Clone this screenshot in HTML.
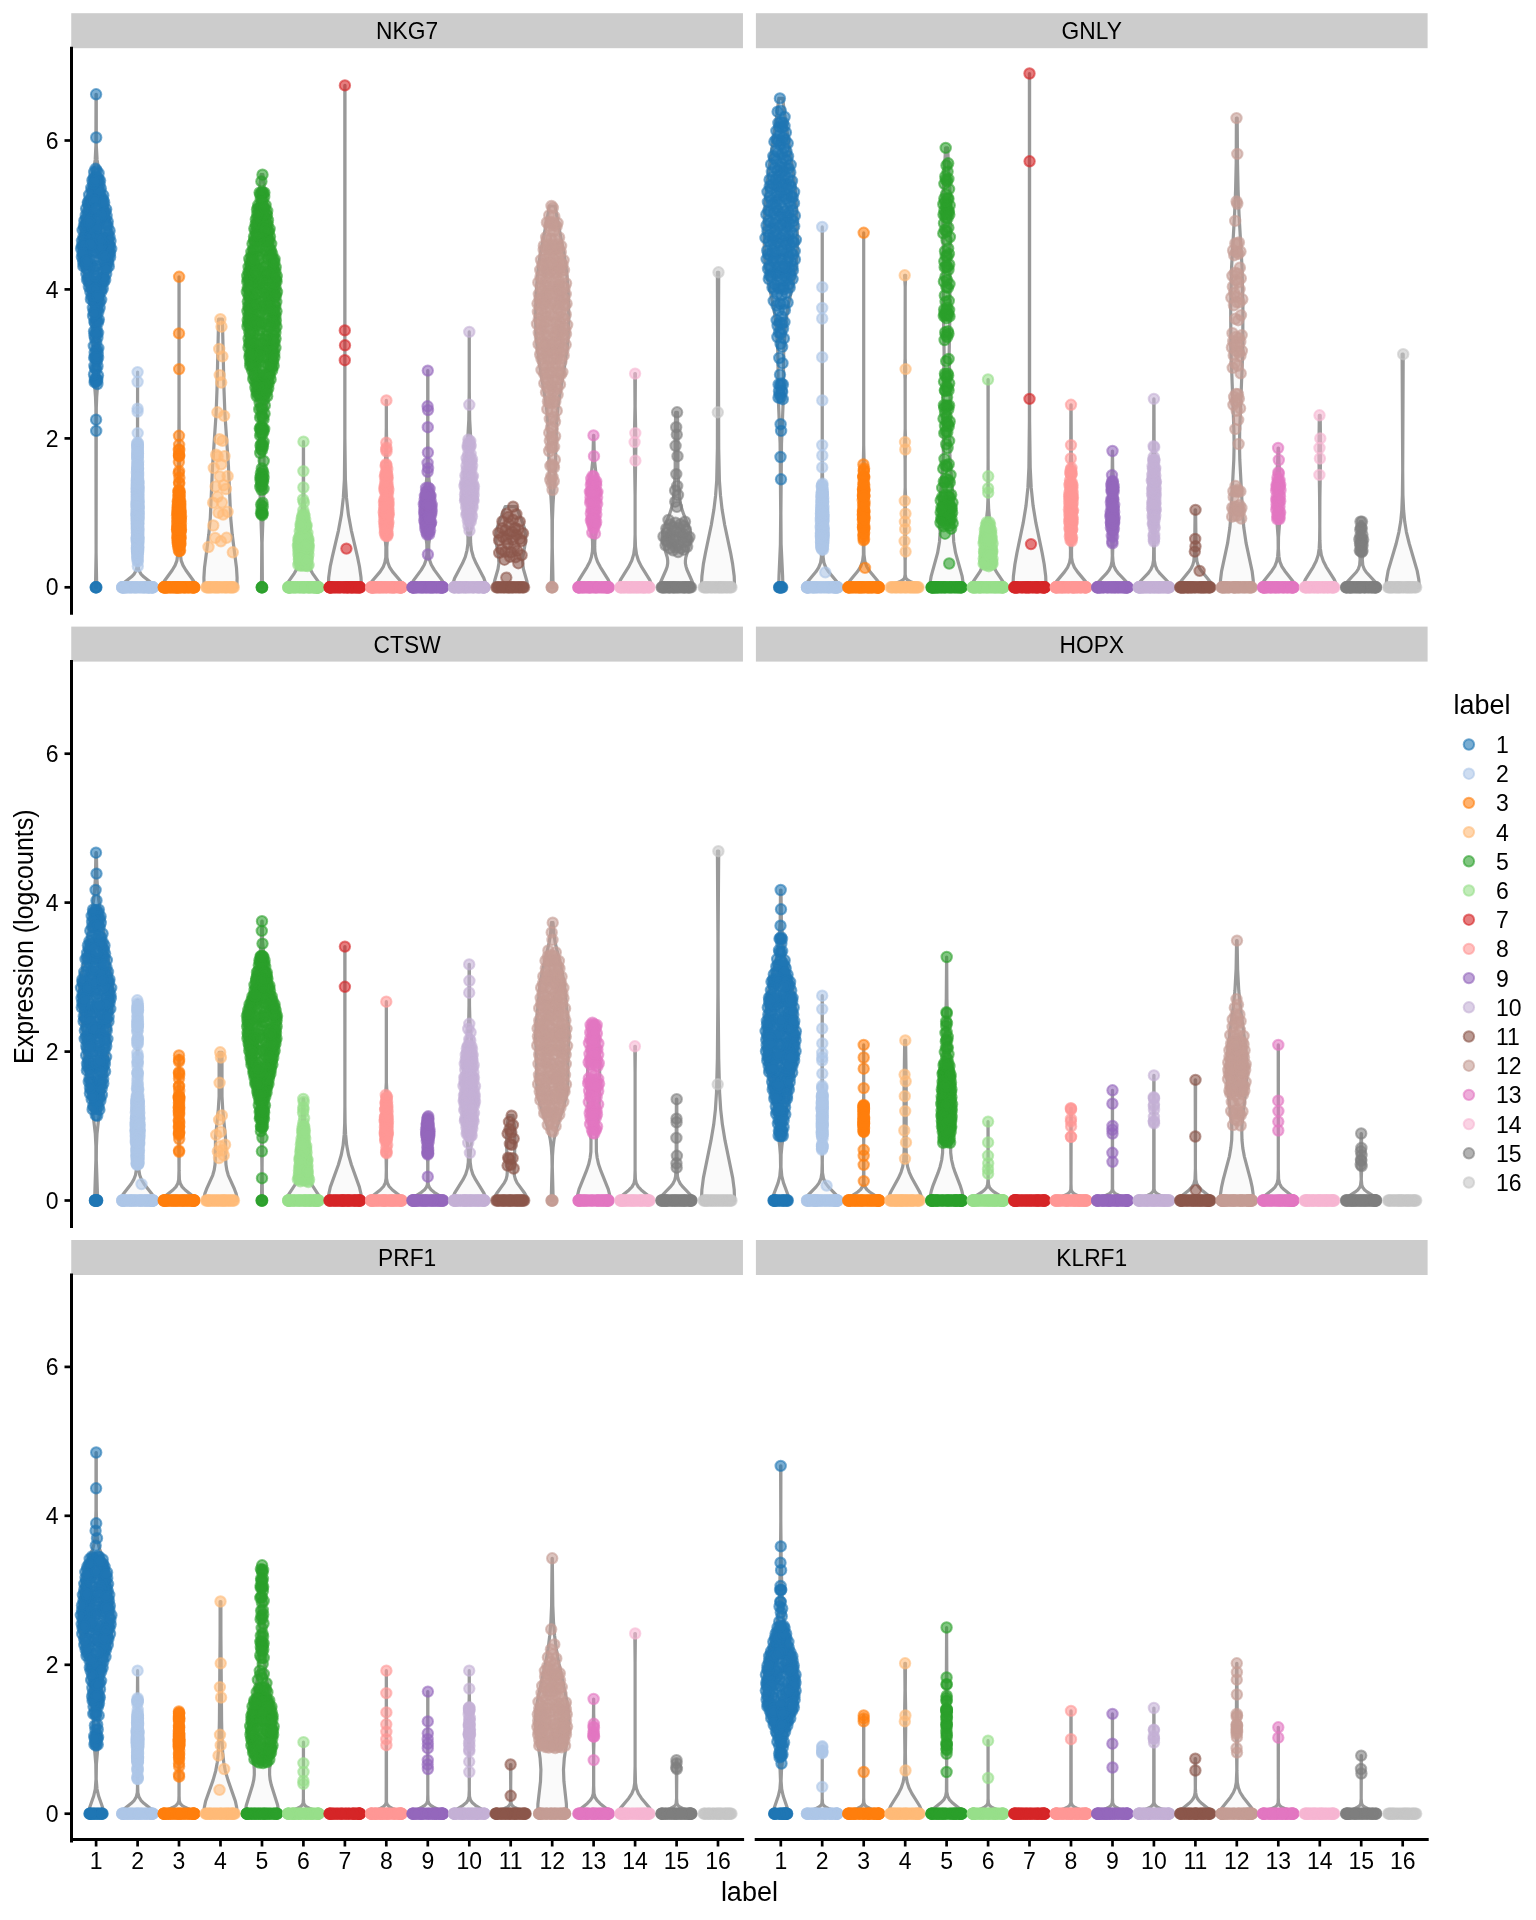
<!DOCTYPE html>
<html><head><meta charset="utf-8"><style>
html,body{margin:0;padding:0;background:#fff;}
svg{display:block;will-change:transform;}
text{font-family:"Liberation Sans",sans-serif;fill:#000;}
.st{font-size:24px;text-anchor:middle;}
.yt{font-size:23px;text-anchor:end;}
.xt{font-size:23px;text-anchor:middle;}
.at{font-size:27px;text-anchor:middle;}
.lt{font-size:27px;}
.ll{font-size:23px;}
.pt circle{r:5.2px;fill-opacity:0.6;stroke-opacity:0.6;stroke-width:2.0px;}
</style></head><body>
<svg width="1536" height="1920" viewBox="0 0 1536 1920">
<rect x="0" y="0" width="1536" height="1920" fill="#fff"/><rect x="71.25" y="13.20" width="671.70" height="35.0" fill="#cccccc"/><text transform="translate(407.10,39.10) scale(0.95,1)" class="st">NKG7</text><rect x="755.90" y="13.20" width="671.70" height="35.0" fill="#cccccc"/><text transform="translate(1091.75,39.10) scale(0.95,1)" class="st">GNLY</text><rect x="71.25" y="626.60" width="671.70" height="35.0" fill="#cccccc"/><text transform="translate(407.10,652.50) scale(0.95,1)" class="st">CTSW</text><rect x="755.90" y="626.60" width="671.70" height="35.0" fill="#cccccc"/><text transform="translate(1091.75,652.50) scale(0.95,1)" class="st">HOPX</text><rect x="71.25" y="1240.00" width="671.70" height="35.0" fill="#cccccc"/><text transform="translate(407.10,1265.90) scale(0.95,1)" class="st">PRF1</text><rect x="755.90" y="1240.00" width="671.70" height="35.0" fill="#cccccc"/><text transform="translate(1091.75,1265.90) scale(0.95,1)" class="st">KLRF1</text><g fill="#fafafa" stroke="#999999" stroke-width="3.2" stroke-linejoin="round"><polygon points="95.5,587.3 96.1,552.6 95.9,407.9 95.5,397.2 93.6,372.2 93.5,338.4 93.2,326.8 92.2,312.3 90.7,300.8 88.2,289.2 81.0,261.2 79.8,254.5 79.5,248.7 80.3,239.0 83.9,214.9 86.0,204.3 92.8,174.4 95.2,159.9 95.9,145.4 96.0,94.3 96.3,94.3 96.3,145.4 97.1,159.9 99.5,174.4 106.3,204.3 108.4,214.9 112.0,239.0 112.7,248.7 112.4,254.5 111.3,261.2 104.0,289.2 101.6,300.8 100.0,312.3 99.0,326.8 98.7,338.4 98.6,372.2 96.7,397.2 96.3,407.9 96.1,552.6 96.7,587.3"/><polygon points="121.0,587.3 121.4,585.6 123.0,583.5 131.5,576.8 134.3,573.8 136.4,570.0 137.2,565.8 136.5,542.7 136.3,510.6 137.5,430.2 137.6,372.1 137.6,372.1 137.6,430.2 138.9,510.6 138.6,542.7 138.0,565.8 138.8,570.0 140.8,573.8 143.7,576.8 152.2,583.5 153.8,585.6 154.2,587.3"/><polygon points="162.4,587.3 162.9,584.3 164.2,581.2 172.2,570.3 175.1,565.4 176.9,560.6 177.7,554.5 176.7,522.9 177.0,510.1 178.4,484.6 178.7,471.2 179.0,412.9 179.0,276.8 179.1,276.8 179.1,412.9 179.4,471.2 179.7,484.6 181.1,510.1 181.4,522.9 180.4,554.5 181.2,560.6 183.0,565.4 185.9,570.3 193.8,581.2 195.2,584.3 195.6,587.3"/><polygon points="204.1,587.3 203.9,577.9 204.5,567.9 208.8,534.3 210.3,518.0 212.5,467.2 216.1,413.6 217.0,389.5 218.6,319.2 222.4,319.2 224.0,389.5 224.9,413.6 228.5,467.2 230.7,518.0 232.2,534.3 236.5,567.9 237.1,577.9 236.9,587.3"/><polygon points="261.5,587.3 261.8,542.9 259.9,488.8 260.0,453.3 259.0,418.6 258.2,408.9 256.9,400.0 255.0,391.1 249.8,369.3 247.7,356.4 246.1,324.9 245.4,283.7 245.6,276.5 246.4,269.2 251.9,240.1 255.0,217.5 259.4,190.9 261.0,174.7 262.9,174.7 264.6,190.9 268.9,217.5 272.0,240.1 277.6,269.2 278.3,276.5 278.6,283.7 277.8,324.9 276.2,356.4 274.1,369.3 268.9,391.1 267.1,400.0 265.8,408.9 265.0,418.6 264.0,453.3 264.0,488.8 262.1,542.9 262.4,587.3"/><polygon points="286.8,587.3 287.1,584.7 288.3,581.9 294.3,573.3 296.3,569.9 297.4,567.1 298.0,563.9 298.1,559.7 297.4,548.3 297.5,542.3 301.7,514.1 303.0,499.5 303.3,483.9 303.4,441.7 303.5,441.7 303.6,483.9 303.9,499.5 305.1,514.1 309.3,542.3 309.5,548.3 308.7,559.7 308.9,563.9 309.5,567.1 310.6,569.9 312.5,573.3 318.5,581.9 319.7,584.7 320.0,587.3"/><polygon points="328.3,587.3 328.7,577.5 330.2,566.7 332.3,556.9 338.5,530.3 341.4,514.6 343.3,497.9 344.4,479.3 344.8,439.0 344.8,85.4 345.0,85.4 344.9,439.0 345.4,479.3 346.5,497.9 348.4,514.6 351.3,530.3 357.5,556.9 359.5,566.7 361.0,577.5 361.5,587.3"/><polygon points="369.7,587.3 370.2,584.7 371.6,581.8 380.2,571.6 383.1,567.2 384.9,562.4 385.8,557.3 385.9,547.1 383.8,523.3 383.4,510.8 384.2,485.2 385.8,454.2 386.3,427.8 386.3,400.4 386.4,400.4 386.4,427.8 386.8,454.2 388.4,485.2 389.3,510.8 388.9,523.3 386.8,547.1 386.9,557.3 387.8,562.4 389.6,567.2 392.5,571.6 401.1,581.8 402.5,584.7 402.9,587.3"/><polygon points="411.2,587.3 411.7,584.3 413.2,580.9 421.3,569.9 424.3,564.8 426.1,559.7 427.0,554.2 426.8,544.0 423.8,521.1 423.3,510.5 423.9,500.4 426.6,479.6 427.3,468.1 427.7,441.8 427.7,370.6 427.9,370.6 427.9,441.8 428.3,468.1 429.0,479.6 431.7,500.4 432.3,510.5 431.8,521.1 428.8,544.0 428.7,554.2 429.5,559.7 431.3,564.8 434.3,569.9 442.4,580.9 444.0,584.3 444.4,587.3"/><polygon points="452.7,587.3 453.2,582.8 454.6,578.3 462.5,563.3 465.3,556.8 467.0,550.3 467.9,543.8 468.0,538.3 467.7,531.8 464.6,503.8 464.0,490.3 464.5,478.8 467.7,439.8 468.8,419.8 469.2,390.9 469.2,331.9 469.3,331.9 469.3,390.9 469.7,419.8 470.8,439.8 474.0,478.8 474.5,490.3 473.9,503.8 470.8,531.8 470.5,538.3 470.7,543.8 471.5,550.3 473.3,556.8 476.1,563.3 483.9,578.3 485.4,582.8 485.9,587.3"/><polygon points="494.3,587.3 494.1,584.5 494.5,581.3 498.0,569.0 498.9,562.9 498.5,556.9 496.0,541.7 495.8,537.3 496.1,532.9 497.0,528.5 498.5,523.6 505.2,506.7 516.2,506.7 523.0,523.6 524.5,528.5 525.3,532.9 525.6,537.3 525.5,541.7 522.9,556.9 522.6,562.9 523.4,569.0 526.9,581.3 527.3,584.5 527.2,587.3"/><polygon points="551.3,587.3 552.1,547.0 552.0,520.1 551.4,504.5 549.2,469.4 547.8,422.4 547.0,411.9 545.7,401.5 539.5,364.2 537.3,348.5 536.0,333.6 535.6,317.2 536.2,292.5 537.2,279.1 538.4,267.2 540.7,252.2 546.8,220.9 549.4,206.0 555.0,206.0 557.6,220.9 563.7,252.2 566.0,267.2 567.2,279.1 568.2,292.5 568.8,317.2 568.3,333.6 567.1,348.5 564.9,364.2 558.6,401.5 557.4,411.9 556.6,422.4 555.2,469.4 553.0,504.5 552.4,520.1 552.3,547.0 553.1,587.3"/><polygon points="577.0,587.3 577.5,583.7 579.0,579.9 587.0,567.1 589.8,561.7 591.4,557.0 592.4,551.6 592.6,546.9 592.5,541.2 589.9,513.3 589.3,497.5 589.9,486.5 592.9,459.8 593.5,435.4 593.8,435.4 594.4,459.8 597.4,486.5 598.0,497.5 597.4,513.3 594.8,541.2 594.7,546.9 594.9,551.6 595.9,557.0 597.5,561.7 600.3,567.1 608.3,579.9 609.8,583.7 610.2,587.3"/><polygon points="618.5,587.3 619.0,583.5 620.5,579.8 628.9,566.4 631.8,560.5 633.7,554.3 634.7,546.7 635.1,534.6 635.1,495.7 634.3,442.6 635.0,406.2 634.8,373.6 635.4,373.6 635.2,406.2 635.9,442.6 635.1,495.7 635.1,534.6 635.5,546.7 636.5,554.3 638.4,560.5 641.3,566.4 649.7,579.8 651.2,583.5 651.7,587.3"/><polygon points="660.0,587.3 660.1,584.6 660.9,581.5 666.2,569.5 667.2,566.4 667.7,563.3 667.7,560.6 667.3,557.5 663.0,543.1 662.4,539.4 662.3,535.9 662.8,532.2 663.9,528.1 669.5,514.4 671.4,508.5 672.7,503.1 673.7,496.5 674.6,484.9 675.2,469.1 675.2,433.2 675.7,412.3 677.4,412.3 677.9,433.2 677.9,469.1 678.6,484.9 679.5,496.5 680.4,503.1 681.7,508.5 683.7,514.4 689.3,528.1 690.4,532.2 690.9,535.9 690.8,539.4 690.1,543.1 685.8,557.5 685.4,560.6 685.4,563.3 686.0,566.4 686.9,569.5 692.2,581.5 693.0,584.6 693.2,587.3"/><polygon points="701.4,587.3 701.9,576.2 703.4,563.9 705.5,552.8 711.3,525.0 713.9,509.6 715.6,495.4 716.7,480.7 717.4,448.6 717.6,342.6 717.4,272.3 718.7,272.3 718.4,342.6 718.7,448.6 719.4,480.7 720.5,495.4 722.1,509.6 724.7,525.0 730.6,552.8 732.6,563.9 734.2,576.2 734.6,587.3"/><polygon points="778.7,587.3 779.0,575.8 780.4,544.2 780.7,513.6 780.1,443.8 778.1,393.1 778.0,361.5 777.7,349.1 776.5,329.9 774.5,312.7 772.2,300.3 767.3,277.3 765.4,265.8 764.5,254.4 764.2,241.0 764.8,211.3 766.3,190.3 768.2,175.0 776.8,115.6 778.8,98.4 782.7,98.4 784.8,115.6 793.4,175.0 795.3,190.3 796.7,211.3 797.4,241.0 797.1,254.4 796.1,265.8 794.3,277.3 789.3,300.3 787.1,312.7 785.1,329.9 783.8,349.1 783.5,361.5 783.5,393.1 781.5,443.8 780.9,513.6 781.1,544.2 782.6,575.8 782.9,587.3"/><polygon points="805.6,587.3 806.2,584.5 807.6,581.7 815.9,571.8 818.6,567.6 820.6,562.6 821.4,557.0 820.5,528.8 820.8,508.3 821.9,479.4 822.2,465.3 822.2,226.9 822.3,226.9 822.3,465.3 822.6,479.4 823.7,508.3 824.0,528.8 823.1,557.0 823.9,562.6 825.8,567.6 828.6,571.8 836.9,581.7 838.3,584.5 838.8,587.3"/><polygon points="847.1,587.3 847.6,584.5 849.0,581.8 857.7,571.3 860.7,566.5 862.6,560.9 863.4,554.7 863.4,546.4 862.6,511.0 862.7,490.2 863.7,445.1 863.7,232.8 863.7,232.8 863.7,445.1 864.7,490.2 864.8,511.0 863.9,546.4 864.0,554.7 864.8,560.9 866.7,566.5 869.7,571.3 878.4,581.8 879.8,584.5 880.3,587.3"/><polygon points="888.6,587.3 888.8,586.7 890.4,585.5 899.6,581.8 902.8,580.0 904.0,578.8 904.6,577.5 905.1,574.5 905.1,560.4 904.6,551.9 904.8,534.8 904.5,523.2 904.9,507.3 904.6,500.6 905.2,487.2 905.1,459.1 904.5,446.9 905.2,428.5 905.1,379.1 904.6,369.3 905.1,358.3 905.2,286.9 904.6,275.3 905.7,275.3 905.2,286.9 905.2,358.3 905.7,369.3 905.2,379.1 905.2,428.5 905.8,446.9 905.2,459.1 905.2,487.2 905.7,500.6 905.4,507.3 905.8,523.2 905.5,534.8 905.7,551.9 905.2,560.4 905.2,574.5 905.7,577.5 906.3,578.8 907.6,580.0 910.7,581.8 919.9,585.5 921.5,586.7 921.8,587.3"/><polygon points="930.0,587.3 930.2,582.1 931.2,576.1 937.6,552.9 939.5,541.7 940.1,532.3 939.8,511.6 939.9,501.3 942.6,468.6 943.3,455.7 943.5,441.1 943.2,401.6 944.1,352.6 943.3,309.6 943.4,259.7 942.8,209.8 943.3,190.1 945.6,147.9 947.6,147.9 949.9,190.1 950.5,209.8 949.9,259.7 950.0,309.6 949.2,352.6 950.1,401.6 949.7,441.1 949.9,455.7 950.7,468.6 953.3,501.3 953.5,511.6 953.2,532.3 953.7,541.7 955.6,552.9 962.1,576.1 963.0,582.1 963.2,587.3"/><polygon points="971.5,587.3 971.7,584.9 972.7,582.4 980.1,571.4 981.6,568.2 982.6,564.9 983.1,560.1 983.1,546.6 983.5,538.1 984.4,531.2 986.7,517.0 987.5,510.0 987.9,500.3 988.1,458.4 988.0,379.5 988.2,379.5 988.1,458.4 988.3,500.3 988.7,510.0 989.4,517.0 991.8,531.2 992.6,538.1 993.1,546.6 993.0,560.1 993.6,564.9 994.5,568.2 996.1,571.4 1003.5,582.4 1004.4,584.9 1004.7,587.3"/><polygon points="1012.9,587.3 1013.4,576.2 1014.9,564.2 1016.9,553.1 1023.2,522.9 1026.0,505.8 1027.9,487.7 1028.9,467.6 1029.4,421.4 1029.4,73.5 1029.6,73.5 1029.6,421.4 1030.2,467.6 1031.2,487.7 1033.1,505.8 1035.9,522.9 1042.2,553.1 1044.2,564.2 1045.7,576.2 1046.1,587.3"/><polygon points="1054.4,587.3 1054.9,584.4 1056.4,581.6 1064.5,571.9 1067.6,567.3 1069.5,562.7 1070.4,557.7 1070.5,549.8 1068.9,523.7 1068.6,502.7 1068.8,491.6 1070.7,455.2 1070.9,404.8 1071.1,404.8 1071.3,455.2 1073.1,491.6 1073.4,502.7 1073.1,523.7 1071.5,549.8 1071.6,557.7 1072.5,562.7 1074.4,567.3 1077.5,571.9 1085.6,581.6 1087.1,584.4 1087.6,587.3"/><polygon points="1095.9,587.3 1096.4,584.9 1097.8,582.5 1106.3,573.7 1109.1,570.0 1111.0,566.0 1112.0,561.4 1112.3,555.6 1112.1,546.8 1110.3,523.8 1110.0,516.6 1111.0,487.0 1112.2,467.8 1112.4,451.0 1112.5,451.0 1112.7,467.8 1113.9,487.0 1114.9,516.6 1114.7,523.8 1112.8,546.8 1112.6,555.6 1113.0,561.4 1113.9,566.0 1115.8,570.0 1118.6,573.7 1127.1,582.5 1128.6,584.9 1129.1,587.3"/><polygon points="1137.3,587.3 1137.7,585.1 1139.2,582.5 1147.8,573.7 1150.8,569.6 1152.6,565.5 1153.5,560.4 1153.7,549.3 1151.8,508.8 1151.5,487.4 1151.8,476.0 1153.7,440.9 1153.8,398.9 1154.0,398.9 1154.1,440.9 1156.0,476.0 1156.3,487.4 1156.1,508.8 1154.2,549.3 1154.3,560.4 1155.3,565.5 1157.0,569.6 1160.1,573.7 1168.6,582.5 1170.1,585.1 1170.5,587.3"/><polygon points="1178.8,587.3 1179.2,584.6 1180.8,581.5 1188.5,572.1 1191.1,568.4 1192.8,564.9 1193.8,561.2 1194.6,553.0 1195.1,509.9 1195.6,509.9 1196.1,553.0 1196.9,561.2 1198.0,564.9 1199.6,568.4 1202.3,572.1 1210.0,581.5 1211.5,584.6 1212.0,587.3"/><polygon points="1220.2,587.3 1220.5,580.0 1221.5,571.7 1227.6,543.2 1229.9,527.6 1231.1,512.9 1233.8,459.7 1234.1,445.0 1233.9,430.3 1230.9,349.5 1230.7,306.4 1231.6,266.9 1234.6,213.6 1235.6,189.8 1236.2,163.1 1236.4,118.1 1237.2,118.1 1237.5,163.1 1238.1,189.8 1239.0,213.6 1242.0,266.9 1242.9,306.4 1242.8,349.5 1239.7,430.3 1239.5,445.0 1239.8,459.7 1242.6,512.9 1243.8,527.6 1246.1,543.2 1252.2,571.7 1253.2,580.0 1253.4,587.3"/><polygon points="1261.7,587.3 1262.2,584.3 1263.7,581.3 1271.8,570.9 1274.8,566.3 1276.6,561.7 1277.7,556.2 1278.2,548.6 1278.1,537.2 1276.0,509.4 1275.6,495.7 1275.9,485.1 1277.6,463.3 1278.1,448.0 1278.5,448.0 1279.0,463.3 1280.7,485.1 1281.0,495.7 1280.6,509.4 1278.5,537.2 1278.4,548.6 1278.9,556.2 1279.9,561.7 1281.8,566.3 1284.8,570.9 1292.9,581.3 1294.4,584.3 1294.9,587.3"/><polygon points="1303.2,587.3 1303.7,583.6 1305.3,579.6 1313.3,566.8 1316.2,561.0 1318.2,555.0 1319.2,548.2 1319.6,540.2 1319.8,526.0 1319.6,497.4 1318.9,453.0 1319.3,415.3 1320.2,415.3 1320.6,453.0 1319.9,497.4 1319.8,526.0 1319.9,540.2 1320.3,548.2 1321.3,555.0 1323.3,561.0 1326.2,566.8 1334.3,579.6 1335.9,583.6 1336.4,587.3"/><polygon points="1344.6,587.3 1345.0,585.2 1346.1,583.1 1356.4,572.0 1358.4,568.8 1359.6,565.3 1360.1,559.3 1359.1,546.7 1358.9,540.2 1360.2,521.6 1362.2,521.6 1363.5,540.2 1363.4,546.7 1362.3,559.3 1362.8,565.3 1364.1,568.8 1366.1,572.0 1376.3,583.1 1377.4,585.2 1377.8,587.3"/><polygon points="1386.1,587.3 1386.6,579.5 1388.1,570.9 1396.2,543.5 1398.9,532.1 1400.7,521.6 1401.8,510.2 1402.4,494.7 1402.7,470.5 1402.1,354.2 1403.2,354.2 1402.7,470.5 1402.9,494.7 1403.6,510.2 1404.7,521.6 1406.4,532.1 1409.2,543.5 1417.2,570.9 1418.8,579.5 1419.3,587.3"/><polygon points="94.6,1200.5 95.9,1159.7 95.9,1146.1 95.3,1133.8 93.5,1118.2 88.6,1089.6 86.4,1073.9 85.2,1061.0 83.1,1031.0 79.9,1003.8 79.5,994.3 79.8,987.5 80.7,980.0 87.9,938.5 94.0,897.0 95.4,878.6 95.9,852.7 96.4,852.7 96.9,878.6 98.3,897.0 104.4,938.5 111.6,980.0 112.4,987.5 112.7,994.3 112.3,1003.8 109.2,1031.0 107.1,1061.0 105.8,1073.9 103.7,1089.6 98.7,1118.2 97.0,1133.8 96.4,1146.1 96.3,1159.7 97.7,1200.5"/><polygon points="121.0,1200.5 121.4,1197.8 122.9,1194.6 131.1,1184.0 133.7,1179.7 135.5,1175.0 136.3,1169.9 136.4,1162.9 135.4,1138.6 135.2,1127.2 137.2,1075.5 137.1,1019.1 137.3,1000.3 137.9,1000.3 138.1,1019.1 138.0,1075.5 140.0,1127.2 139.8,1138.6 138.8,1162.9 138.9,1169.9 139.7,1175.0 141.5,1179.7 144.1,1184.0 152.3,1194.6 153.8,1197.8 154.2,1200.5"/><polygon points="162.4,1200.5 162.9,1198.8 164.4,1196.8 172.9,1190.0 175.9,1186.9 177.8,1183.5 178.7,1179.5 179.0,1170.4 178.6,1102.0 179.0,1055.4 179.1,1055.4 179.5,1102.0 179.1,1170.4 179.4,1179.5 180.3,1183.5 182.2,1186.9 185.2,1190.0 193.7,1196.8 195.2,1198.8 195.6,1200.5"/><polygon points="203.9,1200.5 204.2,1197.0 205.0,1193.2 206.5,1189.2 212.7,1175.3 214.2,1170.0 215.0,1164.8 215.3,1159.3 215.5,1137.9 218.3,1109.1 219.1,1096.4 219.1,1052.3 222.0,1052.3 222.0,1096.4 222.7,1109.1 225.5,1137.9 225.7,1159.3 226.0,1164.8 226.8,1170.0 228.3,1175.3 234.5,1189.2 236.0,1193.2 236.9,1197.0 237.1,1200.5"/><polygon points="261.5,1200.5 261.9,1167.7 261.6,1145.3 261.1,1135.5 258.5,1105.4 257.0,1095.0 250.9,1066.6 247.1,1045.8 246.1,1036.5 245.4,1019.6 245.6,1014.7 246.4,1010.3 253.0,989.6 259.9,954.6 261.4,941.5 261.8,921.2 262.2,921.2 262.5,941.5 264.0,954.6 271.0,989.6 277.6,1010.3 278.3,1014.7 278.6,1019.6 277.9,1036.5 276.8,1045.8 273.0,1066.6 266.9,1095.0 265.4,1105.4 262.8,1135.5 262.3,1145.3 262.1,1167.7 262.4,1200.5"/><polygon points="286.8,1200.5 287.1,1198.1 287.9,1195.7 295.5,1184.0 297.0,1180.4 297.9,1176.7 299.0,1158.4 302.2,1124.5 303.1,1099.0 303.7,1099.0 304.6,1124.5 307.8,1158.4 308.9,1176.7 309.8,1180.4 311.4,1184.0 318.9,1195.7 319.8,1198.1 320.0,1200.5"/><polygon points="328.3,1200.5 328.8,1194.0 330.3,1187.1 338.4,1164.7 341.3,1154.8 343.1,1145.3 344.2,1134.4 344.7,1123.0 344.9,1105.6 344.8,946.6 345.0,946.6 344.9,1105.6 345.1,1123.0 345.6,1134.4 346.7,1145.3 348.5,1154.8 351.4,1164.7 359.4,1187.1 361.0,1194.0 361.5,1200.5"/><polygon points="369.7,1200.5 370.3,1198.6 371.9,1196.6 380.2,1190.0 383.5,1186.5 385.3,1183.0 386.1,1178.3 386.3,1169.8 386.1,1156.5 384.5,1134.4 384.4,1127.3 384.7,1111.8 386.3,1082.6 386.3,1001.7 386.4,1001.7 386.4,1082.6 388.0,1111.8 388.3,1127.3 388.1,1134.4 386.6,1156.5 386.4,1169.8 386.5,1178.3 387.4,1183.0 389.2,1186.5 392.5,1190.0 400.8,1196.6 402.4,1198.6 402.9,1200.5"/><polygon points="411.2,1200.5 411.7,1199.0 413.1,1197.5 421.4,1192.3 424.5,1189.8 426.4,1187.3 427.4,1184.4 427.7,1179.6 427.7,1162.9 426.9,1145.5 425.8,1132.3 427.2,1116.3 428.5,1116.3 429.8,1132.3 428.7,1145.5 427.9,1162.9 427.9,1179.6 428.3,1184.4 429.3,1187.3 431.1,1189.8 434.2,1192.3 442.5,1197.5 443.9,1199.0 444.4,1200.5"/><polygon points="452.7,1200.5 453.2,1196.8 454.6,1193.1 463.0,1179.7 465.7,1174.2 467.4,1168.6 468.3,1162.2 468.4,1156.6 468.1,1149.7 463.8,1115.0 463.0,1105.3 462.8,1096.1 463.2,1084.1 464.4,1063.3 467.7,1033.7 468.7,1020.8 469.0,1005.5 469.1,964.4 469.4,964.4 469.5,1005.5 469.9,1020.8 470.8,1033.7 474.1,1063.3 475.4,1084.1 475.7,1096.1 475.5,1105.3 474.8,1115.0 470.5,1149.7 470.1,1156.6 470.2,1162.2 471.1,1168.6 472.8,1174.2 475.6,1179.7 483.9,1193.1 485.4,1196.8 485.9,1200.5"/><polygon points="494.1,1200.5 494.5,1198.0 495.4,1195.5 497.2,1192.7 504.3,1182.9 506.1,1179.3 507.0,1175.6 507.4,1170.5 506.8,1157.4 506.7,1133.1 507.2,1125.4 508.5,1115.7 513.0,1115.7 514.3,1125.4 514.8,1133.1 514.6,1157.4 514.1,1170.5 514.4,1175.6 515.4,1179.3 517.1,1182.9 524.3,1192.7 526.0,1195.5 527.0,1198.0 527.3,1200.5"/><polygon points="551.2,1200.5 552.1,1166.8 551.9,1155.9 551.3,1147.2 550.2,1139.1 548.5,1130.9 546.2,1122.8 540.0,1103.7 538.5,1097.8 537.5,1092.3 536.8,1083.6 536.7,1062.4 535.6,1036.3 536.1,1026.0 540.0,984.7 542.4,971.1 549.2,942.3 550.6,933.1 551.4,922.7 553.0,922.7 553.8,933.1 555.1,942.3 561.9,971.1 564.4,984.7 568.3,1026.0 568.8,1036.3 567.7,1062.4 567.6,1083.6 566.9,1092.3 565.9,1097.8 564.4,1103.7 558.2,1122.8 555.9,1130.9 554.1,1139.1 553.1,1147.2 552.5,1155.9 552.3,1166.8 553.2,1200.5"/><polygon points="577.0,1200.5 577.5,1195.3 579.0,1189.4 586.3,1171.2 588.7,1164.3 590.1,1158.0 590.9,1151.7 591.0,1140.3 588.2,1105.4 587.5,1080.4 588.1,1049.0 588.9,1036.5 590.3,1022.6 597.0,1022.6 598.4,1036.5 599.2,1049.0 599.8,1080.4 599.1,1105.4 596.3,1140.3 596.4,1151.7 597.2,1158.0 598.6,1164.3 601.0,1171.2 608.3,1189.4 609.8,1195.3 610.2,1200.5"/><polygon points="618.5,1200.5 619.0,1198.7 620.4,1196.9 629.0,1189.9 632.0,1186.9 634.0,1183.3 634.8,1179.1 635.1,1170.3 635.1,1072.6 634.8,1046.3 635.4,1046.3 635.1,1072.6 635.1,1170.3 635.4,1179.1 636.3,1183.3 638.3,1186.9 641.2,1189.9 649.9,1196.9 651.2,1198.7 651.7,1200.5"/><polygon points="660.0,1200.5 660.5,1198.1 662.0,1195.5 670.1,1187.2 672.9,1183.7 674.7,1180.1 675.6,1176.3 676.1,1169.2 676.4,1099.2 676.8,1099.2 677.0,1169.2 677.5,1176.3 678.5,1180.1 680.3,1183.7 683.1,1187.2 691.1,1195.5 692.7,1198.1 693.2,1200.5"/><polygon points="701.4,1200.5 701.9,1189.6 703.4,1177.9 711.0,1140.4 713.7,1124.6 715.4,1109.6 716.5,1092.5 717.4,1058.3 717.9,994.1 717.9,938.7 717.4,851.2 718.7,851.2 718.1,938.7 718.1,994.1 718.7,1058.3 719.6,1092.5 720.7,1109.6 722.4,1124.6 725.0,1140.4 732.7,1177.9 734.2,1189.6 734.6,1200.5"/><polygon points="772.7,1200.5 773.5,1195.0 778.1,1182.9 779.8,1176.2 780.6,1167.1 780.4,1154.9 779.6,1145.2 774.8,1108.1 770.2,1081.4 766.3,1064.4 765.1,1057.7 764.3,1048.6 764.2,1035.2 764.8,1026.1 767.0,1001.8 767.8,995.1 770.5,982.3 776.3,960.5 778.2,948.9 780.2,921.6 780.5,890.0 781.0,890.0 781.4,921.6 783.3,948.9 785.2,960.5 791.1,982.3 793.7,995.1 794.6,1001.8 796.8,1026.1 797.3,1035.2 797.2,1048.6 796.5,1057.7 795.3,1064.4 791.3,1081.4 786.7,1108.1 782.0,1145.2 781.1,1154.9 781.0,1167.1 781.8,1176.2 783.5,1182.9 788.0,1195.0 788.8,1200.5"/><polygon points="805.6,1200.5 806.1,1198.1 807.6,1195.7 816.1,1186.9 819.1,1182.9 821.0,1178.5 821.9,1172.8 822.2,1162.8 821.5,1111.1 822.1,1075.1 822.2,995.7 822.3,995.7 822.3,1075.1 823.0,1111.1 822.3,1162.8 822.5,1172.8 823.5,1178.5 825.4,1182.9 828.4,1186.9 836.9,1195.7 838.3,1198.1 838.8,1200.5"/><polygon points="847.1,1200.5 847.6,1199.0 849.1,1197.5 857.7,1192.0 860.6,1189.5 862.6,1186.5 863.5,1182.8 863.7,1142.3 863.1,1120.7 863.7,1094.2 863.7,1044.9 863.7,1044.9 863.7,1094.2 864.3,1120.7 863.7,1142.3 863.9,1182.8 864.8,1186.5 866.8,1189.5 869.7,1192.0 878.3,1197.5 879.8,1199.0 880.3,1200.5"/><polygon points="888.6,1200.5 889.0,1196.4 890.5,1192.4 898.3,1178.3 901.0,1172.3 902.7,1166.7 903.7,1160.4 904.2,1149.1 904.1,1085.5 904.7,1040.4 905.6,1040.4 906.2,1085.5 906.1,1149.1 906.6,1160.4 907.6,1166.7 909.3,1172.3 912.0,1178.3 919.9,1192.4 921.3,1196.4 921.8,1200.5"/><polygon points="930.0,1200.5 930.3,1195.7 931.3,1191.0 933.1,1185.3 938.0,1172.9 940.1,1166.7 941.7,1160.0 942.6,1152.8 942.7,1143.3 940.9,1117.6 940.6,1101.4 941.3,1086.1 944.4,1049.9 945.5,1029.9 946.3,998.4 946.6,957.0 946.7,957.0 946.9,998.4 947.7,1029.9 948.8,1049.9 951.9,1086.1 952.6,1101.4 952.4,1117.6 950.6,1143.3 950.7,1152.8 951.6,1160.0 953.2,1166.7 955.3,1172.9 960.1,1185.3 961.9,1191.0 962.9,1195.7 963.2,1200.5"/><polygon points="971.5,1200.5 972.0,1199.0 973.6,1197.4 981.8,1192.2 984.7,1189.8 986.6,1187.4 987.6,1184.6 988.0,1179.3 988.0,1121.6 988.1,1121.6 988.2,1179.3 988.6,1184.6 989.5,1187.4 991.4,1189.8 994.3,1192.2 1002.6,1197.4 1004.1,1199.0 1004.7,1200.5"/><polygon points="1054.4,1200.5 1054.9,1199.6 1056.2,1198.7 1064.8,1195.3 1068.0,1193.6 1069.9,1191.8 1070.8,1189.7 1071.0,1183.7 1070.8,1108.2 1071.2,1108.2 1071.0,1183.7 1071.2,1189.7 1072.1,1191.8 1074.0,1193.6 1077.2,1195.3 1085.8,1198.7 1087.1,1199.6 1087.6,1200.5"/><polygon points="1095.9,1200.5 1096.3,1199.6 1098.0,1198.6 1106.1,1195.3 1109.5,1193.6 1111.5,1191.7 1112.3,1189.3 1112.4,1090.3 1112.5,1090.3 1112.6,1189.3 1113.4,1191.7 1115.4,1193.6 1118.8,1195.3 1126.9,1198.6 1128.6,1199.6 1129.1,1200.5"/><polygon points="1137.3,1200.5 1137.9,1199.5 1139.5,1198.5 1147.5,1195.4 1150.9,1193.6 1152.9,1191.7 1153.7,1189.2 1153.8,1075.4 1154.0,1075.4 1154.1,1189.2 1154.9,1191.7 1157.0,1193.6 1160.3,1195.4 1168.4,1198.5 1170.0,1199.5 1170.5,1200.5"/><polygon points="1178.8,1200.5 1179.3,1198.6 1180.7,1196.7 1189.2,1189.9 1192.1,1186.8 1194.0,1183.5 1195.0,1179.5 1195.4,1168.2 1195.2,1079.9 1195.6,1079.9 1195.4,1168.2 1195.8,1179.5 1196.7,1183.5 1198.6,1186.8 1201.6,1189.9 1210.0,1196.7 1211.5,1198.6 1212.0,1200.5"/><polygon points="1220.2,1200.5 1220.5,1193.9 1221.6,1186.8 1223.2,1179.6 1229.4,1156.3 1230.8,1148.1 1231.7,1140.0 1231.9,1132.3 1231.6,1123.7 1227.4,1085.0 1226.9,1074.9 1226.9,1065.2 1228.1,1046.9 1233.0,1009.8 1234.9,991.0 1236.1,969.1 1236.6,940.6 1237.1,940.6 1237.6,969.1 1238.8,991.0 1240.7,1009.8 1245.5,1046.9 1246.8,1065.2 1246.8,1074.9 1246.2,1085.0 1242.1,1123.7 1241.8,1132.3 1242.0,1140.0 1242.8,1148.1 1244.3,1156.3 1250.5,1179.6 1252.1,1186.8 1253.1,1193.9 1253.4,1200.5"/><polygon points="1261.7,1200.5 1262.2,1198.7 1263.6,1196.8 1272.3,1189.8 1275.2,1186.8 1277.1,1183.4 1278.0,1179.2 1278.3,1169.1 1278.2,1044.9 1278.4,1044.9 1278.3,1169.1 1278.6,1179.2 1279.5,1183.4 1281.3,1186.8 1284.3,1189.8 1293.0,1196.8 1294.4,1198.7 1294.9,1200.5"/><polygon points="1344.6,1200.5 1345.1,1199.1 1346.6,1197.5 1354.9,1192.2 1357.7,1190.0 1359.6,1187.6 1360.6,1185.0 1361.2,1179.3 1360.5,1160.2 1361.1,1133.5 1361.4,1133.5 1361.9,1160.2 1361.3,1179.3 1361.8,1185.0 1362.8,1187.6 1364.7,1190.0 1367.6,1192.2 1375.8,1197.5 1377.3,1199.1 1377.8,1200.5"/><polygon points="88.7,1813.7 89.5,1808.0 93.7,1796.0 95.3,1789.0 96.0,1779.1 95.8,1764.2 93.8,1740.2 93.4,1717.6 91.8,1700.6 90.3,1679.4 88.3,1666.7 83.3,1646.9 81.4,1637.7 79.9,1626.4 79.5,1616.5 80.1,1607.3 83.1,1579.0 84.0,1573.4 86.2,1565.6 92.9,1548.6 94.2,1543.0 95.0,1537.3 95.5,1528.1 96.0,1509.8 96.0,1452.5 96.3,1452.5 96.3,1509.8 96.7,1528.1 97.2,1537.3 98.0,1543.0 99.4,1548.6 106.0,1565.6 108.2,1573.4 109.1,1579.0 112.1,1607.3 112.7,1616.5 112.3,1626.4 110.8,1637.7 109.0,1646.9 104.0,1666.7 101.9,1679.4 100.5,1700.6 98.9,1717.6 98.5,1740.2 96.4,1764.2 96.2,1779.1 97.0,1789.0 98.6,1796.0 102.8,1808.0 103.6,1813.7"/><polygon points="121.0,1813.7 121.4,1812.0 122.9,1810.1 131.3,1803.3 134.3,1800.3 136.3,1796.9 137.3,1792.7 137.5,1787.1 137.4,1773.1 136.4,1738.2 137.3,1709.3 137.6,1670.7 137.6,1670.7 137.9,1709.3 138.7,1738.2 137.8,1773.1 137.7,1787.1 137.9,1792.7 138.9,1796.9 140.9,1800.3 143.9,1803.3 152.3,1810.1 153.8,1812.0 154.2,1813.7"/><polygon points="162.4,1813.7 162.9,1812.7 164.3,1811.5 173.1,1807.3 176.0,1805.5 177.9,1803.3 178.8,1800.7 179.0,1795.9 179.0,1768.1 178.5,1741.2 178.9,1711.4 179.2,1711.4 179.5,1741.2 179.1,1768.1 179.1,1795.9 179.3,1800.7 180.1,1803.3 182.1,1805.5 185.0,1807.3 193.7,1811.5 195.2,1812.7 195.6,1813.7"/><polygon points="203.9,1813.7 204.3,1807.5 205.6,1801.2 213.1,1780.1 215.7,1770.9 217.3,1762.2 218.3,1752.6 219.0,1739.8 219.4,1721.1 220.1,1635.9 220.1,1601.5 220.9,1601.5 220.9,1635.9 221.6,1721.1 222.0,1739.8 222.7,1752.6 223.7,1762.2 225.3,1770.9 228.0,1780.1 235.4,1801.2 236.7,1807.5 237.1,1813.7"/><polygon points="245.4,1813.7 245.6,1809.3 246.4,1804.9 252.6,1785.0 253.8,1779.7 254.3,1774.8 254.3,1769.5 253.8,1763.6 249.4,1738.8 249.0,1732.5 248.9,1726.7 249.4,1720.4 250.2,1714.0 256.9,1682.4 258.3,1673.7 259.1,1664.9 259.8,1647.0 260.1,1589.6 260.8,1565.3 263.1,1565.3 263.8,1589.6 264.1,1647.0 264.8,1664.9 265.7,1673.7 267.0,1682.4 273.7,1714.0 274.6,1720.4 275.0,1726.7 275.0,1732.5 274.5,1738.8 270.2,1763.6 269.6,1769.5 269.6,1774.8 270.1,1779.7 271.3,1785.0 277.6,1804.9 278.3,1809.3 278.6,1813.7"/><polygon points="286.8,1813.7 287.2,1812.9 288.7,1811.9 297.1,1808.5 300.2,1807.0 302.1,1805.3 303.1,1803.2 303.4,1798.5 303.4,1742.2 303.5,1742.2 303.4,1798.5 303.7,1803.2 304.7,1805.3 306.7,1807.0 309.7,1808.5 318.2,1811.9 319.6,1812.9 320.0,1813.7"/><polygon points="369.7,1813.7 370.2,1812.9 371.9,1811.7 380.4,1808.4 383.5,1806.7 385.4,1804.7 386.2,1802.2 386.3,1670.7 386.4,1670.7 386.5,1802.2 387.3,1804.7 389.2,1806.7 392.3,1808.4 400.8,1811.7 402.5,1812.9 402.9,1813.7"/><polygon points="411.2,1813.7 411.6,1812.7 413.0,1811.5 422.0,1807.2 424.9,1805.3 426.8,1803.2 427.6,1800.6 427.8,1794.3 427.7,1691.6 427.9,1691.6 427.8,1794.3 428.0,1800.6 428.8,1803.2 430.7,1805.3 433.7,1807.2 442.6,1811.5 444.0,1812.7 444.4,1813.7"/><polygon points="452.7,1813.7 453.1,1812.3 454.7,1810.6 463.1,1805.3 466.2,1802.8 468.1,1800.0 469.0,1796.4 469.3,1789.6 469.1,1758.3 468.3,1730.3 469.2,1697.0 469.2,1670.7 469.3,1670.7 469.4,1697.0 470.2,1730.3 469.4,1758.3 469.3,1789.6 469.5,1796.4 470.4,1800.0 472.4,1802.8 475.4,1805.3 483.8,1810.6 485.4,1812.3 485.9,1813.7"/><polygon points="494.1,1813.7 494.7,1812.7 496.2,1811.8 504.5,1808.5 507.3,1807.1 509.2,1805.5 510.2,1803.8 510.6,1801.3 510.7,1786.9 510.5,1764.5 510.9,1764.5 510.7,1786.9 510.9,1801.3 511.2,1803.8 512.2,1805.5 514.1,1807.1 517.0,1808.5 525.3,1811.8 526.8,1812.7 527.3,1813.7"/><polygon points="537.8,1813.7 537.9,1804.2 540.5,1781.2 540.9,1769.7 540.1,1758.2 536.1,1731.2 535.6,1723.2 535.7,1715.7 536.4,1708.7 537.5,1701.2 546.1,1660.7 548.2,1648.2 549.7,1635.7 550.9,1621.8 551.6,1605.8 552.1,1558.3 552.3,1558.3 552.8,1605.8 553.5,1621.8 554.6,1635.7 556.2,1648.2 558.3,1660.7 566.9,1701.2 568.0,1708.7 568.6,1715.7 568.8,1723.2 568.3,1731.2 564.3,1758.2 563.5,1769.7 563.9,1781.2 566.4,1804.2 566.6,1813.7"/><polygon points="577.0,1813.7 577.5,1811.9 579.1,1809.9 587.3,1803.4 590.4,1800.2 592.3,1797.1 593.3,1793.3 593.6,1785.6 593.6,1752.0 593.0,1731.6 593.5,1713.8 593.6,1699.0 593.7,1699.0 593.7,1713.8 594.3,1731.6 593.7,1752.0 593.7,1785.6 594.0,1793.3 595.0,1797.1 596.9,1800.2 600.0,1803.4 608.2,1809.9 609.8,1811.9 610.2,1813.7"/><polygon points="618.5,1813.7 619.0,1810.9 620.5,1808.1 628.8,1798.2 631.8,1793.6 633.8,1788.7 634.7,1783.0 635.1,1766.1 635.1,1662.8 634.8,1633.5 635.4,1633.5 635.1,1662.8 635.1,1766.1 635.5,1783.0 636.5,1788.7 638.4,1793.6 641.4,1798.2 649.7,1808.1 651.2,1810.9 651.7,1813.7"/><polygon points="660.0,1813.7 660.5,1812.8 662.0,1811.8 670.4,1808.5 673.3,1807.0 675.2,1805.4 676.1,1803.6 676.6,1798.2 676.3,1760.1 676.9,1760.1 676.6,1798.2 677.0,1803.6 678.0,1805.4 679.8,1807.0 682.7,1808.5 691.2,1811.8 692.6,1812.8 693.2,1813.7"/><polygon points="773.4,1813.7 774.1,1808.3 778.3,1796.0 779.9,1789.2 780.5,1781.0 780.1,1770.1 777.9,1748.4 776.0,1736.8 773.5,1727.9 767.4,1710.9 765.5,1703.4 764.5,1694.6 764.2,1683.7 764.9,1672.8 766.4,1662.6 768.0,1655.8 773.1,1638.8 776.5,1625.9 778.2,1617.7 779.1,1609.5 780.4,1563.2 780.8,1520.4 780.6,1465.9 780.9,1465.9 780.8,1520.4 781.2,1563.2 782.4,1609.5 783.3,1617.7 785.0,1625.9 788.5,1638.8 793.5,1655.8 795.2,1662.6 796.7,1672.8 797.4,1683.7 797.1,1694.6 796.0,1703.4 794.1,1710.9 788.0,1727.9 785.5,1736.8 783.7,1748.4 781.5,1770.1 781.1,1781.0 781.7,1789.2 783.2,1796.0 787.4,1808.3 788.1,1813.7"/><polygon points="805.6,1813.7 806.1,1812.8 807.6,1811.9 816.2,1808.4 819.0,1807.0 821.0,1805.3 821.9,1803.3 822.2,1798.5 822.2,1746.3 822.3,1746.3 822.2,1798.5 822.6,1803.3 823.5,1805.3 825.5,1807.0 828.3,1808.4 836.9,1811.9 838.3,1812.8 838.8,1813.7"/><polygon points="847.1,1813.7 847.6,1812.7 849.2,1811.8 857.4,1808.5 860.8,1806.8 862.6,1805.0 863.5,1802.7 863.7,1797.7 863.6,1715.4 863.8,1715.4 863.7,1797.7 863.9,1802.7 864.8,1805.0 866.6,1806.8 870.0,1808.5 878.2,1811.8 879.8,1812.7 880.3,1813.7"/><polygon points="888.6,1813.7 889.1,1809.9 890.6,1806.0 898.5,1793.4 901.3,1787.8 903.1,1782.2 904.2,1776.0 904.7,1767.8 904.9,1752.2 904.5,1718.9 905.0,1689.8 904.8,1663.3 905.5,1663.3 905.3,1689.8 905.8,1718.9 905.4,1752.2 905.6,1767.8 906.1,1776.0 907.2,1782.2 909.0,1787.8 911.8,1793.4 919.7,1806.0 921.2,1809.9 921.8,1813.7"/><polygon points="930.0,1813.7 930.5,1811.9 931.9,1810.1 940.5,1803.1 943.7,1799.9 945.6,1796.2 946.4,1791.8 946.6,1765.2 946.2,1713.5 946.6,1627.5 946.6,1627.5 947.0,1713.5 946.7,1765.2 946.8,1791.8 947.7,1796.2 949.6,1799.9 952.7,1803.1 961.3,1810.1 962.7,1811.9 963.2,1813.7"/><polygon points="971.5,1813.7 971.9,1812.8 973.4,1811.8 982.0,1808.4 985.0,1806.8 986.9,1805.1 987.8,1803.1 988.1,1798.4 988.0,1740.7 988.1,1740.7 988.1,1798.4 988.4,1803.1 989.3,1805.1 991.1,1806.8 994.1,1808.4 1002.7,1811.8 1004.2,1812.8 1004.7,1813.7"/><polygon points="1054.4,1813.7 1054.8,1812.9 1056.2,1811.9 1064.8,1808.5 1067.9,1806.9 1069.9,1805.1 1070.8,1802.6 1070.9,1710.9 1071.1,1710.9 1071.2,1802.6 1072.1,1805.1 1074.1,1806.9 1077.2,1808.5 1085.7,1811.9 1087.2,1812.9 1087.6,1813.7"/><polygon points="1095.9,1813.7 1096.4,1812.7 1098.0,1811.7 1106.4,1808.4 1109.4,1806.9 1111.3,1805.1 1112.2,1802.8 1112.5,1797.7 1112.4,1713.9 1112.5,1713.9 1112.5,1797.7 1112.7,1802.8 1113.6,1805.1 1115.5,1806.9 1118.5,1808.4 1126.9,1811.7 1128.5,1812.7 1129.1,1813.7"/><polygon points="1137.3,1813.7 1137.7,1812.9 1139.3,1811.8 1147.6,1808.5 1150.8,1806.9 1152.8,1805.0 1153.7,1802.5 1153.8,1708.0 1154.0,1708.0 1154.1,1802.5 1155.0,1805.0 1157.0,1806.9 1160.2,1808.5 1168.6,1811.8 1170.1,1812.9 1170.5,1813.7"/><polygon points="1178.8,1813.7 1179.3,1811.9 1180.8,1809.9 1188.8,1803.6 1191.6,1800.9 1193.3,1798.5 1194.5,1795.8 1195.1,1792.7 1195.3,1788.2 1195.1,1758.6 1195.6,1758.6 1195.4,1788.2 1195.7,1792.7 1196.3,1795.8 1197.4,1798.5 1199.1,1800.9 1201.9,1803.6 1210.0,1809.9 1211.5,1811.9 1212.0,1813.7"/><polygon points="1220.2,1813.7 1220.7,1810.8 1222.3,1807.5 1230.5,1797.2 1233.4,1792.5 1235.3,1787.8 1236.3,1782.2 1236.8,1770.4 1236.3,1727.7 1236.7,1663.3 1236.9,1663.3 1237.3,1727.7 1236.9,1770.4 1237.3,1782.2 1238.4,1787.8 1240.2,1792.5 1243.2,1797.2 1251.3,1807.5 1252.9,1810.8 1253.4,1813.7"/><polygon points="1261.7,1813.7 1262.1,1812.9 1263.6,1811.8 1272.1,1808.5 1275.4,1806.8 1277.2,1805.1 1278.1,1802.9 1278.3,1797.8 1278.2,1727.3 1278.4,1727.3 1278.3,1797.8 1278.5,1802.9 1279.4,1805.1 1281.2,1806.8 1284.5,1808.5 1292.9,1811.8 1294.5,1812.9 1294.9,1813.7"/><polygon points="1344.6,1813.7 1345.1,1812.8 1346.7,1811.8 1355.0,1808.5 1357.9,1807.0 1359.8,1805.4 1360.8,1803.5 1361.2,1798.6 1361.1,1755.6 1361.4,1755.6 1361.2,1798.6 1361.6,1803.5 1362.6,1805.4 1364.5,1807.0 1367.4,1808.5 1375.7,1811.8 1377.3,1812.8 1377.8,1813.7"/></g><g class="pt"><g fill="#1F77B4" stroke="#1F77B4"><circle cx="97.3" cy="320.9" r="5.2"/><circle cx="91.3" cy="187.9" r="5.2"/><circle cx="108.3" cy="262.6" r="5.2"/><circle cx="109.6" cy="237.1" r="5.2"/><circle cx="99.6" cy="184.7" r="5.2"/><circle cx="87.7" cy="211.7" r="5.2"/><circle cx="91.9" cy="196.9" r="5.2"/><circle cx="93.7" cy="311.8" r="5.2"/><circle cx="97.5" cy="309.5" r="5.2"/><circle cx="102.7" cy="280.8" r="5.2"/><circle cx="95.7" cy="359.1" r="5.2"/><circle cx="95.6" cy="168.8" r="5.2"/><circle cx="91.6" cy="289.1" r="5.2"/><circle cx="95.8" cy="320.3" r="5.2"/><circle cx="87.0" cy="279.8" r="5.2"/><circle cx="98.9" cy="319.6" r="5.2"/><circle cx="106.2" cy="209.3" r="5.2"/><circle cx="93.7" cy="177.7" r="5.2"/><circle cx="106.2" cy="274.1" r="5.2"/><circle cx="95.4" cy="381.2" r="5.2"/><circle cx="96.2" cy="137.5" r="5.2"/><circle cx="83.0" cy="246.8" r="5.2"/><circle cx="105.3" cy="211.8" r="5.2"/><circle cx="106.3" cy="257.9" r="5.2"/><circle cx="82.1" cy="245.9" r="5.2"/><circle cx="84.0" cy="226.0" r="5.2"/><circle cx="81.9" cy="257.1" r="5.2"/><circle cx="99.1" cy="296.3" r="5.2"/><circle cx="96.1" cy="419.7" r="5.2"/><circle cx="86.1" cy="208.6" r="5.2"/><circle cx="106.6" cy="215.9" r="5.2"/><circle cx="108.0" cy="239.3" r="5.2"/><circle cx="101.8" cy="197.6" r="5.2"/><circle cx="83.3" cy="266.2" r="5.2"/><circle cx="88.6" cy="270.9" r="5.2"/><circle cx="87.8" cy="202.3" r="5.2"/><circle cx="81.1" cy="248.5" r="5.2"/><circle cx="85.6" cy="256.5" r="5.2"/><circle cx="96.4" cy="315.2" r="5.2"/><circle cx="97.2" cy="350.2" r="5.2"/><circle cx="86.0" cy="245.1" r="5.2"/><circle cx="84.6" cy="259.9" r="5.2"/><circle cx="96.2" cy="430.9" r="5.2"/><circle cx="107.8" cy="221.6" r="5.2"/><circle cx="95.3" cy="357.0" r="5.2"/><circle cx="88.9" cy="282.0" r="5.2"/><circle cx="98.0" cy="375.4" r="5.2"/><circle cx="83.4" cy="237.1" r="5.2"/><circle cx="96.4" cy="587.3" r="5.2"/><circle cx="90.2" cy="201.4" r="5.2"/><circle cx="95.7" cy="587.3" r="5.2"/><circle cx="85.5" cy="233.3" r="5.2"/><circle cx="103.3" cy="204.0" r="5.2"/><circle cx="87.8" cy="277.6" r="5.2"/><circle cx="92.7" cy="286.1" r="5.2"/><circle cx="103.6" cy="282.2" r="5.2"/><circle cx="92.8" cy="268.1" r="5.2"/><circle cx="109.2" cy="251.1" r="5.2"/><circle cx="95.6" cy="332.9" r="5.2"/><circle cx="96.2" cy="342.4" r="5.2"/><circle cx="93.6" cy="291.1" r="5.2"/><circle cx="83.1" cy="261.4" r="5.2"/><circle cx="92.4" cy="180.3" r="5.2"/><circle cx="97.0" cy="307.1" r="5.2"/><circle cx="84.5" cy="228.2" r="5.2"/><circle cx="96.7" cy="170.7" r="5.2"/><circle cx="94.5" cy="180.2" r="5.2"/><circle cx="97.3" cy="380.1" r="5.2"/><circle cx="88.1" cy="204.0" r="5.2"/><circle cx="85.8" cy="239.8" r="5.2"/><circle cx="94.3" cy="186.9" r="5.2"/><circle cx="99.7" cy="196.5" r="5.2"/><circle cx="94.9" cy="189.7" r="5.2"/><circle cx="103.1" cy="276.7" r="5.2"/><circle cx="89.5" cy="228.8" r="5.2"/><circle cx="98.1" cy="357.8" r="5.2"/><circle cx="104.8" cy="222.9" r="5.2"/><circle cx="101.5" cy="278.6" r="5.2"/><circle cx="96.9" cy="379.1" r="5.2"/><circle cx="96.1" cy="94.3" r="5.2"/><circle cx="100.8" cy="289.7" r="5.2"/><circle cx="93.5" cy="301.5" r="5.2"/><circle cx="98.6" cy="179.4" r="5.2"/><circle cx="84.3" cy="220.7" r="5.2"/><circle cx="86.7" cy="268.5" r="5.2"/><circle cx="96.2" cy="229.1" r="5.2"/><circle cx="90.5" cy="284.4" r="5.2"/><circle cx="96.5" cy="329.0" r="5.2"/><circle cx="99.6" cy="302.3" r="5.2"/><circle cx="87.8" cy="238.1" r="5.2"/><circle cx="89.2" cy="231.3" r="5.2"/><circle cx="93.4" cy="297.8" r="5.2"/><circle cx="88.8" cy="214.0" r="5.2"/><circle cx="82.6" cy="230.1" r="5.2"/><circle cx="98.1" cy="332.8" r="5.2"/><circle cx="94.1" cy="172.1" r="5.2"/><circle cx="93.1" cy="191.7" r="5.2"/><circle cx="84.2" cy="250.8" r="5.2"/><circle cx="94.9" cy="379.1" r="5.2"/><circle cx="96.0" cy="349.6" r="5.2"/><circle cx="109.6" cy="230.7" r="5.2"/><circle cx="94.4" cy="322.0" r="5.2"/><circle cx="100.9" cy="188.7" r="5.2"/><circle cx="94.6" cy="382.2" r="5.2"/><circle cx="86.1" cy="218.8" r="5.2"/><circle cx="98.0" cy="181.5" r="5.2"/><circle cx="101.3" cy="291.5" r="5.2"/><circle cx="82.0" cy="240.8" r="5.2"/><circle cx="95.1" cy="323.0" r="5.2"/><circle cx="98.5" cy="300.4" r="5.2"/><circle cx="108.8" cy="266.4" r="5.2"/><circle cx="94.6" cy="282.4" r="5.2"/><circle cx="100.9" cy="285.5" r="5.2"/><circle cx="96.6" cy="278.7" r="5.2"/><circle cx="97.8" cy="354.0" r="5.2"/><circle cx="101.4" cy="236.1" r="5.2"/><circle cx="94.8" cy="303.0" r="5.2"/><circle cx="95.0" cy="338.4" r="5.2"/><circle cx="86.3" cy="273.7" r="5.2"/><circle cx="108.3" cy="233.7" r="5.2"/><circle cx="97.5" cy="177.7" r="5.2"/><circle cx="94.4" cy="335.5" r="5.2"/><circle cx="106.3" cy="231.4" r="5.2"/><circle cx="102.8" cy="288.5" r="5.2"/><circle cx="98.0" cy="281.2" r="5.2"/><circle cx="85.8" cy="224.5" r="5.2"/><circle cx="89.4" cy="200.1" r="5.2"/><circle cx="90.5" cy="225.6" r="5.2"/><circle cx="97.4" cy="272.7" r="5.2"/><circle cx="89.0" cy="206.1" r="5.2"/><circle cx="95.9" cy="378.8" r="5.2"/><circle cx="95.8" cy="196.5" r="5.2"/><circle cx="87.8" cy="263.9" r="5.2"/><circle cx="98.0" cy="322.6" r="5.2"/><circle cx="88.0" cy="243.0" r="5.2"/><circle cx="94.4" cy="366.0" r="5.2"/><circle cx="98.9" cy="259.7" r="5.2"/><circle cx="107.9" cy="255.7" r="5.2"/><circle cx="105.6" cy="219.1" r="5.2"/><circle cx="91.7" cy="190.5" r="5.2"/><circle cx="106.6" cy="224.6" r="5.2"/><circle cx="89.3" cy="216.5" r="5.2"/><circle cx="98.0" cy="189.9" r="5.2"/><circle cx="93.6" cy="260.0" r="5.2"/><circle cx="97.1" cy="291.5" r="5.2"/><circle cx="96.6" cy="180.3" r="5.2"/><circle cx="100.1" cy="180.6" r="5.2"/><circle cx="92.6" cy="232.3" r="5.2"/><circle cx="93.1" cy="316.0" r="5.2"/><circle cx="91.9" cy="250.1" r="5.2"/><circle cx="99.6" cy="250.5" r="5.2"/><circle cx="88.9" cy="286.9" r="5.2"/><circle cx="91.2" cy="264.2" r="5.2"/><circle cx="98.8" cy="238.8" r="5.2"/><circle cx="87.4" cy="220.3" r="5.2"/><circle cx="107.9" cy="259.9" r="5.2"/><circle cx="97.0" cy="225.8" r="5.2"/><circle cx="96.4" cy="381.7" r="5.2"/><circle cx="84.1" cy="238.8" r="5.2"/><circle cx="98.3" cy="312.1" r="5.2"/><circle cx="108.9" cy="245.0" r="5.2"/><circle cx="103.8" cy="216.9" r="5.2"/><circle cx="111.2" cy="249.0" r="5.2"/><circle cx="87.3" cy="254.6" r="5.2"/><circle cx="106.1" cy="238.3" r="5.2"/><circle cx="110.1" cy="257.2" r="5.2"/><circle cx="96.5" cy="248.2" r="5.2"/><circle cx="99.0" cy="282.8" r="5.2"/><circle cx="90.3" cy="291.5" r="5.2"/><circle cx="90.6" cy="236.7" r="5.2"/><circle cx="89.7" cy="265.4" r="5.2"/><circle cx="106.1" cy="255.0" r="5.2"/><circle cx="94.2" cy="235.8" r="5.2"/><circle cx="89.1" cy="195.0" r="5.2"/><circle cx="92.8" cy="203.5" r="5.2"/><circle cx="87.3" cy="225.1" r="5.2"/><circle cx="85.8" cy="215.2" r="5.2"/><circle cx="102.4" cy="238.1" r="5.2"/><circle cx="100.4" cy="280.4" r="5.2"/><circle cx="86.2" cy="252.1" r="5.2"/><circle cx="91.6" cy="214.5" r="5.2"/><circle cx="84.6" cy="264.6" r="5.2"/><circle cx="101.2" cy="299.8" r="5.2"/><circle cx="103.8" cy="210.8" r="5.2"/><circle cx="94.0" cy="331.3" r="5.2"/><circle cx="86.9" cy="246.4" r="5.2"/><circle cx="96.3" cy="369.4" r="5.2"/><circle cx="91.8" cy="296.2" r="5.2"/><circle cx="103.2" cy="200.1" r="5.2"/><circle cx="101.4" cy="207.6" r="5.2"/><circle cx="95.6" cy="177.3" r="5.2"/><circle cx="103.3" cy="195.3" r="5.2"/><circle cx="95.5" cy="308.9" r="5.2"/><circle cx="91.4" cy="238.4" r="5.2"/><circle cx="105.2" cy="280.1" r="5.2"/><circle cx="88.8" cy="248.1" r="5.2"/><circle cx="97.4" cy="337.8" r="5.2"/><circle cx="95.1" cy="368.2" r="5.2"/><circle cx="94.5" cy="226.2" r="5.2"/><circle cx="97.5" cy="366.2" r="5.2"/><circle cx="106.1" cy="265.0" r="5.2"/><circle cx="96.8" cy="333.2" r="5.2"/><circle cx="90.6" cy="210.2" r="5.2"/><circle cx="83.6" cy="255.4" r="5.2"/><circle cx="96.2" cy="265.9" r="5.2"/><circle cx="107.6" cy="226.1" r="5.2"/><circle cx="90.9" cy="299.2" r="5.2"/><circle cx="94.5" cy="212.5" r="5.2"/><circle cx="97.2" cy="215.0" r="5.2"/><circle cx="98.6" cy="173.2" r="5.2"/><circle cx="92.6" cy="247.1" r="5.2"/><circle cx="95.8" cy="587.3" r="5.2"/><circle cx="99.6" cy="308.0" r="5.2"/><circle cx="94.1" cy="357.7" r="5.2"/><circle cx="97.8" cy="198.5" r="5.2"/><circle cx="96.0" cy="299.8" r="5.2"/><circle cx="97.4" cy="384.0" r="5.2"/><circle cx="92.9" cy="307.9" r="5.2"/><circle cx="102.4" cy="254.2" r="5.2"/><circle cx="94.4" cy="269.1" r="5.2"/><circle cx="93.8" cy="346.0" r="5.2"/><circle cx="99.8" cy="191.4" r="5.2"/><circle cx="101.3" cy="201.7" r="5.2"/><circle cx="110.5" cy="241.1" r="5.2"/><circle cx="89.1" cy="278.3" r="5.2"/><circle cx="92.4" cy="202.1" r="5.2"/><circle cx="94.7" cy="200.5" r="5.2"/><circle cx="95.3" cy="288.8" r="5.2"/><circle cx="103.2" cy="271.3" r="5.2"/><circle cx="104.6" cy="264.1" r="5.2"/><circle cx="98.4" cy="348.1" r="5.2"/><circle cx="92.1" cy="218.0" r="5.2"/><circle cx="96.0" cy="230.7" r="5.2"/><circle cx="110.0" cy="253.4" r="5.2"/><circle cx="96.9" cy="361.0" r="5.2"/><circle cx="105.3" cy="267.7" r="5.2"/><circle cx="97.7" cy="296.1" r="5.2"/><circle cx="108.0" cy="247.0" r="5.2"/><circle cx="98.6" cy="224.2" r="5.2"/><circle cx="86.4" cy="265.3" r="5.2"/><circle cx="89.8" cy="245.6" r="5.2"/><circle cx="104.1" cy="277.9" r="5.2"/><circle cx="104.1" cy="261.2" r="5.2"/><circle cx="103.5" cy="249.1" r="5.2"/><circle cx="88.0" cy="257.8" r="5.2"/><circle cx="84.1" cy="244.4" r="5.2"/><circle cx="109.9" cy="246.0" r="5.2"/><circle cx="103.1" cy="243.0" r="5.2"/><circle cx="100.9" cy="216.5" r="5.2"/><circle cx="96.1" cy="587.3" r="5.2"/><circle cx="93.3" cy="183.5" r="5.2"/><circle cx="92.9" cy="228.3" r="5.2"/><circle cx="94.0" cy="374.4" r="5.2"/><circle cx="97.8" cy="237.0" r="5.2"/><circle cx="94.7" cy="313.3" r="5.2"/><circle cx="95.8" cy="180.9" r="5.2"/><circle cx="97.7" cy="253.1" r="5.2"/><circle cx="93.6" cy="245.0" r="5.2"/><circle cx="95.3" cy="275.9" r="5.2"/><circle cx="93.9" cy="251.8" r="5.2"/><circle cx="82.5" cy="253.3" r="5.2"/><circle cx="101.3" cy="245.0" r="5.2"/><circle cx="86.5" cy="260.8" r="5.2"/><circle cx="96.3" cy="208.3" r="5.2"/><circle cx="104.2" cy="202.4" r="5.2"/><circle cx="91.7" cy="244.0" r="5.2"/><circle cx="100.3" cy="247.1" r="5.2"/><circle cx="94.7" cy="352.8" r="5.2"/><circle cx="106.7" cy="268.7" r="5.2"/><circle cx="95.8" cy="209.8" r="5.2"/><circle cx="102.8" cy="214.0" r="5.2"/><circle cx="90.4" cy="220.4" r="5.2"/><circle cx="96.6" cy="220.5" r="5.2"/><circle cx="97.8" cy="227.9" r="5.2"/><circle cx="104.1" cy="256.7" r="5.2"/><circle cx="100.6" cy="239.7" r="5.2"/><circle cx="96.6" cy="357.5" r="5.2"/><circle cx="89.2" cy="222.1" r="5.2"/></g><g fill="#AEC7E8" stroke="#AEC7E8"><circle cx="138.5" cy="521.6" r="5.2"/><circle cx="137.6" cy="408.6" r="5.2"/><circle cx="138.1" cy="461.9" r="5.2"/><circle cx="138.0" cy="453.7" r="5.2"/><circle cx="138.1" cy="468.4" r="5.2"/><circle cx="136.6" cy="528.6" r="5.2"/><circle cx="138.1" cy="495.1" r="5.2"/><circle cx="138.3" cy="548.8" r="5.2"/><circle cx="137.9" cy="549.7" r="5.2"/><circle cx="136.8" cy="538.9" r="5.2"/><circle cx="138.4" cy="538.9" r="5.2"/><circle cx="138.4" cy="512.8" r="5.2"/><circle cx="136.9" cy="517.9" r="5.2"/><circle cx="136.8" cy="484.8" r="5.2"/><circle cx="136.6" cy="503.0" r="5.2"/><circle cx="136.8" cy="491.5" r="5.2"/><circle cx="138.2" cy="473.1" r="5.2"/><circle cx="138.4" cy="518.1" r="5.2"/><circle cx="136.5" cy="515.9" r="5.2"/><circle cx="137.4" cy="445.3" r="5.2"/><circle cx="138.7" cy="506.4" r="5.2"/><circle cx="138.5" cy="481.8" r="5.2"/><circle cx="137.6" cy="411.6" r="5.2"/><circle cx="137.8" cy="566.3" r="5.2"/><circle cx="138.5" cy="503.0" r="5.2"/><circle cx="138.2" cy="491.9" r="5.2"/><circle cx="136.9" cy="540.0" r="5.2"/><circle cx="137.2" cy="453.4" r="5.2"/><circle cx="137.8" cy="463.5" r="5.2"/><circle cx="138.2" cy="498.4" r="5.2"/><circle cx="136.7" cy="524.4" r="5.2"/><circle cx="137.0" cy="551.8" r="5.2"/><circle cx="137.2" cy="486.7" r="5.2"/><circle cx="137.9" cy="451.4" r="5.2"/><circle cx="136.4" cy="505.7" r="5.2"/><circle cx="138.3" cy="510.3" r="5.2"/><circle cx="136.9" cy="478.3" r="5.2"/><circle cx="136.9" cy="545.6" r="5.2"/><circle cx="137.4" cy="552.2" r="5.2"/><circle cx="137.1" cy="475.3" r="5.2"/><circle cx="137.6" cy="448.9" r="5.2"/><circle cx="137.6" cy="372.1" r="5.2"/><circle cx="137.9" cy="519.3" r="5.2"/><circle cx="137.5" cy="474.2" r="5.2"/><circle cx="138.4" cy="506.9" r="5.2"/><circle cx="137.8" cy="469.1" r="5.2"/><circle cx="136.7" cy="537.2" r="5.2"/><circle cx="137.2" cy="446.9" r="5.2"/><circle cx="137.2" cy="456.2" r="5.2"/><circle cx="138.2" cy="504.3" r="5.2"/><circle cx="138.5" cy="537.2" r="5.2"/><circle cx="137.6" cy="471.3" r="5.2"/><circle cx="137.3" cy="551.7" r="5.2"/><circle cx="137.9" cy="503.6" r="5.2"/><circle cx="137.9" cy="469.4" r="5.2"/><circle cx="136.7" cy="489.5" r="5.2"/><circle cx="137.8" cy="479.6" r="5.2"/><circle cx="137.6" cy="561.3" r="5.2"/><circle cx="136.7" cy="514.3" r="5.2"/><circle cx="137.8" cy="544.8" r="5.2"/><circle cx="136.8" cy="526.3" r="5.2"/><circle cx="137.6" cy="446.3" r="5.2"/><circle cx="138.5" cy="518.6" r="5.2"/><circle cx="137.2" cy="553.9" r="5.2"/><circle cx="138.6" cy="492.6" r="5.2"/><circle cx="138.6" cy="500.9" r="5.2"/><circle cx="137.9" cy="533.8" r="5.2"/><circle cx="138.0" cy="541.7" r="5.2"/><circle cx="137.1" cy="527.3" r="5.2"/><circle cx="138.5" cy="541.4" r="5.2"/><circle cx="136.9" cy="479.6" r="5.2"/><circle cx="137.6" cy="529.0" r="5.2"/><circle cx="136.9" cy="532.8" r="5.2"/><circle cx="136.9" cy="523.4" r="5.2"/><circle cx="137.5" cy="501.3" r="5.2"/><circle cx="137.8" cy="449.6" r="5.2"/><circle cx="137.3" cy="463.9" r="5.2"/><circle cx="138.1" cy="547.8" r="5.2"/><circle cx="137.9" cy="560.6" r="5.2"/><circle cx="136.7" cy="496.2" r="5.2"/><circle cx="137.1" cy="549.8" r="5.2"/><circle cx="138.1" cy="552.1" r="5.2"/><circle cx="138.0" cy="465.1" r="5.2"/><circle cx="137.6" cy="458.0" r="5.2"/><circle cx="137.4" cy="457.5" r="5.2"/><circle cx="138.6" cy="528.7" r="5.2"/><circle cx="136.6" cy="513.8" r="5.2"/><circle cx="136.9" cy="502.1" r="5.2"/><circle cx="137.0" cy="488.9" r="5.2"/><circle cx="137.7" cy="453.4" r="5.2"/><circle cx="137.5" cy="541.4" r="5.2"/><circle cx="137.9" cy="497.5" r="5.2"/><circle cx="137.2" cy="557.9" r="5.2"/><circle cx="137.1" cy="492.1" r="5.2"/><circle cx="136.7" cy="481.8" r="5.2"/><circle cx="136.6" cy="521.5" r="5.2"/><circle cx="138.0" cy="509.1" r="5.2"/><circle cx="138.0" cy="523.4" r="5.2"/><circle cx="138.5" cy="485.2" r="5.2"/><circle cx="152.8" cy="587.3" r="5.2"/><circle cx="137.0" cy="495.1" r="5.2"/><circle cx="137.9" cy="547.5" r="5.2"/><circle cx="138.3" cy="502.1" r="5.2"/><circle cx="137.2" cy="541.1" r="5.2"/><circle cx="138.1" cy="550.5" r="5.2"/><circle cx="137.8" cy="444.8" r="5.2"/><circle cx="137.0" cy="504.9" r="5.2"/><circle cx="137.5" cy="443.0" r="5.2"/><circle cx="136.9" cy="485.8" r="5.2"/><circle cx="137.7" cy="548.0" r="5.2"/><circle cx="138.1" cy="475.9" r="5.2"/><circle cx="136.9" cy="498.0" r="5.2"/><circle cx="137.9" cy="457.4" r="5.2"/><circle cx="137.3" cy="531.3" r="5.2"/><circle cx="136.7" cy="518.6" r="5.2"/><circle cx="137.6" cy="527.4" r="5.2"/><circle cx="136.7" cy="541.3" r="5.2"/><circle cx="137.6" cy="381.8" r="5.2"/><circle cx="137.7" cy="455.9" r="5.2"/><circle cx="137.8" cy="538.6" r="5.2"/><circle cx="137.6" cy="557.6" r="5.2"/><circle cx="137.1" cy="459.7" r="5.2"/><circle cx="137.3" cy="495.8" r="5.2"/><circle cx="137.7" cy="551.8" r="5.2"/><circle cx="137.0" cy="538.1" r="5.2"/><circle cx="137.8" cy="531.9" r="5.2"/><circle cx="138.0" cy="502.0" r="5.2"/><circle cx="137.4" cy="444.5" r="5.2"/><circle cx="136.6" cy="492.6" r="5.2"/><circle cx="137.9" cy="447.1" r="5.2"/><circle cx="138.4" cy="489.8" r="5.2"/><circle cx="137.6" cy="482.1" r="5.2"/><circle cx="138.4" cy="524.6" r="5.2"/><circle cx="152.7" cy="587.3" r="5.2"/><circle cx="138.2" cy="486.6" r="5.2"/><circle cx="137.7" cy="499.1" r="5.2"/><circle cx="137.1" cy="530.8" r="5.2"/><circle cx="137.4" cy="478.8" r="5.2"/><circle cx="137.7" cy="443.0" r="5.2"/><circle cx="138.3" cy="531.2" r="5.2"/><circle cx="137.4" cy="556.5" r="5.2"/><circle cx="138.3" cy="542.4" r="5.2"/><circle cx="138.5" cy="487.9" r="5.2"/><circle cx="137.2" cy="518.3" r="5.2"/><circle cx="137.6" cy="505.1" r="5.2"/><circle cx="138.3" cy="546.0" r="5.2"/><circle cx="138.3" cy="489.0" r="5.2"/><circle cx="137.0" cy="547.6" r="5.2"/><circle cx="138.5" cy="497.3" r="5.2"/><circle cx="137.2" cy="489.2" r="5.2"/><circle cx="136.7" cy="508.1" r="5.2"/><circle cx="137.2" cy="547.9" r="5.2"/><circle cx="137.9" cy="554.8" r="5.2"/><circle cx="138.6" cy="508.1" r="5.2"/><circle cx="137.7" cy="433.1" r="5.2"/><circle cx="137.6" cy="463.4" r="5.2"/><circle cx="137.5" cy="549.0" r="5.2"/><circle cx="137.6" cy="492.2" r="5.2"/><circle cx="138.1" cy="506.6" r="5.2"/><circle cx="137.9" cy="507.7" r="5.2"/><circle cx="138.5" cy="514.0" r="5.2"/><circle cx="136.5" cy="511.3" r="5.2"/><circle cx="138.0" cy="482.2" r="5.2"/><circle cx="137.1" cy="468.1" r="5.2"/><circle cx="136.9" cy="472.9" r="5.2"/><circle cx="137.9" cy="491.3" r="5.2"/><circle cx="152.6" cy="587.3" r="5.2"/><circle cx="138.7" cy="511.6" r="5.2"/><circle cx="137.1" cy="541.9" r="5.2"/><circle cx="138.7" cy="516.1" r="5.2"/><circle cx="137.7" cy="524.1" r="5.2"/><circle cx="137.3" cy="514.2" r="5.2"/><circle cx="137.6" cy="541.3" r="5.2"/><circle cx="122.2" cy="587.3" r="5.2"/><circle cx="137.0" cy="515.4" r="5.2"/><circle cx="137.2" cy="469.2" r="5.2"/><circle cx="137.4" cy="539.4" r="5.2"/><circle cx="137.1" cy="520.6" r="5.2"/><circle cx="137.8" cy="513.4" r="5.2"/><circle cx="137.3" cy="476.2" r="5.2"/><circle cx="152.4" cy="587.3" r="5.2"/><circle cx="137.3" cy="450.4" r="5.2"/><circle cx="138.2" cy="514.4" r="5.2"/><circle cx="138.2" cy="520.0" r="5.2"/><circle cx="137.0" cy="506.9" r="5.2"/><circle cx="136.7" cy="487.9" r="5.2"/><circle cx="151.1" cy="587.3" r="5.2"/><circle cx="122.2" cy="587.3" r="5.2"/><circle cx="137.0" cy="533.9" r="5.2"/><circle cx="138.2" cy="523.4" r="5.2"/><circle cx="137.8" cy="518.5" r="5.2"/><circle cx="137.2" cy="536.5" r="5.2"/><circle cx="138.3" cy="538.4" r="5.2"/><circle cx="137.3" cy="470.0" r="5.2"/><circle cx="138.3" cy="495.8" r="5.2"/><circle cx="136.6" cy="499.6" r="5.2"/><circle cx="137.7" cy="466.9" r="5.2"/><circle cx="136.8" cy="519.9" r="5.2"/><circle cx="136.8" cy="510.1" r="5.2"/><circle cx="138.3" cy="482.9" r="5.2"/><circle cx="137.4" cy="466.3" r="5.2"/><circle cx="137.2" cy="480.0" r="5.2"/><circle cx="138.4" cy="533.1" r="5.2"/><circle cx="152.0" cy="587.3" r="5.2"/><circle cx="122.7" cy="587.3" r="5.2"/><circle cx="138.1" cy="517.2" r="5.2"/><circle cx="137.7" cy="537.1" r="5.2"/><circle cx="137.3" cy="483.6" r="5.2"/><circle cx="137.1" cy="482.6" r="5.2"/><circle cx="123.0" cy="587.3" r="5.2"/><circle cx="145.1" cy="587.3" r="5.2"/><circle cx="138.0" cy="537.3" r="5.2"/><circle cx="122.5" cy="587.3" r="5.2"/><circle cx="136.8" cy="504.1" r="5.2"/><circle cx="152.9" cy="587.3" r="5.2"/><circle cx="137.7" cy="521.1" r="5.2"/><circle cx="137.4" cy="452.7" r="5.2"/><circle cx="138.1" cy="527.2" r="5.2"/><circle cx="134.2" cy="587.3" r="5.2"/><circle cx="122.3" cy="587.3" r="5.2"/><circle cx="144.8" cy="587.3" r="5.2"/><circle cx="149.3" cy="587.3" r="5.2"/><circle cx="137.9" cy="475.2" r="5.2"/><circle cx="149.4" cy="587.3" r="5.2"/><circle cx="128.0" cy="587.3" r="5.2"/><circle cx="137.8" cy="552.6" r="5.2"/><circle cx="138.2" cy="534.6" r="5.2"/><circle cx="135.1" cy="587.3" r="5.2"/><circle cx="130.5" cy="587.3" r="5.2"/><circle cx="131.6" cy="587.3" r="5.2"/><circle cx="143.1" cy="587.3" r="5.2"/><circle cx="137.3" cy="525.4" r="5.2"/><circle cx="148.6" cy="587.3" r="5.2"/><circle cx="126.2" cy="587.3" r="5.2"/><circle cx="146.3" cy="587.3" r="5.2"/><circle cx="148.2" cy="587.3" r="5.2"/><circle cx="137.5" cy="485.2" r="5.2"/><circle cx="124.2" cy="587.3" r="5.2"/><circle cx="138.1" cy="529.5" r="5.2"/><circle cx="138.2" cy="478.6" r="5.2"/><circle cx="141.1" cy="587.3" r="5.2"/><circle cx="147.7" cy="587.3" r="5.2"/><circle cx="150.2" cy="587.3" r="5.2"/><circle cx="124.6" cy="587.3" r="5.2"/><circle cx="137.4" cy="587.3" r="5.2"/><circle cx="131.1" cy="587.3" r="5.2"/><circle cx="124.4" cy="587.3" r="5.2"/><circle cx="124.7" cy="587.3" r="5.2"/><circle cx="133.7" cy="587.3" r="5.2"/><circle cx="136.6" cy="587.3" r="5.2"/><circle cx="140.0" cy="587.3" r="5.2"/><circle cx="129.6" cy="587.3" r="5.2"/><circle cx="142.7" cy="587.3" r="5.2"/><circle cx="136.8" cy="548.4" r="5.2"/><circle cx="127.8" cy="587.3" r="5.2"/><circle cx="137.2" cy="524.1" r="5.2"/><circle cx="143.7" cy="587.3" r="5.2"/><circle cx="148.1" cy="587.3" r="5.2"/><circle cx="125.7" cy="587.3" r="5.2"/><circle cx="139.2" cy="587.3" r="5.2"/><circle cx="135.8" cy="587.3" r="5.2"/></g><g fill="#FF7F0E" stroke="#FF7F0E"><circle cx="177.2" cy="527.2" r="5.2"/><circle cx="179.1" cy="455.4" r="5.2"/><circle cx="180.6" cy="512.7" r="5.2"/><circle cx="177.4" cy="531.5" r="5.2"/><circle cx="177.6" cy="514.0" r="5.2"/><circle cx="180.4" cy="501.6" r="5.2"/><circle cx="177.0" cy="529.5" r="5.2"/><circle cx="180.5" cy="526.4" r="5.2"/><circle cx="177.5" cy="539.1" r="5.2"/><circle cx="180.4" cy="506.0" r="5.2"/><circle cx="177.9" cy="517.4" r="5.2"/><circle cx="180.6" cy="517.5" r="5.2"/><circle cx="179.2" cy="456.2" r="5.2"/><circle cx="178.0" cy="546.7" r="5.2"/><circle cx="179.8" cy="544.3" r="5.2"/><circle cx="177.4" cy="512.2" r="5.2"/><circle cx="179.6" cy="490.7" r="5.2"/><circle cx="177.5" cy="542.6" r="5.2"/><circle cx="179.1" cy="471.1" r="5.2"/><circle cx="180.7" cy="532.0" r="5.2"/><circle cx="181.0" cy="523.4" r="5.2"/><circle cx="179.1" cy="501.4" r="5.2"/><circle cx="179.1" cy="444.8" r="5.2"/><circle cx="179.1" cy="276.8" r="5.2"/><circle cx="179.5" cy="551.0" r="5.2"/><circle cx="180.7" cy="510.7" r="5.2"/><circle cx="178.2" cy="503.2" r="5.2"/><circle cx="179.7" cy="498.1" r="5.2"/><circle cx="180.4" cy="539.2" r="5.2"/><circle cx="179.4" cy="496.3" r="5.2"/><circle cx="180.3" cy="512.0" r="5.2"/><circle cx="179.4" cy="545.8" r="5.2"/><circle cx="179.4" cy="505.3" r="5.2"/><circle cx="179.4" cy="477.7" r="5.2"/><circle cx="177.0" cy="515.6" r="5.2"/><circle cx="179.0" cy="333.4" r="5.2"/><circle cx="180.2" cy="538.2" r="5.2"/><circle cx="180.7" cy="537.1" r="5.2"/><circle cx="178.9" cy="462.1" r="5.2"/><circle cx="178.9" cy="455.7" r="5.2"/><circle cx="177.7" cy="534.1" r="5.2"/><circle cx="181.1" cy="516.3" r="5.2"/><circle cx="179.0" cy="454.1" r="5.2"/><circle cx="179.6" cy="513.4" r="5.2"/><circle cx="180.1" cy="535.4" r="5.2"/><circle cx="177.9" cy="511.2" r="5.2"/><circle cx="177.4" cy="509.3" r="5.2"/><circle cx="177.7" cy="501.4" r="5.2"/><circle cx="178.3" cy="492.6" r="5.2"/><circle cx="179.0" cy="543.8" r="5.2"/><circle cx="177.3" cy="536.9" r="5.2"/><circle cx="177.8" cy="540.6" r="5.2"/><circle cx="179.2" cy="491.9" r="5.2"/><circle cx="180.9" cy="519.8" r="5.2"/><circle cx="177.8" cy="526.2" r="5.2"/><circle cx="180.1" cy="545.2" r="5.2"/><circle cx="178.6" cy="490.5" r="5.2"/><circle cx="179.7" cy="502.1" r="5.2"/><circle cx="180.1" cy="550.5" r="5.2"/><circle cx="177.9" cy="530.8" r="5.2"/><circle cx="177.7" cy="505.8" r="5.2"/><circle cx="179.7" cy="533.8" r="5.2"/><circle cx="163.7" cy="587.3" r="5.2"/><circle cx="178.2" cy="541.3" r="5.2"/><circle cx="179.2" cy="536.6" r="5.2"/><circle cx="177.9" cy="537.8" r="5.2"/><circle cx="177.5" cy="528.4" r="5.2"/><circle cx="179.0" cy="482.6" r="5.2"/><circle cx="180.7" cy="527.5" r="5.2"/><circle cx="178.8" cy="510.8" r="5.2"/><circle cx="179.5" cy="540.3" r="5.2"/><circle cx="178.3" cy="544.3" r="5.2"/><circle cx="177.6" cy="520.4" r="5.2"/><circle cx="177.1" cy="523.3" r="5.2"/><circle cx="179.9" cy="540.9" r="5.2"/><circle cx="178.7" cy="473.2" r="5.2"/><circle cx="178.6" cy="513.0" r="5.2"/><circle cx="179.4" cy="531.2" r="5.2"/><circle cx="194.3" cy="587.3" r="5.2"/><circle cx="177.9" cy="507.2" r="5.2"/><circle cx="178.2" cy="536.1" r="5.2"/><circle cx="178.8" cy="495.3" r="5.2"/><circle cx="179.9" cy="525.2" r="5.2"/><circle cx="179.6" cy="506.8" r="5.2"/><circle cx="179.3" cy="512.1" r="5.2"/><circle cx="180.5" cy="530.9" r="5.2"/><circle cx="181.0" cy="529.6" r="5.2"/><circle cx="180.1" cy="514.1" r="5.2"/><circle cx="163.9" cy="587.3" r="5.2"/><circle cx="179.3" cy="449.9" r="5.2"/><circle cx="179.1" cy="514.8" r="5.2"/><circle cx="179.0" cy="435.8" r="5.2"/><circle cx="178.2" cy="497.2" r="5.2"/><circle cx="178.8" cy="506.5" r="5.2"/><circle cx="178.8" cy="491.0" r="5.2"/><circle cx="179.9" cy="493.9" r="5.2"/><circle cx="178.3" cy="508.2" r="5.2"/><circle cx="179.2" cy="509.1" r="5.2"/><circle cx="194.0" cy="587.3" r="5.2"/><circle cx="178.4" cy="501.1" r="5.2"/><circle cx="178.9" cy="550.9" r="5.2"/><circle cx="178.8" cy="449.8" r="5.2"/><circle cx="178.6" cy="528.2" r="5.2"/><circle cx="193.1" cy="587.3" r="5.2"/><circle cx="178.7" cy="545.5" r="5.2"/><circle cx="194.3" cy="587.3" r="5.2"/><circle cx="178.6" cy="504.5" r="5.2"/><circle cx="173.0" cy="587.3" r="5.2"/><circle cx="192.6" cy="587.3" r="5.2"/><circle cx="172.1" cy="587.3" r="5.2"/><circle cx="174.7" cy="587.3" r="5.2"/><circle cx="179.8" cy="520.1" r="5.2"/><circle cx="180.1" cy="503.5" r="5.2"/><circle cx="177.4" cy="519.8" r="5.2"/><circle cx="178.1" cy="514.5" r="5.2"/><circle cx="173.3" cy="587.3" r="5.2"/><circle cx="184.5" cy="587.3" r="5.2"/><circle cx="176.0" cy="587.3" r="5.2"/><circle cx="179.0" cy="541.5" r="5.2"/><circle cx="179.1" cy="529.4" r="5.2"/><circle cx="181.9" cy="587.3" r="5.2"/><circle cx="169.9" cy="587.3" r="5.2"/><circle cx="164.3" cy="587.3" r="5.2"/><circle cx="180.3" cy="520.4" r="5.2"/><circle cx="176.8" cy="587.3" r="5.2"/><circle cx="185.6" cy="587.3" r="5.2"/><circle cx="177.2" cy="587.3" r="5.2"/><circle cx="175.9" cy="587.3" r="5.2"/><circle cx="177.6" cy="587.3" r="5.2"/><circle cx="164.2" cy="587.3" r="5.2"/><circle cx="170.6" cy="587.3" r="5.2"/><circle cx="163.9" cy="587.3" r="5.2"/><circle cx="167.7" cy="587.3" r="5.2"/><circle cx="179.1" cy="369.1" r="5.2"/><circle cx="170.3" cy="587.3" r="5.2"/><circle cx="178.6" cy="587.3" r="5.2"/><circle cx="178.1" cy="529.2" r="5.2"/><circle cx="188.2" cy="587.3" r="5.2"/><circle cx="180.4" cy="587.3" r="5.2"/><circle cx="189.5" cy="587.3" r="5.2"/><circle cx="183.7" cy="587.3" r="5.2"/><circle cx="178.3" cy="587.3" r="5.2"/><circle cx="183.8" cy="587.3" r="5.2"/><circle cx="185.7" cy="587.3" r="5.2"/><circle cx="192.0" cy="587.3" r="5.2"/><circle cx="194.1" cy="587.3" r="5.2"/><circle cx="178.3" cy="587.3" r="5.2"/><circle cx="166.7" cy="587.3" r="5.2"/><circle cx="178.5" cy="517.6" r="5.2"/><circle cx="188.9" cy="587.3" r="5.2"/><circle cx="187.6" cy="587.3" r="5.2"/><circle cx="192.8" cy="587.3" r="5.2"/><circle cx="168.0" cy="587.3" r="5.2"/><circle cx="191.4" cy="587.3" r="5.2"/><circle cx="180.1" cy="507.7" r="5.2"/><circle cx="179.8" cy="510.9" r="5.2"/><circle cx="179.3" cy="483.3" r="5.2"/><circle cx="180.0" cy="517.2" r="5.2"/><circle cx="180.6" cy="543.3" r="5.2"/><circle cx="165.3" cy="587.3" r="5.2"/><circle cx="180.5" cy="587.3" r="5.2"/><circle cx="166.9" cy="587.3" r="5.2"/><circle cx="166.3" cy="587.3" r="5.2"/><circle cx="165.6" cy="587.3" r="5.2"/><circle cx="165.5" cy="587.3" r="5.2"/><circle cx="175.3" cy="587.3" r="5.2"/><circle cx="180.2" cy="587.3" r="5.2"/></g><g fill="#FFBB78" stroke="#FFBB78"><circle cx="223.8" cy="485.2" r="5.2"/><circle cx="219.8" cy="476.4" r="5.2"/><circle cx="219.7" cy="375.1" r="5.2"/><circle cx="218.6" cy="587.3" r="5.2"/><circle cx="231.9" cy="587.3" r="5.2"/><circle cx="221.5" cy="326.7" r="5.2"/><circle cx="207.2" cy="587.3" r="5.2"/><circle cx="218.5" cy="512.7" r="5.2"/><circle cx="225.3" cy="587.3" r="5.2"/><circle cx="213.9" cy="587.3" r="5.2"/><circle cx="225.9" cy="489.0" r="5.2"/><circle cx="210.1" cy="587.3" r="5.2"/><circle cx="217.4" cy="412.3" r="5.2"/><circle cx="209.1" cy="587.3" r="5.2"/><circle cx="215.6" cy="486.5" r="5.2"/><circle cx="219.6" cy="587.3" r="5.2"/><circle cx="212.0" cy="587.3" r="5.2"/><circle cx="222.5" cy="440.8" r="5.2"/><circle cx="224.1" cy="415.9" r="5.2"/><circle cx="220.9" cy="541.3" r="5.2"/><circle cx="214.8" cy="587.3" r="5.2"/><circle cx="227.6" cy="476.2" r="5.2"/><circle cx="221.9" cy="502.5" r="5.2"/><circle cx="227.1" cy="587.3" r="5.2"/><circle cx="226.2" cy="587.3" r="5.2"/><circle cx="230.9" cy="587.3" r="5.2"/><circle cx="215.2" cy="537.9" r="5.2"/><circle cx="208.2" cy="587.3" r="5.2"/><circle cx="206.3" cy="587.3" r="5.2"/><circle cx="232.8" cy="587.3" r="5.2"/><circle cx="229.0" cy="587.3" r="5.2"/><circle cx="221.2" cy="382.5" r="5.2"/><circle cx="226.5" cy="537.8" r="5.2"/><circle cx="227.6" cy="511.8" r="5.2"/><circle cx="224.5" cy="456.2" r="5.2"/><circle cx="221.2" cy="464.4" r="5.2"/><circle cx="220.4" cy="319.2" r="5.2"/><circle cx="224.3" cy="587.3" r="5.2"/><circle cx="213.8" cy="468.0" r="5.2"/><circle cx="232.8" cy="552.3" r="5.2"/><circle cx="208.5" cy="547.0" r="5.2"/><circle cx="219.2" cy="349.0" r="5.2"/><circle cx="217.7" cy="456.4" r="5.2"/><circle cx="221.5" cy="587.3" r="5.2"/><circle cx="222.4" cy="356.4" r="5.2"/><circle cx="219.6" cy="439.3" r="5.2"/><circle cx="217.7" cy="587.3" r="5.2"/><circle cx="213.3" cy="525.5" r="5.2"/><circle cx="217.6" cy="496.8" r="5.2"/><circle cx="216.1" cy="454.7" r="5.2"/><circle cx="211.0" cy="587.3" r="5.2"/><circle cx="213.1" cy="502.7" r="5.2"/><circle cx="233.8" cy="587.3" r="5.2"/><circle cx="215.8" cy="587.3" r="5.2"/><circle cx="222.4" cy="587.3" r="5.2"/><circle cx="216.7" cy="587.3" r="5.2"/><circle cx="230.0" cy="587.3" r="5.2"/><circle cx="223.1" cy="514.5" r="5.2"/></g><g fill="#2CA02C" stroke="#2CA02C"><circle cx="250.3" cy="262.0" r="5.2"/><circle cx="263.4" cy="207.0" r="5.2"/><circle cx="264.8" cy="405.4" r="5.2"/><circle cx="273.3" cy="260.2" r="5.2"/><circle cx="274.2" cy="353.9" r="5.2"/><circle cx="262.1" cy="512.7" r="5.2"/><circle cx="275.7" cy="267.2" r="5.2"/><circle cx="271.2" cy="243.8" r="5.2"/><circle cx="274.5" cy="343.1" r="5.2"/><circle cx="263.1" cy="193.5" r="5.2"/><circle cx="262.5" cy="502.7" r="5.2"/><circle cx="261.6" cy="480.0" r="5.2"/><circle cx="248.2" cy="323.1" r="5.2"/><circle cx="252.2" cy="260.0" r="5.2"/><circle cx="263.6" cy="488.8" r="5.2"/><circle cx="249.4" cy="357.1" r="5.2"/><circle cx="248.5" cy="272.1" r="5.2"/><circle cx="249.2" cy="343.1" r="5.2"/><circle cx="271.9" cy="349.9" r="5.2"/><circle cx="247.4" cy="326.3" r="5.2"/><circle cx="248.6" cy="267.0" r="5.2"/><circle cx="272.5" cy="355.0" r="5.2"/><circle cx="268.0" cy="238.8" r="5.2"/><circle cx="251.4" cy="256.1" r="5.2"/><circle cx="263.0" cy="446.7" r="5.2"/><circle cx="261.7" cy="513.6" r="5.2"/><circle cx="264.2" cy="399.3" r="5.2"/><circle cx="272.2" cy="253.7" r="5.2"/><circle cx="262.5" cy="174.7" r="5.2"/><circle cx="247.8" cy="288.1" r="5.2"/><circle cx="251.4" cy="350.7" r="5.2"/><circle cx="250.2" cy="361.4" r="5.2"/><circle cx="263.1" cy="481.4" r="5.2"/><circle cx="262.5" cy="444.2" r="5.2"/><circle cx="253.2" cy="379.1" r="5.2"/><circle cx="261.8" cy="587.3" r="5.2"/><circle cx="270.0" cy="236.7" r="5.2"/><circle cx="255.8" cy="219.3" r="5.2"/><circle cx="257.0" cy="209.5" r="5.2"/><circle cx="275.0" cy="294.9" r="5.2"/><circle cx="272.4" cy="360.2" r="5.2"/><circle cx="248.6" cy="295.7" r="5.2"/><circle cx="275.5" cy="316.1" r="5.2"/><circle cx="259.8" cy="428.5" r="5.2"/><circle cx="274.9" cy="323.7" r="5.2"/><circle cx="256.6" cy="396.0" r="5.2"/><circle cx="275.0" cy="278.4" r="5.2"/><circle cx="262.7" cy="409.0" r="5.2"/><circle cx="260.5" cy="429.1" r="5.2"/><circle cx="265.7" cy="238.3" r="5.2"/><circle cx="250.6" cy="269.0" r="5.2"/><circle cx="262.2" cy="587.3" r="5.2"/><circle cx="251.4" cy="298.2" r="5.2"/><circle cx="255.2" cy="382.2" r="5.2"/><circle cx="249.3" cy="273.7" r="5.2"/><circle cx="265.8" cy="218.3" r="5.2"/><circle cx="275.6" cy="338.6" r="5.2"/><circle cx="261.8" cy="398.6" r="5.2"/><circle cx="275.6" cy="288.2" r="5.2"/><circle cx="264.2" cy="196.9" r="5.2"/><circle cx="258.2" cy="205.1" r="5.2"/><circle cx="273.7" cy="274.5" r="5.2"/><circle cx="268.7" cy="383.5" r="5.2"/><circle cx="249.2" cy="280.9" r="5.2"/><circle cx="262.2" cy="515.2" r="5.2"/><circle cx="275.3" cy="306.8" r="5.2"/><circle cx="259.6" cy="192.6" r="5.2"/><circle cx="248.3" cy="306.5" r="5.2"/><circle cx="261.7" cy="490.1" r="5.2"/><circle cx="251.0" cy="325.6" r="5.2"/><circle cx="273.2" cy="292.9" r="5.2"/><circle cx="247.4" cy="311.1" r="5.2"/><circle cx="261.1" cy="504.6" r="5.2"/><circle cx="271.9" cy="367.9" r="5.2"/><circle cx="272.3" cy="268.7" r="5.2"/><circle cx="264.4" cy="192.6" r="5.2"/><circle cx="263.6" cy="419.3" r="5.2"/><circle cx="271.2" cy="364.2" r="5.2"/><circle cx="262.8" cy="506.5" r="5.2"/><circle cx="253.6" cy="375.1" r="5.2"/><circle cx="252.7" cy="257.5" r="5.2"/><circle cx="273.7" cy="365.7" r="5.2"/><circle cx="254.1" cy="240.5" r="5.2"/><circle cx="264.9" cy="394.4" r="5.2"/><circle cx="247.8" cy="301.6" r="5.2"/><circle cx="253.0" cy="365.0" r="5.2"/><circle cx="272.7" cy="345.3" r="5.2"/><circle cx="257.6" cy="218.3" r="5.2"/><circle cx="253.1" cy="367.5" r="5.2"/><circle cx="270.1" cy="352.0" r="5.2"/><circle cx="260.3" cy="477.4" r="5.2"/><circle cx="247.2" cy="281.4" r="5.2"/><circle cx="251.9" cy="345.8" r="5.2"/><circle cx="251.6" cy="359.4" r="5.2"/><circle cx="250.4" cy="312.5" r="5.2"/><circle cx="267.8" cy="230.6" r="5.2"/><circle cx="263.7" cy="461.0" r="5.2"/><circle cx="249.9" cy="353.9" r="5.2"/><circle cx="270.6" cy="305.9" r="5.2"/><circle cx="263.6" cy="442.0" r="5.2"/><circle cx="252.3" cy="295.3" r="5.2"/><circle cx="264.2" cy="428.9" r="5.2"/><circle cx="262.6" cy="200.6" r="5.2"/><circle cx="250.2" cy="277.9" r="5.2"/><circle cx="262.1" cy="486.1" r="5.2"/><circle cx="252.0" cy="305.9" r="5.2"/><circle cx="265.6" cy="205.1" r="5.2"/><circle cx="276.6" cy="281.5" r="5.2"/><circle cx="273.6" cy="317.8" r="5.2"/><circle cx="248.2" cy="279.6" r="5.2"/><circle cx="255.1" cy="241.7" r="5.2"/><circle cx="260.8" cy="199.3" r="5.2"/><circle cx="274.0" cy="297.6" r="5.2"/><circle cx="247.7" cy="320.1" r="5.2"/><circle cx="261.7" cy="587.3" r="5.2"/><circle cx="275.4" cy="332.8" r="5.2"/><circle cx="250.7" cy="265.2" r="5.2"/><circle cx="259.2" cy="409.2" r="5.2"/><circle cx="260.9" cy="407.7" r="5.2"/><circle cx="249.2" cy="324.8" r="5.2"/><circle cx="257.6" cy="377.4" r="5.2"/><circle cx="261.1" cy="449.0" r="5.2"/><circle cx="249.5" cy="317.8" r="5.2"/><circle cx="258.5" cy="207.9" r="5.2"/><circle cx="262.1" cy="395.5" r="5.2"/><circle cx="267.6" cy="224.4" r="5.2"/><circle cx="268.5" cy="339.1" r="5.2"/><circle cx="270.6" cy="366.5" r="5.2"/><circle cx="252.3" cy="314.6" r="5.2"/><circle cx="249.6" cy="297.6" r="5.2"/><circle cx="251.1" cy="281.1" r="5.2"/><circle cx="274.4" cy="304.9" r="5.2"/><circle cx="270.2" cy="299.2" r="5.2"/><circle cx="263.6" cy="477.8" r="5.2"/><circle cx="274.0" cy="322.3" r="5.2"/><circle cx="251.4" cy="252.0" r="5.2"/><circle cx="266.3" cy="389.6" r="5.2"/><circle cx="246.9" cy="292.0" r="5.2"/><circle cx="254.0" cy="236.6" r="5.2"/><circle cx="274.6" cy="259.1" r="5.2"/><circle cx="257.2" cy="380.8" r="5.2"/><circle cx="261.5" cy="415.3" r="5.2"/><circle cx="250.7" cy="290.0" r="5.2"/><circle cx="253.3" cy="296.6" r="5.2"/><circle cx="251.4" cy="364.1" r="5.2"/><circle cx="256.5" cy="391.5" r="5.2"/><circle cx="267.5" cy="343.6" r="5.2"/><circle cx="272.7" cy="311.7" r="5.2"/><circle cx="265.7" cy="325.0" r="5.2"/><circle cx="253.2" cy="249.4" r="5.2"/><circle cx="260.2" cy="213.8" r="5.2"/><circle cx="275.4" cy="348.0" r="5.2"/><circle cx="252.8" cy="331.2" r="5.2"/><circle cx="276.3" cy="301.9" r="5.2"/><circle cx="247.2" cy="275.9" r="5.2"/><circle cx="255.6" cy="231.5" r="5.2"/><circle cx="250.0" cy="322.3" r="5.2"/><circle cx="257.5" cy="242.0" r="5.2"/><circle cx="274.6" cy="330.0" r="5.2"/><circle cx="259.9" cy="375.3" r="5.2"/><circle cx="262.0" cy="450.2" r="5.2"/><circle cx="271.7" cy="333.6" r="5.2"/><circle cx="267.2" cy="396.3" r="5.2"/><circle cx="261.7" cy="429.0" r="5.2"/><circle cx="267.0" cy="215.2" r="5.2"/><circle cx="276.0" cy="279.6" r="5.2"/><circle cx="265.8" cy="345.8" r="5.2"/><circle cx="257.1" cy="251.3" r="5.2"/><circle cx="251.3" cy="318.3" r="5.2"/><circle cx="261.0" cy="426.3" r="5.2"/><circle cx="269.0" cy="373.3" r="5.2"/><circle cx="259.9" cy="350.9" r="5.2"/><circle cx="256.5" cy="361.0" r="5.2"/><circle cx="267.1" cy="241.8" r="5.2"/><circle cx="257.7" cy="230.2" r="5.2"/><circle cx="261.5" cy="509.6" r="5.2"/><circle cx="269.8" cy="363.0" r="5.2"/><circle cx="273.5" cy="335.3" r="5.2"/><circle cx="252.3" cy="265.8" r="5.2"/><circle cx="255.0" cy="376.1" r="5.2"/><circle cx="255.1" cy="319.1" r="5.2"/><circle cx="256.4" cy="226.2" r="5.2"/><circle cx="252.2" cy="271.6" r="5.2"/><circle cx="261.8" cy="292.0" r="5.2"/><circle cx="270.6" cy="379.4" r="5.2"/><circle cx="269.2" cy="247.8" r="5.2"/><circle cx="248.7" cy="289.0" r="5.2"/><circle cx="268.5" cy="349.2" r="5.2"/><circle cx="259.2" cy="218.8" r="5.2"/><circle cx="274.6" cy="313.8" r="5.2"/><circle cx="257.7" cy="222.3" r="5.2"/><circle cx="255.7" cy="266.9" r="5.2"/><circle cx="258.0" cy="358.7" r="5.2"/><circle cx="252.1" cy="279.0" r="5.2"/><circle cx="268.2" cy="251.0" r="5.2"/><circle cx="270.3" cy="281.1" r="5.2"/><circle cx="255.4" cy="387.8" r="5.2"/><circle cx="254.6" cy="368.4" r="5.2"/><circle cx="249.2" cy="309.0" r="5.2"/><circle cx="258.7" cy="259.9" r="5.2"/><circle cx="254.3" cy="228.6" r="5.2"/><circle cx="275.9" cy="320.5" r="5.2"/><circle cx="258.8" cy="280.9" r="5.2"/><circle cx="267.2" cy="211.0" r="5.2"/><circle cx="251.6" cy="285.4" r="5.2"/><circle cx="264.6" cy="413.7" r="5.2"/><circle cx="253.9" cy="303.8" r="5.2"/><circle cx="254.3" cy="250.9" r="5.2"/><circle cx="270.9" cy="250.4" r="5.2"/><circle cx="265.4" cy="250.6" r="5.2"/><circle cx="268.4" cy="296.5" r="5.2"/><circle cx="253.6" cy="343.7" r="5.2"/><circle cx="262.8" cy="471.1" r="5.2"/><circle cx="259.6" cy="402.3" r="5.2"/><circle cx="264.6" cy="241.1" r="5.2"/><circle cx="268.2" cy="257.6" r="5.2"/><circle cx="252.0" cy="370.1" r="5.2"/><circle cx="264.6" cy="297.3" r="5.2"/><circle cx="255.2" cy="299.5" r="5.2"/><circle cx="269.9" cy="275.3" r="5.2"/><circle cx="250.2" cy="334.6" r="5.2"/><circle cx="276.5" cy="326.7" r="5.2"/><circle cx="260.2" cy="288.2" r="5.2"/><circle cx="260.8" cy="354.0" r="5.2"/><circle cx="271.2" cy="295.3" r="5.2"/><circle cx="261.4" cy="181.4" r="5.2"/><circle cx="255.9" cy="366.5" r="5.2"/><circle cx="273.6" cy="350.8" r="5.2"/><circle cx="274.1" cy="269.3" r="5.2"/><circle cx="262.2" cy="427.7" r="5.2"/><circle cx="266.6" cy="223.6" r="5.2"/><circle cx="253.8" cy="333.1" r="5.2"/><circle cx="271.7" cy="288.8" r="5.2"/><circle cx="254.3" cy="263.6" r="5.2"/><circle cx="252.9" cy="308.0" r="5.2"/><circle cx="258.3" cy="227.2" r="5.2"/><circle cx="266.5" cy="247.0" r="5.2"/><circle cx="262.1" cy="228.5" r="5.2"/><circle cx="269.5" cy="255.3" r="5.2"/><circle cx="267.1" cy="314.5" r="5.2"/><circle cx="269.4" cy="292.1" r="5.2"/><circle cx="258.9" cy="256.4" r="5.2"/><circle cx="271.8" cy="317.3" r="5.2"/><circle cx="256.4" cy="288.8" r="5.2"/><circle cx="259.9" cy="241.0" r="5.2"/><circle cx="265.1" cy="304.4" r="5.2"/><circle cx="250.1" cy="345.1" r="5.2"/><circle cx="263.1" cy="288.1" r="5.2"/><circle cx="266.3" cy="265.6" r="5.2"/><circle cx="262.9" cy="390.9" r="5.2"/><circle cx="266.1" cy="213.6" r="5.2"/><circle cx="264.1" cy="309.0" r="5.2"/><circle cx="256.6" cy="353.6" r="5.2"/><circle cx="261.6" cy="311.4" r="5.2"/><circle cx="255.9" cy="356.7" r="5.2"/><circle cx="268.5" cy="321.0" r="5.2"/><circle cx="250.8" cy="340.3" r="5.2"/><circle cx="276.5" cy="311.3" r="5.2"/><circle cx="260.9" cy="473.1" r="5.2"/><circle cx="263.0" cy="429.0" r="5.2"/><circle cx="263.3" cy="473.9" r="5.2"/><circle cx="261.0" cy="206.4" r="5.2"/><circle cx="277.0" cy="292.0" r="5.2"/><circle cx="263.7" cy="381.3" r="5.2"/><circle cx="257.4" cy="321.7" r="5.2"/><circle cx="262.8" cy="513.5" r="5.2"/><circle cx="257.5" cy="255.9" r="5.2"/><circle cx="273.6" cy="289.1" r="5.2"/><circle cx="271.0" cy="358.6" r="5.2"/><circle cx="252.5" cy="243.7" r="5.2"/><circle cx="256.0" cy="315.4" r="5.2"/><circle cx="268.0" cy="220.2" r="5.2"/><circle cx="260.1" cy="435.4" r="5.2"/><circle cx="260.0" cy="330.7" r="5.2"/><circle cx="268.3" cy="259.2" r="5.2"/><circle cx="260.2" cy="453.0" r="5.2"/><circle cx="275.4" cy="272.2" r="5.2"/><circle cx="270.8" cy="354.3" r="5.2"/><circle cx="257.3" cy="283.2" r="5.2"/><circle cx="259.8" cy="278.6" r="5.2"/><circle cx="249.3" cy="259.0" r="5.2"/><circle cx="273.2" cy="265.3" r="5.2"/><circle cx="250.9" cy="329.3" r="5.2"/><circle cx="255.7" cy="224.1" r="5.2"/><circle cx="261.3" cy="302.3" r="5.2"/><circle cx="262.4" cy="377.4" r="5.2"/><circle cx="248.5" cy="315.8" r="5.2"/><circle cx="258.7" cy="247.9" r="5.2"/><circle cx="262.8" cy="236.6" r="5.2"/><circle cx="256.7" cy="308.6" r="5.2"/><circle cx="262.7" cy="299.6" r="5.2"/><circle cx="261.1" cy="370.9" r="5.2"/><circle cx="259.3" cy="284.3" r="5.2"/><circle cx="263.2" cy="343.1" r="5.2"/><circle cx="261.1" cy="484.3" r="5.2"/><circle cx="259.4" cy="381.3" r="5.2"/><circle cx="258.8" cy="213.0" r="5.2"/><circle cx="261.8" cy="193.0" r="5.2"/><circle cx="265.6" cy="293.5" r="5.2"/><circle cx="256.3" cy="235.0" r="5.2"/><circle cx="262.8" cy="266.9" r="5.2"/><circle cx="258.8" cy="386.3" r="5.2"/><circle cx="259.2" cy="335.4" r="5.2"/><circle cx="272.0" cy="339.4" r="5.2"/><circle cx="263.6" cy="279.4" r="5.2"/><circle cx="272.2" cy="370.3" r="5.2"/><circle cx="260.6" cy="480.5" r="5.2"/><circle cx="256.5" cy="324.4" r="5.2"/><circle cx="268.1" cy="380.8" r="5.2"/><circle cx="254.8" cy="349.9" r="5.2"/><circle cx="248.5" cy="347.6" r="5.2"/><circle cx="261.0" cy="513.3" r="5.2"/><circle cx="261.7" cy="211.3" r="5.2"/><circle cx="263.2" cy="306.5" r="5.2"/><circle cx="271.6" cy="259.7" r="5.2"/><circle cx="259.7" cy="314.1" r="5.2"/><circle cx="261.7" cy="229.5" r="5.2"/><circle cx="258.3" cy="325.0" r="5.2"/><circle cx="273.4" cy="309.6" r="5.2"/><circle cx="267.3" cy="330.7" r="5.2"/><circle cx="262.9" cy="322.9" r="5.2"/><circle cx="258.0" cy="293.1" r="5.2"/><circle cx="257.7" cy="394.2" r="5.2"/><circle cx="259.6" cy="209.0" r="5.2"/><circle cx="259.6" cy="270.0" r="5.2"/><circle cx="253.1" cy="272.7" r="5.2"/><circle cx="274.7" cy="283.8" r="5.2"/><circle cx="266.1" cy="274.8" r="5.2"/><circle cx="261.2" cy="220.3" r="5.2"/><circle cx="262.3" cy="434.2" r="5.2"/><circle cx="260.2" cy="486.8" r="5.2"/><circle cx="266.4" cy="385.8" r="5.2"/><circle cx="273.1" cy="361.7" r="5.2"/><circle cx="261.8" cy="468.5" r="5.2"/><circle cx="264.0" cy="226.1" r="5.2"/><circle cx="258.2" cy="350.7" r="5.2"/><circle cx="262.3" cy="476.5" r="5.2"/><circle cx="260.5" cy="445.4" r="5.2"/><circle cx="260.3" cy="194.8" r="5.2"/><circle cx="248.6" cy="338.4" r="5.2"/><circle cx="270.7" cy="271.8" r="5.2"/><circle cx="265.1" cy="350.7" r="5.2"/><circle cx="268.8" cy="303.7" r="5.2"/><circle cx="263.3" cy="272.0" r="5.2"/><circle cx="263.7" cy="375.1" r="5.2"/><circle cx="263.2" cy="214.3" r="5.2"/><circle cx="272.2" cy="321.5" r="5.2"/><circle cx="270.8" cy="287.4" r="5.2"/><circle cx="272.7" cy="282.4" r="5.2"/><circle cx="262.6" cy="281.2" r="5.2"/><circle cx="270.0" cy="375.2" r="5.2"/><circle cx="273.8" cy="340.4" r="5.2"/><circle cx="250.1" cy="304.5" r="5.2"/><circle cx="257.2" cy="214.4" r="5.2"/><circle cx="254.3" cy="268.4" r="5.2"/><circle cx="261.3" cy="476.3" r="5.2"/><circle cx="258.5" cy="235.6" r="5.2"/><circle cx="259.2" cy="394.5" r="5.2"/><circle cx="261.4" cy="339.0" r="5.2"/><circle cx="254.8" cy="275.6" r="5.2"/><circle cx="268.3" cy="388.3" r="5.2"/><circle cx="251.1" cy="309.8" r="5.2"/><circle cx="253.7" cy="321.0" r="5.2"/><circle cx="261.5" cy="268.2" r="5.2"/><circle cx="267.4" cy="376.1" r="5.2"/><circle cx="259.7" cy="360.3" r="5.2"/><circle cx="267.1" cy="235.3" r="5.2"/><circle cx="267.4" cy="278.9" r="5.2"/><circle cx="259.3" cy="322.4" r="5.2"/><circle cx="266.3" cy="336.0" r="5.2"/><circle cx="257.8" cy="389.5" r="5.2"/><circle cx="254.3" cy="362.9" r="5.2"/><circle cx="264.7" cy="208.0" r="5.2"/><circle cx="264.5" cy="384.7" r="5.2"/><circle cx="262.3" cy="191.9" r="5.2"/><circle cx="261.2" cy="282.0" r="5.2"/><circle cx="267.8" cy="357.5" r="5.2"/><circle cx="261.8" cy="365.7" r="5.2"/><circle cx="261.2" cy="388.7" r="5.2"/><circle cx="256.8" cy="385.3" r="5.2"/><circle cx="268.1" cy="365.1" r="5.2"/><circle cx="269.2" cy="327.1" r="5.2"/><circle cx="261.2" cy="433.3" r="5.2"/><circle cx="262.0" cy="587.3" r="5.2"/><circle cx="255.6" cy="322.8" r="5.2"/><circle cx="274.4" cy="357.3" r="5.2"/><circle cx="262.9" cy="417.2" r="5.2"/><circle cx="269.4" cy="325.8" r="5.2"/><circle cx="268.0" cy="272.6" r="5.2"/><circle cx="276.8" cy="276.1" r="5.2"/><circle cx="262.5" cy="387.7" r="5.2"/><circle cx="264.9" cy="340.0" r="5.2"/><circle cx="269.7" cy="309.9" r="5.2"/><circle cx="262.5" cy="356.9" r="5.2"/><circle cx="271.1" cy="256.2" r="5.2"/><circle cx="260.2" cy="323.9" r="5.2"/><circle cx="276.0" cy="295.8" r="5.2"/><circle cx="269.6" cy="228.9" r="5.2"/><circle cx="264.9" cy="375.8" r="5.2"/><circle cx="263.5" cy="431.6" r="5.2"/><circle cx="249.2" cy="332.1" r="5.2"/><circle cx="254.1" cy="354.1" r="5.2"/><circle cx="259.2" cy="355.7" r="5.2"/><circle cx="269.3" cy="240.6" r="5.2"/><circle cx="268.9" cy="231.8" r="5.2"/><circle cx="256.2" cy="342.9" r="5.2"/><circle cx="253.7" cy="260.9" r="5.2"/><circle cx="255.7" cy="305.9" r="5.2"/><circle cx="256.1" cy="247.7" r="5.2"/><circle cx="260.1" cy="417.4" r="5.2"/><circle cx="266.8" cy="391.7" r="5.2"/><circle cx="262.6" cy="480.4" r="5.2"/><circle cx="250.1" cy="365.5" r="5.2"/><circle cx="252.6" cy="356.3" r="5.2"/><circle cx="274.4" cy="262.3" r="5.2"/><circle cx="252.7" cy="342.2" r="5.2"/><circle cx="250.8" cy="354.8" r="5.2"/><circle cx="261.5" cy="443.9" r="5.2"/><circle cx="255.9" cy="271.9" r="5.2"/><circle cx="260.5" cy="343.3" r="5.2"/><circle cx="265.7" cy="229.5" r="5.2"/></g><g fill="#98DF8A" stroke="#98DF8A"><circle cx="307.1" cy="561.9" r="5.2"/><circle cx="304.0" cy="513.6" r="5.2"/><circle cx="297.9" cy="545.8" r="5.2"/><circle cx="303.5" cy="441.7" r="5.2"/><circle cx="307.9" cy="540.9" r="5.2"/><circle cx="301.8" cy="525.3" r="5.2"/><circle cx="318.6" cy="587.3" r="5.2"/><circle cx="303.0" cy="499.5" r="5.2"/><circle cx="318.5" cy="587.3" r="5.2"/><circle cx="298.8" cy="559.3" r="5.2"/><circle cx="303.3" cy="510.5" r="5.2"/><circle cx="304.9" cy="523.2" r="5.2"/><circle cx="318.2" cy="587.3" r="5.2"/><circle cx="302.4" cy="515.5" r="5.2"/><circle cx="304.6" cy="515.8" r="5.2"/><circle cx="318.3" cy="587.3" r="5.2"/><circle cx="307.4" cy="566.1" r="5.2"/><circle cx="303.9" cy="502.4" r="5.2"/><circle cx="303.7" cy="517.9" r="5.2"/><circle cx="308.4" cy="539.2" r="5.2"/><circle cx="304.1" cy="521.4" r="5.2"/><circle cx="307.4" cy="532.9" r="5.2"/><circle cx="288.5" cy="587.3" r="5.2"/><circle cx="307.7" cy="552.1" r="5.2"/><circle cx="305.7" cy="529.0" r="5.2"/><circle cx="299.2" cy="561.4" r="5.2"/><circle cx="300.8" cy="534.9" r="5.2"/><circle cx="301.5" cy="521.6" r="5.2"/><circle cx="300.9" cy="564.6" r="5.2"/><circle cx="307.4" cy="537.1" r="5.2"/><circle cx="317.9" cy="587.3" r="5.2"/><circle cx="317.4" cy="587.3" r="5.2"/><circle cx="299.3" cy="557.1" r="5.2"/><circle cx="288.2" cy="587.3" r="5.2"/><circle cx="298.4" cy="550.0" r="5.2"/><circle cx="299.8" cy="531.2" r="5.2"/><circle cx="308.4" cy="555.0" r="5.2"/><circle cx="308.2" cy="546.8" r="5.2"/><circle cx="302.0" cy="523.3" r="5.2"/><circle cx="307.5" cy="546.3" r="5.2"/><circle cx="288.3" cy="587.3" r="5.2"/><circle cx="306.5" cy="524.9" r="5.2"/><circle cx="298.3" cy="564.9" r="5.2"/><circle cx="306.6" cy="535.8" r="5.2"/><circle cx="299.2" cy="540.8" r="5.2"/><circle cx="298.6" cy="545.1" r="5.2"/><circle cx="303.5" cy="523.3" r="5.2"/><circle cx="299.7" cy="563.2" r="5.2"/><circle cx="306.3" cy="526.9" r="5.2"/><circle cx="305.7" cy="550.2" r="5.2"/><circle cx="317.6" cy="587.3" r="5.2"/><circle cx="307.5" cy="557.9" r="5.2"/><circle cx="300.7" cy="565.9" r="5.2"/><circle cx="306.6" cy="541.6" r="5.2"/><circle cx="300.9" cy="526.4" r="5.2"/><circle cx="307.2" cy="540.0" r="5.2"/><circle cx="307.8" cy="559.3" r="5.2"/><circle cx="288.8" cy="587.3" r="5.2"/><circle cx="300.6" cy="556.3" r="5.2"/><circle cx="299.4" cy="536.8" r="5.2"/><circle cx="317.1" cy="587.3" r="5.2"/><circle cx="307.0" cy="542.7" r="5.2"/><circle cx="298.8" cy="551.8" r="5.2"/><circle cx="300.4" cy="559.9" r="5.2"/><circle cx="299.3" cy="545.5" r="5.2"/><circle cx="308.5" cy="550.0" r="5.2"/><circle cx="303.1" cy="534.0" r="5.2"/><circle cx="298.5" cy="539.0" r="5.2"/><circle cx="305.4" cy="548.4" r="5.2"/><circle cx="298.4" cy="541.8" r="5.2"/><circle cx="306.2" cy="558.8" r="5.2"/><circle cx="308.6" cy="565.1" r="5.2"/><circle cx="300.7" cy="545.6" r="5.2"/><circle cx="305.4" cy="534.3" r="5.2"/><circle cx="305.7" cy="587.3" r="5.2"/><circle cx="298.4" cy="554.8" r="5.2"/><circle cx="316.8" cy="587.3" r="5.2"/><circle cx="307.7" cy="545.1" r="5.2"/><circle cx="303.4" cy="471.1" r="5.2"/><circle cx="316.9" cy="587.3" r="5.2"/><circle cx="289.1" cy="587.3" r="5.2"/><circle cx="301.5" cy="587.3" r="5.2"/><circle cx="305.3" cy="559.4" r="5.2"/><circle cx="305.7" cy="525.4" r="5.2"/><circle cx="303.0" cy="527.1" r="5.2"/><circle cx="307.4" cy="587.3" r="5.2"/><circle cx="308.2" cy="587.3" r="5.2"/><circle cx="300.5" cy="546.2" r="5.2"/><circle cx="299.8" cy="548.7" r="5.2"/><circle cx="304.0" cy="587.3" r="5.2"/><circle cx="303.4" cy="565.6" r="5.2"/><circle cx="301.1" cy="528.8" r="5.2"/><circle cx="304.0" cy="549.6" r="5.2"/><circle cx="289.8" cy="587.3" r="5.2"/><circle cx="289.2" cy="587.3" r="5.2"/><circle cx="293.3" cy="587.3" r="5.2"/><circle cx="316.4" cy="587.3" r="5.2"/><circle cx="303.4" cy="564.7" r="5.2"/><circle cx="303.4" cy="525.0" r="5.2"/><circle cx="316.3" cy="587.3" r="5.2"/><circle cx="309.0" cy="587.3" r="5.2"/><circle cx="304.3" cy="536.4" r="5.2"/><circle cx="303.4" cy="487.5" r="5.2"/><circle cx="310.5" cy="587.3" r="5.2"/><circle cx="309.9" cy="587.3" r="5.2"/><circle cx="315.0" cy="587.3" r="5.2"/><circle cx="306.0" cy="565.7" r="5.2"/><circle cx="308.9" cy="545.8" r="5.2"/><circle cx="305.2" cy="519.8" r="5.2"/><circle cx="303.1" cy="555.2" r="5.2"/><circle cx="289.6" cy="587.3" r="5.2"/><circle cx="302.6" cy="587.3" r="5.2"/><circle cx="295.2" cy="587.3" r="5.2"/><circle cx="297.9" cy="587.3" r="5.2"/><circle cx="308.8" cy="587.3" r="5.2"/><circle cx="306.0" cy="564.2" r="5.2"/><circle cx="317.3" cy="587.3" r="5.2"/><circle cx="290.8" cy="587.3" r="5.2"/><circle cx="299.6" cy="587.3" r="5.2"/><circle cx="302.7" cy="517.0" r="5.2"/><circle cx="311.6" cy="587.3" r="5.2"/><circle cx="295.8" cy="587.3" r="5.2"/><circle cx="304.6" cy="587.3" r="5.2"/><circle cx="290.7" cy="587.3" r="5.2"/><circle cx="304.9" cy="525.2" r="5.2"/><circle cx="299.0" cy="546.7" r="5.2"/><circle cx="301.1" cy="538.7" r="5.2"/><circle cx="304.2" cy="526.0" r="5.2"/><circle cx="301.2" cy="549.2" r="5.2"/><circle cx="300.0" cy="558.7" r="5.2"/><circle cx="306.1" cy="546.0" r="5.2"/><circle cx="301.9" cy="546.5" r="5.2"/><circle cx="290.4" cy="587.3" r="5.2"/><circle cx="302.4" cy="537.5" r="5.2"/><circle cx="304.1" cy="587.3" r="5.2"/><circle cx="299.2" cy="587.3" r="5.2"/><circle cx="295.7" cy="587.3" r="5.2"/><circle cx="300.5" cy="587.3" r="5.2"/><circle cx="301.6" cy="518.6" r="5.2"/><circle cx="308.3" cy="541.8" r="5.2"/><circle cx="313.5" cy="587.3" r="5.2"/><circle cx="305.2" cy="541.0" r="5.2"/><circle cx="315.2" cy="587.3" r="5.2"/><circle cx="301.3" cy="558.9" r="5.2"/><circle cx="314.0" cy="587.3" r="5.2"/><circle cx="304.9" cy="537.5" r="5.2"/><circle cx="303.2" cy="587.3" r="5.2"/><circle cx="314.6" cy="587.3" r="5.2"/><circle cx="306.5" cy="560.6" r="5.2"/><circle cx="293.7" cy="587.3" r="5.2"/><circle cx="312.3" cy="587.3" r="5.2"/><circle cx="299.9" cy="538.4" r="5.2"/><circle cx="314.7" cy="587.3" r="5.2"/><circle cx="293.1" cy="587.3" r="5.2"/><circle cx="300.5" cy="524.5" r="5.2"/><circle cx="306.3" cy="545.5" r="5.2"/></g><g fill="#D62728" stroke="#D62728"><circle cx="329.7" cy="587.3" r="5.2"/><circle cx="344.8" cy="360.2" r="5.2"/><circle cx="329.6" cy="587.3" r="5.2"/><circle cx="330.1" cy="587.3" r="5.2"/><circle cx="346.4" cy="548.6" r="5.2"/><circle cx="330.0" cy="587.3" r="5.2"/><circle cx="344.9" cy="85.4" r="5.2"/><circle cx="360.0" cy="587.3" r="5.2"/><circle cx="359.4" cy="587.3" r="5.2"/><circle cx="345.0" cy="345.3" r="5.2"/><circle cx="348.7" cy="587.3" r="5.2"/><circle cx="348.0" cy="587.3" r="5.2"/><circle cx="358.8" cy="587.3" r="5.2"/><circle cx="356.0" cy="587.3" r="5.2"/><circle cx="340.6" cy="587.3" r="5.2"/><circle cx="331.4" cy="587.3" r="5.2"/><circle cx="346.8" cy="587.3" r="5.2"/><circle cx="339.2" cy="587.3" r="5.2"/><circle cx="350.4" cy="587.3" r="5.2"/><circle cx="351.1" cy="587.3" r="5.2"/><circle cx="352.1" cy="587.3" r="5.2"/><circle cx="337.5" cy="587.3" r="5.2"/><circle cx="338.8" cy="587.3" r="5.2"/><circle cx="329.8" cy="587.3" r="5.2"/><circle cx="336.7" cy="587.3" r="5.2"/><circle cx="357.5" cy="587.3" r="5.2"/><circle cx="343.2" cy="587.3" r="5.2"/><circle cx="330.6" cy="587.3" r="5.2"/><circle cx="345.2" cy="587.3" r="5.2"/><circle cx="353.1" cy="587.3" r="5.2"/><circle cx="332.0" cy="587.3" r="5.2"/><circle cx="347.1" cy="587.3" r="5.2"/><circle cx="333.9" cy="587.3" r="5.2"/><circle cx="357.0" cy="587.3" r="5.2"/><circle cx="347.5" cy="587.3" r="5.2"/><circle cx="355.0" cy="587.3" r="5.2"/><circle cx="359.8" cy="587.3" r="5.2"/><circle cx="352.9" cy="587.3" r="5.2"/><circle cx="354.8" cy="587.3" r="5.2"/><circle cx="351.3" cy="587.3" r="5.2"/><circle cx="357.2" cy="587.3" r="5.2"/><circle cx="343.9" cy="587.3" r="5.2"/><circle cx="359.9" cy="587.3" r="5.2"/><circle cx="344.2" cy="587.3" r="5.2"/><circle cx="344.8" cy="330.4" r="5.2"/><circle cx="334.5" cy="587.3" r="5.2"/><circle cx="335.4" cy="587.3" r="5.2"/><circle cx="340.7" cy="587.3" r="5.2"/><circle cx="332.1" cy="587.3" r="5.2"/></g><g fill="#FF9896" stroke="#FF9896"><circle cx="386.6" cy="484.0" r="5.2"/><circle cx="388.0" cy="526.5" r="5.2"/><circle cx="386.4" cy="400.4" r="5.2"/><circle cx="384.3" cy="489.8" r="5.2"/><circle cx="387.3" cy="469.2" r="5.2"/><circle cx="387.2" cy="523.2" r="5.2"/><circle cx="384.7" cy="500.8" r="5.2"/><circle cx="388.0" cy="493.8" r="5.2"/><circle cx="386.1" cy="464.2" r="5.2"/><circle cx="386.8" cy="529.6" r="5.2"/><circle cx="387.4" cy="492.0" r="5.2"/><circle cx="384.8" cy="514.6" r="5.2"/><circle cx="384.5" cy="526.2" r="5.2"/><circle cx="384.8" cy="533.1" r="5.2"/><circle cx="385.8" cy="527.5" r="5.2"/><circle cx="386.5" cy="447.7" r="5.2"/><circle cx="387.9" cy="486.5" r="5.2"/><circle cx="388.4" cy="489.9" r="5.2"/><circle cx="383.7" cy="512.3" r="5.2"/><circle cx="388.5" cy="499.8" r="5.2"/><circle cx="386.1" cy="449.5" r="5.2"/><circle cx="386.6" cy="525.8" r="5.2"/><circle cx="371.4" cy="587.3" r="5.2"/><circle cx="386.3" cy="491.6" r="5.2"/><circle cx="401.5" cy="587.3" r="5.2"/><circle cx="386.9" cy="487.1" r="5.2"/><circle cx="384.9" cy="476.8" r="5.2"/><circle cx="387.4" cy="487.5" r="5.2"/><circle cx="387.8" cy="533.7" r="5.2"/><circle cx="385.3" cy="502.8" r="5.2"/><circle cx="384.5" cy="517.3" r="5.2"/><circle cx="388.2" cy="514.6" r="5.2"/><circle cx="388.5" cy="508.7" r="5.2"/><circle cx="388.1" cy="506.2" r="5.2"/><circle cx="384.2" cy="515.6" r="5.2"/><circle cx="384.9" cy="524.2" r="5.2"/><circle cx="385.7" cy="475.9" r="5.2"/><circle cx="384.0" cy="521.4" r="5.2"/><circle cx="387.2" cy="474.8" r="5.2"/><circle cx="385.5" cy="514.7" r="5.2"/><circle cx="371.1" cy="587.3" r="5.2"/><circle cx="387.0" cy="535.2" r="5.2"/><circle cx="401.1" cy="587.3" r="5.2"/><circle cx="387.1" cy="509.3" r="5.2"/><circle cx="387.8" cy="477.7" r="5.2"/><circle cx="385.3" cy="520.6" r="5.2"/><circle cx="385.5" cy="531.8" r="5.2"/><circle cx="371.8" cy="587.3" r="5.2"/><circle cx="372.1" cy="587.3" r="5.2"/><circle cx="387.2" cy="517.3" r="5.2"/><circle cx="387.0" cy="478.1" r="5.2"/><circle cx="385.7" cy="496.3" r="5.2"/><circle cx="386.5" cy="465.5" r="5.2"/><circle cx="387.9" cy="501.1" r="5.2"/><circle cx="386.5" cy="476.5" r="5.2"/><circle cx="401.4" cy="587.3" r="5.2"/><circle cx="372.4" cy="587.3" r="5.2"/><circle cx="400.9" cy="587.3" r="5.2"/><circle cx="373.1" cy="587.3" r="5.2"/><circle cx="387.4" cy="504.7" r="5.2"/><circle cx="386.1" cy="522.6" r="5.2"/><circle cx="377.0" cy="587.3" r="5.2"/><circle cx="388.5" cy="522.4" r="5.2"/><circle cx="385.7" cy="535.9" r="5.2"/><circle cx="386.3" cy="534.1" r="5.2"/><circle cx="384.9" cy="487.2" r="5.2"/><circle cx="385.9" cy="487.1" r="5.2"/><circle cx="384.4" cy="499.6" r="5.2"/><circle cx="401.3" cy="587.3" r="5.2"/><circle cx="400.4" cy="587.3" r="5.2"/><circle cx="385.3" cy="488.5" r="5.2"/><circle cx="385.2" cy="492.0" r="5.2"/><circle cx="388.9" cy="512.7" r="5.2"/><circle cx="375.9" cy="587.3" r="5.2"/><circle cx="384.4" cy="510.5" r="5.2"/><circle cx="387.5" cy="482.4" r="5.2"/><circle cx="372.8" cy="587.3" r="5.2"/><circle cx="386.6" cy="451.5" r="5.2"/><circle cx="386.3" cy="442.6" r="5.2"/><circle cx="386.1" cy="471.5" r="5.2"/><circle cx="387.8" cy="519.2" r="5.2"/><circle cx="386.5" cy="587.3" r="5.2"/><circle cx="387.3" cy="536.1" r="5.2"/><circle cx="385.3" cy="481.4" r="5.2"/><circle cx="397.1" cy="587.3" r="5.2"/><circle cx="384.6" cy="486.5" r="5.2"/><circle cx="398.5" cy="587.3" r="5.2"/><circle cx="381.9" cy="587.3" r="5.2"/><circle cx="373.4" cy="587.3" r="5.2"/><circle cx="385.5" cy="525.6" r="5.2"/><circle cx="384.0" cy="503.0" r="5.2"/><circle cx="394.9" cy="587.3" r="5.2"/><circle cx="380.1" cy="587.3" r="5.2"/><circle cx="385.7" cy="483.8" r="5.2"/><circle cx="384.8" cy="505.3" r="5.2"/><circle cx="380.9" cy="587.3" r="5.2"/><circle cx="386.9" cy="497.8" r="5.2"/><circle cx="387.8" cy="524.8" r="5.2"/><circle cx="385.6" cy="465.7" r="5.2"/><circle cx="373.5" cy="587.3" r="5.2"/><circle cx="385.8" cy="508.7" r="5.2"/><circle cx="385.4" cy="506.6" r="5.2"/><circle cx="378.0" cy="587.3" r="5.2"/><circle cx="386.3" cy="587.3" r="5.2"/><circle cx="386.5" cy="521.1" r="5.2"/><circle cx="374.7" cy="587.3" r="5.2"/><circle cx="386.2" cy="477.7" r="5.2"/><circle cx="387.8" cy="510.5" r="5.2"/><circle cx="386.9" cy="514.9" r="5.2"/><circle cx="394.0" cy="587.3" r="5.2"/><circle cx="384.5" cy="587.3" r="5.2"/><circle cx="386.7" cy="587.3" r="5.2"/><circle cx="394.6" cy="587.3" r="5.2"/><circle cx="392.4" cy="587.3" r="5.2"/><circle cx="387.2" cy="531.0" r="5.2"/><circle cx="387.2" cy="500.0" r="5.2"/><circle cx="375.2" cy="587.3" r="5.2"/><circle cx="391.8" cy="587.3" r="5.2"/><circle cx="383.0" cy="587.3" r="5.2"/><circle cx="389.4" cy="587.3" r="5.2"/><circle cx="388.7" cy="503.9" r="5.2"/><circle cx="386.8" cy="473.3" r="5.2"/><circle cx="393.2" cy="587.3" r="5.2"/><circle cx="399.0" cy="587.3" r="5.2"/><circle cx="392.6" cy="587.3" r="5.2"/><circle cx="371.2" cy="587.3" r="5.2"/><circle cx="389.7" cy="587.3" r="5.2"/><circle cx="399.9" cy="587.3" r="5.2"/><circle cx="388.5" cy="516.0" r="5.2"/><circle cx="379.5" cy="587.3" r="5.2"/><circle cx="384.9" cy="529.7" r="5.2"/><circle cx="379.0" cy="587.3" r="5.2"/><circle cx="385.4" cy="474.0" r="5.2"/><circle cx="390.3" cy="587.3" r="5.2"/><circle cx="400.7" cy="587.3" r="5.2"/><circle cx="383.6" cy="587.3" r="5.2"/><circle cx="400.5" cy="587.3" r="5.2"/><circle cx="384.1" cy="507.6" r="5.2"/></g><g fill="#9467BD" stroke="#9467BD"><circle cx="428.0" cy="410.1" r="5.2"/><circle cx="427.1" cy="534.5" r="5.2"/><circle cx="442.8" cy="587.3" r="5.2"/><circle cx="426.1" cy="487.9" r="5.2"/><circle cx="427.8" cy="427.2" r="5.2"/><circle cx="431.2" cy="522.3" r="5.2"/><circle cx="424.6" cy="508.1" r="5.2"/><circle cx="424.1" cy="511.5" r="5.2"/><circle cx="429.5" cy="494.5" r="5.2"/><circle cx="427.3" cy="491.5" r="5.2"/><circle cx="424.4" cy="514.5" r="5.2"/><circle cx="428.6" cy="491.8" r="5.2"/><circle cx="425.0" cy="517.8" r="5.2"/><circle cx="412.6" cy="587.3" r="5.2"/><circle cx="431.4" cy="509.0" r="5.2"/><circle cx="430.6" cy="495.9" r="5.2"/><circle cx="425.4" cy="513.2" r="5.2"/><circle cx="424.2" cy="520.3" r="5.2"/><circle cx="425.7" cy="505.4" r="5.2"/><circle cx="430.8" cy="505.9" r="5.2"/><circle cx="426.2" cy="510.9" r="5.2"/><circle cx="425.7" cy="526.1" r="5.2"/><circle cx="429.6" cy="488.8" r="5.2"/><circle cx="426.5" cy="495.0" r="5.2"/><circle cx="412.5" cy="587.3" r="5.2"/><circle cx="442.7" cy="587.3" r="5.2"/><circle cx="428.0" cy="520.2" r="5.2"/><circle cx="427.0" cy="516.8" r="5.2"/><circle cx="413.1" cy="587.3" r="5.2"/><circle cx="425.1" cy="524.0" r="5.2"/><circle cx="425.3" cy="528.9" r="5.2"/><circle cx="429.6" cy="526.4" r="5.2"/><circle cx="427.7" cy="522.8" r="5.2"/><circle cx="431.1" cy="515.1" r="5.2"/><circle cx="412.8" cy="587.3" r="5.2"/><circle cx="427.6" cy="531.0" r="5.2"/><circle cx="428.9" cy="525.8" r="5.2"/><circle cx="426.1" cy="519.9" r="5.2"/><circle cx="428.1" cy="468.1" r="5.2"/><circle cx="430.6" cy="524.1" r="5.2"/><circle cx="425.9" cy="523.0" r="5.2"/><circle cx="425.1" cy="510.2" r="5.2"/><circle cx="430.3" cy="523.2" r="5.2"/><circle cx="427.6" cy="406.3" r="5.2"/><circle cx="428.5" cy="523.5" r="5.2"/><circle cx="430.6" cy="500.8" r="5.2"/><circle cx="442.2" cy="587.3" r="5.2"/><circle cx="427.9" cy="452.5" r="5.2"/><circle cx="427.2" cy="509.6" r="5.2"/><circle cx="426.8" cy="506.0" r="5.2"/><circle cx="428.2" cy="487.6" r="5.2"/><circle cx="413.4" cy="587.3" r="5.2"/><circle cx="429.9" cy="497.1" r="5.2"/><circle cx="441.9" cy="587.3" r="5.2"/><circle cx="428.1" cy="527.6" r="5.2"/><circle cx="427.8" cy="370.6" r="5.2"/><circle cx="425.8" cy="496.2" r="5.2"/><circle cx="428.8" cy="506.4" r="5.2"/><circle cx="413.5" cy="587.3" r="5.2"/><circle cx="442.5" cy="587.3" r="5.2"/><circle cx="426.5" cy="526.5" r="5.2"/><circle cx="430.6" cy="513.2" r="5.2"/><circle cx="424.9" cy="503.1" r="5.2"/><circle cx="424.7" cy="500.0" r="5.2"/><circle cx="420.2" cy="587.3" r="5.2"/><circle cx="428.7" cy="532.2" r="5.2"/><circle cx="426.9" cy="500.9" r="5.2"/><circle cx="441.0" cy="587.3" r="5.2"/><circle cx="427.4" cy="496.0" r="5.2"/><circle cx="415.1" cy="587.3" r="5.2"/><circle cx="425.6" cy="587.3" r="5.2"/><circle cx="440.8" cy="587.3" r="5.2"/><circle cx="428.8" cy="502.8" r="5.2"/><circle cx="429.8" cy="505.3" r="5.2"/><circle cx="426.4" cy="532.3" r="5.2"/><circle cx="423.7" cy="587.3" r="5.2"/><circle cx="429.0" cy="516.9" r="5.2"/><circle cx="431.8" cy="504.9" r="5.2"/><circle cx="426.0" cy="491.9" r="5.2"/><circle cx="429.1" cy="534.4" r="5.2"/><circle cx="427.6" cy="462.9" r="5.2"/><circle cx="426.5" cy="587.3" r="5.2"/><circle cx="417.9" cy="587.3" r="5.2"/><circle cx="421.3" cy="587.3" r="5.2"/><circle cx="436.7" cy="587.3" r="5.2"/><circle cx="413.0" cy="587.3" r="5.2"/><circle cx="423.8" cy="504.2" r="5.2"/><circle cx="428.3" cy="499.8" r="5.2"/><circle cx="426.6" cy="497.9" r="5.2"/><circle cx="439.1" cy="587.3" r="5.2"/><circle cx="425.9" cy="503.6" r="5.2"/><circle cx="423.5" cy="587.3" r="5.2"/><circle cx="440.3" cy="587.3" r="5.2"/><circle cx="421.8" cy="587.3" r="5.2"/><circle cx="416.9" cy="587.3" r="5.2"/><circle cx="426.0" cy="587.3" r="5.2"/><circle cx="434.1" cy="587.3" r="5.2"/><circle cx="443.0" cy="587.3" r="5.2"/><circle cx="428.3" cy="587.3" r="5.2"/><circle cx="414.6" cy="587.3" r="5.2"/><circle cx="429.9" cy="587.3" r="5.2"/><circle cx="431.4" cy="587.3" r="5.2"/><circle cx="430.1" cy="530.6" r="5.2"/><circle cx="432.6" cy="587.3" r="5.2"/><circle cx="440.9" cy="587.3" r="5.2"/><circle cx="431.7" cy="511.5" r="5.2"/><circle cx="428.0" cy="495.2" r="5.2"/><circle cx="430.5" cy="587.3" r="5.2"/><circle cx="429.8" cy="503.3" r="5.2"/><circle cx="436.1" cy="587.3" r="5.2"/><circle cx="433.3" cy="587.3" r="5.2"/><circle cx="432.7" cy="587.3" r="5.2"/><circle cx="424.9" cy="495.8" r="5.2"/><circle cx="422.3" cy="587.3" r="5.2"/><circle cx="415.5" cy="587.3" r="5.2"/><circle cx="427.8" cy="505.1" r="5.2"/><circle cx="427.6" cy="471.9" r="5.2"/><circle cx="427.9" cy="587.3" r="5.2"/><circle cx="430.0" cy="518.8" r="5.2"/><circle cx="436.6" cy="587.3" r="5.2"/><circle cx="439.0" cy="587.3" r="5.2"/><circle cx="415.9" cy="587.3" r="5.2"/><circle cx="430.3" cy="587.3" r="5.2"/><circle cx="419.4" cy="587.3" r="5.2"/><circle cx="427.9" cy="554.5" r="5.2"/></g><g fill="#C5B0D5" stroke="#C5B0D5"><circle cx="465.2" cy="482.3" r="5.2"/><circle cx="473.0" cy="499.4" r="5.2"/><circle cx="469.8" cy="447.1" r="5.2"/><circle cx="484.4" cy="587.3" r="5.2"/><circle cx="466.7" cy="469.7" r="5.2"/><circle cx="472.1" cy="465.8" r="5.2"/><circle cx="470.4" cy="469.0" r="5.2"/><circle cx="470.3" cy="441.1" r="5.2"/><circle cx="472.5" cy="497.8" r="5.2"/><circle cx="466.9" cy="484.9" r="5.2"/><circle cx="467.5" cy="472.7" r="5.2"/><circle cx="467.7" cy="445.5" r="5.2"/><circle cx="472.3" cy="493.2" r="5.2"/><circle cx="468.8" cy="476.4" r="5.2"/><circle cx="466.4" cy="514.8" r="5.2"/><circle cx="484.2" cy="587.3" r="5.2"/><circle cx="469.3" cy="404.8" r="5.2"/><circle cx="464.5" cy="485.9" r="5.2"/><circle cx="472.0" cy="459.2" r="5.2"/><circle cx="469.9" cy="463.9" r="5.2"/><circle cx="470.6" cy="453.9" r="5.2"/><circle cx="483.9" cy="587.3" r="5.2"/><circle cx="483.7" cy="587.3" r="5.2"/><circle cx="467.6" cy="480.2" r="5.2"/><circle cx="468.1" cy="454.5" r="5.2"/><circle cx="470.7" cy="445.8" r="5.2"/><circle cx="465.7" cy="484.4" r="5.2"/><circle cx="470.6" cy="461.0" r="5.2"/><circle cx="469.2" cy="486.5" r="5.2"/><circle cx="472.0" cy="516.3" r="5.2"/><circle cx="471.6" cy="484.7" r="5.2"/><circle cx="474.0" cy="486.5" r="5.2"/><circle cx="473.5" cy="491.0" r="5.2"/><circle cx="470.5" cy="484.1" r="5.2"/><circle cx="470.6" cy="508.9" r="5.2"/><circle cx="467.8" cy="520.4" r="5.2"/><circle cx="471.2" cy="513.1" r="5.2"/><circle cx="469.9" cy="480.9" r="5.2"/><circle cx="468.4" cy="439.6" r="5.2"/><circle cx="472.0" cy="477.3" r="5.2"/><circle cx="470.4" cy="489.4" r="5.2"/><circle cx="466.6" cy="458.1" r="5.2"/><circle cx="472.6" cy="507.5" r="5.2"/><circle cx="465.4" cy="475.4" r="5.2"/><circle cx="469.0" cy="519.3" r="5.2"/><circle cx="465.6" cy="489.8" r="5.2"/><circle cx="467.8" cy="447.8" r="5.2"/><circle cx="467.6" cy="461.1" r="5.2"/><circle cx="473.6" cy="500.7" r="5.2"/><circle cx="484.3" cy="587.3" r="5.2"/><circle cx="467.0" cy="505.0" r="5.2"/><circle cx="471.3" cy="502.0" r="5.2"/><circle cx="470.8" cy="521.5" r="5.2"/><circle cx="469.4" cy="455.9" r="5.2"/><circle cx="454.0" cy="587.3" r="5.2"/><circle cx="470.9" cy="476.7" r="5.2"/><circle cx="454.1" cy="587.3" r="5.2"/><circle cx="467.0" cy="512.6" r="5.2"/><circle cx="466.8" cy="487.3" r="5.2"/><circle cx="466.1" cy="499.5" r="5.2"/><circle cx="467.4" cy="493.7" r="5.2"/><circle cx="472.2" cy="505.6" r="5.2"/><circle cx="466.2" cy="493.0" r="5.2"/><circle cx="468.6" cy="525.9" r="5.2"/><circle cx="472.9" cy="488.4" r="5.2"/><circle cx="466.6" cy="497.5" r="5.2"/><circle cx="465.0" cy="500.6" r="5.2"/><circle cx="465.0" cy="494.4" r="5.2"/><circle cx="468.6" cy="468.8" r="5.2"/><circle cx="457.2" cy="587.3" r="5.2"/><circle cx="454.8" cy="587.3" r="5.2"/><circle cx="454.2" cy="587.3" r="5.2"/><circle cx="467.1" cy="587.3" r="5.2"/><circle cx="468.9" cy="446.8" r="5.2"/><circle cx="468.1" cy="506.7" r="5.2"/><circle cx="471.3" cy="496.0" r="5.2"/><circle cx="465.4" cy="498.7" r="5.2"/><circle cx="466.6" cy="476.7" r="5.2"/><circle cx="466.1" cy="587.3" r="5.2"/><circle cx="471.0" cy="492.6" r="5.2"/><circle cx="457.8" cy="587.3" r="5.2"/><circle cx="469.5" cy="473.7" r="5.2"/><circle cx="465.2" cy="587.3" r="5.2"/><circle cx="468.3" cy="461.5" r="5.2"/><circle cx="476.5" cy="587.3" r="5.2"/><circle cx="468.7" cy="442.6" r="5.2"/><circle cx="470.2" cy="587.3" r="5.2"/><circle cx="472.4" cy="587.3" r="5.2"/><circle cx="469.5" cy="530.7" r="5.2"/><circle cx="471.4" cy="469.7" r="5.2"/><circle cx="469.3" cy="331.9" r="5.2"/><circle cx="472.8" cy="483.3" r="5.2"/><circle cx="468.1" cy="483.5" r="5.2"/><circle cx="478.5" cy="587.3" r="5.2"/><circle cx="469.5" cy="442.8" r="5.2"/><circle cx="459.8" cy="587.3" r="5.2"/><circle cx="459.4" cy="587.3" r="5.2"/><circle cx="471.8" cy="499.5" r="5.2"/><circle cx="483.8" cy="587.3" r="5.2"/><circle cx="466.1" cy="507.2" r="5.2"/><circle cx="460.8" cy="587.3" r="5.2"/><circle cx="483.0" cy="587.3" r="5.2"/><circle cx="477.4" cy="587.3" r="5.2"/><circle cx="478.9" cy="587.3" r="5.2"/><circle cx="479.5" cy="587.3" r="5.2"/><circle cx="482.5" cy="587.3" r="5.2"/><circle cx="471.4" cy="461.5" r="5.2"/><circle cx="473.7" cy="495.1" r="5.2"/><circle cx="468.3" cy="587.3" r="5.2"/><circle cx="473.8" cy="587.3" r="5.2"/><circle cx="463.5" cy="587.3" r="5.2"/><circle cx="468.6" cy="508.6" r="5.2"/><circle cx="465.5" cy="587.3" r="5.2"/><circle cx="473.0" cy="476.1" r="5.2"/><circle cx="454.3" cy="587.3" r="5.2"/><circle cx="463.7" cy="587.3" r="5.2"/><circle cx="473.4" cy="587.3" r="5.2"/><circle cx="467.9" cy="513.8" r="5.2"/><circle cx="483.5" cy="587.3" r="5.2"/><circle cx="458.2" cy="587.3" r="5.2"/><circle cx="469.5" cy="514.4" r="5.2"/><circle cx="467.8" cy="497.9" r="5.2"/><circle cx="470.3" cy="519.8" r="5.2"/><circle cx="469.7" cy="587.3" r="5.2"/><circle cx="467.2" cy="499.6" r="5.2"/><circle cx="473.5" cy="587.3" r="5.2"/><circle cx="468.6" cy="491.7" r="5.2"/><circle cx="468.0" cy="489.2" r="5.2"/><circle cx="462.0" cy="587.3" r="5.2"/><circle cx="458.3" cy="587.3" r="5.2"/><circle cx="466.5" cy="465.7" r="5.2"/><circle cx="482.0" cy="587.3" r="5.2"/><circle cx="479.6" cy="587.3" r="5.2"/></g><g fill="#8C564B" stroke="#8C564B"><circle cx="505.4" cy="530.3" r="5.2"/><circle cx="508.8" cy="587.3" r="5.2"/><circle cx="496.4" cy="587.3" r="5.2"/><circle cx="505.0" cy="587.3" r="5.2"/><circle cx="502.4" cy="528.3" r="5.2"/><circle cx="519.8" cy="539.1" r="5.2"/><circle cx="501.2" cy="587.3" r="5.2"/><circle cx="508.2" cy="517.0" r="5.2"/><circle cx="501.7" cy="549.4" r="5.2"/><circle cx="521.5" cy="541.0" r="5.2"/><circle cx="523.1" cy="587.3" r="5.2"/><circle cx="516.3" cy="534.9" r="5.2"/><circle cx="498.3" cy="587.3" r="5.2"/><circle cx="497.4" cy="587.3" r="5.2"/><circle cx="517.3" cy="550.8" r="5.2"/><circle cx="505.0" cy="551.9" r="5.2"/><circle cx="515.1" cy="527.9" r="5.2"/><circle cx="509.4" cy="534.0" r="5.2"/><circle cx="502.5" cy="537.0" r="5.2"/><circle cx="512.0" cy="531.7" r="5.2"/><circle cx="502.4" cy="521.4" r="5.2"/><circle cx="520.3" cy="587.3" r="5.2"/><circle cx="513.1" cy="506.7" r="5.2"/><circle cx="506.3" cy="577.6" r="5.2"/><circle cx="519.3" cy="587.3" r="5.2"/><circle cx="498.5" cy="532.9" r="5.2"/><circle cx="515.5" cy="587.3" r="5.2"/><circle cx="518.4" cy="587.3" r="5.2"/><circle cx="512.9" cy="539.9" r="5.2"/><circle cx="499.1" cy="540.2" r="5.2"/><circle cx="507.8" cy="544.0" r="5.2"/><circle cx="508.9" cy="523.7" r="5.2"/><circle cx="506.0" cy="539.4" r="5.2"/><circle cx="518.4" cy="529.5" r="5.2"/><circle cx="522.2" cy="587.3" r="5.2"/><circle cx="516.5" cy="587.3" r="5.2"/><circle cx="499.2" cy="552.9" r="5.2"/><circle cx="521.6" cy="555.2" r="5.2"/><circle cx="513.6" cy="587.3" r="5.2"/><circle cx="516.4" cy="514.1" r="5.2"/><circle cx="506.9" cy="587.3" r="5.2"/><circle cx="510.0" cy="556.8" r="5.2"/><circle cx="524.1" cy="587.3" r="5.2"/><circle cx="507.9" cy="587.3" r="5.2"/><circle cx="510.7" cy="587.3" r="5.2"/><circle cx="515.7" cy="557.2" r="5.2"/><circle cx="500.2" cy="587.3" r="5.2"/><circle cx="514.4" cy="546.4" r="5.2"/><circle cx="523.0" cy="533.3" r="5.2"/><circle cx="512.9" cy="519.6" r="5.2"/><circle cx="504.0" cy="587.3" r="5.2"/><circle cx="503.1" cy="587.3" r="5.2"/><circle cx="512.6" cy="587.3" r="5.2"/><circle cx="511.7" cy="587.3" r="5.2"/><circle cx="511.1" cy="552.2" r="5.2"/><circle cx="506.7" cy="513.6" r="5.2"/><circle cx="504.5" cy="559.7" r="5.2"/><circle cx="518.3" cy="563.2" r="5.2"/><circle cx="519.8" cy="521.6" r="5.2"/></g><g fill="#C49C94" stroke="#C49C94"><circle cx="553.3" cy="439.8" r="5.2"/><circle cx="552.4" cy="448.3" r="5.2"/><circle cx="540.2" cy="270.0" r="5.2"/><circle cx="560.0" cy="384.4" r="5.2"/><circle cx="539.5" cy="298.6" r="5.2"/><circle cx="558.2" cy="365.4" r="5.2"/><circle cx="562.8" cy="277.0" r="5.2"/><circle cx="560.8" cy="252.2" r="5.2"/><circle cx="562.2" cy="297.2" r="5.2"/><circle cx="540.0" cy="338.0" r="5.2"/><circle cx="541.5" cy="359.1" r="5.2"/><circle cx="541.3" cy="349.5" r="5.2"/><circle cx="555.5" cy="387.0" r="5.2"/><circle cx="538.8" cy="332.9" r="5.2"/><circle cx="561.9" cy="317.0" r="5.2"/><circle cx="563.8" cy="318.7" r="5.2"/><circle cx="549.6" cy="222.2" r="5.2"/><circle cx="546.7" cy="366.6" r="5.2"/><circle cx="553.9" cy="359.0" r="5.2"/><circle cx="553.4" cy="391.0" r="5.2"/><circle cx="542.7" cy="316.2" r="5.2"/><circle cx="562.0" cy="347.2" r="5.2"/><circle cx="551.5" cy="206.0" r="5.2"/><circle cx="551.1" cy="238.5" r="5.2"/><circle cx="555.7" cy="328.7" r="5.2"/><circle cx="552.2" cy="587.3" r="5.2"/><circle cx="556.6" cy="351.1" r="5.2"/><circle cx="557.3" cy="388.9" r="5.2"/><circle cx="552.6" cy="587.3" r="5.2"/><circle cx="552.9" cy="207.8" r="5.2"/><circle cx="560.0" cy="322.6" r="5.2"/><circle cx="544.2" cy="271.8" r="5.2"/><circle cx="538.3" cy="282.5" r="5.2"/><circle cx="537.5" cy="303.6" r="5.2"/><circle cx="538.8" cy="294.1" r="5.2"/><circle cx="544.3" cy="327.0" r="5.2"/><circle cx="560.8" cy="374.5" r="5.2"/><circle cx="558.6" cy="344.9" r="5.2"/><circle cx="552.4" cy="366.9" r="5.2"/><circle cx="566.1" cy="283.3" r="5.2"/><circle cx="557.6" cy="394.8" r="5.2"/><circle cx="555.0" cy="225.1" r="5.2"/><circle cx="559.0" cy="284.8" r="5.2"/><circle cx="554.0" cy="467.5" r="5.2"/><circle cx="555.0" cy="348.8" r="5.2"/><circle cx="554.9" cy="459.7" r="5.2"/><circle cx="562.6" cy="264.7" r="5.2"/><circle cx="546.8" cy="240.3" r="5.2"/><circle cx="545.7" cy="343.1" r="5.2"/><circle cx="547.7" cy="358.8" r="5.2"/><circle cx="539.9" cy="305.5" r="5.2"/><circle cx="557.9" cy="244.5" r="5.2"/><circle cx="551.4" cy="385.7" r="5.2"/><circle cx="550.2" cy="479.8" r="5.2"/><circle cx="543.4" cy="297.0" r="5.2"/><circle cx="552.8" cy="258.3" r="5.2"/><circle cx="556.1" cy="322.3" r="5.2"/><circle cx="552.5" cy="281.9" r="5.2"/><circle cx="538.8" cy="318.6" r="5.2"/><circle cx="548.4" cy="380.3" r="5.2"/><circle cx="552.5" cy="476.9" r="5.2"/><circle cx="554.1" cy="446.8" r="5.2"/><circle cx="565.8" cy="294.1" r="5.2"/><circle cx="551.6" cy="587.3" r="5.2"/><circle cx="557.2" cy="357.3" r="5.2"/><circle cx="562.2" cy="335.3" r="5.2"/><circle cx="554.7" cy="336.0" r="5.2"/><circle cx="542.5" cy="330.4" r="5.2"/><circle cx="545.6" cy="262.8" r="5.2"/><circle cx="551.8" cy="464.4" r="5.2"/><circle cx="549.8" cy="440.7" r="5.2"/><circle cx="554.2" cy="317.5" r="5.2"/><circle cx="549.5" cy="389.6" r="5.2"/><circle cx="551.0" cy="427.3" r="5.2"/><circle cx="549.5" cy="402.9" r="5.2"/><circle cx="564.0" cy="270.1" r="5.2"/><circle cx="546.6" cy="372.6" r="5.2"/><circle cx="559.6" cy="326.4" r="5.2"/><circle cx="551.9" cy="372.1" r="5.2"/><circle cx="556.5" cy="341.3" r="5.2"/><circle cx="552.6" cy="490.0" r="5.2"/><circle cx="550.7" cy="447.4" r="5.2"/><circle cx="561.4" cy="331.9" r="5.2"/><circle cx="538.6" cy="344.2" r="5.2"/><circle cx="552.1" cy="223.9" r="5.2"/><circle cx="562.8" cy="304.9" r="5.2"/><circle cx="552.2" cy="222.3" r="5.2"/><circle cx="561.1" cy="245.9" r="5.2"/><circle cx="559.9" cy="352.1" r="5.2"/><circle cx="550.8" cy="399.2" r="5.2"/><circle cx="542.6" cy="291.2" r="5.2"/><circle cx="560.0" cy="342.9" r="5.2"/><circle cx="540.1" cy="354.3" r="5.2"/><circle cx="551.5" cy="437.3" r="5.2"/><circle cx="545.4" cy="281.6" r="5.2"/><circle cx="553.8" cy="332.5" r="5.2"/><circle cx="560.8" cy="271.9" r="5.2"/><circle cx="549.2" cy="226.1" r="5.2"/><circle cx="547.0" cy="258.1" r="5.2"/><circle cx="566.6" cy="303.7" r="5.2"/><circle cx="563.7" cy="355.4" r="5.2"/><circle cx="548.5" cy="321.4" r="5.2"/><circle cx="537.9" cy="312.0" r="5.2"/><circle cx="541.5" cy="369.9" r="5.2"/><circle cx="556.4" cy="266.4" r="5.2"/><circle cx="560.2" cy="358.7" r="5.2"/><circle cx="537.0" cy="324.0" r="5.2"/><circle cx="546.8" cy="269.1" r="5.2"/><circle cx="542.0" cy="279.7" r="5.2"/><circle cx="565.8" cy="314.5" r="5.2"/><circle cx="546.0" cy="392.3" r="5.2"/><circle cx="540.6" cy="329.1" r="5.2"/><circle cx="544.1" cy="373.7" r="5.2"/><circle cx="549.8" cy="419.0" r="5.2"/><circle cx="551.5" cy="344.7" r="5.2"/><circle cx="546.1" cy="237.1" r="5.2"/><circle cx="540.5" cy="276.7" r="5.2"/><circle cx="564.1" cy="298.8" r="5.2"/><circle cx="543.6" cy="335.3" r="5.2"/><circle cx="562.7" cy="286.7" r="5.2"/><circle cx="546.3" cy="292.2" r="5.2"/><circle cx="558.4" cy="295.8" r="5.2"/><circle cx="547.3" cy="335.7" r="5.2"/><circle cx="545.6" cy="311.6" r="5.2"/><circle cx="553.2" cy="353.7" r="5.2"/><circle cx="548.9" cy="249.6" r="5.2"/><circle cx="556.8" cy="410.7" r="5.2"/><circle cx="551.8" cy="587.3" r="5.2"/><circle cx="547.5" cy="272.7" r="5.2"/><circle cx="555.5" cy="286.8" r="5.2"/><circle cx="545.2" cy="301.5" r="5.2"/><circle cx="559.0" cy="248.7" r="5.2"/><circle cx="555.3" cy="363.3" r="5.2"/><circle cx="549.2" cy="340.4" r="5.2"/><circle cx="551.7" cy="483.5" r="5.2"/><circle cx="565.2" cy="329.9" r="5.2"/><circle cx="555.3" cy="401.8" r="5.2"/><circle cx="543.1" cy="351.6" r="5.2"/><circle cx="547.1" cy="297.7" r="5.2"/><circle cx="563.5" cy="350.0" r="5.2"/><circle cx="564.6" cy="288.0" r="5.2"/><circle cx="556.6" cy="226.5" r="5.2"/><circle cx="549.1" cy="277.3" r="5.2"/><circle cx="560.9" cy="263.3" r="5.2"/><circle cx="546.5" cy="248.4" r="5.2"/><circle cx="555.0" cy="421.8" r="5.2"/><circle cx="562.4" cy="372.1" r="5.2"/><circle cx="554.3" cy="216.5" r="5.2"/><circle cx="549.2" cy="215.3" r="5.2"/><circle cx="549.8" cy="350.4" r="5.2"/><circle cx="553.8" cy="481.2" r="5.2"/><circle cx="548.1" cy="347.8" r="5.2"/><circle cx="567.2" cy="324.8" r="5.2"/><circle cx="550.4" cy="465.9" r="5.2"/><circle cx="553.3" cy="465.7" r="5.2"/><circle cx="553.8" cy="231.2" r="5.2"/><circle cx="549.2" cy="432.7" r="5.2"/><circle cx="557.5" cy="222.9" r="5.2"/><circle cx="551.4" cy="303.8" r="5.2"/><circle cx="549.3" cy="373.4" r="5.2"/><circle cx="559.7" cy="372.8" r="5.2"/><circle cx="546.6" cy="352.5" r="5.2"/><circle cx="555.6" cy="255.3" r="5.2"/><circle cx="544.3" cy="383.3" r="5.2"/><circle cx="558.5" cy="334.3" r="5.2"/><circle cx="542.1" cy="342.1" r="5.2"/><circle cx="557.1" cy="308.1" r="5.2"/><circle cx="558.1" cy="315.9" r="5.2"/><circle cx="555.3" cy="239.5" r="5.2"/><circle cx="555.2" cy="305.2" r="5.2"/><circle cx="561.5" cy="361.3" r="5.2"/><circle cx="541.0" cy="260.0" r="5.2"/><circle cx="550.8" cy="270.8" r="5.2"/><circle cx="558.5" cy="257.0" r="5.2"/><circle cx="552.8" cy="301.9" r="5.2"/><circle cx="544.5" cy="357.7" r="5.2"/><circle cx="546.9" cy="222.5" r="5.2"/><circle cx="557.8" cy="378.9" r="5.2"/><circle cx="565.7" cy="344.6" r="5.2"/><circle cx="553.9" cy="399.7" r="5.2"/><circle cx="561.0" cy="311.2" r="5.2"/><circle cx="555.5" cy="378.5" r="5.2"/><circle cx="546.0" cy="378.8" r="5.2"/><circle cx="559.6" cy="281.6" r="5.2"/><circle cx="543.8" cy="245.7" r="5.2"/><circle cx="557.8" cy="262.5" r="5.2"/><circle cx="544.4" cy="255.4" r="5.2"/><circle cx="563.9" cy="338.2" r="5.2"/><circle cx="551.3" cy="476.2" r="5.2"/><circle cx="547.4" cy="387.0" r="5.2"/><circle cx="557.5" cy="271.7" r="5.2"/><circle cx="547.3" cy="409.2" r="5.2"/><circle cx="560.4" cy="300.8" r="5.2"/><circle cx="543.7" cy="250.0" r="5.2"/><circle cx="557.6" cy="330.2" r="5.2"/><circle cx="543.7" cy="266.5" r="5.2"/><circle cx="548.6" cy="244.5" r="5.2"/><circle cx="554.2" cy="272.9" r="5.2"/><circle cx="549.4" cy="307.5" r="5.2"/><circle cx="540.8" cy="322.5" r="5.2"/><circle cx="552.9" cy="343.7" r="5.2"/><circle cx="552.4" cy="402.9" r="5.2"/><circle cx="557.4" cy="290.3" r="5.2"/><circle cx="550.1" cy="265.9" r="5.2"/><circle cx="550.4" cy="315.3" r="5.2"/><circle cx="551.9" cy="411.9" r="5.2"/><circle cx="543.5" cy="363.7" r="5.2"/><circle cx="559.1" cy="237.4" r="5.2"/><circle cx="541.4" cy="300.1" r="5.2"/><circle cx="566.0" cy="334.1" r="5.2"/><circle cx="544.6" cy="286.1" r="5.2"/><circle cx="554.0" cy="249.7" r="5.2"/><circle cx="548.2" cy="286.8" r="5.2"/><circle cx="540.9" cy="287.4" r="5.2"/><circle cx="546.5" cy="317.1" r="5.2"/><circle cx="554.1" cy="417.3" r="5.2"/><circle cx="550.1" cy="253.5" r="5.2"/><circle cx="561.1" cy="291.5" r="5.2"/><circle cx="543.7" cy="304.6" r="5.2"/><circle cx="549.1" cy="451.0" r="5.2"/><circle cx="557.1" cy="372.3" r="5.2"/><circle cx="548.2" cy="328.5" r="5.2"/><circle cx="559.7" cy="268.3" r="5.2"/><circle cx="553.7" cy="292.7" r="5.2"/><circle cx="550.0" cy="289.9" r="5.2"/><circle cx="544.6" cy="322.9" r="5.2"/><circle cx="549.3" cy="361.4" r="5.2"/><circle cx="552.9" cy="428.7" r="5.2"/><circle cx="564.7" cy="305.8" r="5.2"/><circle cx="542.3" cy="264.6" r="5.2"/><circle cx="556.5" cy="248.1" r="5.2"/><circle cx="541.7" cy="309.4" r="5.2"/><circle cx="553.3" cy="245.3" r="5.2"/><circle cx="556.0" cy="278.3" r="5.2"/><circle cx="544.5" cy="345.6" r="5.2"/><circle cx="550.9" cy="294.2" r="5.2"/><circle cx="550.5" cy="229.9" r="5.2"/><circle cx="559.0" cy="304.1" r="5.2"/><circle cx="547.9" cy="401.5" r="5.2"/><circle cx="563.4" cy="327.1" r="5.2"/><circle cx="555.1" cy="436.2" r="5.2"/><circle cx="548.6" cy="263.9" r="5.2"/><circle cx="563.6" cy="260.1" r="5.2"/><circle cx="553.0" cy="381.2" r="5.2"/></g><g fill="#E377C2" stroke="#E377C2"><circle cx="595.4" cy="524.6" r="5.2"/><circle cx="592.2" cy="523.9" r="5.2"/><circle cx="589.9" cy="491.9" r="5.2"/><circle cx="578.7" cy="587.3" r="5.2"/><circle cx="608.8" cy="587.3" r="5.2"/><circle cx="594.6" cy="516.7" r="5.2"/><circle cx="596.5" cy="493.0" r="5.2"/><circle cx="596.0" cy="502.0" r="5.2"/><circle cx="597.1" cy="497.8" r="5.2"/><circle cx="608.1" cy="587.3" r="5.2"/><circle cx="578.5" cy="587.3" r="5.2"/><circle cx="591.1" cy="500.9" r="5.2"/><circle cx="596.3" cy="514.8" r="5.2"/><circle cx="593.0" cy="527.1" r="5.2"/><circle cx="591.2" cy="479.0" r="5.2"/><circle cx="597.4" cy="491.9" r="5.2"/><circle cx="592.9" cy="515.6" r="5.2"/><circle cx="590.5" cy="497.4" r="5.2"/><circle cx="595.3" cy="519.2" r="5.2"/><circle cx="596.1" cy="509.7" r="5.2"/><circle cx="595.5" cy="492.3" r="5.2"/><circle cx="593.1" cy="498.8" r="5.2"/><circle cx="595.2" cy="509.1" r="5.2"/><circle cx="579.0" cy="587.3" r="5.2"/><circle cx="596.2" cy="485.2" r="5.2"/><circle cx="592.7" cy="476.0" r="5.2"/><circle cx="593.5" cy="522.2" r="5.2"/><circle cx="593.5" cy="435.4" r="5.2"/><circle cx="593.3" cy="481.3" r="5.2"/><circle cx="591.8" cy="482.7" r="5.2"/><circle cx="594.1" cy="528.1" r="5.2"/><circle cx="592.3" cy="532.8" r="5.2"/><circle cx="590.8" cy="484.7" r="5.2"/><circle cx="591.5" cy="509.4" r="5.2"/><circle cx="595.6" cy="491.1" r="5.2"/><circle cx="579.4" cy="587.3" r="5.2"/><circle cx="594.5" cy="494.5" r="5.2"/><circle cx="594.8" cy="523.7" r="5.2"/><circle cx="591.6" cy="492.7" r="5.2"/><circle cx="590.8" cy="513.5" r="5.2"/><circle cx="595.7" cy="483.4" r="5.2"/><circle cx="590.9" cy="490.9" r="5.2"/><circle cx="594.0" cy="502.5" r="5.2"/><circle cx="595.1" cy="500.1" r="5.2"/><circle cx="592.4" cy="510.3" r="5.2"/><circle cx="594.7" cy="490.1" r="5.2"/><circle cx="608.3" cy="587.3" r="5.2"/><circle cx="578.4" cy="587.3" r="5.2"/><circle cx="597.0" cy="587.3" r="5.2"/><circle cx="594.8" cy="481.9" r="5.2"/><circle cx="592.1" cy="502.4" r="5.2"/><circle cx="607.4" cy="587.3" r="5.2"/><circle cx="594.2" cy="511.5" r="5.2"/><circle cx="592.5" cy="483.7" r="5.2"/><circle cx="596.3" cy="481.3" r="5.2"/><circle cx="593.7" cy="491.5" r="5.2"/><circle cx="601.3" cy="587.3" r="5.2"/><circle cx="592.8" cy="489.8" r="5.2"/><circle cx="581.4" cy="587.3" r="5.2"/><circle cx="590.9" cy="520.8" r="5.2"/><circle cx="591.8" cy="491.5" r="5.2"/><circle cx="603.4" cy="587.3" r="5.2"/><circle cx="583.1" cy="587.3" r="5.2"/><circle cx="596.3" cy="587.3" r="5.2"/><circle cx="606.6" cy="587.3" r="5.2"/><circle cx="597.2" cy="504.1" r="5.2"/><circle cx="606.9" cy="587.3" r="5.2"/><circle cx="605.0" cy="587.3" r="5.2"/><circle cx="592.6" cy="493.2" r="5.2"/><circle cx="596.1" cy="587.3" r="5.2"/><circle cx="591.5" cy="518.8" r="5.2"/><circle cx="593.9" cy="476.6" r="5.2"/><circle cx="594.1" cy="587.3" r="5.2"/><circle cx="593.8" cy="519.7" r="5.2"/><circle cx="590.8" cy="587.3" r="5.2"/><circle cx="590.1" cy="502.5" r="5.2"/><circle cx="581.9" cy="587.3" r="5.2"/><circle cx="593.6" cy="587.3" r="5.2"/><circle cx="589.6" cy="587.3" r="5.2"/><circle cx="589.3" cy="587.3" r="5.2"/><circle cx="592.3" cy="519.2" r="5.2"/><circle cx="601.8" cy="587.3" r="5.2"/><circle cx="594.0" cy="456.2" r="5.2"/><circle cx="588.4" cy="587.3" r="5.2"/><circle cx="606.2" cy="587.3" r="5.2"/><circle cx="595.6" cy="587.3" r="5.2"/><circle cx="585.2" cy="587.3" r="5.2"/><circle cx="606.4" cy="587.3" r="5.2"/><circle cx="595.0" cy="533.7" r="5.2"/><circle cx="579.2" cy="587.3" r="5.2"/><circle cx="590.0" cy="587.3" r="5.2"/><circle cx="596.2" cy="522.2" r="5.2"/><circle cx="587.4" cy="587.3" r="5.2"/><circle cx="591.8" cy="587.3" r="5.2"/><circle cx="608.6" cy="587.3" r="5.2"/><circle cx="584.3" cy="587.3" r="5.2"/><circle cx="598.9" cy="587.3" r="5.2"/><circle cx="599.5" cy="587.3" r="5.2"/><circle cx="582.6" cy="587.3" r="5.2"/><circle cx="603.8" cy="587.3" r="5.2"/><circle cx="586.4" cy="587.3" r="5.2"/></g><g fill="#F7B6D2" stroke="#F7B6D2"><circle cx="649.5" cy="587.3" r="5.2"/><circle cx="626.0" cy="587.3" r="5.2"/><circle cx="649.1" cy="587.3" r="5.2"/><circle cx="635.1" cy="373.6" r="5.2"/><circle cx="640.9" cy="587.3" r="5.2"/><circle cx="624.0" cy="587.3" r="5.2"/><circle cx="645.7" cy="587.3" r="5.2"/><circle cx="634.6" cy="442.1" r="5.2"/><circle cx="639.4" cy="587.3" r="5.2"/><circle cx="639.0" cy="587.3" r="5.2"/><circle cx="644.7" cy="587.3" r="5.2"/><circle cx="632.2" cy="587.3" r="5.2"/><circle cx="642.8" cy="587.3" r="5.2"/><circle cx="624.5" cy="587.3" r="5.2"/><circle cx="621.1" cy="587.3" r="5.2"/><circle cx="627.4" cy="587.3" r="5.2"/><circle cx="637.5" cy="587.3" r="5.2"/><circle cx="620.7" cy="587.3" r="5.2"/><circle cx="643.8" cy="587.3" r="5.2"/><circle cx="633.7" cy="587.3" r="5.2"/><circle cx="627.9" cy="587.3" r="5.2"/><circle cx="641.8" cy="587.3" r="5.2"/><circle cx="645.2" cy="587.3" r="5.2"/><circle cx="631.3" cy="587.3" r="5.2"/><circle cx="628.8" cy="587.3" r="5.2"/><circle cx="635.4" cy="460.7" r="5.2"/><circle cx="620.2" cy="587.3" r="5.2"/><circle cx="648.6" cy="587.3" r="5.2"/><circle cx="647.6" cy="587.3" r="5.2"/><circle cx="635.3" cy="433.1" r="5.2"/><circle cx="637.0" cy="587.3" r="5.2"/><circle cx="643.3" cy="587.3" r="5.2"/><circle cx="630.3" cy="587.3" r="5.2"/><circle cx="621.6" cy="587.3" r="5.2"/><circle cx="634.1" cy="587.3" r="5.2"/><circle cx="629.8" cy="587.3" r="5.2"/><circle cx="635.1" cy="587.3" r="5.2"/><circle cx="636.5" cy="587.3" r="5.2"/><circle cx="623.6" cy="587.3" r="5.2"/></g><g fill="#7F7F7F" stroke="#7F7F7F"><circle cx="687.6" cy="540.2" r="5.2"/><circle cx="677.1" cy="412.3" r="5.2"/><circle cx="691.0" cy="587.3" r="5.2"/><circle cx="678.0" cy="495.0" r="5.2"/><circle cx="689.4" cy="537.0" r="5.2"/><circle cx="675.1" cy="490.5" r="5.2"/><circle cx="675.5" cy="547.4" r="5.2"/><circle cx="665.6" cy="545.3" r="5.2"/><circle cx="683.3" cy="533.8" r="5.2"/><circle cx="670.2" cy="534.7" r="5.2"/><circle cx="687.1" cy="587.3" r="5.2"/><circle cx="670.1" cy="524.5" r="5.2"/><circle cx="685.2" cy="587.3" r="5.2"/><circle cx="667.1" cy="532.8" r="5.2"/><circle cx="661.7" cy="587.3" r="5.2"/><circle cx="680.0" cy="532.4" r="5.2"/><circle cx="673.0" cy="550.3" r="5.2"/><circle cx="676.2" cy="537.1" r="5.2"/><circle cx="678.5" cy="587.3" r="5.2"/><circle cx="663.5" cy="536.5" r="5.2"/><circle cx="688.1" cy="587.3" r="5.2"/><circle cx="684.7" cy="587.3" r="5.2"/><circle cx="684.3" cy="587.3" r="5.2"/><circle cx="676.3" cy="474.1" r="5.2"/><circle cx="683.6" cy="549.7" r="5.2"/><circle cx="677.2" cy="486.0" r="5.2"/><circle cx="671.5" cy="543.3" r="5.2"/><circle cx="685.0" cy="521.7" r="5.2"/><circle cx="676.2" cy="427.2" r="5.2"/><circle cx="678.2" cy="527.7" r="5.2"/><circle cx="679.5" cy="587.3" r="5.2"/><circle cx="672.5" cy="526.8" r="5.2"/><circle cx="687.1" cy="546.8" r="5.2"/><circle cx="685.9" cy="529.4" r="5.2"/><circle cx="689.1" cy="587.3" r="5.2"/><circle cx="683.7" cy="526.1" r="5.2"/><circle cx="676.8" cy="434.6" r="5.2"/><circle cx="680.9" cy="587.3" r="5.2"/><circle cx="673.2" cy="587.3" r="5.2"/><circle cx="667.9" cy="587.3" r="5.2"/><circle cx="675.5" cy="522.6" r="5.2"/><circle cx="682.8" cy="537.2" r="5.2"/><circle cx="668.1" cy="541.5" r="5.2"/><circle cx="672.7" cy="587.3" r="5.2"/><circle cx="677.5" cy="456.2" r="5.2"/><circle cx="668.5" cy="519.9" r="5.2"/><circle cx="674.6" cy="587.3" r="5.2"/><circle cx="668.9" cy="587.3" r="5.2"/><circle cx="669.9" cy="548.2" r="5.2"/><circle cx="666.3" cy="540.2" r="5.2"/><circle cx="666.3" cy="528.6" r="5.2"/><circle cx="677.7" cy="545.3" r="5.2"/><circle cx="666.0" cy="587.3" r="5.2"/><circle cx="665.5" cy="587.3" r="5.2"/><circle cx="678.1" cy="552.0" r="5.2"/><circle cx="669.4" cy="587.3" r="5.2"/><circle cx="663.6" cy="587.3" r="5.2"/><circle cx="677.5" cy="587.3" r="5.2"/><circle cx="669.5" cy="537.8" r="5.2"/><circle cx="662.1" cy="587.3" r="5.2"/><circle cx="673.7" cy="587.3" r="5.2"/><circle cx="672.8" cy="538.2" r="5.2"/><circle cx="690.0" cy="587.3" r="5.2"/><circle cx="683.3" cy="587.3" r="5.2"/><circle cx="673.6" cy="530.6" r="5.2"/><circle cx="675.2" cy="501.7" r="5.2"/><circle cx="669.8" cy="587.3" r="5.2"/><circle cx="676.9" cy="506.9" r="5.2"/><circle cx="663.1" cy="587.3" r="5.2"/><circle cx="680.6" cy="524.2" r="5.2"/><circle cx="675.6" cy="587.3" r="5.2"/><circle cx="670.8" cy="587.3" r="5.2"/><circle cx="675.6" cy="445.8" r="5.2"/><circle cx="688.6" cy="587.3" r="5.2"/><circle cx="676.6" cy="587.3" r="5.2"/><circle cx="681.1" cy="548.1" r="5.2"/><circle cx="686.1" cy="537.8" r="5.2"/><circle cx="664.1" cy="587.3" r="5.2"/><circle cx="674.5" cy="540.3" r="5.2"/><circle cx="684.2" cy="542.1" r="5.2"/><circle cx="682.3" cy="587.3" r="5.2"/></g><g fill="#C7C7C7" stroke="#C7C7C7"><circle cx="704.6" cy="587.3" r="5.2"/><circle cx="729.6" cy="587.3" r="5.2"/><circle cx="727.7" cy="587.3" r="5.2"/><circle cx="717.8" cy="412.3" r="5.2"/><circle cx="707.4" cy="587.3" r="5.2"/><circle cx="714.2" cy="587.3" r="5.2"/><circle cx="716.1" cy="587.3" r="5.2"/><circle cx="710.3" cy="587.3" r="5.2"/><circle cx="725.7" cy="587.3" r="5.2"/><circle cx="718.5" cy="272.3" r="5.2"/><circle cx="721.9" cy="587.3" r="5.2"/><circle cx="708.4" cy="587.3" r="5.2"/><circle cx="719.0" cy="587.3" r="5.2"/><circle cx="703.6" cy="587.3" r="5.2"/><circle cx="712.3" cy="587.3" r="5.2"/><circle cx="720.0" cy="587.3" r="5.2"/><circle cx="718.0" cy="587.3" r="5.2"/><circle cx="715.1" cy="587.3" r="5.2"/><circle cx="723.8" cy="587.3" r="5.2"/><circle cx="720.9" cy="587.3" r="5.2"/><circle cx="705.5" cy="587.3" r="5.2"/><circle cx="706.5" cy="587.3" r="5.2"/><circle cx="711.3" cy="587.3" r="5.2"/><circle cx="731.5" cy="587.3" r="5.2"/><circle cx="726.7" cy="587.3" r="5.2"/><circle cx="722.8" cy="587.3" r="5.2"/><circle cx="730.5" cy="587.3" r="5.2"/></g><g fill="#1F77B4" stroke="#1F77B4"><circle cx="776.6" cy="320.1" r="5.2"/><circle cx="786.4" cy="292.9" r="5.2"/><circle cx="775.7" cy="179.3" r="5.2"/><circle cx="780.3" cy="385.3" r="5.2"/><circle cx="781.3" cy="383.5" r="5.2"/><circle cx="777.6" cy="170.5" r="5.2"/><circle cx="780.4" cy="167.1" r="5.2"/><circle cx="790.9" cy="196.0" r="5.2"/><circle cx="779.3" cy="358.0" r="5.2"/><circle cx="779.7" cy="322.4" r="5.2"/><circle cx="780.1" cy="303.7" r="5.2"/><circle cx="774.4" cy="141.7" r="5.2"/><circle cx="790.6" cy="275.7" r="5.2"/><circle cx="776.4" cy="139.2" r="5.2"/><circle cx="788.8" cy="212.8" r="5.2"/><circle cx="785.9" cy="132.5" r="5.2"/><circle cx="787.9" cy="178.3" r="5.2"/><circle cx="783.7" cy="303.8" r="5.2"/><circle cx="788.6" cy="235.9" r="5.2"/><circle cx="770.2" cy="256.0" r="5.2"/><circle cx="779.2" cy="288.4" r="5.2"/><circle cx="774.1" cy="289.3" r="5.2"/><circle cx="787.4" cy="216.5" r="5.2"/><circle cx="766.6" cy="259.1" r="5.2"/><circle cx="767.2" cy="250.5" r="5.2"/><circle cx="775.0" cy="167.9" r="5.2"/><circle cx="779.9" cy="98.4" r="5.2"/><circle cx="784.2" cy="148.1" r="5.2"/><circle cx="779.3" cy="587.3" r="5.2"/><circle cx="782.8" cy="230.7" r="5.2"/><circle cx="787.4" cy="261.2" r="5.2"/><circle cx="777.4" cy="337.0" r="5.2"/><circle cx="769.4" cy="235.3" r="5.2"/><circle cx="778.9" cy="175.2" r="5.2"/><circle cx="792.9" cy="270.4" r="5.2"/><circle cx="792.5" cy="266.3" r="5.2"/><circle cx="792.4" cy="233.1" r="5.2"/><circle cx="769.0" cy="241.5" r="5.2"/><circle cx="786.1" cy="159.9" r="5.2"/><circle cx="781.8" cy="179.3" r="5.2"/><circle cx="785.8" cy="198.8" r="5.2"/><circle cx="783.4" cy="253.7" r="5.2"/><circle cx="772.7" cy="272.8" r="5.2"/><circle cx="789.3" cy="273.0" r="5.2"/><circle cx="783.7" cy="220.4" r="5.2"/><circle cx="794.0" cy="203.2" r="5.2"/><circle cx="769.7" cy="186.3" r="5.2"/><circle cx="786.6" cy="226.9" r="5.2"/><circle cx="782.1" cy="127.6" r="5.2"/><circle cx="776.4" cy="161.0" r="5.2"/><circle cx="777.6" cy="111.7" r="5.2"/><circle cx="790.4" cy="205.9" r="5.2"/><circle cx="772.5" cy="287.4" r="5.2"/><circle cx="789.4" cy="201.6" r="5.2"/><circle cx="771.4" cy="267.7" r="5.2"/><circle cx="768.4" cy="210.4" r="5.2"/><circle cx="776.7" cy="241.2" r="5.2"/><circle cx="772.7" cy="261.4" r="5.2"/><circle cx="794.9" cy="259.5" r="5.2"/><circle cx="768.6" cy="220.8" r="5.2"/><circle cx="775.1" cy="201.7" r="5.2"/><circle cx="776.1" cy="273.9" r="5.2"/><circle cx="793.2" cy="221.2" r="5.2"/><circle cx="788.2" cy="240.5" r="5.2"/><circle cx="771.1" cy="188.8" r="5.2"/><circle cx="784.5" cy="126.0" r="5.2"/><circle cx="785.6" cy="222.6" r="5.2"/><circle cx="780.9" cy="397.6" r="5.2"/><circle cx="770.9" cy="244.7" r="5.2"/><circle cx="780.7" cy="122.2" r="5.2"/><circle cx="779.8" cy="587.3" r="5.2"/><circle cx="776.4" cy="130.9" r="5.2"/><circle cx="785.9" cy="183.9" r="5.2"/><circle cx="791.1" cy="261.9" r="5.2"/><circle cx="780.1" cy="259.8" r="5.2"/><circle cx="778.6" cy="243.1" r="5.2"/><circle cx="783.0" cy="328.8" r="5.2"/><circle cx="781.6" cy="391.0" r="5.2"/><circle cx="786.3" cy="280.9" r="5.2"/><circle cx="782.1" cy="346.9" r="5.2"/><circle cx="781.6" cy="141.4" r="5.2"/><circle cx="783.1" cy="287.0" r="5.2"/><circle cx="776.2" cy="185.2" r="5.2"/><circle cx="774.8" cy="246.1" r="5.2"/><circle cx="780.8" cy="110.6" r="5.2"/><circle cx="773.9" cy="213.0" r="5.2"/><circle cx="783.2" cy="137.4" r="5.2"/><circle cx="784.4" cy="241.3" r="5.2"/><circle cx="791.0" cy="252.2" r="5.2"/><circle cx="771.6" cy="199.9" r="5.2"/><circle cx="779.6" cy="251.3" r="5.2"/><circle cx="794.8" cy="251.1" r="5.2"/><circle cx="779.3" cy="272.5" r="5.2"/><circle cx="789.1" cy="184.3" r="5.2"/><circle cx="782.1" cy="323.4" r="5.2"/><circle cx="788.4" cy="168.3" r="5.2"/><circle cx="786.0" cy="272.6" r="5.2"/><circle cx="778.0" cy="152.2" r="5.2"/><circle cx="769.6" cy="179.7" r="5.2"/><circle cx="781.4" cy="214.1" r="5.2"/><circle cx="777.8" cy="286.4" r="5.2"/><circle cx="779.0" cy="332.5" r="5.2"/><circle cx="788.1" cy="156.2" r="5.2"/><circle cx="780.0" cy="374.7" r="5.2"/><circle cx="777.7" cy="210.7" r="5.2"/><circle cx="781.8" cy="224.1" r="5.2"/><circle cx="778.7" cy="198.7" r="5.2"/><circle cx="777.8" cy="187.1" r="5.2"/><circle cx="766.6" cy="225.5" r="5.2"/><circle cx="770.5" cy="222.6" r="5.2"/><circle cx="783.1" cy="171.0" r="5.2"/><circle cx="777.8" cy="275.7" r="5.2"/><circle cx="773.1" cy="184.0" r="5.2"/><circle cx="789.4" cy="223.5" r="5.2"/><circle cx="781.3" cy="163.7" r="5.2"/><circle cx="771.4" cy="228.7" r="5.2"/><circle cx="792.8" cy="254.6" r="5.2"/><circle cx="766.4" cy="214.4" r="5.2"/><circle cx="780.9" cy="333.4" r="5.2"/><circle cx="772.9" cy="176.9" r="5.2"/><circle cx="768.0" cy="268.8" r="5.2"/><circle cx="774.2" cy="158.4" r="5.2"/><circle cx="779.5" cy="181.2" r="5.2"/><circle cx="780.0" cy="216.4" r="5.2"/><circle cx="781.6" cy="295.2" r="5.2"/><circle cx="779.4" cy="127.0" r="5.2"/><circle cx="780.2" cy="144.7" r="5.2"/><circle cx="781.5" cy="259.0" r="5.2"/><circle cx="789.7" cy="287.5" r="5.2"/><circle cx="780.6" cy="343.9" r="5.2"/><circle cx="781.6" cy="316.5" r="5.2"/><circle cx="790.5" cy="230.2" r="5.2"/><circle cx="782.4" cy="153.5" r="5.2"/><circle cx="787.2" cy="277.5" r="5.2"/><circle cx="770.2" cy="211.4" r="5.2"/><circle cx="767.9" cy="202.0" r="5.2"/><circle cx="780.4" cy="280.1" r="5.2"/><circle cx="778.4" cy="122.9" r="5.2"/><circle cx="778.1" cy="141.1" r="5.2"/><circle cx="776.2" cy="219.6" r="5.2"/><circle cx="788.9" cy="268.0" r="5.2"/><circle cx="780.1" cy="587.3" r="5.2"/><circle cx="786.3" cy="243.8" r="5.2"/><circle cx="773.7" cy="300.8" r="5.2"/><circle cx="781.1" cy="430.9" r="5.2"/><circle cx="785.1" cy="139.8" r="5.2"/><circle cx="784.2" cy="276.0" r="5.2"/><circle cx="779.1" cy="587.3" r="5.2"/><circle cx="771.5" cy="277.0" r="5.2"/><circle cx="780.9" cy="237.8" r="5.2"/><circle cx="781.7" cy="587.3" r="5.2"/><circle cx="791.2" cy="218.7" r="5.2"/><circle cx="777.1" cy="234.1" r="5.2"/><circle cx="776.6" cy="305.5" r="5.2"/><circle cx="781.9" cy="268.7" r="5.2"/><circle cx="779.9" cy="134.9" r="5.2"/><circle cx="794.1" cy="192.0" r="5.2"/><circle cx="767.5" cy="191.8" r="5.2"/><circle cx="775.2" cy="230.6" r="5.2"/><circle cx="792.1" cy="241.2" r="5.2"/><circle cx="769.7" cy="275.5" r="5.2"/><circle cx="784.7" cy="175.7" r="5.2"/><circle cx="787.2" cy="251.8" r="5.2"/><circle cx="789.0" cy="256.7" r="5.2"/><circle cx="784.6" cy="117.0" r="5.2"/><circle cx="771.9" cy="171.9" r="5.2"/><circle cx="783.0" cy="122.5" r="5.2"/><circle cx="774.8" cy="284.4" r="5.2"/><circle cx="777.1" cy="294.0" r="5.2"/><circle cx="785.7" cy="167.9" r="5.2"/><circle cx="790.3" cy="172.4" r="5.2"/><circle cx="772.8" cy="240.9" r="5.2"/><circle cx="774.3" cy="223.6" r="5.2"/><circle cx="783.9" cy="196.5" r="5.2"/><circle cx="783.6" cy="157.9" r="5.2"/><circle cx="781.1" cy="191.4" r="5.2"/><circle cx="785.1" cy="211.4" r="5.2"/><circle cx="772.0" cy="252.1" r="5.2"/><circle cx="782.2" cy="587.3" r="5.2"/><circle cx="773.3" cy="156.1" r="5.2"/><circle cx="776.0" cy="150.5" r="5.2"/><circle cx="790.7" cy="164.8" r="5.2"/><circle cx="790.9" cy="186.6" r="5.2"/><circle cx="780.5" cy="457.0" r="5.2"/><circle cx="795.9" cy="239.8" r="5.2"/><circle cx="767.5" cy="231.2" r="5.2"/><circle cx="777.0" cy="196.0" r="5.2"/><circle cx="777.6" cy="325.8" r="5.2"/><circle cx="771.1" cy="164.4" r="5.2"/><circle cx="765.5" cy="237.9" r="5.2"/><circle cx="794.9" cy="215.7" r="5.2"/><circle cx="790.2" cy="245.0" r="5.2"/><circle cx="780.6" cy="424.2" r="5.2"/><circle cx="778.3" cy="266.8" r="5.2"/><circle cx="781.3" cy="587.3" r="5.2"/><circle cx="769.5" cy="266.2" r="5.2"/><circle cx="781.0" cy="479.3" r="5.2"/><circle cx="783.9" cy="338.4" r="5.2"/><circle cx="783.2" cy="208.6" r="5.2"/><circle cx="780.8" cy="587.3" r="5.2"/><circle cx="787.7" cy="143.3" r="5.2"/><circle cx="778.6" cy="384.4" r="5.2"/><circle cx="776.4" cy="262.0" r="5.2"/><circle cx="780.5" cy="192.5" r="5.2"/><circle cx="782.2" cy="392.1" r="5.2"/><circle cx="782.5" cy="363.2" r="5.2"/><circle cx="782.9" cy="384.5" r="5.2"/><circle cx="779.5" cy="204.0" r="5.2"/><circle cx="787.4" cy="194.6" r="5.2"/><circle cx="792.4" cy="210.5" r="5.2"/><circle cx="788.8" cy="284.6" r="5.2"/><circle cx="775.9" cy="207.0" r="5.2"/><circle cx="782.7" cy="186.3" r="5.2"/><circle cx="772.3" cy="204.7" r="5.2"/><circle cx="773.2" cy="236.7" r="5.2"/><circle cx="768.2" cy="254.2" r="5.2"/><circle cx="784.5" cy="322.1" r="5.2"/><circle cx="774.0" cy="257.7" r="5.2"/><circle cx="775.8" cy="252.9" r="5.2"/><circle cx="782.8" cy="399.2" r="5.2"/><circle cx="784.7" cy="234.3" r="5.2"/><circle cx="785.4" cy="267.2" r="5.2"/><circle cx="787.7" cy="189.0" r="5.2"/><circle cx="770.0" cy="196.6" r="5.2"/><circle cx="786.5" cy="151.3" r="5.2"/><circle cx="779.7" cy="394.4" r="5.2"/><circle cx="782.4" cy="250.2" r="5.2"/><circle cx="792.7" cy="197.2" r="5.2"/><circle cx="794.0" cy="242.2" r="5.2"/><circle cx="779.0" cy="226.6" r="5.2"/><circle cx="779.0" cy="391.2" r="5.2"/><circle cx="792.0" cy="181.0" r="5.2"/><circle cx="783.7" cy="266.0" r="5.2"/><circle cx="787.6" cy="302.5" r="5.2"/><circle cx="778.5" cy="397.7" r="5.2"/><circle cx="794.2" cy="226.2" r="5.2"/><circle cx="778.7" cy="310.6" r="5.2"/><circle cx="784.3" cy="289.2" r="5.2"/><circle cx="792.6" cy="279.1" r="5.2"/><circle cx="784.9" cy="310.2" r="5.2"/><circle cx="768.8" cy="279.1" r="5.2"/></g><g fill="#AEC7E8" stroke="#AEC7E8"><circle cx="823.4" cy="542.3" r="5.2"/><circle cx="821.7" cy="486.5" r="5.2"/><circle cx="820.8" cy="536.4" r="5.2"/><circle cx="822.3" cy="485.4" r="5.2"/><circle cx="820.8" cy="533.3" r="5.2"/><circle cx="822.3" cy="547.7" r="5.2"/><circle cx="823.0" cy="501.2" r="5.2"/><circle cx="822.7" cy="496.2" r="5.2"/><circle cx="822.0" cy="485.3" r="5.2"/><circle cx="821.0" cy="542.2" r="5.2"/><circle cx="823.1" cy="543.3" r="5.2"/><circle cx="821.7" cy="506.8" r="5.2"/><circle cx="823.0" cy="541.1" r="5.2"/><circle cx="822.2" cy="226.9" r="5.2"/><circle cx="823.3" cy="511.0" r="5.2"/><circle cx="822.6" cy="502.8" r="5.2"/><circle cx="821.8" cy="492.2" r="5.2"/><circle cx="821.0" cy="535.3" r="5.2"/><circle cx="823.6" cy="530.5" r="5.2"/><circle cx="822.3" cy="400.4" r="5.2"/><circle cx="822.2" cy="467.4" r="5.2"/><circle cx="821.3" cy="502.2" r="5.2"/><circle cx="823.7" cy="533.3" r="5.2"/><circle cx="821.3" cy="498.1" r="5.2"/><circle cx="821.7" cy="500.8" r="5.2"/><circle cx="823.0" cy="506.7" r="5.2"/><circle cx="823.4" cy="507.0" r="5.2"/><circle cx="821.3" cy="548.1" r="5.2"/><circle cx="822.2" cy="318.5" r="5.2"/><circle cx="823.4" cy="528.6" r="5.2"/><circle cx="820.8" cy="518.9" r="5.2"/><circle cx="821.4" cy="528.6" r="5.2"/><circle cx="823.4" cy="539.7" r="5.2"/><circle cx="821.8" cy="496.7" r="5.2"/><circle cx="822.3" cy="287.2" r="5.2"/><circle cx="820.9" cy="513.4" r="5.2"/><circle cx="822.5" cy="494.7" r="5.2"/><circle cx="821.1" cy="507.0" r="5.2"/><circle cx="823.1" cy="509.8" r="5.2"/><circle cx="823.2" cy="520.4" r="5.2"/><circle cx="822.8" cy="547.1" r="5.2"/><circle cx="821.1" cy="515.9" r="5.2"/><circle cx="821.1" cy="510.5" r="5.2"/><circle cx="822.0" cy="494.6" r="5.2"/><circle cx="823.7" cy="536.6" r="5.2"/><circle cx="821.5" cy="547.1" r="5.2"/><circle cx="822.8" cy="492.9" r="5.2"/><circle cx="822.2" cy="499.8" r="5.2"/><circle cx="823.2" cy="498.2" r="5.2"/><circle cx="823.3" cy="534.2" r="5.2"/><circle cx="823.5" cy="535.3" r="5.2"/><circle cx="821.9" cy="501.6" r="5.2"/><circle cx="822.5" cy="491.5" r="5.2"/><circle cx="822.9" cy="537.9" r="5.2"/><circle cx="821.2" cy="518.3" r="5.2"/><circle cx="821.2" cy="545.0" r="5.2"/><circle cx="822.2" cy="357.2" r="5.2"/><circle cx="822.8" cy="489.2" r="5.2"/><circle cx="821.5" cy="543.2" r="5.2"/><circle cx="822.2" cy="489.3" r="5.2"/><circle cx="822.2" cy="549.7" r="5.2"/><circle cx="821.3" cy="540.8" r="5.2"/><circle cx="822.1" cy="508.4" r="5.2"/><circle cx="823.2" cy="502.2" r="5.2"/><circle cx="823.2" cy="532.2" r="5.2"/><circle cx="807.0" cy="587.3" r="5.2"/><circle cx="823.1" cy="549.5" r="5.2"/><circle cx="822.2" cy="528.3" r="5.2"/><circle cx="822.9" cy="494.1" r="5.2"/><circle cx="821.8" cy="510.1" r="5.2"/><circle cx="822.8" cy="500.8" r="5.2"/><circle cx="822.7" cy="540.7" r="5.2"/><circle cx="837.6" cy="587.3" r="5.2"/><circle cx="821.6" cy="536.1" r="5.2"/><circle cx="822.4" cy="544.2" r="5.2"/><circle cx="822.4" cy="494.0" r="5.2"/><circle cx="821.2" cy="531.7" r="5.2"/><circle cx="822.8" cy="508.6" r="5.2"/><circle cx="821.0" cy="530.1" r="5.2"/><circle cx="821.7" cy="541.1" r="5.2"/><circle cx="822.3" cy="497.1" r="5.2"/><circle cx="823.3" cy="538.5" r="5.2"/><circle cx="820.6" cy="527.1" r="5.2"/><circle cx="822.7" cy="517.3" r="5.2"/><circle cx="821.2" cy="511.9" r="5.2"/><circle cx="821.3" cy="533.6" r="5.2"/><circle cx="822.9" cy="533.5" r="5.2"/><circle cx="837.5" cy="587.3" r="5.2"/><circle cx="807.0" cy="587.3" r="5.2"/><circle cx="821.8" cy="515.4" r="5.2"/><circle cx="823.5" cy="516.8" r="5.2"/><circle cx="822.5" cy="483.7" r="5.2"/><circle cx="823.0" cy="512.2" r="5.2"/><circle cx="837.2" cy="587.3" r="5.2"/><circle cx="821.8" cy="543.6" r="5.2"/><circle cx="822.1" cy="533.4" r="5.2"/><circle cx="807.3" cy="587.3" r="5.2"/><circle cx="821.6" cy="495.6" r="5.2"/><circle cx="823.1" cy="546.1" r="5.2"/><circle cx="823.4" cy="522.2" r="5.2"/><circle cx="822.9" cy="514.5" r="5.2"/><circle cx="822.8" cy="542.6" r="5.2"/><circle cx="822.8" cy="520.0" r="5.2"/><circle cx="821.5" cy="503.7" r="5.2"/><circle cx="822.6" cy="524.3" r="5.2"/><circle cx="822.2" cy="308.0" r="5.2"/><circle cx="821.4" cy="525.4" r="5.2"/><circle cx="821.7" cy="521.4" r="5.2"/><circle cx="822.3" cy="455.5" r="5.2"/><circle cx="821.7" cy="534.7" r="5.2"/><circle cx="822.3" cy="518.8" r="5.2"/><circle cx="822.4" cy="533.3" r="5.2"/><circle cx="821.4" cy="514.7" r="5.2"/><circle cx="807.0" cy="587.3" r="5.2"/><circle cx="821.1" cy="538.8" r="5.2"/><circle cx="823.6" cy="519.2" r="5.2"/><circle cx="823.0" cy="528.6" r="5.2"/><circle cx="822.2" cy="537.2" r="5.2"/><circle cx="822.1" cy="502.4" r="5.2"/><circle cx="821.3" cy="520.0" r="5.2"/><circle cx="836.5" cy="587.3" r="5.2"/><circle cx="820.9" cy="521.9" r="5.2"/><circle cx="821.7" cy="547.2" r="5.2"/><circle cx="823.1" cy="536.0" r="5.2"/><circle cx="822.5" cy="501.7" r="5.2"/><circle cx="835.6" cy="587.3" r="5.2"/><circle cx="822.5" cy="510.1" r="5.2"/><circle cx="807.7" cy="587.3" r="5.2"/><circle cx="808.4" cy="587.3" r="5.2"/><circle cx="837.4" cy="587.3" r="5.2"/><circle cx="821.1" cy="524.9" r="5.2"/><circle cx="807.3" cy="587.3" r="5.2"/><circle cx="822.6" cy="511.7" r="5.2"/><circle cx="835.3" cy="587.3" r="5.2"/><circle cx="825.3" cy="572.4" r="5.2"/><circle cx="821.5" cy="509.0" r="5.2"/><circle cx="822.2" cy="514.3" r="5.2"/><circle cx="823.0" cy="525.1" r="5.2"/><circle cx="821.4" cy="538.0" r="5.2"/><circle cx="822.4" cy="521.7" r="5.2"/><circle cx="822.2" cy="445.1" r="5.2"/><circle cx="807.9" cy="587.3" r="5.2"/><circle cx="815.5" cy="587.3" r="5.2"/><circle cx="818.1" cy="587.3" r="5.2"/><circle cx="832.6" cy="587.3" r="5.2"/><circle cx="823.8" cy="527.4" r="5.2"/><circle cx="816.5" cy="587.3" r="5.2"/><circle cx="816.9" cy="587.3" r="5.2"/><circle cx="814.1" cy="587.3" r="5.2"/><circle cx="809.3" cy="587.3" r="5.2"/><circle cx="835.0" cy="587.3" r="5.2"/><circle cx="834.7" cy="587.3" r="5.2"/><circle cx="825.5" cy="587.3" r="5.2"/><circle cx="823.6" cy="514.2" r="5.2"/><circle cx="836.9" cy="587.3" r="5.2"/><circle cx="813.7" cy="587.3" r="5.2"/><circle cx="828.3" cy="587.3" r="5.2"/><circle cx="833.8" cy="587.3" r="5.2"/><circle cx="833.9" cy="587.3" r="5.2"/><circle cx="821.2" cy="587.3" r="5.2"/><circle cx="823.9" cy="587.3" r="5.2"/><circle cx="828.2" cy="587.3" r="5.2"/><circle cx="829.0" cy="587.3" r="5.2"/><circle cx="826.4" cy="587.3" r="5.2"/><circle cx="823.2" cy="514.7" r="5.2"/><circle cx="830.9" cy="587.3" r="5.2"/><circle cx="821.5" cy="494.1" r="5.2"/><circle cx="834.8" cy="587.3" r="5.2"/><circle cx="830.2" cy="587.3" r="5.2"/><circle cx="821.0" cy="587.3" r="5.2"/><circle cx="820.0" cy="587.3" r="5.2"/><circle cx="808.9" cy="587.3" r="5.2"/><circle cx="812.3" cy="587.3" r="5.2"/><circle cx="810.8" cy="587.3" r="5.2"/><circle cx="821.2" cy="535.9" r="5.2"/><circle cx="813.8" cy="587.3" r="5.2"/><circle cx="812.8" cy="587.3" r="5.2"/><circle cx="823.5" cy="587.3" r="5.2"/></g><g fill="#FF7F0E" stroke="#FF7F0E"><circle cx="863.4" cy="475.5" r="5.2"/><circle cx="863.3" cy="537.0" r="5.2"/><circle cx="862.9" cy="489.3" r="5.2"/><circle cx="865.0" cy="567.9" r="5.2"/><circle cx="864.1" cy="489.9" r="5.2"/><circle cx="864.5" cy="511.0" r="5.2"/><circle cx="862.8" cy="519.4" r="5.2"/><circle cx="864.5" cy="527.9" r="5.2"/><circle cx="863.2" cy="496.5" r="5.2"/><circle cx="862.7" cy="514.6" r="5.2"/><circle cx="863.0" cy="524.8" r="5.2"/><circle cx="863.0" cy="496.3" r="5.2"/><circle cx="864.6" cy="501.7" r="5.2"/><circle cx="862.9" cy="495.2" r="5.2"/><circle cx="863.8" cy="476.9" r="5.2"/><circle cx="863.5" cy="511.1" r="5.2"/><circle cx="864.1" cy="539.2" r="5.2"/><circle cx="863.6" cy="502.4" r="5.2"/><circle cx="863.3" cy="529.4" r="5.2"/><circle cx="863.3" cy="488.8" r="5.2"/><circle cx="863.7" cy="232.8" r="5.2"/><circle cx="864.2" cy="496.3" r="5.2"/><circle cx="864.1" cy="476.8" r="5.2"/><circle cx="863.6" cy="482.2" r="5.2"/><circle cx="863.7" cy="528.6" r="5.2"/><circle cx="864.4" cy="505.3" r="5.2"/><circle cx="863.2" cy="484.7" r="5.2"/><circle cx="863.8" cy="494.1" r="5.2"/><circle cx="863.2" cy="491.1" r="5.2"/><circle cx="864.0" cy="484.2" r="5.2"/><circle cx="863.6" cy="516.8" r="5.2"/><circle cx="863.5" cy="476.8" r="5.2"/><circle cx="863.6" cy="540.3" r="5.2"/><circle cx="863.5" cy="520.4" r="5.2"/><circle cx="878.9" cy="587.3" r="5.2"/><circle cx="864.5" cy="495.9" r="5.2"/><circle cx="878.6" cy="587.3" r="5.2"/><circle cx="864.0" cy="511.3" r="5.2"/><circle cx="862.9" cy="527.3" r="5.2"/><circle cx="862.7" cy="499.7" r="5.2"/><circle cx="863.2" cy="477.3" r="5.2"/><circle cx="878.7" cy="587.3" r="5.2"/><circle cx="864.3" cy="491.1" r="5.2"/><circle cx="864.1" cy="468.5" r="5.2"/><circle cx="863.4" cy="492.0" r="5.2"/><circle cx="863.7" cy="470.2" r="5.2"/><circle cx="864.5" cy="489.4" r="5.2"/><circle cx="863.9" cy="471.3" r="5.2"/><circle cx="864.4" cy="520.0" r="5.2"/><circle cx="863.8" cy="514.2" r="5.2"/><circle cx="863.3" cy="526.3" r="5.2"/><circle cx="863.5" cy="533.7" r="5.2"/><circle cx="863.1" cy="517.6" r="5.2"/><circle cx="864.1" cy="529.2" r="5.2"/><circle cx="863.8" cy="518.5" r="5.2"/><circle cx="848.5" cy="587.3" r="5.2"/><circle cx="864.2" cy="532.7" r="5.2"/><circle cx="864.1" cy="525.2" r="5.2"/><circle cx="863.9" cy="509.5" r="5.2"/><circle cx="863.8" cy="534.6" r="5.2"/><circle cx="864.6" cy="516.7" r="5.2"/><circle cx="864.3" cy="512.5" r="5.2"/><circle cx="863.7" cy="497.7" r="5.2"/><circle cx="852.9" cy="587.3" r="5.2"/><circle cx="863.0" cy="512.1" r="5.2"/><circle cx="858.9" cy="587.3" r="5.2"/><circle cx="863.2" cy="513.2" r="5.2"/><circle cx="864.2" cy="478.0" r="5.2"/><circle cx="864.1" cy="504.0" r="5.2"/><circle cx="863.6" cy="489.5" r="5.2"/><circle cx="864.2" cy="485.9" r="5.2"/><circle cx="848.5" cy="587.3" r="5.2"/><circle cx="864.8" cy="587.3" r="5.2"/><circle cx="851.8" cy="587.3" r="5.2"/><circle cx="849.0" cy="587.3" r="5.2"/><circle cx="858.2" cy="587.3" r="5.2"/><circle cx="863.7" cy="527.1" r="5.2"/><circle cx="878.8" cy="587.3" r="5.2"/><circle cx="863.3" cy="587.3" r="5.2"/><circle cx="877.6" cy="587.3" r="5.2"/><circle cx="878.1" cy="587.3" r="5.2"/><circle cx="860.0" cy="587.3" r="5.2"/><circle cx="849.9" cy="587.3" r="5.2"/><circle cx="853.5" cy="587.3" r="5.2"/><circle cx="866.9" cy="587.3" r="5.2"/><circle cx="862.9" cy="510.7" r="5.2"/><circle cx="864.3" cy="517.6" r="5.2"/><circle cx="874.8" cy="587.3" r="5.2"/><circle cx="863.4" cy="507.4" r="5.2"/><circle cx="877.4" cy="587.3" r="5.2"/><circle cx="867.9" cy="587.3" r="5.2"/><circle cx="863.9" cy="521.7" r="5.2"/><circle cx="862.3" cy="587.3" r="5.2"/><circle cx="876.6" cy="587.3" r="5.2"/><circle cx="855.7" cy="587.3" r="5.2"/><circle cx="851.1" cy="587.3" r="5.2"/><circle cx="863.5" cy="496.1" r="5.2"/><circle cx="858.7" cy="587.3" r="5.2"/><circle cx="863.1" cy="505.0" r="5.2"/><circle cx="864.6" cy="587.3" r="5.2"/><circle cx="855.3" cy="587.3" r="5.2"/><circle cx="872.8" cy="587.3" r="5.2"/><circle cx="872.5" cy="587.3" r="5.2"/><circle cx="860.4" cy="587.3" r="5.2"/><circle cx="871.0" cy="587.3" r="5.2"/><circle cx="849.8" cy="587.3" r="5.2"/><circle cx="863.3" cy="517.7" r="5.2"/><circle cx="868.3" cy="587.3" r="5.2"/><circle cx="861.2" cy="587.3" r="5.2"/><circle cx="848.4" cy="587.3" r="5.2"/><circle cx="861.7" cy="587.3" r="5.2"/><circle cx="863.4" cy="464.4" r="5.2"/><circle cx="871.7" cy="587.3" r="5.2"/><circle cx="869.7" cy="587.3" r="5.2"/><circle cx="876.4" cy="587.3" r="5.2"/><circle cx="870.1" cy="587.3" r="5.2"/><circle cx="878.3" cy="587.3" r="5.2"/><circle cx="864.0" cy="496.1" r="5.2"/><circle cx="856.5" cy="587.3" r="5.2"/><circle cx="868.0" cy="587.3" r="5.2"/><circle cx="875.7" cy="587.3" r="5.2"/></g><g fill="#FFBB78" stroke="#FFBB78"><circle cx="905.6" cy="551.6" r="5.2"/><circle cx="904.9" cy="521.8" r="5.2"/><circle cx="905.3" cy="449.5" r="5.2"/><circle cx="909.0" cy="587.3" r="5.2"/><circle cx="911.9" cy="587.3" r="5.2"/><circle cx="913.8" cy="587.3" r="5.2"/><circle cx="906.1" cy="587.3" r="5.2"/><circle cx="904.7" cy="275.3" r="5.2"/><circle cx="916.7" cy="587.3" r="5.2"/><circle cx="899.4" cy="587.3" r="5.2"/><circle cx="918.6" cy="587.3" r="5.2"/><circle cx="900.3" cy="587.3" r="5.2"/><circle cx="892.6" cy="587.3" r="5.2"/><circle cx="905.6" cy="369.1" r="5.2"/><circle cx="890.7" cy="587.3" r="5.2"/><circle cx="912.9" cy="587.3" r="5.2"/><circle cx="904.2" cy="587.3" r="5.2"/><circle cx="905.0" cy="442.1" r="5.2"/><circle cx="905.2" cy="529.2" r="5.2"/><circle cx="910.0" cy="587.3" r="5.2"/><circle cx="917.7" cy="587.3" r="5.2"/><circle cx="896.5" cy="587.3" r="5.2"/><circle cx="904.6" cy="541.1" r="5.2"/><circle cx="910.9" cy="587.3" r="5.2"/><circle cx="915.7" cy="587.3" r="5.2"/><circle cx="914.8" cy="587.3" r="5.2"/><circle cx="895.5" cy="587.3" r="5.2"/><circle cx="901.3" cy="587.3" r="5.2"/><circle cx="905.2" cy="587.3" r="5.2"/><circle cx="904.8" cy="500.9" r="5.2"/><circle cx="894.6" cy="587.3" r="5.2"/><circle cx="891.7" cy="587.3" r="5.2"/><circle cx="907.1" cy="587.3" r="5.2"/><circle cx="905.5" cy="513.6" r="5.2"/><circle cx="897.5" cy="587.3" r="5.2"/><circle cx="902.3" cy="587.3" r="5.2"/></g><g fill="#2CA02C" stroke="#2CA02C"><circle cx="944.0" cy="381.6" r="5.2"/><circle cx="948.3" cy="496.5" r="5.2"/><circle cx="948.3" cy="409.3" r="5.2"/><circle cx="945.0" cy="251.2" r="5.2"/><circle cx="946.8" cy="315.3" r="5.2"/><circle cx="948.2" cy="375.4" r="5.2"/><circle cx="944.9" cy="229.9" r="5.2"/><circle cx="950.6" cy="515.0" r="5.2"/><circle cx="942.7" cy="514.4" r="5.2"/><circle cx="948.1" cy="424.3" r="5.2"/><circle cx="946.2" cy="479.0" r="5.2"/><circle cx="947.2" cy="307.7" r="5.2"/><circle cx="931.5" cy="587.3" r="5.2"/><circle cx="943.2" cy="468.7" r="5.2"/><circle cx="944.8" cy="295.5" r="5.2"/><circle cx="949.1" cy="189.1" r="5.2"/><circle cx="949.9" cy="497.5" r="5.2"/><circle cx="947.5" cy="487.5" r="5.2"/><circle cx="949.6" cy="525.8" r="5.2"/><circle cx="941.2" cy="518.9" r="5.2"/><circle cx="948.5" cy="333.7" r="5.2"/><circle cx="931.7" cy="587.3" r="5.2"/><circle cx="944.4" cy="210.4" r="5.2"/><circle cx="947.0" cy="466.4" r="5.2"/><circle cx="944.4" cy="183.8" r="5.2"/><circle cx="947.7" cy="198.5" r="5.2"/><circle cx="948.9" cy="211.8" r="5.2"/><circle cx="949.8" cy="482.4" r="5.2"/><circle cx="952.2" cy="512.7" r="5.2"/><circle cx="946.3" cy="386.9" r="5.2"/><circle cx="948.2" cy="163.3" r="5.2"/><circle cx="946.4" cy="287.0" r="5.2"/><circle cx="949.8" cy="520.5" r="5.2"/><circle cx="947.1" cy="181.2" r="5.2"/><circle cx="948.2" cy="519.8" r="5.2"/><circle cx="948.6" cy="358.9" r="5.2"/><circle cx="949.4" cy="505.1" r="5.2"/><circle cx="947.7" cy="266.9" r="5.2"/><circle cx="944.0" cy="223.2" r="5.2"/><circle cx="945.8" cy="255.9" r="5.2"/><circle cx="943.5" cy="214.6" r="5.2"/><circle cx="946.5" cy="524.2" r="5.2"/><circle cx="948.0" cy="210.2" r="5.2"/><circle cx="942.3" cy="509.3" r="5.2"/><circle cx="947.0" cy="280.2" r="5.2"/><circle cx="949.5" cy="284.1" r="5.2"/><circle cx="961.0" cy="587.3" r="5.2"/><circle cx="946.0" cy="310.3" r="5.2"/><circle cx="948.7" cy="464.2" r="5.2"/><circle cx="946.2" cy="361.2" r="5.2"/><circle cx="952.7" cy="523.3" r="5.2"/><circle cx="945.3" cy="314.8" r="5.2"/><circle cx="946.9" cy="377.7" r="5.2"/><circle cx="943.1" cy="505.3" r="5.2"/><circle cx="944.5" cy="459.0" r="5.2"/><circle cx="948.8" cy="300.8" r="5.2"/><circle cx="946.6" cy="231.5" r="5.2"/><circle cx="949.0" cy="514.3" r="5.2"/><circle cx="947.6" cy="171.6" r="5.2"/><circle cx="946.3" cy="504.5" r="5.2"/><circle cx="945.2" cy="332.3" r="5.2"/><circle cx="944.3" cy="516.3" r="5.2"/><circle cx="945.8" cy="431.4" r="5.2"/><circle cx="931.9" cy="587.3" r="5.2"/><circle cx="945.7" cy="147.9" r="5.2"/><circle cx="949.2" cy="264.5" r="5.2"/><circle cx="951.2" cy="494.7" r="5.2"/><circle cx="948.8" cy="426.3" r="5.2"/><circle cx="949.1" cy="405.4" r="5.2"/><circle cx="949.2" cy="383.3" r="5.2"/><circle cx="947.9" cy="287.9" r="5.2"/><circle cx="943.3" cy="204.2" r="5.2"/><circle cx="947.5" cy="218.3" r="5.2"/><circle cx="946.2" cy="206.5" r="5.2"/><circle cx="949.2" cy="563.5" r="5.2"/><circle cx="932.7" cy="587.3" r="5.2"/><circle cx="940.7" cy="512.4" r="5.2"/><circle cx="940.7" cy="500.5" r="5.2"/><circle cx="942.4" cy="497.0" r="5.2"/><circle cx="948.4" cy="178.9" r="5.2"/><circle cx="942.0" cy="520.0" r="5.2"/><circle cx="946.8" cy="204.1" r="5.2"/><circle cx="945.8" cy="179.5" r="5.2"/><circle cx="949.9" cy="237.0" r="5.2"/><circle cx="948.5" cy="269.8" r="5.2"/><circle cx="943.9" cy="405.2" r="5.2"/><circle cx="949.1" cy="309.9" r="5.2"/><circle cx="948.5" cy="480.1" r="5.2"/><circle cx="942.2" cy="487.9" r="5.2"/><circle cx="945.2" cy="465.2" r="5.2"/><circle cx="948.2" cy="248.3" r="5.2"/><circle cx="945.1" cy="519.4" r="5.2"/><circle cx="948.4" cy="227.7" r="5.2"/><circle cx="932.2" cy="587.3" r="5.2"/><circle cx="952.5" cy="502.6" r="5.2"/><circle cx="945.7" cy="217.4" r="5.2"/><circle cx="951.9" cy="587.3" r="5.2"/><circle cx="945.9" cy="335.1" r="5.2"/><circle cx="944.9" cy="373.6" r="5.2"/><circle cx="945.5" cy="375.9" r="5.2"/><circle cx="945.0" cy="482.5" r="5.2"/><circle cx="947.5" cy="405.9" r="5.2"/><circle cx="946.7" cy="416.9" r="5.2"/><circle cx="943.5" cy="418.7" r="5.2"/><circle cx="946.9" cy="500.4" r="5.2"/><circle cx="961.5" cy="587.3" r="5.2"/><circle cx="943.8" cy="316.1" r="5.2"/><circle cx="951.8" cy="508.3" r="5.2"/><circle cx="945.5" cy="509.3" r="5.2"/><circle cx="945.0" cy="425.9" r="5.2"/><circle cx="945.4" cy="587.3" r="5.2"/><circle cx="945.3" cy="213.6" r="5.2"/><circle cx="945.5" cy="391.0" r="5.2"/><circle cx="951.0" cy="506.7" r="5.2"/><circle cx="945.4" cy="494.8" r="5.2"/><circle cx="944.5" cy="313.9" r="5.2"/><circle cx="960.8" cy="587.3" r="5.2"/><circle cx="943.8" cy="498.1" r="5.2"/><circle cx="961.3" cy="587.3" r="5.2"/><circle cx="934.1" cy="587.3" r="5.2"/><circle cx="944.7" cy="267.2" r="5.2"/><circle cx="943.8" cy="481.5" r="5.2"/><circle cx="949.7" cy="205.3" r="5.2"/><circle cx="949.3" cy="214.7" r="5.2"/><circle cx="950.5" cy="475.0" r="5.2"/><circle cx="947.1" cy="511.4" r="5.2"/><circle cx="940.6" cy="587.3" r="5.2"/><circle cx="946.5" cy="422.1" r="5.2"/><circle cx="946.6" cy="240.2" r="5.2"/><circle cx="947.4" cy="518.9" r="5.2"/><circle cx="948.6" cy="390.3" r="5.2"/><circle cx="949.5" cy="316.4" r="5.2"/><circle cx="933.1" cy="587.3" r="5.2"/><circle cx="947.6" cy="313.1" r="5.2"/><circle cx="944.6" cy="340.0" r="5.2"/><circle cx="946.5" cy="318.4" r="5.2"/><circle cx="960.1" cy="587.3" r="5.2"/><circle cx="941.1" cy="587.3" r="5.2"/><circle cx="944.7" cy="587.3" r="5.2"/><circle cx="945.6" cy="301.8" r="5.2"/><circle cx="948.3" cy="314.4" r="5.2"/><circle cx="944.1" cy="309.6" r="5.2"/><circle cx="951.1" cy="528.7" r="5.2"/><circle cx="934.6" cy="587.3" r="5.2"/><circle cx="943.6" cy="520.9" r="5.2"/><circle cx="955.5" cy="587.3" r="5.2"/><circle cx="956.5" cy="587.3" r="5.2"/><circle cx="944.3" cy="407.9" r="5.2"/><circle cx="945.5" cy="276.7" r="5.2"/><circle cx="957.7" cy="587.3" r="5.2"/><circle cx="945.0" cy="533.7" r="5.2"/><circle cx="935.3" cy="587.3" r="5.2"/><circle cx="946.2" cy="444.2" r="5.2"/><circle cx="943.3" cy="233.4" r="5.2"/><circle cx="945.7" cy="587.3" r="5.2"/><circle cx="951.4" cy="519.0" r="5.2"/><circle cx="945.1" cy="412.9" r="5.2"/><circle cx="947.4" cy="256.3" r="5.2"/><circle cx="948.9" cy="253.9" r="5.2"/><circle cx="938.9" cy="587.3" r="5.2"/><circle cx="948.5" cy="198.7" r="5.2"/><circle cx="947.9" cy="331.3" r="5.2"/><circle cx="954.6" cy="587.3" r="5.2"/><circle cx="949.1" cy="440.9" r="5.2"/><circle cx="932.4" cy="587.3" r="5.2"/><circle cx="944.3" cy="433.2" r="5.2"/><circle cx="958.4" cy="587.3" r="5.2"/><circle cx="947.3" cy="432.2" r="5.2"/><circle cx="944.3" cy="261.3" r="5.2"/><circle cx="947.6" cy="448.0" r="5.2"/><circle cx="953.8" cy="587.3" r="5.2"/><circle cx="945.1" cy="201.7" r="5.2"/><circle cx="947.1" cy="397.3" r="5.2"/><circle cx="950.9" cy="587.3" r="5.2"/><circle cx="943.9" cy="281.5" r="5.2"/><circle cx="949.3" cy="587.3" r="5.2"/><circle cx="943.0" cy="587.3" r="5.2"/><circle cx="937.2" cy="587.3" r="5.2"/><circle cx="935.8" cy="587.3" r="5.2"/><circle cx="946.2" cy="266.5" r="5.2"/><circle cx="943.5" cy="526.3" r="5.2"/><circle cx="944.3" cy="198.6" r="5.2"/><circle cx="943.9" cy="510.9" r="5.2"/><circle cx="945.9" cy="513.6" r="5.2"/><circle cx="949.0" cy="587.3" r="5.2"/><circle cx="947.8" cy="387.5" r="5.2"/><circle cx="951.4" cy="587.3" r="5.2"/><circle cx="934.3" cy="587.3" r="5.2"/><circle cx="937.7" cy="587.3" r="5.2"/><circle cx="944.8" cy="390.3" r="5.2"/><circle cx="938.4" cy="587.3" r="5.2"/><circle cx="949.7" cy="421.5" r="5.2"/><circle cx="958.6" cy="587.3" r="5.2"/><circle cx="946.0" cy="194.5" r="5.2"/><circle cx="947.2" cy="337.0" r="5.2"/><circle cx="936.5" cy="587.3" r="5.2"/><circle cx="947.5" cy="373.3" r="5.2"/><circle cx="943.7" cy="587.3" r="5.2"/><circle cx="945.9" cy="405.7" r="5.2"/><circle cx="941.6" cy="587.3" r="5.2"/><circle cx="945.3" cy="176.5" r="5.2"/><circle cx="946.5" cy="165.4" r="5.2"/><circle cx="950.2" cy="509.9" r="5.2"/><circle cx="947.1" cy="213.7" r="5.2"/><circle cx="940.5" cy="522.8" r="5.2"/><circle cx="947.8" cy="587.3" r="5.2"/><circle cx="941.5" cy="507.9" r="5.2"/></g><g fill="#98DF8A" stroke="#98DF8A"><circle cx="989.7" cy="528.5" r="5.2"/><circle cx="984.2" cy="537.4" r="5.2"/><circle cx="984.3" cy="540.2" r="5.2"/><circle cx="991.8" cy="537.8" r="5.2"/><circle cx="984.9" cy="556.6" r="5.2"/><circle cx="985.0" cy="533.8" r="5.2"/><circle cx="986.3" cy="536.6" r="5.2"/><circle cx="991.4" cy="564.8" r="5.2"/><circle cx="991.8" cy="554.2" r="5.2"/><circle cx="990.4" cy="536.6" r="5.2"/><circle cx="984.9" cy="530.0" r="5.2"/><circle cx="1003.2" cy="587.3" r="5.2"/><circle cx="992.5" cy="558.9" r="5.2"/><circle cx="990.5" cy="532.1" r="5.2"/><circle cx="986.9" cy="522.2" r="5.2"/><circle cx="985.4" cy="535.6" r="5.2"/><circle cx="990.8" cy="539.5" r="5.2"/><circle cx="990.9" cy="563.2" r="5.2"/><circle cx="984.7" cy="541.9" r="5.2"/><circle cx="1003.1" cy="587.3" r="5.2"/><circle cx="988.4" cy="537.3" r="5.2"/><circle cx="990.0" cy="525.0" r="5.2"/><circle cx="991.4" cy="540.8" r="5.2"/><circle cx="988.5" cy="524.9" r="5.2"/><circle cx="1002.7" cy="587.3" r="5.2"/><circle cx="985.7" cy="546.0" r="5.2"/><circle cx="985.1" cy="550.3" r="5.2"/><circle cx="986.2" cy="565.4" r="5.2"/><circle cx="992.0" cy="561.8" r="5.2"/><circle cx="984.4" cy="561.6" r="5.2"/><circle cx="987.5" cy="525.7" r="5.2"/><circle cx="988.2" cy="492.7" r="5.2"/><circle cx="985.4" cy="539.2" r="5.2"/><circle cx="990.6" cy="557.9" r="5.2"/><circle cx="986.1" cy="531.4" r="5.2"/><circle cx="992.5" cy="563.9" r="5.2"/><circle cx="983.7" cy="558.6" r="5.2"/><circle cx="990.1" cy="564.1" r="5.2"/><circle cx="984.5" cy="549.1" r="5.2"/><circle cx="984.3" cy="553.8" r="5.2"/><circle cx="985.6" cy="560.6" r="5.2"/><circle cx="986.6" cy="553.2" r="5.2"/><circle cx="986.0" cy="525.0" r="5.2"/><circle cx="988.8" cy="532.8" r="5.2"/><circle cx="988.1" cy="488.3" r="5.2"/><circle cx="991.2" cy="533.9" r="5.2"/><circle cx="1002.3" cy="587.3" r="5.2"/><circle cx="973.0" cy="587.3" r="5.2"/><circle cx="990.3" cy="541.9" r="5.2"/><circle cx="988.5" cy="563.5" r="5.2"/><circle cx="985.8" cy="542.6" r="5.2"/><circle cx="985.1" cy="564.1" r="5.2"/><circle cx="992.6" cy="543.5" r="5.2"/><circle cx="1002.5" cy="587.3" r="5.2"/><circle cx="986.0" cy="527.8" r="5.2"/><circle cx="988.3" cy="587.3" r="5.2"/><circle cx="987.9" cy="530.3" r="5.2"/><circle cx="987.0" cy="532.5" r="5.2"/><circle cx="991.2" cy="530.2" r="5.2"/><circle cx="988.0" cy="543.6" r="5.2"/><circle cx="991.0" cy="550.3" r="5.2"/><circle cx="990.2" cy="560.2" r="5.2"/><circle cx="986.0" cy="558.0" r="5.2"/><circle cx="989.7" cy="562.8" r="5.2"/><circle cx="988.2" cy="476.3" r="5.2"/><circle cx="992.4" cy="551.6" r="5.2"/><circle cx="986.9" cy="548.1" r="5.2"/><circle cx="987.3" cy="524.1" r="5.2"/><circle cx="1000.7" cy="587.3" r="5.2"/><circle cx="987.2" cy="554.3" r="5.2"/><circle cx="1000.1" cy="587.3" r="5.2"/><circle cx="976.2" cy="587.3" r="5.2"/><circle cx="990.6" cy="587.3" r="5.2"/><circle cx="988.2" cy="529.7" r="5.2"/><circle cx="984.0" cy="551.4" r="5.2"/><circle cx="989.3" cy="535.0" r="5.2"/><circle cx="1003.0" cy="587.3" r="5.2"/><circle cx="989.8" cy="587.3" r="5.2"/><circle cx="988.3" cy="558.0" r="5.2"/><circle cx="998.9" cy="587.3" r="5.2"/><circle cx="993.8" cy="587.3" r="5.2"/><circle cx="975.7" cy="587.3" r="5.2"/><circle cx="983.6" cy="543.2" r="5.2"/><circle cx="975.2" cy="587.3" r="5.2"/><circle cx="983.7" cy="587.3" r="5.2"/><circle cx="973.3" cy="587.3" r="5.2"/><circle cx="991.4" cy="560.6" r="5.2"/><circle cx="989.4" cy="522.3" r="5.2"/><circle cx="991.2" cy="552.5" r="5.2"/><circle cx="991.6" cy="587.3" r="5.2"/><circle cx="995.1" cy="587.3" r="5.2"/><circle cx="996.5" cy="587.3" r="5.2"/><circle cx="992.1" cy="549.6" r="5.2"/><circle cx="978.5" cy="587.3" r="5.2"/><circle cx="987.9" cy="559.0" r="5.2"/><circle cx="974.4" cy="587.3" r="5.2"/><circle cx="986.5" cy="539.7" r="5.2"/><circle cx="986.6" cy="587.3" r="5.2"/><circle cx="997.3" cy="587.3" r="5.2"/><circle cx="984.0" cy="587.3" r="5.2"/><circle cx="981.8" cy="587.3" r="5.2"/><circle cx="992.6" cy="587.3" r="5.2"/><circle cx="984.9" cy="562.8" r="5.2"/><circle cx="991.5" cy="547.1" r="5.2"/><circle cx="980.0" cy="587.3" r="5.2"/><circle cx="988.9" cy="553.3" r="5.2"/><circle cx="986.8" cy="587.3" r="5.2"/><circle cx="980.6" cy="587.3" r="5.2"/><circle cx="988.0" cy="379.5" r="5.2"/><circle cx="987.7" cy="587.3" r="5.2"/><circle cx="981.0" cy="587.3" r="5.2"/><circle cx="1001.1" cy="587.3" r="5.2"/><circle cx="979.1" cy="587.3" r="5.2"/><circle cx="978.9" cy="587.3" r="5.2"/><circle cx="972.9" cy="587.3" r="5.2"/><circle cx="985.2" cy="587.3" r="5.2"/><circle cx="972.8" cy="587.3" r="5.2"/><circle cx="988.9" cy="527.0" r="5.2"/><circle cx="998.4" cy="587.3" r="5.2"/><circle cx="995.8" cy="587.3" r="5.2"/><circle cx="994.3" cy="587.3" r="5.2"/><circle cx="988.9" cy="566.2" r="5.2"/><circle cx="986.7" cy="528.6" r="5.2"/><circle cx="975.1" cy="587.3" r="5.2"/><circle cx="988.6" cy="540.0" r="5.2"/><circle cx="983.6" cy="563.7" r="5.2"/><circle cx="989.5" cy="555.6" r="5.2"/></g><g fill="#D62728" stroke="#D62728"><circle cx="1031.0" cy="544.1" r="5.2"/><circle cx="1029.6" cy="161.3" r="5.2"/><circle cx="1044.5" cy="587.3" r="5.2"/><circle cx="1044.2" cy="587.3" r="5.2"/><circle cx="1044.0" cy="587.3" r="5.2"/><circle cx="1029.5" cy="398.9" r="5.2"/><circle cx="1044.7" cy="587.3" r="5.2"/><circle cx="1029.5" cy="73.5" r="5.2"/><circle cx="1014.3" cy="587.3" r="5.2"/><circle cx="1014.6" cy="587.3" r="5.2"/><circle cx="1038.9" cy="587.3" r="5.2"/><circle cx="1014.4" cy="587.3" r="5.2"/><circle cx="1038.2" cy="587.3" r="5.2"/><circle cx="1042.5" cy="587.3" r="5.2"/><circle cx="1032.4" cy="587.3" r="5.2"/><circle cx="1032.5" cy="587.3" r="5.2"/><circle cx="1037.5" cy="587.3" r="5.2"/><circle cx="1017.7" cy="587.3" r="5.2"/><circle cx="1044.6" cy="587.3" r="5.2"/><circle cx="1015.2" cy="587.3" r="5.2"/><circle cx="1036.3" cy="587.3" r="5.2"/><circle cx="1025.2" cy="587.3" r="5.2"/><circle cx="1036.0" cy="587.3" r="5.2"/><circle cx="1035.1" cy="587.3" r="5.2"/><circle cx="1042.0" cy="587.3" r="5.2"/><circle cx="1043.5" cy="587.3" r="5.2"/><circle cx="1022.9" cy="587.3" r="5.2"/><circle cx="1041.4" cy="587.3" r="5.2"/><circle cx="1043.7" cy="587.3" r="5.2"/><circle cx="1025.7" cy="587.3" r="5.2"/><circle cx="1018.5" cy="587.3" r="5.2"/><circle cx="1022.0" cy="587.3" r="5.2"/><circle cx="1029.5" cy="587.3" r="5.2"/><circle cx="1028.1" cy="587.3" r="5.2"/><circle cx="1028.2" cy="587.3" r="5.2"/><circle cx="1028.6" cy="587.3" r="5.2"/><circle cx="1016.2" cy="587.3" r="5.2"/><circle cx="1015.1" cy="587.3" r="5.2"/><circle cx="1025.8" cy="587.3" r="5.2"/><circle cx="1037.2" cy="587.3" r="5.2"/><circle cx="1030.5" cy="587.3" r="5.2"/><circle cx="1033.9" cy="587.3" r="5.2"/><circle cx="1022.1" cy="587.3" r="5.2"/><circle cx="1020.5" cy="587.3" r="5.2"/><circle cx="1016.5" cy="587.3" r="5.2"/><circle cx="1016.7" cy="587.3" r="5.2"/><circle cx="1026.6" cy="587.3" r="5.2"/></g><g fill="#FF9896" stroke="#FF9896"><circle cx="1072.0" cy="510.9" r="5.2"/><circle cx="1070.8" cy="458.5" r="5.2"/><circle cx="1073.0" cy="497.7" r="5.2"/><circle cx="1086.2" cy="587.3" r="5.2"/><circle cx="1069.8" cy="536.4" r="5.2"/><circle cx="1069.8" cy="511.5" r="5.2"/><circle cx="1071.5" cy="467.9" r="5.2"/><circle cx="1069.6" cy="518.6" r="5.2"/><circle cx="1072.2" cy="524.2" r="5.2"/><circle cx="1071.7" cy="523.2" r="5.2"/><circle cx="1070.3" cy="524.3" r="5.2"/><circle cx="1069.4" cy="505.4" r="5.2"/><circle cx="1071.1" cy="470.7" r="5.2"/><circle cx="1072.2" cy="505.6" r="5.2"/><circle cx="1055.8" cy="587.3" r="5.2"/><circle cx="1071.7" cy="541.1" r="5.2"/><circle cx="1070.2" cy="473.0" r="5.2"/><circle cx="1070.6" cy="518.1" r="5.2"/><circle cx="1072.7" cy="502.9" r="5.2"/><circle cx="1070.3" cy="499.1" r="5.2"/><circle cx="1069.4" cy="484.8" r="5.2"/><circle cx="1072.8" cy="521.4" r="5.2"/><circle cx="1070.9" cy="486.0" r="5.2"/><circle cx="1070.0" cy="480.3" r="5.2"/><circle cx="1072.5" cy="511.9" r="5.2"/><circle cx="1071.8" cy="482.4" r="5.2"/><circle cx="1072.4" cy="498.7" r="5.2"/><circle cx="1069.8" cy="523.8" r="5.2"/><circle cx="1069.1" cy="496.6" r="5.2"/><circle cx="1071.2" cy="525.3" r="5.2"/><circle cx="1070.1" cy="519.9" r="5.2"/><circle cx="1070.3" cy="533.7" r="5.2"/><circle cx="1071.7" cy="494.9" r="5.2"/><circle cx="1071.8" cy="486.8" r="5.2"/><circle cx="1072.7" cy="517.6" r="5.2"/><circle cx="1071.5" cy="538.3" r="5.2"/><circle cx="1070.9" cy="510.6" r="5.2"/><circle cx="1070.5" cy="490.4" r="5.2"/><circle cx="1072.3" cy="489.0" r="5.2"/><circle cx="1071.0" cy="445.1" r="5.2"/><circle cx="1055.7" cy="587.3" r="5.2"/><circle cx="1072.3" cy="529.3" r="5.2"/><circle cx="1071.8" cy="530.0" r="5.2"/><circle cx="1069.7" cy="498.4" r="5.2"/><circle cx="1072.3" cy="495.8" r="5.2"/><circle cx="1069.8" cy="529.9" r="5.2"/><circle cx="1071.6" cy="504.5" r="5.2"/><circle cx="1070.1" cy="495.8" r="5.2"/><circle cx="1071.4" cy="491.4" r="5.2"/><circle cx="1070.6" cy="529.4" r="5.2"/><circle cx="1071.2" cy="496.3" r="5.2"/><circle cx="1072.6" cy="485.3" r="5.2"/><circle cx="1070.8" cy="474.2" r="5.2"/><circle cx="1071.8" cy="473.5" r="5.2"/><circle cx="1071.9" cy="498.3" r="5.2"/><circle cx="1071.4" cy="529.4" r="5.2"/><circle cx="1073.1" cy="510.3" r="5.2"/><circle cx="1069.6" cy="495.1" r="5.2"/><circle cx="1071.1" cy="509.5" r="5.2"/><circle cx="1070.3" cy="514.7" r="5.2"/><circle cx="1056.1" cy="587.3" r="5.2"/><circle cx="1085.9" cy="587.3" r="5.2"/><circle cx="1069.4" cy="492.6" r="5.2"/><circle cx="1070.5" cy="504.0" r="5.2"/><circle cx="1070.0" cy="506.4" r="5.2"/><circle cx="1071.3" cy="474.7" r="5.2"/><circle cx="1077.5" cy="587.3" r="5.2"/><circle cx="1068.9" cy="509.6" r="5.2"/><circle cx="1069.5" cy="527.6" r="5.2"/><circle cx="1072.1" cy="537.5" r="5.2"/><circle cx="1059.0" cy="587.3" r="5.2"/><circle cx="1063.1" cy="587.3" r="5.2"/><circle cx="1062.5" cy="587.3" r="5.2"/><circle cx="1086.0" cy="587.3" r="5.2"/><circle cx="1071.4" cy="515.0" r="5.2"/><circle cx="1069.1" cy="521.3" r="5.2"/><circle cx="1076.9" cy="587.3" r="5.2"/><circle cx="1071.0" cy="404.8" r="5.2"/><circle cx="1085.3" cy="587.3" r="5.2"/><circle cx="1071.3" cy="499.5" r="5.2"/><circle cx="1077.4" cy="587.3" r="5.2"/><circle cx="1065.3" cy="587.3" r="5.2"/><circle cx="1056.2" cy="587.3" r="5.2"/><circle cx="1058.6" cy="587.3" r="5.2"/><circle cx="1069.3" cy="515.0" r="5.2"/><circle cx="1075.1" cy="587.3" r="5.2"/><circle cx="1084.4" cy="587.3" r="5.2"/><circle cx="1080.1" cy="587.3" r="5.2"/><circle cx="1056.6" cy="587.3" r="5.2"/><circle cx="1085.7" cy="587.3" r="5.2"/><circle cx="1081.0" cy="587.3" r="5.2"/><circle cx="1071.0" cy="483.9" r="5.2"/><circle cx="1073.8" cy="587.3" r="5.2"/><circle cx="1071.1" cy="521.2" r="5.2"/><circle cx="1061.3" cy="587.3" r="5.2"/><circle cx="1080.4" cy="587.3" r="5.2"/><circle cx="1073.2" cy="587.3" r="5.2"/><circle cx="1059.1" cy="587.3" r="5.2"/><circle cx="1065.7" cy="587.3" r="5.2"/><circle cx="1070.5" cy="540.3" r="5.2"/><circle cx="1072.4" cy="587.3" r="5.2"/><circle cx="1061.1" cy="587.3" r="5.2"/><circle cx="1071.0" cy="538.1" r="5.2"/><circle cx="1074.5" cy="587.3" r="5.2"/><circle cx="1064.5" cy="587.3" r="5.2"/><circle cx="1067.6" cy="587.3" r="5.2"/><circle cx="1069.1" cy="501.5" r="5.2"/><circle cx="1061.9" cy="587.3" r="5.2"/><circle cx="1072.7" cy="493.0" r="5.2"/><circle cx="1056.4" cy="587.3" r="5.2"/><circle cx="1072.2" cy="519.0" r="5.2"/><circle cx="1069.0" cy="587.3" r="5.2"/><circle cx="1071.0" cy="534.6" r="5.2"/><circle cx="1068.8" cy="587.3" r="5.2"/><circle cx="1081.2" cy="587.3" r="5.2"/><circle cx="1083.9" cy="587.3" r="5.2"/><circle cx="1071.7" cy="518.1" r="5.2"/><circle cx="1072.3" cy="587.3" r="5.2"/><circle cx="1071.6" cy="587.3" r="5.2"/><circle cx="1068.2" cy="587.3" r="5.2"/><circle cx="1074.2" cy="587.3" r="5.2"/><circle cx="1070.0" cy="487.7" r="5.2"/><circle cx="1070.7" cy="469.6" r="5.2"/><circle cx="1070.3" cy="482.8" r="5.2"/></g><g fill="#9467BD" stroke="#9467BD"><circle cx="1113.7" cy="491.8" r="5.2"/><circle cx="1112.7" cy="500.1" r="5.2"/><circle cx="1112.0" cy="481.4" r="5.2"/><circle cx="1110.9" cy="502.8" r="5.2"/><circle cx="1127.6" cy="587.3" r="5.2"/><circle cx="1113.7" cy="515.1" r="5.2"/><circle cx="1111.4" cy="499.2" r="5.2"/><circle cx="1110.8" cy="522.4" r="5.2"/><circle cx="1110.3" cy="516.3" r="5.2"/><circle cx="1111.5" cy="515.8" r="5.2"/><circle cx="1113.2" cy="523.4" r="5.2"/><circle cx="1112.3" cy="530.7" r="5.2"/><circle cx="1112.4" cy="486.2" r="5.2"/><circle cx="1110.9" cy="527.7" r="5.2"/><circle cx="1113.0" cy="497.6" r="5.2"/><circle cx="1111.8" cy="500.1" r="5.2"/><circle cx="1110.7" cy="511.8" r="5.2"/><circle cx="1113.5" cy="499.6" r="5.2"/><circle cx="1113.5" cy="518.8" r="5.2"/><circle cx="1111.8" cy="535.9" r="5.2"/><circle cx="1111.2" cy="485.0" r="5.2"/><circle cx="1113.1" cy="536.8" r="5.2"/><circle cx="1113.9" cy="528.8" r="5.2"/><circle cx="1112.6" cy="515.8" r="5.2"/><circle cx="1114.2" cy="512.0" r="5.2"/><circle cx="1114.0" cy="520.4" r="5.2"/><circle cx="1127.4" cy="587.3" r="5.2"/><circle cx="1112.0" cy="513.4" r="5.2"/><circle cx="1112.6" cy="527.1" r="5.2"/><circle cx="1113.0" cy="481.3" r="5.2"/><circle cx="1127.1" cy="587.3" r="5.2"/><circle cx="1126.7" cy="587.3" r="5.2"/><circle cx="1111.1" cy="523.8" r="5.2"/><circle cx="1097.3" cy="587.3" r="5.2"/><circle cx="1126.1" cy="587.3" r="5.2"/><circle cx="1111.4" cy="490.9" r="5.2"/><circle cx="1111.8" cy="487.7" r="5.2"/><circle cx="1111.3" cy="519.9" r="5.2"/><circle cx="1097.8" cy="587.3" r="5.2"/><circle cx="1125.1" cy="587.3" r="5.2"/><circle cx="1112.8" cy="490.3" r="5.2"/><circle cx="1111.8" cy="520.7" r="5.2"/><circle cx="1113.0" cy="531.4" r="5.2"/><circle cx="1112.3" cy="492.2" r="5.2"/><circle cx="1127.5" cy="587.3" r="5.2"/><circle cx="1112.8" cy="511.7" r="5.2"/><circle cx="1114.1" cy="587.3" r="5.2"/><circle cx="1113.6" cy="524.0" r="5.2"/><circle cx="1110.9" cy="515.0" r="5.2"/><circle cx="1112.5" cy="451.0" r="5.2"/><circle cx="1113.5" cy="488.9" r="5.2"/><circle cx="1111.6" cy="524.6" r="5.2"/><circle cx="1125.7" cy="587.3" r="5.2"/><circle cx="1114.6" cy="517.9" r="5.2"/><circle cx="1112.1" cy="489.7" r="5.2"/><circle cx="1117.7" cy="587.3" r="5.2"/><circle cx="1118.8" cy="587.3" r="5.2"/><circle cx="1111.8" cy="511.2" r="5.2"/><circle cx="1123.6" cy="587.3" r="5.2"/><circle cx="1114.2" cy="522.8" r="5.2"/><circle cx="1112.5" cy="543.4" r="5.2"/><circle cx="1103.6" cy="587.3" r="5.2"/><circle cx="1111.4" cy="506.7" r="5.2"/><circle cx="1124.6" cy="587.3" r="5.2"/><circle cx="1106.7" cy="587.3" r="5.2"/><circle cx="1114.2" cy="504.8" r="5.2"/><circle cx="1107.9" cy="587.3" r="5.2"/><circle cx="1112.2" cy="541.5" r="5.2"/><circle cx="1113.8" cy="508.8" r="5.2"/><circle cx="1112.3" cy="505.1" r="5.2"/><circle cx="1103.4" cy="587.3" r="5.2"/><circle cx="1100.7" cy="587.3" r="5.2"/><circle cx="1101.1" cy="587.3" r="5.2"/><circle cx="1113.7" cy="485.9" r="5.2"/><circle cx="1097.5" cy="587.3" r="5.2"/><circle cx="1098.0" cy="587.3" r="5.2"/><circle cx="1099.3" cy="587.3" r="5.2"/><circle cx="1097.2" cy="587.3" r="5.2"/><circle cx="1120.2" cy="587.3" r="5.2"/><circle cx="1113.9" cy="587.3" r="5.2"/><circle cx="1109.1" cy="587.3" r="5.2"/><circle cx="1111.0" cy="587.3" r="5.2"/><circle cx="1113.1" cy="514.0" r="5.2"/><circle cx="1115.3" cy="587.3" r="5.2"/><circle cx="1117.9" cy="587.3" r="5.2"/><circle cx="1124.2" cy="587.3" r="5.2"/><circle cx="1099.6" cy="587.3" r="5.2"/><circle cx="1112.5" cy="482.8" r="5.2"/><circle cx="1103.3" cy="587.3" r="5.2"/><circle cx="1115.6" cy="587.3" r="5.2"/><circle cx="1111.5" cy="587.3" r="5.2"/><circle cx="1112.4" cy="518.5" r="5.2"/><circle cx="1122.3" cy="587.3" r="5.2"/><circle cx="1113.1" cy="487.7" r="5.2"/><circle cx="1121.4" cy="587.3" r="5.2"/><circle cx="1099.9" cy="587.3" r="5.2"/><circle cx="1112.0" cy="475.1" r="5.2"/><circle cx="1113.3" cy="506.6" r="5.2"/><circle cx="1107.3" cy="587.3" r="5.2"/><circle cx="1112.1" cy="587.3" r="5.2"/></g><g fill="#C5B0D5" stroke="#C5B0D5"><circle cx="1153.2" cy="500.4" r="5.2"/><circle cx="1154.5" cy="460.2" r="5.2"/><circle cx="1154.2" cy="447.2" r="5.2"/><circle cx="1155.0" cy="482.3" r="5.2"/><circle cx="1154.8" cy="509.6" r="5.2"/><circle cx="1153.5" cy="460.4" r="5.2"/><circle cx="1153.4" cy="523.8" r="5.2"/><circle cx="1153.4" cy="486.0" r="5.2"/><circle cx="1153.6" cy="446.2" r="5.2"/><circle cx="1155.3" cy="492.1" r="5.2"/><circle cx="1155.5" cy="483.2" r="5.2"/><circle cx="1138.8" cy="587.3" r="5.2"/><circle cx="1152.8" cy="524.1" r="5.2"/><circle cx="1152.0" cy="508.3" r="5.2"/><circle cx="1153.8" cy="509.5" r="5.2"/><circle cx="1152.0" cy="493.6" r="5.2"/><circle cx="1156.0" cy="481.6" r="5.2"/><circle cx="1154.3" cy="513.1" r="5.2"/><circle cx="1154.2" cy="474.4" r="5.2"/><circle cx="1154.8" cy="496.3" r="5.2"/><circle cx="1153.2" cy="460.0" r="5.2"/><circle cx="1154.8" cy="527.6" r="5.2"/><circle cx="1155.6" cy="502.7" r="5.2"/><circle cx="1152.3" cy="474.8" r="5.2"/><circle cx="1154.2" cy="459.7" r="5.2"/><circle cx="1153.7" cy="468.2" r="5.2"/><circle cx="1155.3" cy="510.7" r="5.2"/><circle cx="1153.8" cy="456.8" r="5.2"/><circle cx="1153.4" cy="513.0" r="5.2"/><circle cx="1154.0" cy="541.6" r="5.2"/><circle cx="1139.0" cy="587.3" r="5.2"/><circle cx="1155.8" cy="509.2" r="5.2"/><circle cx="1152.9" cy="510.5" r="5.2"/><circle cx="1154.0" cy="464.0" r="5.2"/><circle cx="1169.1" cy="587.3" r="5.2"/><circle cx="1154.3" cy="538.3" r="5.2"/><circle cx="1153.8" cy="495.4" r="5.2"/><circle cx="1139.1" cy="587.3" r="5.2"/><circle cx="1154.7" cy="489.1" r="5.2"/><circle cx="1155.3" cy="468.1" r="5.2"/><circle cx="1152.7" cy="496.8" r="5.2"/><circle cx="1154.3" cy="501.6" r="5.2"/><circle cx="1168.8" cy="587.3" r="5.2"/><circle cx="1154.2" cy="493.0" r="5.2"/><circle cx="1152.5" cy="489.3" r="5.2"/><circle cx="1153.6" cy="488.6" r="5.2"/><circle cx="1154.0" cy="524.0" r="5.2"/><circle cx="1155.9" cy="494.7" r="5.2"/><circle cx="1154.5" cy="468.4" r="5.2"/><circle cx="1139.7" cy="587.3" r="5.2"/><circle cx="1152.2" cy="502.3" r="5.2"/><circle cx="1153.4" cy="476.5" r="5.2"/><circle cx="1154.6" cy="504.0" r="5.2"/><circle cx="1138.6" cy="587.3" r="5.2"/><circle cx="1155.4" cy="475.6" r="5.2"/><circle cx="1153.8" cy="528.5" r="5.2"/><circle cx="1154.4" cy="478.2" r="5.2"/><circle cx="1153.0" cy="506.2" r="5.2"/><circle cx="1155.8" cy="488.5" r="5.2"/><circle cx="1153.5" cy="535.4" r="5.2"/><circle cx="1153.9" cy="398.9" r="5.2"/><circle cx="1140.6" cy="587.3" r="5.2"/><circle cx="1169.0" cy="587.3" r="5.2"/><circle cx="1140.0" cy="587.3" r="5.2"/><circle cx="1155.1" cy="505.0" r="5.2"/><circle cx="1154.2" cy="534.9" r="5.2"/><circle cx="1149.1" cy="587.3" r="5.2"/><circle cx="1152.5" cy="504.4" r="5.2"/><circle cx="1155.0" cy="479.3" r="5.2"/><circle cx="1142.1" cy="587.3" r="5.2"/><circle cx="1155.0" cy="471.1" r="5.2"/><circle cx="1167.4" cy="587.3" r="5.2"/><circle cx="1152.6" cy="515.4" r="5.2"/><circle cx="1152.9" cy="468.7" r="5.2"/><circle cx="1155.3" cy="515.8" r="5.2"/><circle cx="1152.8" cy="482.5" r="5.2"/><circle cx="1140.2" cy="587.3" r="5.2"/><circle cx="1165.1" cy="587.3" r="5.2"/><circle cx="1168.6" cy="587.3" r="5.2"/><circle cx="1167.6" cy="587.3" r="5.2"/><circle cx="1159.8" cy="587.3" r="5.2"/><circle cx="1158.4" cy="587.3" r="5.2"/><circle cx="1150.7" cy="587.3" r="5.2"/><circle cx="1153.7" cy="539.7" r="5.2"/><circle cx="1142.6" cy="587.3" r="5.2"/><circle cx="1160.7" cy="587.3" r="5.2"/><circle cx="1153.7" cy="516.9" r="5.2"/><circle cx="1155.4" cy="499.1" r="5.2"/><circle cx="1167.0" cy="587.3" r="5.2"/><circle cx="1155.4" cy="587.3" r="5.2"/><circle cx="1142.8" cy="587.3" r="5.2"/><circle cx="1147.8" cy="587.3" r="5.2"/><circle cx="1143.3" cy="587.3" r="5.2"/><circle cx="1158.7" cy="587.3" r="5.2"/><circle cx="1152.4" cy="478.6" r="5.2"/><circle cx="1154.4" cy="517.7" r="5.2"/><circle cx="1158.1" cy="587.3" r="5.2"/><circle cx="1152.9" cy="518.9" r="5.2"/><circle cx="1154.6" cy="587.3" r="5.2"/><circle cx="1151.8" cy="480.8" r="5.2"/><circle cx="1153.9" cy="480.3" r="5.2"/><circle cx="1164.0" cy="587.3" r="5.2"/><circle cx="1154.4" cy="487.5" r="5.2"/><circle cx="1153.1" cy="492.4" r="5.2"/><circle cx="1157.0" cy="587.3" r="5.2"/><circle cx="1144.1" cy="587.3" r="5.2"/><circle cx="1152.3" cy="488.3" r="5.2"/><circle cx="1167.2" cy="587.3" r="5.2"/><circle cx="1153.0" cy="587.3" r="5.2"/><circle cx="1153.1" cy="587.3" r="5.2"/><circle cx="1162.1" cy="587.3" r="5.2"/><circle cx="1152.6" cy="466.2" r="5.2"/><circle cx="1151.0" cy="587.3" r="5.2"/><circle cx="1140.8" cy="587.3" r="5.2"/><circle cx="1162.8" cy="587.3" r="5.2"/><circle cx="1152.9" cy="480.2" r="5.2"/><circle cx="1145.7" cy="587.3" r="5.2"/><circle cx="1153.9" cy="481.7" r="5.2"/><circle cx="1156.4" cy="587.3" r="5.2"/><circle cx="1153.9" cy="587.3" r="5.2"/><circle cx="1150.3" cy="587.3" r="5.2"/><circle cx="1160.9" cy="587.3" r="5.2"/><circle cx="1145.9" cy="587.3" r="5.2"/><circle cx="1164.7" cy="587.3" r="5.2"/><circle cx="1154.8" cy="519.3" r="5.2"/><circle cx="1153.5" cy="503.1" r="5.2"/><circle cx="1153.3" cy="472.2" r="5.2"/><circle cx="1149.2" cy="587.3" r="5.2"/><circle cx="1146.3" cy="587.3" r="5.2"/></g><g fill="#8C564B" stroke="#8C564B"><circle cx="1180.9" cy="587.3" r="5.2"/><circle cx="1180.2" cy="587.3" r="5.2"/><circle cx="1199.6" cy="570.9" r="5.2"/><circle cx="1210.3" cy="587.3" r="5.2"/><circle cx="1200.2" cy="587.3" r="5.2"/><circle cx="1205.5" cy="587.3" r="5.2"/><circle cx="1195.5" cy="546.3" r="5.2"/><circle cx="1181.9" cy="587.3" r="5.2"/><circle cx="1192.5" cy="587.3" r="5.2"/><circle cx="1209.3" cy="587.3" r="5.2"/><circle cx="1191.8" cy="587.3" r="5.2"/><circle cx="1194.8" cy="551.6" r="5.2"/><circle cx="1204.5" cy="587.3" r="5.2"/><circle cx="1180.5" cy="587.3" r="5.2"/><circle cx="1183.3" cy="587.3" r="5.2"/><circle cx="1197.8" cy="587.3" r="5.2"/><circle cx="1182.9" cy="587.3" r="5.2"/><circle cx="1209.8" cy="587.3" r="5.2"/><circle cx="1206.4" cy="587.3" r="5.2"/><circle cx="1195.2" cy="538.9" r="5.2"/><circle cx="1191.0" cy="587.3" r="5.2"/><circle cx="1187.2" cy="587.3" r="5.2"/><circle cx="1187.9" cy="587.3" r="5.2"/><circle cx="1198.7" cy="587.3" r="5.2"/><circle cx="1208.9" cy="587.3" r="5.2"/><circle cx="1203.6" cy="587.3" r="5.2"/><circle cx="1201.6" cy="587.3" r="5.2"/><circle cx="1202.1" cy="587.3" r="5.2"/><circle cx="1200.7" cy="587.3" r="5.2"/><circle cx="1194.9" cy="587.3" r="5.2"/><circle cx="1195.6" cy="587.3" r="5.2"/><circle cx="1186.7" cy="587.3" r="5.2"/><circle cx="1189.1" cy="587.3" r="5.2"/><circle cx="1188.6" cy="587.3" r="5.2"/><circle cx="1194.4" cy="587.3" r="5.2"/><circle cx="1183.8" cy="587.3" r="5.2"/><circle cx="1184.8" cy="587.3" r="5.2"/><circle cx="1203.3" cy="587.3" r="5.2"/><circle cx="1181.4" cy="587.3" r="5.2"/><circle cx="1207.9" cy="587.3" r="5.2"/><circle cx="1190.6" cy="587.3" r="5.2"/><circle cx="1195.5" cy="509.9" r="5.2"/><circle cx="1184.1" cy="587.3" r="5.2"/></g><g fill="#C49C94" stroke="#C49C94"><circle cx="1235.2" cy="220.9" r="5.2"/><circle cx="1240.3" cy="341.9" r="5.2"/><circle cx="1232.2" cy="507.6" r="5.2"/><circle cx="1237.2" cy="506.8" r="5.2"/><circle cx="1234.7" cy="344.6" r="5.2"/><circle cx="1237.3" cy="203.8" r="5.2"/><circle cx="1222.4" cy="587.3" r="5.2"/><circle cx="1234.9" cy="515.5" r="5.2"/><circle cx="1221.7" cy="587.3" r="5.2"/><circle cx="1233.2" cy="341.2" r="5.2"/><circle cx="1251.3" cy="587.3" r="5.2"/><circle cx="1232.1" cy="516.7" r="5.2"/><circle cx="1235.1" cy="401.0" r="5.2"/><circle cx="1233.4" cy="404.8" r="5.2"/><circle cx="1233.1" cy="250.4" r="5.2"/><circle cx="1235.6" cy="485.9" r="5.2"/><circle cx="1236.1" cy="491.5" r="5.2"/><circle cx="1236.9" cy="296.9" r="5.2"/><circle cx="1223.4" cy="587.3" r="5.2"/><circle cx="1235.3" cy="429.1" r="5.2"/><circle cx="1236.6" cy="201.5" r="5.2"/><circle cx="1237.5" cy="273.7" r="5.2"/><circle cx="1234.7" cy="506.8" r="5.2"/><circle cx="1238.3" cy="587.3" r="5.2"/><circle cx="1232.8" cy="286.7" r="5.2"/><circle cx="1232.4" cy="275.8" r="5.2"/><circle cx="1233.7" cy="355.4" r="5.2"/><circle cx="1237.3" cy="587.3" r="5.2"/><circle cx="1238.9" cy="242.5" r="5.2"/><circle cx="1241.4" cy="508.0" r="5.2"/><circle cx="1242.3" cy="299.3" r="5.2"/><circle cx="1236.4" cy="351.2" r="5.2"/><circle cx="1242.6" cy="587.3" r="5.2"/><circle cx="1238.2" cy="419.8" r="5.2"/><circle cx="1236.0" cy="393.9" r="5.2"/><circle cx="1234.1" cy="397.0" r="5.2"/><circle cx="1237.3" cy="153.9" r="5.2"/><circle cx="1235.1" cy="363.4" r="5.2"/><circle cx="1233.9" cy="305.2" r="5.2"/><circle cx="1231.9" cy="347.5" r="5.2"/><circle cx="1236.4" cy="252.0" r="5.2"/><circle cx="1240.2" cy="511.2" r="5.2"/><circle cx="1236.5" cy="118.1" r="5.2"/><circle cx="1232.7" cy="367.8" r="5.2"/><circle cx="1237.0" cy="401.6" r="5.2"/><circle cx="1233.7" cy="510.4" r="5.2"/><circle cx="1234.1" cy="293.0" r="5.2"/><circle cx="1236.7" cy="410.8" r="5.2"/><circle cx="1240.4" cy="355.9" r="5.2"/><circle cx="1241.7" cy="335.1" r="5.2"/><circle cx="1238.5" cy="253.8" r="5.2"/><circle cx="1238.0" cy="394.2" r="5.2"/><circle cx="1237.7" cy="365.9" r="5.2"/><circle cx="1238.8" cy="587.3" r="5.2"/><circle cx="1227.7" cy="587.3" r="5.2"/><circle cx="1228.2" cy="587.3" r="5.2"/><circle cx="1233.4" cy="491.2" r="5.2"/><circle cx="1231.3" cy="297.6" r="5.2"/><circle cx="1238.9" cy="338.1" r="5.2"/><circle cx="1225.3" cy="587.3" r="5.2"/><circle cx="1236.7" cy="302.1" r="5.2"/><circle cx="1233.7" cy="497.2" r="5.2"/><circle cx="1239.6" cy="302.4" r="5.2"/><circle cx="1239.7" cy="587.3" r="5.2"/><circle cx="1235.4" cy="587.3" r="5.2"/><circle cx="1239.9" cy="267.7" r="5.2"/><circle cx="1238.9" cy="398.6" r="5.2"/><circle cx="1240.1" cy="408.3" r="5.2"/><circle cx="1237.4" cy="345.5" r="5.2"/><circle cx="1247.4" cy="587.3" r="5.2"/><circle cx="1235.3" cy="318.8" r="5.2"/><circle cx="1240.4" cy="491.4" r="5.2"/><circle cx="1232.5" cy="333.2" r="5.2"/><circle cx="1237.1" cy="243.7" r="5.2"/><circle cx="1233.0" cy="587.3" r="5.2"/><circle cx="1244.5" cy="587.3" r="5.2"/><circle cx="1234.9" cy="587.3" r="5.2"/><circle cx="1237.7" cy="489.6" r="5.2"/><circle cx="1240.7" cy="373.4" r="5.2"/><circle cx="1235.6" cy="279.9" r="5.2"/><circle cx="1240.8" cy="278.3" r="5.2"/><circle cx="1249.3" cy="587.3" r="5.2"/><circle cx="1221.9" cy="587.3" r="5.2"/><circle cx="1251.7" cy="587.3" r="5.2"/><circle cx="1234.0" cy="587.3" r="5.2"/><circle cx="1224.8" cy="587.3" r="5.2"/><circle cx="1239.6" cy="289.1" r="5.2"/><circle cx="1241.0" cy="315.1" r="5.2"/><circle cx="1224.3" cy="587.3" r="5.2"/><circle cx="1238.6" cy="444.0" r="5.2"/><circle cx="1241.2" cy="518.5" r="5.2"/><circle cx="1248.9" cy="587.3" r="5.2"/><circle cx="1238.2" cy="320.2" r="5.2"/><circle cx="1235.0" cy="272.7" r="5.2"/><circle cx="1222.9" cy="587.3" r="5.2"/><circle cx="1243.1" cy="587.3" r="5.2"/><circle cx="1226.7" cy="587.3" r="5.2"/><circle cx="1229.6" cy="587.3" r="5.2"/><circle cx="1246.0" cy="587.3" r="5.2"/><circle cx="1229.4" cy="587.3" r="5.2"/><circle cx="1234.2" cy="255.2" r="5.2"/><circle cx="1234.4" cy="587.3" r="5.2"/><circle cx="1238.2" cy="282.4" r="5.2"/><circle cx="1245.0" cy="587.3" r="5.2"/><circle cx="1240.9" cy="587.3" r="5.2"/><circle cx="1237.6" cy="515.7" r="5.2"/><circle cx="1239.7" cy="505.3" r="5.2"/><circle cx="1236.3" cy="510.1" r="5.2"/><circle cx="1238.3" cy="491.5" r="5.2"/><circle cx="1236.0" cy="337.0" r="5.2"/><circle cx="1240.5" cy="251.6" r="5.2"/><circle cx="1241.9" cy="350.8" r="5.2"/><circle cx="1250.8" cy="587.3" r="5.2"/><circle cx="1235.3" cy="243.5" r="5.2"/><circle cx="1239.1" cy="352.3" r="5.2"/><circle cx="1238.9" cy="510.1" r="5.2"/><circle cx="1249.8" cy="587.3" r="5.2"/><circle cx="1233.5" cy="587.3" r="5.2"/><circle cx="1235.9" cy="587.3" r="5.2"/></g><g fill="#E377C2" stroke="#E377C2"><circle cx="1277.1" cy="519.0" r="5.2"/><circle cx="1263.4" cy="587.3" r="5.2"/><circle cx="1293.2" cy="587.3" r="5.2"/><circle cx="1278.3" cy="472.3" r="5.2"/><circle cx="1263.6" cy="587.3" r="5.2"/><circle cx="1280.2" cy="501.2" r="5.2"/><circle cx="1280.2" cy="512.5" r="5.2"/><circle cx="1279.5" cy="519.0" r="5.2"/><circle cx="1263.9" cy="587.3" r="5.2"/><circle cx="1292.7" cy="587.3" r="5.2"/><circle cx="1277.5" cy="499.5" r="5.2"/><circle cx="1279.0" cy="502.0" r="5.2"/><circle cx="1277.2" cy="506.7" r="5.2"/><circle cx="1264.1" cy="587.3" r="5.2"/><circle cx="1280.5" cy="490.2" r="5.2"/><circle cx="1278.6" cy="518.6" r="5.2"/><circle cx="1276.2" cy="499.9" r="5.2"/><circle cx="1278.7" cy="499.8" r="5.2"/><circle cx="1264.3" cy="587.3" r="5.2"/><circle cx="1276.6" cy="504.4" r="5.2"/><circle cx="1276.8" cy="496.2" r="5.2"/><circle cx="1279.3" cy="494.7" r="5.2"/><circle cx="1278.4" cy="507.6" r="5.2"/><circle cx="1280.2" cy="484.9" r="5.2"/><circle cx="1278.5" cy="489.3" r="5.2"/><circle cx="1279.5" cy="506.5" r="5.2"/><circle cx="1277.4" cy="477.6" r="5.2"/><circle cx="1278.0" cy="485.0" r="5.2"/><circle cx="1278.2" cy="512.7" r="5.2"/><circle cx="1293.5" cy="587.3" r="5.2"/><circle cx="1278.1" cy="491.0" r="5.2"/><circle cx="1279.2" cy="512.8" r="5.2"/><circle cx="1278.7" cy="481.2" r="5.2"/><circle cx="1277.3" cy="488.7" r="5.2"/><circle cx="1292.5" cy="587.3" r="5.2"/><circle cx="1278.1" cy="448.0" r="5.2"/><circle cx="1278.9" cy="473.4" r="5.2"/><circle cx="1277.8" cy="501.4" r="5.2"/><circle cx="1279.7" cy="486.4" r="5.2"/><circle cx="1279.0" cy="587.3" r="5.2"/><circle cx="1291.3" cy="587.3" r="5.2"/><circle cx="1278.4" cy="587.3" r="5.2"/><circle cx="1280.0" cy="496.5" r="5.2"/><circle cx="1277.8" cy="516.5" r="5.2"/><circle cx="1287.4" cy="587.3" r="5.2"/><circle cx="1276.4" cy="587.3" r="5.2"/><circle cx="1291.0" cy="587.3" r="5.2"/><circle cx="1292.0" cy="587.3" r="5.2"/><circle cx="1276.6" cy="484.7" r="5.2"/><circle cx="1277.3" cy="514.4" r="5.2"/><circle cx="1274.7" cy="587.3" r="5.2"/><circle cx="1279.1" cy="485.6" r="5.2"/><circle cx="1269.6" cy="587.3" r="5.2"/><circle cx="1281.4" cy="587.3" r="5.2"/><circle cx="1263.1" cy="587.3" r="5.2"/><circle cx="1278.8" cy="460.0" r="5.2"/><circle cx="1289.1" cy="587.3" r="5.2"/><circle cx="1287.9" cy="587.3" r="5.2"/><circle cx="1277.8" cy="480.8" r="5.2"/><circle cx="1267.7" cy="587.3" r="5.2"/><circle cx="1276.1" cy="490.2" r="5.2"/><circle cx="1275.6" cy="587.3" r="5.2"/><circle cx="1274.2" cy="587.3" r="5.2"/><circle cx="1283.8" cy="587.3" r="5.2"/><circle cx="1266.3" cy="587.3" r="5.2"/><circle cx="1265.1" cy="587.3" r="5.2"/><circle cx="1293.0" cy="587.3" r="5.2"/><circle cx="1270.6" cy="587.3" r="5.2"/><circle cx="1279.6" cy="480.2" r="5.2"/><circle cx="1286.7" cy="587.3" r="5.2"/><circle cx="1272.3" cy="587.3" r="5.2"/><circle cx="1279.5" cy="516.3" r="5.2"/><circle cx="1266.7" cy="587.3" r="5.2"/><circle cx="1283.3" cy="587.3" r="5.2"/><circle cx="1263.0" cy="587.3" r="5.2"/><circle cx="1276.8" cy="486.3" r="5.2"/><circle cx="1265.8" cy="587.3" r="5.2"/><circle cx="1282.9" cy="587.3" r="5.2"/><circle cx="1276.2" cy="509.4" r="5.2"/><circle cx="1285.0" cy="587.3" r="5.2"/><circle cx="1270.1" cy="587.3" r="5.2"/><circle cx="1279.4" cy="587.3" r="5.2"/><circle cx="1272.0" cy="587.3" r="5.2"/><circle cx="1276.6" cy="587.3" r="5.2"/></g><g fill="#F7B6D2" stroke="#F7B6D2"><circle cx="1319.5" cy="415.3" r="5.2"/><circle cx="1333.7" cy="587.3" r="5.2"/><circle cx="1320.2" cy="587.3" r="5.2"/><circle cx="1332.7" cy="587.3" r="5.2"/><circle cx="1323.6" cy="587.3" r="5.2"/><circle cx="1309.6" cy="587.3" r="5.2"/><circle cx="1324.1" cy="587.3" r="5.2"/><circle cx="1304.8" cy="587.3" r="5.2"/><circle cx="1311.1" cy="587.3" r="5.2"/><circle cx="1319.4" cy="474.9" r="5.2"/><circle cx="1312.1" cy="587.3" r="5.2"/><circle cx="1314.5" cy="587.3" r="5.2"/><circle cx="1319.9" cy="458.5" r="5.2"/><circle cx="1322.2" cy="587.3" r="5.2"/><circle cx="1314.9" cy="587.3" r="5.2"/><circle cx="1327.5" cy="587.3" r="5.2"/><circle cx="1331.3" cy="587.3" r="5.2"/><circle cx="1320.3" cy="438.4" r="5.2"/><circle cx="1327.9" cy="587.3" r="5.2"/><circle cx="1309.2" cy="587.3" r="5.2"/><circle cx="1317.3" cy="587.3" r="5.2"/><circle cx="1317.8" cy="587.3" r="5.2"/><circle cx="1307.2" cy="587.3" r="5.2"/><circle cx="1320.7" cy="587.3" r="5.2"/><circle cx="1324.6" cy="587.3" r="5.2"/><circle cx="1314.0" cy="587.3" r="5.2"/><circle cx="1332.3" cy="587.3" r="5.2"/><circle cx="1319.5" cy="448.0" r="5.2"/><circle cx="1306.3" cy="587.3" r="5.2"/><circle cx="1334.2" cy="587.3" r="5.2"/><circle cx="1316.9" cy="587.3" r="5.2"/><circle cx="1328.4" cy="587.3" r="5.2"/><circle cx="1308.7" cy="587.3" r="5.2"/><circle cx="1329.9" cy="587.3" r="5.2"/><circle cx="1326.0" cy="587.3" r="5.2"/><circle cx="1305.8" cy="587.3" r="5.2"/><circle cx="1333.2" cy="587.3" r="5.2"/><circle cx="1305.3" cy="587.3" r="5.2"/><circle cx="1318.3" cy="587.3" r="5.2"/></g><g fill="#7F7F7F" stroke="#7F7F7F"><circle cx="1362.0" cy="521.6" r="5.2"/><circle cx="1361.4" cy="537.6" r="5.2"/><circle cx="1361.0" cy="541.3" r="5.2"/><circle cx="1360.2" cy="529.6" r="5.2"/><circle cx="1360.4" cy="535.7" r="5.2"/><circle cx="1361.0" cy="527.5" r="5.2"/><circle cx="1361.8" cy="528.5" r="5.2"/><circle cx="1360.5" cy="521.6" r="5.2"/><circle cx="1361.6" cy="546.3" r="5.2"/><circle cx="1362.6" cy="545.2" r="5.2"/><circle cx="1346.1" cy="587.3" r="5.2"/><circle cx="1346.3" cy="587.3" r="5.2"/><circle cx="1360.9" cy="551.2" r="5.2"/><circle cx="1348.9" cy="587.3" r="5.2"/><circle cx="1349.7" cy="587.3" r="5.2"/><circle cx="1375.9" cy="587.3" r="5.2"/><circle cx="1347.0" cy="587.3" r="5.2"/><circle cx="1353.8" cy="587.3" r="5.2"/><circle cx="1357.4" cy="587.3" r="5.2"/><circle cx="1350.6" cy="587.3" r="5.2"/><circle cx="1376.1" cy="587.3" r="5.2"/><circle cx="1360.7" cy="587.3" r="5.2"/><circle cx="1364.3" cy="587.3" r="5.2"/><circle cx="1360.3" cy="587.3" r="5.2"/><circle cx="1356.6" cy="587.3" r="5.2"/><circle cx="1362.1" cy="541.6" r="5.2"/><circle cx="1374.7" cy="587.3" r="5.2"/><circle cx="1359.3" cy="539.3" r="5.2"/><circle cx="1372.3" cy="587.3" r="5.2"/><circle cx="1364.1" cy="587.3" r="5.2"/><circle cx="1352.1" cy="587.3" r="5.2"/><circle cx="1362.5" cy="551.1" r="5.2"/><circle cx="1349.2" cy="587.3" r="5.2"/><circle cx="1358.8" cy="587.3" r="5.2"/><circle cx="1359.8" cy="550.6" r="5.2"/><circle cx="1374.9" cy="587.3" r="5.2"/><circle cx="1364.6" cy="587.3" r="5.2"/><circle cx="1371.1" cy="587.3" r="5.2"/><circle cx="1354.5" cy="587.3" r="5.2"/><circle cx="1355.9" cy="587.3" r="5.2"/><circle cx="1360.0" cy="543.6" r="5.2"/><circle cx="1368.0" cy="587.3" r="5.2"/><circle cx="1368.2" cy="587.3" r="5.2"/><circle cx="1366.0" cy="587.3" r="5.2"/><circle cx="1361.7" cy="552.0" r="5.2"/><circle cx="1363.2" cy="539.7" r="5.2"/><circle cx="1360.5" cy="545.5" r="5.2"/><circle cx="1361.7" cy="587.3" r="5.2"/><circle cx="1350.9" cy="587.3" r="5.2"/><circle cx="1369.6" cy="587.3" r="5.2"/><circle cx="1359.3" cy="587.3" r="5.2"/><circle cx="1346.5" cy="587.3" r="5.2"/><circle cx="1351.6" cy="587.3" r="5.2"/><circle cx="1362.4" cy="534.7" r="5.2"/><circle cx="1373.7" cy="587.3" r="5.2"/><circle cx="1375.7" cy="587.3" r="5.2"/><circle cx="1372.0" cy="587.3" r="5.2"/></g><g fill="#C7C7C7" stroke="#C7C7C7"><circle cx="1388.2" cy="587.3" r="5.2"/><circle cx="1403.2" cy="354.2" r="5.2"/><circle cx="1390.2" cy="587.3" r="5.2"/><circle cx="1412.3" cy="587.3" r="5.2"/><circle cx="1406.5" cy="587.3" r="5.2"/><circle cx="1414.2" cy="587.3" r="5.2"/><circle cx="1392.1" cy="587.3" r="5.2"/><circle cx="1407.5" cy="587.3" r="5.2"/><circle cx="1399.8" cy="587.3" r="5.2"/><circle cx="1397.9" cy="587.3" r="5.2"/><circle cx="1416.2" cy="587.3" r="5.2"/><circle cx="1391.1" cy="587.3" r="5.2"/><circle cx="1395.9" cy="587.3" r="5.2"/><circle cx="1415.2" cy="587.3" r="5.2"/><circle cx="1408.5" cy="587.3" r="5.2"/><circle cx="1393.1" cy="587.3" r="5.2"/><circle cx="1403.6" cy="587.3" r="5.2"/><circle cx="1400.8" cy="587.3" r="5.2"/><circle cx="1398.8" cy="587.3" r="5.2"/><circle cx="1405.6" cy="587.3" r="5.2"/><circle cx="1395.0" cy="587.3" r="5.2"/><circle cx="1410.4" cy="587.3" r="5.2"/><circle cx="1409.4" cy="587.3" r="5.2"/><circle cx="1389.2" cy="587.3" r="5.2"/><circle cx="1402.7" cy="587.3" r="5.2"/><circle cx="1411.3" cy="587.3" r="5.2"/><circle cx="1396.9" cy="587.3" r="5.2"/></g><g fill="#1F77B4" stroke="#1F77B4"><circle cx="94.3" cy="1106.9" r="5.2"/><circle cx="107.5" cy="990.0" r="5.2"/><circle cx="108.3" cy="1011.1" r="5.2"/><circle cx="98.9" cy="909.7" r="5.2"/><circle cx="109.0" cy="982.3" r="5.2"/><circle cx="95.0" cy="1200.5" r="5.2"/><circle cx="100.4" cy="1100.8" r="5.2"/><circle cx="107.4" cy="1039.0" r="5.2"/><circle cx="83.4" cy="1005.3" r="5.2"/><circle cx="95.6" cy="933.8" r="5.2"/><circle cx="103.2" cy="1079.1" r="5.2"/><circle cx="111.2" cy="987.9" r="5.2"/><circle cx="85.4" cy="1006.3" r="5.2"/><circle cx="99.8" cy="919.2" r="5.2"/><circle cx="94.9" cy="1200.5" r="5.2"/><circle cx="88.0" cy="1060.4" r="5.2"/><circle cx="103.5" cy="1067.4" r="5.2"/><circle cx="86.0" cy="1036.7" r="5.2"/><circle cx="88.8" cy="948.7" r="5.2"/><circle cx="90.3" cy="943.1" r="5.2"/><circle cx="81.0" cy="987.8" r="5.2"/><circle cx="94.3" cy="1097.9" r="5.2"/><circle cx="108.0" cy="972.0" r="5.2"/><circle cx="90.7" cy="1080.7" r="5.2"/><circle cx="103.5" cy="1047.6" r="5.2"/><circle cx="110.3" cy="1008.9" r="5.2"/><circle cx="97.2" cy="1115.8" r="5.2"/><circle cx="83.6" cy="1021.3" r="5.2"/><circle cx="105.1" cy="953.6" r="5.2"/><circle cx="106.5" cy="967.4" r="5.2"/><circle cx="99.4" cy="1109.7" r="5.2"/><circle cx="110.9" cy="998.1" r="5.2"/><circle cx="101.6" cy="962.6" r="5.2"/><circle cx="89.0" cy="1023.1" r="5.2"/><circle cx="96.5" cy="900.4" r="5.2"/><circle cx="89.2" cy="1069.2" r="5.2"/><circle cx="85.0" cy="985.3" r="5.2"/><circle cx="95.6" cy="890.0" r="5.2"/><circle cx="98.4" cy="917.3" r="5.2"/><circle cx="99.8" cy="926.8" r="5.2"/><circle cx="97.2" cy="1098.8" r="5.2"/><circle cx="106.3" cy="1046.3" r="5.2"/><circle cx="92.1" cy="921.9" r="5.2"/><circle cx="104.5" cy="1014.9" r="5.2"/><circle cx="97.0" cy="1200.5" r="5.2"/><circle cx="95.2" cy="1101.5" r="5.2"/><circle cx="93.2" cy="912.6" r="5.2"/><circle cx="100.6" cy="916.4" r="5.2"/><circle cx="104.9" cy="1064.1" r="5.2"/><circle cx="90.1" cy="953.9" r="5.2"/><circle cx="85.1" cy="1011.1" r="5.2"/><circle cx="92.3" cy="926.8" r="5.2"/><circle cx="84.7" cy="975.1" r="5.2"/><circle cx="96.9" cy="1200.5" r="5.2"/><circle cx="102.7" cy="942.1" r="5.2"/><circle cx="91.1" cy="1090.0" r="5.2"/><circle cx="98.8" cy="1096.0" r="5.2"/><circle cx="90.0" cy="963.8" r="5.2"/><circle cx="95.8" cy="1115.2" r="5.2"/><circle cx="87.5" cy="1037.8" r="5.2"/><circle cx="107.6" cy="1005.6" r="5.2"/><circle cx="97.2" cy="1200.5" r="5.2"/><circle cx="91.0" cy="970.6" r="5.2"/><circle cx="107.9" cy="980.8" r="5.2"/><circle cx="87.0" cy="957.6" r="5.2"/><circle cx="96.1" cy="1200.5" r="5.2"/><circle cx="91.7" cy="1099.2" r="5.2"/><circle cx="84.5" cy="990.9" r="5.2"/><circle cx="101.9" cy="1095.0" r="5.2"/><circle cx="101.9" cy="1062.8" r="5.2"/><circle cx="86.1" cy="1027.5" r="5.2"/><circle cx="87.0" cy="1063.8" r="5.2"/><circle cx="86.9" cy="1070.4" r="5.2"/><circle cx="87.1" cy="1003.1" r="5.2"/><circle cx="88.2" cy="958.6" r="5.2"/><circle cx="96.5" cy="873.6" r="5.2"/><circle cx="95.2" cy="1200.5" r="5.2"/><circle cx="104.9" cy="973.4" r="5.2"/><circle cx="108.5" cy="996.7" r="5.2"/><circle cx="103.4" cy="1058.8" r="5.2"/><circle cx="104.5" cy="1060.8" r="5.2"/><circle cx="100.0" cy="1065.5" r="5.2"/><circle cx="89.5" cy="1078.5" r="5.2"/><circle cx="97.3" cy="1046.2" r="5.2"/><circle cx="82.5" cy="994.3" r="5.2"/><circle cx="100.1" cy="1097.7" r="5.2"/><circle cx="97.4" cy="921.8" r="5.2"/><circle cx="106.7" cy="1018.8" r="5.2"/><circle cx="97.4" cy="971.2" r="5.2"/><circle cx="95.4" cy="1200.5" r="5.2"/><circle cx="93.8" cy="927.3" r="5.2"/><circle cx="106.8" cy="975.2" r="5.2"/><circle cx="96.0" cy="852.7" r="5.2"/><circle cx="109.4" cy="991.0" r="5.2"/><circle cx="92.8" cy="1081.6" r="5.2"/><circle cx="104.5" cy="945.5" r="5.2"/><circle cx="93.9" cy="1068.0" r="5.2"/><circle cx="92.6" cy="1066.0" r="5.2"/><circle cx="87.1" cy="1048.7" r="5.2"/><circle cx="102.7" cy="954.8" r="5.2"/><circle cx="110.4" cy="994.8" r="5.2"/><circle cx="106.0" cy="980.2" r="5.2"/><circle cx="86.7" cy="1019.5" r="5.2"/><circle cx="98.3" cy="973.7" r="5.2"/><circle cx="105.1" cy="1071.5" r="5.2"/><circle cx="90.3" cy="930.7" r="5.2"/><circle cx="87.5" cy="1042.1" r="5.2"/><circle cx="96.2" cy="1038.7" r="5.2"/><circle cx="95.8" cy="962.2" r="5.2"/><circle cx="97.1" cy="911.2" r="5.2"/><circle cx="88.6" cy="1010.1" r="5.2"/><circle cx="87.1" cy="1014.4" r="5.2"/><circle cx="95.0" cy="1017.7" r="5.2"/><circle cx="87.8" cy="1066.5" r="5.2"/><circle cx="89.5" cy="941.1" r="5.2"/><circle cx="82.3" cy="1002.8" r="5.2"/><circle cx="81.6" cy="998.1" r="5.2"/><circle cx="90.5" cy="1058.4" r="5.2"/><circle cx="103.6" cy="1035.2" r="5.2"/><circle cx="96.3" cy="959.0" r="5.2"/><circle cx="97.7" cy="1036.3" r="5.2"/><circle cx="84.7" cy="1038.8" r="5.2"/><circle cx="109.7" cy="1002.8" r="5.2"/><circle cx="81.8" cy="1007.5" r="5.2"/><circle cx="106.6" cy="995.9" r="5.2"/><circle cx="88.8" cy="1034.4" r="5.2"/><circle cx="92.3" cy="1024.8" r="5.2"/><circle cx="98.5" cy="1106.8" r="5.2"/><circle cx="87.8" cy="1029.5" r="5.2"/><circle cx="83.8" cy="1016.2" r="5.2"/><circle cx="99.0" cy="958.1" r="5.2"/><circle cx="99.3" cy="1051.3" r="5.2"/><circle cx="96.3" cy="1091.4" r="5.2"/><circle cx="82.5" cy="982.2" r="5.2"/><circle cx="108.5" cy="1021.5" r="5.2"/><circle cx="101.2" cy="1084.6" r="5.2"/><circle cx="86.1" cy="1055.3" r="5.2"/><circle cx="102.5" cy="947.8" r="5.2"/><circle cx="84.9" cy="1018.5" r="5.2"/><circle cx="97.0" cy="998.0" r="5.2"/><circle cx="91.8" cy="1035.4" r="5.2"/><circle cx="85.4" cy="997.0" r="5.2"/><circle cx="83.2" cy="984.0" r="5.2"/><circle cx="91.6" cy="973.5" r="5.2"/><circle cx="103.9" cy="949.8" r="5.2"/><circle cx="95.8" cy="1009.3" r="5.2"/><circle cx="91.6" cy="1070.1" r="5.2"/><circle cx="101.2" cy="937.4" r="5.2"/><circle cx="86.4" cy="992.8" r="5.2"/><circle cx="104.9" cy="1037.5" r="5.2"/><circle cx="104.5" cy="1040.1" r="5.2"/><circle cx="93.2" cy="1106.1" r="5.2"/><circle cx="89.4" cy="1061.8" r="5.2"/><circle cx="90.9" cy="958.8" r="5.2"/><circle cx="91.5" cy="1084.4" r="5.2"/><circle cx="105.1" cy="1023.4" r="5.2"/><circle cx="96.4" cy="1108.8" r="5.2"/><circle cx="94.7" cy="1032.6" r="5.2"/><circle cx="100.1" cy="977.3" r="5.2"/><circle cx="88.8" cy="1081.9" r="5.2"/><circle cx="97.9" cy="993.8" r="5.2"/><circle cx="100.7" cy="1033.7" r="5.2"/><circle cx="87.3" cy="995.6" r="5.2"/><circle cx="87.1" cy="952.9" r="5.2"/><circle cx="100.2" cy="946.3" r="5.2"/><circle cx="89.1" cy="1006.6" r="5.2"/><circle cx="98.2" cy="912.7" r="5.2"/><circle cx="97.6" cy="1102.8" r="5.2"/><circle cx="100.8" cy="1058.2" r="5.2"/><circle cx="88.6" cy="1051.3" r="5.2"/><circle cx="100.8" cy="922.8" r="5.2"/><circle cx="91.7" cy="915.9" r="5.2"/><circle cx="89.5" cy="978.8" r="5.2"/><circle cx="98.0" cy="1076.1" r="5.2"/><circle cx="95.0" cy="995.0" r="5.2"/><circle cx="102.6" cy="1074.1" r="5.2"/><circle cx="102.4" cy="1065.9" r="5.2"/><circle cx="90.6" cy="1014.9" r="5.2"/><circle cx="96.3" cy="1200.5" r="5.2"/><circle cx="86.3" cy="1046.2" r="5.2"/><circle cx="103.6" cy="989.1" r="5.2"/><circle cx="90.9" cy="1029.7" r="5.2"/><circle cx="106.1" cy="1056.9" r="5.2"/><circle cx="99.8" cy="1090.5" r="5.2"/><circle cx="83.5" cy="996.5" r="5.2"/><circle cx="94.0" cy="1012.2" r="5.2"/><circle cx="103.8" cy="970.2" r="5.2"/><circle cx="102.0" cy="1052.1" r="5.2"/><circle cx="92.5" cy="955.8" r="5.2"/><circle cx="106.6" cy="1010.6" r="5.2"/><circle cx="91.3" cy="1073.3" r="5.2"/><circle cx="87.8" cy="969.8" r="5.2"/><circle cx="100.2" cy="1006.0" r="5.2"/><circle cx="103.0" cy="1009.3" r="5.2"/><circle cx="93.9" cy="1051.1" r="5.2"/><circle cx="94.1" cy="991.4" r="5.2"/><circle cx="105.8" cy="1043.0" r="5.2"/><circle cx="101.7" cy="958.7" r="5.2"/><circle cx="97.5" cy="1066.4" r="5.2"/><circle cx="84.1" cy="1000.7" r="5.2"/><circle cx="103.9" cy="1006.3" r="5.2"/><circle cx="106.3" cy="1028.1" r="5.2"/><circle cx="92.8" cy="1005.9" r="5.2"/><circle cx="84.3" cy="972.0" r="5.2"/><circle cx="94.4" cy="1061.3" r="5.2"/><circle cx="107.3" cy="984.5" r="5.2"/><circle cx="103.7" cy="978.7" r="5.2"/><circle cx="89.7" cy="951.0" r="5.2"/><circle cx="93.6" cy="919.1" r="5.2"/><circle cx="86.7" cy="966.2" r="5.2"/><circle cx="98.9" cy="980.6" r="5.2"/><circle cx="97.5" cy="938.5" r="5.2"/><circle cx="108.9" cy="1000.9" r="5.2"/><circle cx="92.5" cy="985.1" r="5.2"/><circle cx="97.4" cy="1002.4" r="5.2"/><circle cx="100.0" cy="1019.1" r="5.2"/><circle cx="92.3" cy="943.6" r="5.2"/><circle cx="99.0" cy="1080.5" r="5.2"/><circle cx="95.4" cy="1021.8" r="5.2"/><circle cx="97.3" cy="1087.3" r="5.2"/><circle cx="99.8" cy="990.7" r="5.2"/><circle cx="92.9" cy="1091.2" r="5.2"/><circle cx="95.7" cy="1095.1" r="5.2"/><circle cx="101.0" cy="1070.1" r="5.2"/><circle cx="107.0" cy="999.1" r="5.2"/><circle cx="98.6" cy="1027.1" r="5.2"/><circle cx="84.5" cy="980.6" r="5.2"/><circle cx="90.0" cy="1020.2" r="5.2"/><circle cx="82.4" cy="979.4" r="5.2"/><circle cx="93.2" cy="975.3" r="5.2"/><circle cx="94.6" cy="1089.2" r="5.2"/><circle cx="103.1" cy="1029.5" r="5.2"/><circle cx="103.2" cy="1020.2" r="5.2"/><circle cx="101.0" cy="1081.1" r="5.2"/><circle cx="97.1" cy="982.2" r="5.2"/><circle cx="104.8" cy="1049.3" r="5.2"/><circle cx="84.8" cy="1030.6" r="5.2"/><circle cx="93.7" cy="957.8" r="5.2"/><circle cx="91.7" cy="980.3" r="5.2"/><circle cx="100.7" cy="943.2" r="5.2"/><circle cx="100.1" cy="1028.8" r="5.2"/><circle cx="96.9" cy="1063.4" r="5.2"/><circle cx="94.1" cy="913.4" r="5.2"/><circle cx="91.2" cy="947.7" r="5.2"/><circle cx="89.9" cy="1093.3" r="5.2"/><circle cx="88.4" cy="989.6" r="5.2"/><circle cx="100.5" cy="969.7" r="5.2"/><circle cx="105.4" cy="983.0" r="5.2"/><circle cx="92.8" cy="1096.9" r="5.2"/><circle cx="101.6" cy="973.0" r="5.2"/><circle cx="96.5" cy="1200.5" r="5.2"/><circle cx="87.9" cy="945.5" r="5.2"/><circle cx="98.0" cy="1048.4" r="5.2"/><circle cx="93.5" cy="947.9" r="5.2"/><circle cx="95.3" cy="910.2" r="5.2"/><circle cx="94.8" cy="919.9" r="5.2"/><circle cx="97.0" cy="1030.0" r="5.2"/><circle cx="96.0" cy="988.5" r="5.2"/><circle cx="105.9" cy="1003.4" r="5.2"/><circle cx="100.4" cy="1072.3" r="5.2"/><circle cx="109.5" cy="979.4" r="5.2"/><circle cx="88.6" cy="987.4" r="5.2"/><circle cx="90.0" cy="1087.9" r="5.2"/><circle cx="96.5" cy="1007.2" r="5.2"/><circle cx="94.4" cy="982.6" r="5.2"/><circle cx="103.7" cy="986.6" r="5.2"/><circle cx="101.0" cy="1013.9" r="5.2"/><circle cx="104.3" cy="957.6" r="5.2"/><circle cx="93.9" cy="1028.1" r="5.2"/><circle cx="98.8" cy="1041.2" r="5.2"/><circle cx="92.6" cy="1109.4" r="5.2"/><circle cx="105.0" cy="1018.3" r="5.2"/><circle cx="90.2" cy="1039.8" r="5.2"/><circle cx="103.3" cy="1083.5" r="5.2"/><circle cx="108.6" cy="1016.9" r="5.2"/><circle cx="94.2" cy="968.9" r="5.2"/><circle cx="91.8" cy="1045.0" r="5.2"/><circle cx="95.3" cy="925.4" r="5.2"/><circle cx="101.8" cy="1088.2" r="5.2"/><circle cx="91.3" cy="1052.6" r="5.2"/><circle cx="99.4" cy="1061.4" r="5.2"/><circle cx="106.9" cy="960.1" r="5.2"/><circle cx="98.3" cy="1005.2" r="5.2"/><circle cx="98.2" cy="925.6" r="5.2"/><circle cx="91.9" cy="936.1" r="5.2"/><circle cx="102.6" cy="933.6" r="5.2"/><circle cx="95.6" cy="1200.5" r="5.2"/><circle cx="106.8" cy="1030.6" r="5.2"/><circle cx="93.0" cy="909.6" r="5.2"/><circle cx="104.6" cy="964.4" r="5.2"/><circle cx="102.4" cy="980.0" r="5.2"/><circle cx="96.9" cy="952.7" r="5.2"/><circle cx="85.5" cy="959.1" r="5.2"/><circle cx="89.8" cy="1047.5" r="5.2"/><circle cx="99.2" cy="935.9" r="5.2"/></g><g fill="#AEC7E8" stroke="#AEC7E8"><circle cx="135.5" cy="1131.9" r="5.2"/><circle cx="137.9" cy="1037.6" r="5.2"/><circle cx="137.7" cy="1039.3" r="5.2"/><circle cx="137.5" cy="1038.4" r="5.2"/><circle cx="138.3" cy="1089.5" r="5.2"/><circle cx="138.8" cy="1103.0" r="5.2"/><circle cx="137.4" cy="1021.2" r="5.2"/><circle cx="136.6" cy="1143.7" r="5.2"/><circle cx="139.5" cy="1136.9" r="5.2"/><circle cx="137.9" cy="1019.8" r="5.2"/><circle cx="137.8" cy="1062.8" r="5.2"/><circle cx="135.4" cy="1124.4" r="5.2"/><circle cx="138.2" cy="1163.3" r="5.2"/><circle cx="137.7" cy="1061.4" r="5.2"/><circle cx="136.2" cy="1117.9" r="5.2"/><circle cx="138.6" cy="1151.9" r="5.2"/><circle cx="136.3" cy="1157.2" r="5.2"/><circle cx="138.4" cy="1160.2" r="5.2"/><circle cx="138.8" cy="1157.5" r="5.2"/><circle cx="136.9" cy="1163.2" r="5.2"/><circle cx="137.8" cy="1096.2" r="5.2"/><circle cx="139.1" cy="1106.4" r="5.2"/><circle cx="135.9" cy="1135.2" r="5.2"/><circle cx="138.7" cy="1154.1" r="5.2"/><circle cx="139.4" cy="1130.6" r="5.2"/><circle cx="135.7" cy="1118.6" r="5.2"/><circle cx="135.9" cy="1126.1" r="5.2"/><circle cx="137.9" cy="1007.9" r="5.2"/><circle cx="136.4" cy="1153.7" r="5.2"/><circle cx="136.9" cy="1159.9" r="5.2"/><circle cx="137.8" cy="1016.6" r="5.2"/><circle cx="138.2" cy="1151.1" r="5.2"/><circle cx="136.7" cy="1161.3" r="5.2"/><circle cx="137.0" cy="1156.5" r="5.2"/><circle cx="136.6" cy="1107.4" r="5.2"/><circle cx="136.1" cy="1131.3" r="5.2"/><circle cx="139.2" cy="1124.7" r="5.2"/><circle cx="138.8" cy="1136.2" r="5.2"/><circle cx="139.3" cy="1117.7" r="5.2"/><circle cx="136.9" cy="1095.1" r="5.2"/><circle cx="138.9" cy="1138.8" r="5.2"/><circle cx="138.0" cy="1024.2" r="5.2"/><circle cx="138.5" cy="1163.8" r="5.2"/><circle cx="137.2" cy="1031.8" r="5.2"/><circle cx="135.6" cy="1129.1" r="5.2"/><circle cx="137.3" cy="1040.8" r="5.2"/><circle cx="139.1" cy="1130.2" r="5.2"/><circle cx="137.7" cy="1030.7" r="5.2"/><circle cx="137.9" cy="1084.1" r="5.2"/><circle cx="137.7" cy="1010.4" r="5.2"/><circle cx="137.9" cy="1162.6" r="5.2"/><circle cx="139.2" cy="1139.4" r="5.2"/><circle cx="137.7" cy="1077.9" r="5.2"/><circle cx="136.0" cy="1123.1" r="5.2"/><circle cx="137.3" cy="1017.1" r="5.2"/><circle cx="136.6" cy="1155.8" r="5.2"/><circle cx="137.8" cy="1160.8" r="5.2"/><circle cx="136.6" cy="1100.3" r="5.2"/><circle cx="137.1" cy="1151.9" r="5.2"/><circle cx="137.4" cy="1007.5" r="5.2"/><circle cx="138.3" cy="1156.4" r="5.2"/><circle cx="139.4" cy="1142.6" r="5.2"/><circle cx="137.6" cy="1005.5" r="5.2"/><circle cx="139.2" cy="1122.2" r="5.2"/><circle cx="138.9" cy="1143.8" r="5.2"/><circle cx="138.1" cy="1158.5" r="5.2"/><circle cx="138.0" cy="1144.2" r="5.2"/><circle cx="137.3" cy="1053.1" r="5.2"/><circle cx="152.9" cy="1200.5" r="5.2"/><circle cx="137.1" cy="1163.4" r="5.2"/><circle cx="136.1" cy="1109.0" r="5.2"/><circle cx="136.5" cy="1115.4" r="5.2"/><circle cx="139.4" cy="1112.7" r="5.2"/><circle cx="136.5" cy="1098.0" r="5.2"/><circle cx="136.3" cy="1130.0" r="5.2"/><circle cx="137.6" cy="1044.4" r="5.2"/><circle cx="137.8" cy="1041.7" r="5.2"/><circle cx="136.1" cy="1105.5" r="5.2"/><circle cx="139.6" cy="1129.6" r="5.2"/><circle cx="137.9" cy="1026.3" r="5.2"/><circle cx="139.4" cy="1118.7" r="5.2"/><circle cx="137.2" cy="1096.1" r="5.2"/><circle cx="152.8" cy="1200.5" r="5.2"/><circle cx="137.8" cy="1153.6" r="5.2"/><circle cx="136.7" cy="1111.6" r="5.2"/><circle cx="137.9" cy="1090.0" r="5.2"/><circle cx="137.4" cy="1028.9" r="5.2"/><circle cx="137.4" cy="1062.6" r="5.2"/><circle cx="136.7" cy="1127.9" r="5.2"/><circle cx="138.7" cy="1124.5" r="5.2"/><circle cx="137.0" cy="1115.7" r="5.2"/><circle cx="137.3" cy="1026.3" r="5.2"/><circle cx="136.7" cy="1118.2" r="5.2"/><circle cx="136.2" cy="1150.2" r="5.2"/><circle cx="136.9" cy="1164.8" r="5.2"/><circle cx="136.5" cy="1148.3" r="5.2"/><circle cx="138.3" cy="1107.1" r="5.2"/><circle cx="138.0" cy="1010.8" r="5.2"/><circle cx="137.5" cy="1089.7" r="5.2"/><circle cx="137.3" cy="1010.6" r="5.2"/><circle cx="137.9" cy="1073.6" r="5.2"/><circle cx="152.9" cy="1200.5" r="5.2"/><circle cx="138.5" cy="1161.6" r="5.2"/><circle cx="137.8" cy="1005.7" r="5.2"/><circle cx="137.6" cy="1156.9" r="5.2"/><circle cx="139.4" cy="1135.3" r="5.2"/><circle cx="136.4" cy="1103.0" r="5.2"/><circle cx="139.1" cy="1144.7" r="5.2"/><circle cx="137.5" cy="1163.8" r="5.2"/><circle cx="135.8" cy="1112.4" r="5.2"/><circle cx="135.8" cy="1130.4" r="5.2"/><circle cx="137.4" cy="1043.5" r="5.2"/><circle cx="138.7" cy="1118.0" r="5.2"/><circle cx="136.5" cy="1123.9" r="5.2"/><circle cx="138.9" cy="1119.8" r="5.2"/><circle cx="138.7" cy="1108.3" r="5.2"/><circle cx="135.7" cy="1142.1" r="5.2"/><circle cx="136.9" cy="1148.7" r="5.2"/><circle cx="136.6" cy="1103.7" r="5.2"/><circle cx="136.9" cy="1130.3" r="5.2"/><circle cx="137.6" cy="1021.5" r="5.2"/><circle cx="137.5" cy="1150.4" r="5.2"/><circle cx="138.0" cy="1155.3" r="5.2"/><circle cx="152.7" cy="1200.5" r="5.2"/><circle cx="137.8" cy="1026.1" r="5.2"/><circle cx="136.7" cy="1136.2" r="5.2"/><circle cx="136.3" cy="1118.9" r="5.2"/><circle cx="138.6" cy="1102.2" r="5.2"/><circle cx="136.3" cy="1110.8" r="5.2"/><circle cx="137.5" cy="1013.0" r="5.2"/><circle cx="137.7" cy="1163.7" r="5.2"/><circle cx="139.1" cy="1133.9" r="5.2"/><circle cx="152.6" cy="1200.5" r="5.2"/><circle cx="138.5" cy="1129.9" r="5.2"/><circle cx="137.3" cy="1000.3" r="5.2"/><circle cx="137.2" cy="1131.1" r="5.2"/><circle cx="136.0" cy="1116.7" r="5.2"/><circle cx="138.3" cy="1101.6" r="5.2"/><circle cx="138.0" cy="1164.4" r="5.2"/><circle cx="138.5" cy="1103.9" r="5.2"/><circle cx="137.9" cy="1098.8" r="5.2"/><circle cx="152.2" cy="1200.5" r="5.2"/><circle cx="138.1" cy="1123.0" r="5.2"/><circle cx="135.7" cy="1121.7" r="5.2"/><circle cx="138.9" cy="1101.1" r="5.2"/><circle cx="137.6" cy="1100.9" r="5.2"/><circle cx="137.7" cy="1072.2" r="5.2"/><circle cx="152.0" cy="1200.5" r="5.2"/><circle cx="137.3" cy="1072.7" r="5.2"/><circle cx="139.0" cy="1115.6" r="5.2"/><circle cx="139.0" cy="1127.7" r="5.2"/><circle cx="137.6" cy="1087.3" r="5.2"/><circle cx="137.0" cy="1104.0" r="5.2"/><circle cx="137.5" cy="1073.7" r="5.2"/><circle cx="139.5" cy="1126.7" r="5.2"/><circle cx="136.5" cy="1124.6" r="5.2"/><circle cx="139.7" cy="1132.0" r="5.2"/><circle cx="137.5" cy="1066.3" r="5.2"/><circle cx="122.3" cy="1200.5" r="5.2"/><circle cx="138.6" cy="1148.5" r="5.2"/><circle cx="137.3" cy="1085.1" r="5.2"/><circle cx="136.9" cy="1088.6" r="5.2"/><circle cx="137.2" cy="1023.1" r="5.2"/><circle cx="122.5" cy="1200.5" r="5.2"/><circle cx="137.4" cy="1106.7" r="5.2"/><circle cx="136.2" cy="1101.1" r="5.2"/><circle cx="138.5" cy="1142.9" r="5.2"/><circle cx="137.0" cy="1108.6" r="5.2"/><circle cx="138.2" cy="1147.6" r="5.2"/><circle cx="152.0" cy="1200.5" r="5.2"/><circle cx="131.5" cy="1200.5" r="5.2"/><circle cx="138.1" cy="1139.8" r="5.2"/><circle cx="137.4" cy="1161.9" r="5.2"/><circle cx="137.9" cy="1003.4" r="5.2"/><circle cx="136.9" cy="1100.7" r="5.2"/><circle cx="137.9" cy="1120.6" r="5.2"/><circle cx="138.4" cy="1114.3" r="5.2"/><circle cx="136.1" cy="1140.3" r="5.2"/><circle cx="139.0" cy="1109.9" r="5.2"/><circle cx="138.4" cy="1127.4" r="5.2"/><circle cx="151.4" cy="1200.5" r="5.2"/><circle cx="141.5" cy="1184.1" r="5.2"/><circle cx="136.6" cy="1140.5" r="5.2"/><circle cx="144.5" cy="1200.5" r="5.2"/><circle cx="152.4" cy="1200.5" r="5.2"/><circle cx="138.3" cy="1131.2" r="5.2"/><circle cx="136.2" cy="1127.4" r="5.2"/><circle cx="137.5" cy="1113.4" r="5.2"/><circle cx="134.5" cy="1200.5" r="5.2"/><circle cx="136.2" cy="1135.9" r="5.2"/><circle cx="139.0" cy="1150.3" r="5.2"/><circle cx="144.7" cy="1200.5" r="5.2"/><circle cx="122.5" cy="1200.5" r="5.2"/><circle cx="137.1" cy="1122.8" r="5.2"/><circle cx="131.1" cy="1200.5" r="5.2"/><circle cx="137.3" cy="1080.7" r="5.2"/><circle cx="141.6" cy="1200.5" r="5.2"/><circle cx="123.1" cy="1200.5" r="5.2"/><circle cx="123.6" cy="1200.5" r="5.2"/><circle cx="135.7" cy="1136.5" r="5.2"/><circle cx="138.5" cy="1098.2" r="5.2"/><circle cx="150.0" cy="1200.5" r="5.2"/><circle cx="137.6" cy="1057.4" r="5.2"/><circle cx="137.2" cy="1135.4" r="5.2"/><circle cx="136.2" cy="1144.3" r="5.2"/><circle cx="136.7" cy="1151.4" r="5.2"/><circle cx="137.5" cy="1200.5" r="5.2"/><circle cx="136.0" cy="1200.5" r="5.2"/><circle cx="125.0" cy="1200.5" r="5.2"/><circle cx="130.4" cy="1200.5" r="5.2"/><circle cx="136.6" cy="1163.7" r="5.2"/><circle cx="138.6" cy="1111.2" r="5.2"/><circle cx="122.2" cy="1200.5" r="5.2"/><circle cx="134.0" cy="1200.5" r="5.2"/><circle cx="137.9" cy="1056.2" r="5.2"/><circle cx="138.4" cy="1137.5" r="5.2"/><circle cx="137.8" cy="1149.8" r="5.2"/><circle cx="139.8" cy="1124.4" r="5.2"/><circle cx="148.2" cy="1200.5" r="5.2"/><circle cx="150.3" cy="1200.5" r="5.2"/><circle cx="146.9" cy="1200.5" r="5.2"/><circle cx="140.9" cy="1200.5" r="5.2"/><circle cx="138.1" cy="1200.5" r="5.2"/><circle cx="140.2" cy="1200.5" r="5.2"/><circle cx="134.2" cy="1200.5" r="5.2"/><circle cx="130.4" cy="1200.5" r="5.2"/><circle cx="127.3" cy="1200.5" r="5.2"/><circle cx="135.9" cy="1139.4" r="5.2"/><circle cx="125.7" cy="1200.5" r="5.2"/><circle cx="137.5" cy="1142.6" r="5.2"/><circle cx="123.7" cy="1200.5" r="5.2"/><circle cx="129.2" cy="1200.5" r="5.2"/><circle cx="126.7" cy="1200.5" r="5.2"/><circle cx="137.2" cy="1160.3" r="5.2"/><circle cx="146.6" cy="1200.5" r="5.2"/><circle cx="138.3" cy="1095.2" r="5.2"/><circle cx="137.5" cy="1009.1" r="5.2"/><circle cx="140.2" cy="1200.5" r="5.2"/><circle cx="147.8" cy="1200.5" r="5.2"/><circle cx="151.3" cy="1200.5" r="5.2"/><circle cx="144.9" cy="1200.5" r="5.2"/><circle cx="141.9" cy="1200.5" r="5.2"/><circle cx="137.6" cy="1025.3" r="5.2"/></g><g fill="#FF7F0E" stroke="#FF7F0E"><circle cx="178.9" cy="1115.1" r="5.2"/><circle cx="179.1" cy="1096.5" r="5.2"/><circle cx="178.8" cy="1098.8" r="5.2"/><circle cx="179.2" cy="1074.9" r="5.2"/><circle cx="179.1" cy="1110.9" r="5.2"/><circle cx="178.9" cy="1102.7" r="5.2"/><circle cx="179.0" cy="1120.2" r="5.2"/><circle cx="179.3" cy="1107.7" r="5.2"/><circle cx="178.9" cy="1073.1" r="5.2"/><circle cx="179.0" cy="1061.5" r="5.2"/><circle cx="178.7" cy="1096.9" r="5.2"/><circle cx="179.2" cy="1126.6" r="5.2"/><circle cx="178.7" cy="1107.4" r="5.2"/><circle cx="178.9" cy="1134.8" r="5.2"/><circle cx="179.0" cy="1126.2" r="5.2"/><circle cx="179.4" cy="1097.8" r="5.2"/><circle cx="163.7" cy="1200.5" r="5.2"/><circle cx="163.9" cy="1200.5" r="5.2"/><circle cx="179.0" cy="1133.0" r="5.2"/><circle cx="179.1" cy="1105.0" r="5.2"/><circle cx="179.1" cy="1072.1" r="5.2"/><circle cx="179.1" cy="1133.3" r="5.2"/><circle cx="179.0" cy="1055.4" r="5.2"/><circle cx="178.8" cy="1121.1" r="5.2"/><circle cx="179.1" cy="1059.9" r="5.2"/><circle cx="179.0" cy="1150.6" r="5.2"/><circle cx="178.9" cy="1086.5" r="5.2"/><circle cx="194.3" cy="1200.5" r="5.2"/><circle cx="179.2" cy="1139.1" r="5.2"/><circle cx="179.1" cy="1151.8" r="5.2"/><circle cx="179.2" cy="1132.2" r="5.2"/><circle cx="179.0" cy="1078.5" r="5.2"/><circle cx="179.0" cy="1097.8" r="5.2"/><circle cx="164.1" cy="1200.5" r="5.2"/><circle cx="178.9" cy="1095.7" r="5.2"/><circle cx="178.8" cy="1111.9" r="5.2"/><circle cx="194.2" cy="1200.5" r="5.2"/><circle cx="179.2" cy="1098.4" r="5.2"/><circle cx="179.3" cy="1100.7" r="5.2"/><circle cx="194.1" cy="1200.5" r="5.2"/><circle cx="179.3" cy="1122.9" r="5.2"/><circle cx="179.2" cy="1091.0" r="5.2"/><circle cx="193.5" cy="1200.5" r="5.2"/><circle cx="193.7" cy="1200.5" r="5.2"/><circle cx="164.3" cy="1200.5" r="5.2"/><circle cx="193.2" cy="1200.5" r="5.2"/><circle cx="167.7" cy="1200.5" r="5.2"/><circle cx="191.9" cy="1200.5" r="5.2"/><circle cx="167.0" cy="1200.5" r="5.2"/><circle cx="179.1" cy="1085.9" r="5.2"/><circle cx="165.6" cy="1200.5" r="5.2"/><circle cx="179.0" cy="1108.0" r="5.2"/><circle cx="165.0" cy="1200.5" r="5.2"/><circle cx="164.6" cy="1200.5" r="5.2"/><circle cx="187.6" cy="1200.5" r="5.2"/><circle cx="186.3" cy="1200.5" r="5.2"/><circle cx="193.6" cy="1200.5" r="5.2"/><circle cx="184.9" cy="1200.5" r="5.2"/><circle cx="170.1" cy="1200.5" r="5.2"/><circle cx="192.6" cy="1200.5" r="5.2"/><circle cx="183.6" cy="1200.5" r="5.2"/><circle cx="167.9" cy="1200.5" r="5.2"/><circle cx="186.6" cy="1200.5" r="5.2"/><circle cx="171.5" cy="1200.5" r="5.2"/><circle cx="191.1" cy="1200.5" r="5.2"/><circle cx="166.1" cy="1200.5" r="5.2"/><circle cx="178.9" cy="1127.9" r="5.2"/><circle cx="180.4" cy="1200.5" r="5.2"/><circle cx="173.0" cy="1200.5" r="5.2"/><circle cx="171.0" cy="1200.5" r="5.2"/><circle cx="179.2" cy="1114.0" r="5.2"/><circle cx="176.9" cy="1200.5" r="5.2"/><circle cx="182.5" cy="1200.5" r="5.2"/><circle cx="189.0" cy="1200.5" r="5.2"/><circle cx="183.0" cy="1200.5" r="5.2"/><circle cx="176.0" cy="1200.5" r="5.2"/><circle cx="173.2" cy="1200.5" r="5.2"/><circle cx="189.3" cy="1200.5" r="5.2"/><circle cx="191.7" cy="1200.5" r="5.2"/><circle cx="175.2" cy="1200.5" r="5.2"/><circle cx="182.5" cy="1200.5" r="5.2"/><circle cx="177.3" cy="1200.5" r="5.2"/><circle cx="179.3" cy="1200.5" r="5.2"/><circle cx="179.6" cy="1200.5" r="5.2"/><circle cx="174.2" cy="1200.5" r="5.2"/></g><g fill="#FFBB78" stroke="#FFBB78"><circle cx="225.3" cy="1200.5" r="5.2"/><circle cx="220.2" cy="1146.2" r="5.2"/><circle cx="230.1" cy="1200.5" r="5.2"/><circle cx="220.5" cy="1200.5" r="5.2"/><circle cx="219.6" cy="1082.8" r="5.2"/><circle cx="229.2" cy="1200.5" r="5.2"/><circle cx="217.8" cy="1151.4" r="5.2"/><circle cx="216.7" cy="1200.5" r="5.2"/><circle cx="222.4" cy="1200.5" r="5.2"/><circle cx="210.9" cy="1200.5" r="5.2"/><circle cx="232.1" cy="1200.5" r="5.2"/><circle cx="224.4" cy="1200.5" r="5.2"/><circle cx="222.6" cy="1150.3" r="5.2"/><circle cx="212.8" cy="1200.5" r="5.2"/><circle cx="208.0" cy="1200.5" r="5.2"/><circle cx="234.0" cy="1200.5" r="5.2"/><circle cx="219.1" cy="1119.8" r="5.2"/><circle cx="220.9" cy="1057.5" r="5.2"/><circle cx="218.6" cy="1200.5" r="5.2"/><circle cx="209.0" cy="1200.5" r="5.2"/><circle cx="207.0" cy="1200.5" r="5.2"/><circle cx="209.9" cy="1200.5" r="5.2"/><circle cx="214.7" cy="1200.5" r="5.2"/><circle cx="220.2" cy="1052.3" r="5.2"/><circle cx="225.1" cy="1144.7" r="5.2"/><circle cx="213.8" cy="1200.5" r="5.2"/><circle cx="220.6" cy="1131.9" r="5.2"/><circle cx="206.1" cy="1200.5" r="5.2"/><circle cx="223.8" cy="1155.3" r="5.2"/><circle cx="217.6" cy="1200.5" r="5.2"/><circle cx="223.4" cy="1200.5" r="5.2"/><circle cx="226.3" cy="1200.5" r="5.2"/><circle cx="219.0" cy="1158.0" r="5.2"/><circle cx="228.2" cy="1200.5" r="5.2"/><circle cx="221.9" cy="1115.4" r="5.2"/><circle cx="233.0" cy="1200.5" r="5.2"/><circle cx="216.2" cy="1134.9" r="5.2"/><circle cx="221.5" cy="1200.5" r="5.2"/></g><g fill="#2CA02C" stroke="#2CA02C"><circle cx="262.7" cy="1122.5" r="5.2"/><circle cx="247.1" cy="1026.3" r="5.2"/><circle cx="259.7" cy="1112.1" r="5.2"/><circle cx="268.9" cy="988.0" r="5.2"/><circle cx="271.2" cy="998.9" r="5.2"/><circle cx="263.3" cy="1106.4" r="5.2"/><circle cx="270.7" cy="1067.0" r="5.2"/><circle cx="254.5" cy="1077.8" r="5.2"/><circle cx="261.5" cy="1112.9" r="5.2"/><circle cx="247.3" cy="1020.1" r="5.2"/><circle cx="261.8" cy="930.9" r="5.2"/><circle cx="263.2" cy="961.4" r="5.2"/><circle cx="262.1" cy="1118.2" r="5.2"/><circle cx="274.3" cy="1046.3" r="5.2"/><circle cx="260.3" cy="1110.2" r="5.2"/><circle cx="252.4" cy="1062.5" r="5.2"/><circle cx="259.2" cy="1100.1" r="5.2"/><circle cx="269.4" cy="1071.8" r="5.2"/><circle cx="269.8" cy="994.6" r="5.2"/><circle cx="256.1" cy="981.0" r="5.2"/><circle cx="258.8" cy="965.3" r="5.2"/><circle cx="263.0" cy="1126.4" r="5.2"/><circle cx="254.2" cy="994.3" r="5.2"/><circle cx="247.4" cy="1038.3" r="5.2"/><circle cx="267.4" cy="1082.5" r="5.2"/><circle cx="263.4" cy="1116.8" r="5.2"/><circle cx="265.0" cy="1105.3" r="5.2"/><circle cx="268.5" cy="1084.1" r="5.2"/><circle cx="254.5" cy="985.0" r="5.2"/><circle cx="253.9" cy="1063.1" r="5.2"/><circle cx="249.5" cy="1004.4" r="5.2"/><circle cx="257.7" cy="977.9" r="5.2"/><circle cx="267.1" cy="989.1" r="5.2"/><circle cx="260.1" cy="961.8" r="5.2"/><circle cx="248.6" cy="1043.5" r="5.2"/><circle cx="260.5" cy="956.5" r="5.2"/><circle cx="272.4" cy="1064.6" r="5.2"/><circle cx="264.2" cy="1112.5" r="5.2"/><circle cx="249.2" cy="1040.6" r="5.2"/><circle cx="262.5" cy="943.6" r="5.2"/><circle cx="267.1" cy="1087.4" r="5.2"/><circle cx="258.8" cy="1105.2" r="5.2"/><circle cx="268.1" cy="1074.6" r="5.2"/><circle cx="265.3" cy="1096.7" r="5.2"/><circle cx="251.0" cy="1039.3" r="5.2"/><circle cx="255.3" cy="1084.0" r="5.2"/><circle cx="246.9" cy="1015.7" r="5.2"/><circle cx="249.8" cy="1021.5" r="5.2"/><circle cx="262.1" cy="1104.0" r="5.2"/><circle cx="264.3" cy="963.9" r="5.2"/><circle cx="263.3" cy="969.7" r="5.2"/><circle cx="250.5" cy="1048.0" r="5.2"/><circle cx="261.0" cy="957.4" r="5.2"/><circle cx="255.8" cy="1082.3" r="5.2"/><circle cx="276.7" cy="1020.2" r="5.2"/><circle cx="262.2" cy="959.2" r="5.2"/><circle cx="276.5" cy="1038.4" r="5.2"/><circle cx="250.2" cy="1041.8" r="5.2"/><circle cx="262.5" cy="1137.8" r="5.2"/><circle cx="263.9" cy="1110.2" r="5.2"/><circle cx="256.8" cy="988.8" r="5.2"/><circle cx="273.6" cy="1044.9" r="5.2"/><circle cx="271.5" cy="1058.9" r="5.2"/><circle cx="250.6" cy="1057.8" r="5.2"/><circle cx="266.6" cy="1092.4" r="5.2"/><circle cx="252.4" cy="996.4" r="5.2"/><circle cx="248.4" cy="1017.3" r="5.2"/><circle cx="257.2" cy="975.9" r="5.2"/><circle cx="256.4" cy="1077.1" r="5.2"/><circle cx="261.1" cy="1111.2" r="5.2"/><circle cx="248.9" cy="1014.2" r="5.2"/><circle cx="263.0" cy="1100.0" r="5.2"/><circle cx="252.8" cy="1045.2" r="5.2"/><circle cx="261.1" cy="1099.5" r="5.2"/><circle cx="258.4" cy="1090.5" r="5.2"/><circle cx="264.0" cy="1100.4" r="5.2"/><circle cx="256.9" cy="992.3" r="5.2"/><circle cx="273.5" cy="1053.4" r="5.2"/><circle cx="275.0" cy="1035.0" r="5.2"/><circle cx="274.6" cy="1039.5" r="5.2"/><circle cx="256.0" cy="987.6" r="5.2"/><circle cx="258.4" cy="971.1" r="5.2"/><circle cx="276.0" cy="1033.1" r="5.2"/><circle cx="266.5" cy="1086.1" r="5.2"/><circle cx="255.2" cy="1075.5" r="5.2"/><circle cx="262.6" cy="965.2" r="5.2"/><circle cx="251.5" cy="1000.3" r="5.2"/><circle cx="272.4" cy="1048.2" r="5.2"/><circle cx="267.5" cy="978.7" r="5.2"/><circle cx="248.4" cy="1029.6" r="5.2"/><circle cx="250.4" cy="1008.2" r="5.2"/><circle cx="265.5" cy="1083.4" r="5.2"/><circle cx="264.6" cy="960.4" r="5.2"/><circle cx="262.0" cy="1200.5" r="5.2"/><circle cx="259.1" cy="1093.5" r="5.2"/><circle cx="264.7" cy="971.8" r="5.2"/><circle cx="251.4" cy="1064.5" r="5.2"/><circle cx="266.0" cy="979.4" r="5.2"/><circle cx="273.0" cy="1037.3" r="5.2"/><circle cx="260.9" cy="1131.2" r="5.2"/><circle cx="248.9" cy="1024.2" r="5.2"/><circle cx="274.6" cy="1004.4" r="5.2"/><circle cx="266.8" cy="976.5" r="5.2"/><circle cx="262.0" cy="1178.2" r="5.2"/><circle cx="275.7" cy="1010.5" r="5.2"/><circle cx="257.0" cy="972.2" r="5.2"/><circle cx="261.9" cy="1151.3" r="5.2"/><circle cx="250.8" cy="1014.9" r="5.2"/><circle cx="272.0" cy="1060.7" r="5.2"/><circle cx="267.7" cy="986.5" r="5.2"/><circle cx="253.3" cy="1069.3" r="5.2"/><circle cx="276.7" cy="1026.4" r="5.2"/><circle cx="251.8" cy="1005.8" r="5.2"/><circle cx="269.7" cy="1065.4" r="5.2"/><circle cx="249.1" cy="1036.5" r="5.2"/><circle cx="265.8" cy="991.9" r="5.2"/><circle cx="258.5" cy="1077.5" r="5.2"/><circle cx="253.4" cy="998.7" r="5.2"/><circle cx="249.4" cy="1046.2" r="5.2"/><circle cx="269.0" cy="1075.8" r="5.2"/><circle cx="249.4" cy="1031.1" r="5.2"/><circle cx="248.1" cy="1034.9" r="5.2"/><circle cx="268.4" cy="1070.5" r="5.2"/><circle cx="250.6" cy="1053.2" r="5.2"/><circle cx="264.0" cy="1119.1" r="5.2"/><circle cx="259.4" cy="960.4" r="5.2"/><circle cx="259.2" cy="1034.2" r="5.2"/><circle cx="276.2" cy="1017.4" r="5.2"/><circle cx="262.0" cy="921.2" r="5.2"/><circle cx="247.6" cy="1032.9" r="5.2"/><circle cx="274.7" cy="1050.6" r="5.2"/><circle cx="272.9" cy="1027.4" r="5.2"/><circle cx="270.9" cy="1069.7" r="5.2"/><circle cx="251.0" cy="1044.8" r="5.2"/><circle cx="258.1" cy="1095.2" r="5.2"/><circle cx="272.8" cy="1052.5" r="5.2"/><circle cx="251.5" cy="1002.8" r="5.2"/><circle cx="277.0" cy="1015.7" r="5.2"/><circle cx="254.6" cy="999.4" r="5.2"/><circle cx="270.3" cy="1062.5" r="5.2"/><circle cx="257.3" cy="1079.6" r="5.2"/><circle cx="251.7" cy="1055.5" r="5.2"/><circle cx="269.6" cy="1052.8" r="5.2"/><circle cx="270.4" cy="1074.0" r="5.2"/><circle cx="252.8" cy="1035.8" r="5.2"/><circle cx="265.6" cy="984.3" r="5.2"/><circle cx="275.7" cy="1029.7" r="5.2"/><circle cx="271.8" cy="996.5" r="5.2"/><circle cx="268.5" cy="1060.0" r="5.2"/><circle cx="263.3" cy="956.8" r="5.2"/><circle cx="262.8" cy="1113.9" r="5.2"/><circle cx="260.9" cy="1126.3" r="5.2"/><circle cx="252.9" cy="1003.5" r="5.2"/><circle cx="265.2" cy="967.0" r="5.2"/><circle cx="261.4" cy="1126.9" r="5.2"/><circle cx="259.8" cy="1118.5" r="5.2"/><circle cx="260.0" cy="986.9" r="5.2"/><circle cx="256.9" cy="1053.1" r="5.2"/><circle cx="265.9" cy="1074.3" r="5.2"/><circle cx="262.4" cy="1072.9" r="5.2"/><circle cx="252.4" cy="1049.5" r="5.2"/><circle cx="262.7" cy="1095.2" r="5.2"/><circle cx="255.5" cy="1072.2" r="5.2"/><circle cx="261.7" cy="960.6" r="5.2"/><circle cx="260.2" cy="1100.8" r="5.2"/><circle cx="250.2" cy="1011.7" r="5.2"/><circle cx="261.7" cy="1120.4" r="5.2"/><circle cx="273.2" cy="1057.9" r="5.2"/><circle cx="253.8" cy="1047.0" r="5.2"/><circle cx="254.5" cy="990.2" r="5.2"/><circle cx="254.1" cy="1066.8" r="5.2"/><circle cx="266.3" cy="1042.8" r="5.2"/><circle cx="261.1" cy="1089.1" r="5.2"/><circle cx="256.1" cy="978.6" r="5.2"/><circle cx="255.9" cy="1004.1" r="5.2"/><circle cx="262.3" cy="1025.9" r="5.2"/><circle cx="261.8" cy="1105.9" r="5.2"/><circle cx="272.4" cy="1017.9" r="5.2"/><circle cx="275.2" cy="1016.6" r="5.2"/><circle cx="263.9" cy="1089.8" r="5.2"/><circle cx="272.3" cy="1033.6" r="5.2"/><circle cx="273.1" cy="1008.4" r="5.2"/><circle cx="256.5" cy="984.2" r="5.2"/><circle cx="261.6" cy="955.8" r="5.2"/><circle cx="270.2" cy="1058.2" r="5.2"/><circle cx="254.2" cy="1071.4" r="5.2"/><circle cx="264.3" cy="998.4" r="5.2"/><circle cx="263.2" cy="1022.3" r="5.2"/><circle cx="258.8" cy="989.8" r="5.2"/><circle cx="255.5" cy="1067.7" r="5.2"/><circle cx="264.0" cy="1093.0" r="5.2"/><circle cx="271.7" cy="1041.6" r="5.2"/><circle cx="275.7" cy="1022.7" r="5.2"/><circle cx="257.3" cy="1092.0" r="5.2"/><circle cx="255.7" cy="1049.6" r="5.2"/><circle cx="255.5" cy="1034.4" r="5.2"/><circle cx="262.2" cy="1200.5" r="5.2"/><circle cx="271.3" cy="1036.0" r="5.2"/><circle cx="271.0" cy="1029.3" r="5.2"/><circle cx="262.0" cy="984.4" r="5.2"/><circle cx="260.2" cy="1086.6" r="5.2"/><circle cx="265.6" cy="1067.6" r="5.2"/><circle cx="268.9" cy="1049.6" r="5.2"/><circle cx="253.8" cy="1041.5" r="5.2"/><circle cx="256.5" cy="1024.1" r="5.2"/><circle cx="264.2" cy="1058.8" r="5.2"/><circle cx="273.7" cy="1031.1" r="5.2"/><circle cx="270.0" cy="990.6" r="5.2"/><circle cx="265.0" cy="1079.6" r="5.2"/><circle cx="275.3" cy="1013.5" r="5.2"/><circle cx="260.1" cy="1072.0" r="5.2"/><circle cx="262.2" cy="1127.6" r="5.2"/><circle cx="252.8" cy="1040.0" r="5.2"/><circle cx="265.6" cy="1049.3" r="5.2"/><circle cx="269.3" cy="1037.9" r="5.2"/><circle cx="260.9" cy="1118.1" r="5.2"/><circle cx="265.1" cy="1093.9" r="5.2"/><circle cx="258.9" cy="1019.1" r="5.2"/><circle cx="260.2" cy="1035.2" r="5.2"/><circle cx="257.3" cy="1000.0" r="5.2"/><circle cx="275.5" cy="1043.7" r="5.2"/><circle cx="262.4" cy="978.5" r="5.2"/><circle cx="260.7" cy="964.9" r="5.2"/><circle cx="248.2" cy="1010.1" r="5.2"/><circle cx="271.6" cy="1002.9" r="5.2"/><circle cx="252.0" cy="1008.8" r="5.2"/><circle cx="261.8" cy="1084.3" r="5.2"/><circle cx="260.8" cy="1017.6" r="5.2"/><circle cx="250.8" cy="1024.6" r="5.2"/><circle cx="259.0" cy="973.3" r="5.2"/><circle cx="252.6" cy="1058.9" r="5.2"/><circle cx="273.5" cy="1014.3" r="5.2"/><circle cx="267.2" cy="982.7" r="5.2"/><circle cx="268.5" cy="1033.2" r="5.2"/><circle cx="260.3" cy="1116.7" r="5.2"/><circle cx="273.3" cy="1005.8" r="5.2"/><circle cx="266.7" cy="1081.2" r="5.2"/><circle cx="261.4" cy="991.3" r="5.2"/><circle cx="253.4" cy="1073.1" r="5.2"/><circle cx="264.9" cy="1044.7" r="5.2"/><circle cx="263.7" cy="1017.2" r="5.2"/><circle cx="266.9" cy="972.6" r="5.2"/><circle cx="267.4" cy="1047.0" r="5.2"/><circle cx="265.0" cy="1085.3" r="5.2"/><circle cx="265.2" cy="1090.6" r="5.2"/><circle cx="247.9" cy="1022.5" r="5.2"/><circle cx="265.5" cy="1055.9" r="5.2"/><circle cx="269.7" cy="1009.0" r="5.2"/><circle cx="253.9" cy="1007.7" r="5.2"/><circle cx="254.6" cy="1039.0" r="5.2"/><circle cx="260.1" cy="995.6" r="5.2"/><circle cx="262.5" cy="1111.3" r="5.2"/><circle cx="265.7" cy="999.1" r="5.2"/><circle cx="263.8" cy="1002.6" r="5.2"/><circle cx="265.7" cy="973.8" r="5.2"/><circle cx="259.3" cy="1062.5" r="5.2"/><circle cx="268.9" cy="1079.0" r="5.2"/><circle cx="262.3" cy="1050.4" r="5.2"/><circle cx="257.2" cy="1074.4" r="5.2"/><circle cx="264.4" cy="979.0" r="5.2"/><circle cx="257.2" cy="1087.3" r="5.2"/><circle cx="262.5" cy="1091.8" r="5.2"/><circle cx="264.4" cy="1066.3" r="5.2"/><circle cx="268.2" cy="1004.7" r="5.2"/><circle cx="275.4" cy="1040.7" r="5.2"/><circle cx="252.7" cy="1024.1" r="5.2"/><circle cx="254.7" cy="1038.1" r="5.2"/><circle cx="257.4" cy="1007.9" r="5.2"/><circle cx="257.5" cy="996.2" r="5.2"/><circle cx="269.5" cy="985.7" r="5.2"/><circle cx="258.4" cy="1037.4" r="5.2"/><circle cx="264.9" cy="1011.7" r="5.2"/><circle cx="269.8" cy="1002.1" r="5.2"/><circle cx="274.6" cy="1007.6" r="5.2"/><circle cx="271.9" cy="1044.5" r="5.2"/><circle cx="256.9" cy="1083.4" r="5.2"/><circle cx="267.2" cy="1029.1" r="5.2"/><circle cx="249.2" cy="1050.6" r="5.2"/><circle cx="267.8" cy="1013.9" r="5.2"/><circle cx="262.6" cy="996.3" r="5.2"/><circle cx="262.7" cy="956.3" r="5.2"/><circle cx="256.0" cy="1017.0" r="5.2"/><circle cx="262.0" cy="1038.2" r="5.2"/><circle cx="260.4" cy="1095.0" r="5.2"/><circle cx="264.3" cy="973.2" r="5.2"/><circle cx="251.4" cy="1060.7" r="5.2"/><circle cx="272.5" cy="1000.9" r="5.2"/><circle cx="268.5" cy="1056.5" r="5.2"/><circle cx="261.2" cy="1069.7" r="5.2"/><circle cx="261.6" cy="1200.5" r="5.2"/><circle cx="261.6" cy="1074.2" r="5.2"/><circle cx="261.7" cy="1051.3" r="5.2"/><circle cx="261.7" cy="1200.5" r="5.2"/><circle cx="274.8" cy="1028.4" r="5.2"/><circle cx="256.7" cy="1064.2" r="5.2"/><circle cx="260.6" cy="1030.2" r="5.2"/><circle cx="258.1" cy="1068.2" r="5.2"/><circle cx="265.2" cy="1021.3" r="5.2"/><circle cx="262.1" cy="1015.4" r="5.2"/><circle cx="255.0" cy="995.8" r="5.2"/><circle cx="251.2" cy="1019.4" r="5.2"/><circle cx="258.6" cy="1083.6" r="5.2"/><circle cx="270.4" cy="1034.4" r="5.2"/><circle cx="249.7" cy="1007.4" r="5.2"/><circle cx="261.2" cy="978.7" r="5.2"/><circle cx="263.9" cy="987.1" r="5.2"/><circle cx="248.1" cy="1013.3" r="5.2"/><circle cx="252.1" cy="1052.3" r="5.2"/><circle cx="264.3" cy="1008.0" r="5.2"/><circle cx="262.8" cy="980.5" r="5.2"/><circle cx="265.6" cy="1016.2" r="5.2"/><circle cx="265.4" cy="1003.1" r="5.2"/></g><g fill="#98DF8A" stroke="#98DF8A"><circle cx="301.2" cy="1149.9" r="5.2"/><circle cx="300.5" cy="1163.5" r="5.2"/><circle cx="304.2" cy="1127.0" r="5.2"/><circle cx="305.9" cy="1155.7" r="5.2"/><circle cx="288.3" cy="1200.5" r="5.2"/><circle cx="305.2" cy="1139.0" r="5.2"/><circle cx="304.9" cy="1153.8" r="5.2"/><circle cx="307.3" cy="1173.0" r="5.2"/><circle cx="308.3" cy="1182.1" r="5.2"/><circle cx="302.8" cy="1135.7" r="5.2"/><circle cx="303.0" cy="1112.6" r="5.2"/><circle cx="299.4" cy="1178.5" r="5.2"/><circle cx="307.1" cy="1161.9" r="5.2"/><circle cx="306.5" cy="1157.5" r="5.2"/><circle cx="303.3" cy="1130.8" r="5.2"/><circle cx="301.6" cy="1138.8" r="5.2"/><circle cx="302.1" cy="1130.5" r="5.2"/><circle cx="300.2" cy="1151.7" r="5.2"/><circle cx="303.0" cy="1139.7" r="5.2"/><circle cx="309.1" cy="1179.5" r="5.2"/><circle cx="318.5" cy="1200.5" r="5.2"/><circle cx="301.1" cy="1154.9" r="5.2"/><circle cx="300.9" cy="1148.8" r="5.2"/><circle cx="302.4" cy="1133.8" r="5.2"/><circle cx="303.3" cy="1122.7" r="5.2"/><circle cx="288.4" cy="1200.5" r="5.2"/><circle cx="305.6" cy="1147.6" r="5.2"/><circle cx="304.1" cy="1118.2" r="5.2"/><circle cx="299.3" cy="1159.3" r="5.2"/><circle cx="302.6" cy="1126.6" r="5.2"/><circle cx="305.4" cy="1150.0" r="5.2"/><circle cx="302.0" cy="1155.9" r="5.2"/><circle cx="306.6" cy="1152.4" r="5.2"/><circle cx="298.8" cy="1177.7" r="5.2"/><circle cx="303.3" cy="1099.0" r="5.2"/><circle cx="304.9" cy="1143.9" r="5.2"/><circle cx="302.0" cy="1150.2" r="5.2"/><circle cx="307.0" cy="1168.1" r="5.2"/><circle cx="301.8" cy="1147.3" r="5.2"/><circle cx="307.5" cy="1159.8" r="5.2"/><circle cx="303.6" cy="1130.2" r="5.2"/><circle cx="304.7" cy="1135.5" r="5.2"/><circle cx="303.4" cy="1180.3" r="5.2"/><circle cx="304.8" cy="1147.1" r="5.2"/><circle cx="297.8" cy="1179.3" r="5.2"/><circle cx="306.1" cy="1149.0" r="5.2"/><circle cx="301.6" cy="1142.0" r="5.2"/><circle cx="299.6" cy="1167.9" r="5.2"/><circle cx="304.5" cy="1158.0" r="5.2"/><circle cx="300.0" cy="1157.0" r="5.2"/><circle cx="302.2" cy="1161.4" r="5.2"/><circle cx="304.2" cy="1140.7" r="5.2"/><circle cx="289.0" cy="1200.5" r="5.2"/><circle cx="300.8" cy="1144.6" r="5.2"/><circle cx="299.4" cy="1165.7" r="5.2"/><circle cx="303.4" cy="1179.3" r="5.2"/><circle cx="306.5" cy="1161.3" r="5.2"/><circle cx="298.8" cy="1175.2" r="5.2"/><circle cx="306.2" cy="1145.9" r="5.2"/><circle cx="300.7" cy="1167.2" r="5.2"/><circle cx="303.3" cy="1107.4" r="5.2"/><circle cx="305.3" cy="1166.3" r="5.2"/><circle cx="306.7" cy="1172.2" r="5.2"/><circle cx="304.8" cy="1178.1" r="5.2"/><circle cx="305.4" cy="1160.3" r="5.2"/><circle cx="302.8" cy="1162.4" r="5.2"/><circle cx="306.3" cy="1179.2" r="5.2"/><circle cx="303.5" cy="1109.3" r="5.2"/><circle cx="303.9" cy="1126.3" r="5.2"/><circle cx="318.0" cy="1200.5" r="5.2"/><circle cx="312.3" cy="1200.5" r="5.2"/><circle cx="318.6" cy="1200.5" r="5.2"/><circle cx="302.9" cy="1149.2" r="5.2"/><circle cx="313.5" cy="1200.5" r="5.2"/><circle cx="302.9" cy="1129.6" r="5.2"/><circle cx="304.4" cy="1161.9" r="5.2"/><circle cx="288.2" cy="1200.5" r="5.2"/><circle cx="303.7" cy="1102.0" r="5.2"/><circle cx="299.6" cy="1172.9" r="5.2"/><circle cx="303.8" cy="1136.1" r="5.2"/><circle cx="309.3" cy="1200.5" r="5.2"/><circle cx="301.1" cy="1200.5" r="5.2"/><circle cx="307.8" cy="1175.4" r="5.2"/><circle cx="306.6" cy="1200.5" r="5.2"/><circle cx="303.2" cy="1171.5" r="5.2"/><circle cx="306.9" cy="1200.5" r="5.2"/><circle cx="307.5" cy="1166.1" r="5.2"/><circle cx="314.2" cy="1200.5" r="5.2"/><circle cx="307.4" cy="1177.9" r="5.2"/><circle cx="310.5" cy="1200.5" r="5.2"/><circle cx="315.4" cy="1200.5" r="5.2"/><circle cx="315.9" cy="1200.5" r="5.2"/><circle cx="303.7" cy="1151.6" r="5.2"/><circle cx="306.4" cy="1167.2" r="5.2"/><circle cx="309.8" cy="1200.5" r="5.2"/><circle cx="305.1" cy="1200.5" r="5.2"/><circle cx="303.9" cy="1165.4" r="5.2"/><circle cx="302.4" cy="1168.4" r="5.2"/><circle cx="315.6" cy="1200.5" r="5.2"/><circle cx="297.3" cy="1200.5" r="5.2"/><circle cx="304.9" cy="1130.5" r="5.2"/><circle cx="317.0" cy="1200.5" r="5.2"/><circle cx="304.3" cy="1200.5" r="5.2"/><circle cx="304.3" cy="1172.6" r="5.2"/><circle cx="316.3" cy="1200.5" r="5.2"/><circle cx="302.2" cy="1144.2" r="5.2"/><circle cx="303.8" cy="1175.1" r="5.2"/><circle cx="302.1" cy="1200.5" r="5.2"/><circle cx="300.6" cy="1179.3" r="5.2"/><circle cx="289.5" cy="1200.5" r="5.2"/><circle cx="300.4" cy="1158.2" r="5.2"/><circle cx="294.3" cy="1200.5" r="5.2"/><circle cx="298.9" cy="1170.6" r="5.2"/><circle cx="288.5" cy="1200.5" r="5.2"/><circle cx="291.6" cy="1200.5" r="5.2"/><circle cx="310.8" cy="1200.5" r="5.2"/><circle cx="309.1" cy="1200.5" r="5.2"/><circle cx="306.4" cy="1180.9" r="5.2"/><circle cx="299.6" cy="1200.5" r="5.2"/><circle cx="292.5" cy="1200.5" r="5.2"/><circle cx="300.3" cy="1181.3" r="5.2"/><circle cx="296.6" cy="1200.5" r="5.2"/><circle cx="318.1" cy="1200.5" r="5.2"/><circle cx="300.1" cy="1161.9" r="5.2"/><circle cx="303.8" cy="1200.5" r="5.2"/><circle cx="307.8" cy="1171.1" r="5.2"/><circle cx="304.1" cy="1132.0" r="5.2"/><circle cx="293.1" cy="1200.5" r="5.2"/><circle cx="294.5" cy="1200.5" r="5.2"/><circle cx="305.5" cy="1200.5" r="5.2"/><circle cx="299.0" cy="1200.5" r="5.2"/><circle cx="299.3" cy="1200.5" r="5.2"/><circle cx="289.2" cy="1200.5" r="5.2"/></g><g fill="#D62728" stroke="#D62728"><circle cx="344.9" cy="946.6" r="5.2"/><circle cx="360.0" cy="1200.5" r="5.2"/><circle cx="344.9" cy="986.8" r="5.2"/><circle cx="359.8" cy="1200.5" r="5.2"/><circle cx="329.6" cy="1200.5" r="5.2"/><circle cx="359.1" cy="1200.5" r="5.2"/><circle cx="356.7" cy="1200.5" r="5.2"/><circle cx="359.9" cy="1200.5" r="5.2"/><circle cx="329.7" cy="1200.5" r="5.2"/><circle cx="347.5" cy="1200.5" r="5.2"/><circle cx="344.0" cy="1200.5" r="5.2"/><circle cx="329.8" cy="1200.5" r="5.2"/><circle cx="349.0" cy="1200.5" r="5.2"/><circle cx="345.0" cy="1200.5" r="5.2"/><circle cx="349.3" cy="1200.5" r="5.2"/><circle cx="335.9" cy="1200.5" r="5.2"/><circle cx="343.0" cy="1200.5" r="5.2"/><circle cx="343.4" cy="1200.5" r="5.2"/><circle cx="333.9" cy="1200.5" r="5.2"/><circle cx="333.6" cy="1200.5" r="5.2"/><circle cx="358.5" cy="1200.5" r="5.2"/><circle cx="337.8" cy="1200.5" r="5.2"/><circle cx="359.6" cy="1200.5" r="5.2"/><circle cx="354.0" cy="1200.5" r="5.2"/><circle cx="354.6" cy="1200.5" r="5.2"/><circle cx="330.4" cy="1200.5" r="5.2"/><circle cx="342.0" cy="1200.5" r="5.2"/><circle cx="336.3" cy="1200.5" r="5.2"/><circle cx="352.7" cy="1200.5" r="5.2"/><circle cx="333.1" cy="1200.5" r="5.2"/><circle cx="347.3" cy="1200.5" r="5.2"/><circle cx="338.1" cy="1200.5" r="5.2"/><circle cx="351.3" cy="1200.5" r="5.2"/><circle cx="355.2" cy="1200.5" r="5.2"/><circle cx="341.6" cy="1200.5" r="5.2"/><circle cx="341.0" cy="1200.5" r="5.2"/><circle cx="356.0" cy="1200.5" r="5.2"/><circle cx="340.1" cy="1200.5" r="5.2"/><circle cx="346.6" cy="1200.5" r="5.2"/><circle cx="349.8" cy="1200.5" r="5.2"/></g><g fill="#FF9896" stroke="#FF9896"><circle cx="387.4" cy="1134.3" r="5.2"/><circle cx="385.4" cy="1116.2" r="5.2"/><circle cx="384.9" cy="1117.2" r="5.2"/><circle cx="386.6" cy="1116.3" r="5.2"/><circle cx="385.8" cy="1126.2" r="5.2"/><circle cx="387.8" cy="1127.4" r="5.2"/><circle cx="385.7" cy="1139.3" r="5.2"/><circle cx="386.7" cy="1127.0" r="5.2"/><circle cx="385.1" cy="1109.8" r="5.2"/><circle cx="387.6" cy="1124.4" r="5.2"/><circle cx="385.3" cy="1138.7" r="5.2"/><circle cx="387.2" cy="1108.9" r="5.2"/><circle cx="384.6" cy="1120.9" r="5.2"/><circle cx="386.3" cy="1001.7" r="5.2"/><circle cx="385.3" cy="1124.1" r="5.2"/><circle cx="386.4" cy="1140.0" r="5.2"/><circle cx="386.8" cy="1107.6" r="5.2"/><circle cx="371.1" cy="1200.5" r="5.2"/><circle cx="386.6" cy="1103.3" r="5.2"/><circle cx="386.1" cy="1152.2" r="5.2"/><circle cx="386.7" cy="1138.1" r="5.2"/><circle cx="386.3" cy="1097.9" r="5.2"/><circle cx="386.6" cy="1153.3" r="5.2"/><circle cx="385.8" cy="1109.0" r="5.2"/><circle cx="385.1" cy="1130.5" r="5.2"/><circle cx="385.2" cy="1141.1" r="5.2"/><circle cx="387.3" cy="1119.8" r="5.2"/><circle cx="387.6" cy="1135.2" r="5.2"/><circle cx="385.8" cy="1094.9" r="5.2"/><circle cx="387.9" cy="1132.5" r="5.2"/><circle cx="371.3" cy="1200.5" r="5.2"/><circle cx="401.5" cy="1200.5" r="5.2"/><circle cx="387.2" cy="1145.1" r="5.2"/><circle cx="371.2" cy="1200.5" r="5.2"/><circle cx="385.3" cy="1134.0" r="5.2"/><circle cx="385.5" cy="1120.3" r="5.2"/><circle cx="386.2" cy="1122.9" r="5.2"/><circle cx="384.9" cy="1135.0" r="5.2"/><circle cx="387.0" cy="1133.3" r="5.2"/><circle cx="386.5" cy="1132.2" r="5.2"/><circle cx="386.6" cy="1134.5" r="5.2"/><circle cx="385.6" cy="1132.2" r="5.2"/><circle cx="385.5" cy="1103.5" r="5.2"/><circle cx="386.0" cy="1119.1" r="5.2"/><circle cx="386.2" cy="1106.8" r="5.2"/><circle cx="386.7" cy="1098.4" r="5.2"/><circle cx="385.1" cy="1119.5" r="5.2"/><circle cx="386.0" cy="1136.1" r="5.2"/><circle cx="384.7" cy="1132.3" r="5.2"/><circle cx="387.1" cy="1123.5" r="5.2"/><circle cx="386.6" cy="1151.8" r="5.2"/><circle cx="388.0" cy="1121.7" r="5.2"/><circle cx="385.7" cy="1134.4" r="5.2"/><circle cx="386.3" cy="1200.5" r="5.2"/><circle cx="386.0" cy="1128.1" r="5.2"/><circle cx="387.4" cy="1106.2" r="5.2"/><circle cx="387.0" cy="1114.3" r="5.2"/><circle cx="386.5" cy="1200.5" r="5.2"/><circle cx="386.9" cy="1128.8" r="5.2"/><circle cx="387.7" cy="1111.6" r="5.2"/><circle cx="384.7" cy="1200.5" r="5.2"/><circle cx="389.6" cy="1200.5" r="5.2"/><circle cx="387.1" cy="1102.2" r="5.2"/><circle cx="385.8" cy="1102.2" r="5.2"/><circle cx="386.3" cy="1147.7" r="5.2"/><circle cx="383.8" cy="1200.5" r="5.2"/><circle cx="387.4" cy="1131.5" r="5.2"/><circle cx="401.1" cy="1200.5" r="5.2"/><circle cx="379.7" cy="1200.5" r="5.2"/><circle cx="386.1" cy="1102.4" r="5.2"/><circle cx="387.7" cy="1117.4" r="5.2"/><circle cx="384.9" cy="1127.2" r="5.2"/><circle cx="383.1" cy="1200.5" r="5.2"/><circle cx="376.5" cy="1200.5" r="5.2"/><circle cx="388.8" cy="1200.5" r="5.2"/><circle cx="386.4" cy="1120.8" r="5.2"/><circle cx="393.7" cy="1200.5" r="5.2"/><circle cx="381.3" cy="1200.5" r="5.2"/><circle cx="373.8" cy="1200.5" r="5.2"/><circle cx="397.9" cy="1200.5" r="5.2"/><circle cx="400.2" cy="1200.5" r="5.2"/><circle cx="375.3" cy="1200.5" r="5.2"/><circle cx="390.0" cy="1200.5" r="5.2"/><circle cx="401.3" cy="1200.5" r="5.2"/><circle cx="383.7" cy="1200.5" r="5.2"/><circle cx="392.2" cy="1200.5" r="5.2"/><circle cx="385.8" cy="1116.3" r="5.2"/><circle cx="401.4" cy="1200.5" r="5.2"/><circle cx="387.0" cy="1139.2" r="5.2"/><circle cx="371.5" cy="1200.5" r="5.2"/><circle cx="396.8" cy="1200.5" r="5.2"/><circle cx="378.3" cy="1200.5" r="5.2"/><circle cx="377.6" cy="1200.5" r="5.2"/><circle cx="396.2" cy="1200.5" r="5.2"/><circle cx="393.1" cy="1200.5" r="5.2"/><circle cx="385.0" cy="1200.5" r="5.2"/><circle cx="392.5" cy="1200.5" r="5.2"/><circle cx="395.2" cy="1200.5" r="5.2"/><circle cx="387.4" cy="1116.2" r="5.2"/><circle cx="374.3" cy="1200.5" r="5.2"/><circle cx="381.5" cy="1200.5" r="5.2"/><circle cx="372.0" cy="1200.5" r="5.2"/><circle cx="391.2" cy="1200.5" r="5.2"/><circle cx="372.5" cy="1200.5" r="5.2"/><circle cx="385.5" cy="1108.6" r="5.2"/><circle cx="387.0" cy="1096.8" r="5.2"/><circle cx="399.1" cy="1200.5" r="5.2"/></g><g fill="#9467BD" stroke="#9467BD"><circle cx="429.6" cy="1129.6" r="5.2"/><circle cx="429.4" cy="1135.7" r="5.2"/><circle cx="427.0" cy="1127.6" r="5.2"/><circle cx="429.2" cy="1131.6" r="5.2"/><circle cx="428.9" cy="1138.1" r="5.2"/><circle cx="428.3" cy="1116.3" r="5.2"/><circle cx="428.6" cy="1127.2" r="5.2"/><circle cx="427.6" cy="1144.1" r="5.2"/><circle cx="426.2" cy="1135.2" r="5.2"/><circle cx="426.7" cy="1123.6" r="5.2"/><circle cx="428.4" cy="1120.0" r="5.2"/><circle cx="428.5" cy="1133.6" r="5.2"/><circle cx="429.0" cy="1133.9" r="5.2"/><circle cx="427.4" cy="1122.0" r="5.2"/><circle cx="428.2" cy="1150.2" r="5.2"/><circle cx="426.8" cy="1131.4" r="5.2"/><circle cx="442.7" cy="1200.5" r="5.2"/><circle cx="428.0" cy="1147.4" r="5.2"/><circle cx="426.8" cy="1141.1" r="5.2"/><circle cx="427.5" cy="1124.5" r="5.2"/><circle cx="427.7" cy="1117.4" r="5.2"/><circle cx="427.8" cy="1129.3" r="5.2"/><circle cx="426.7" cy="1125.3" r="5.2"/><circle cx="428.3" cy="1153.4" r="5.2"/><circle cx="427.5" cy="1151.7" r="5.2"/><circle cx="427.8" cy="1176.7" r="5.2"/><circle cx="427.8" cy="1153.1" r="5.2"/><circle cx="412.8" cy="1200.5" r="5.2"/><circle cx="427.3" cy="1153.2" r="5.2"/><circle cx="427.3" cy="1138.9" r="5.2"/><circle cx="413.0" cy="1200.5" r="5.2"/><circle cx="426.9" cy="1137.8" r="5.2"/><circle cx="421.2" cy="1200.5" r="5.2"/><circle cx="427.8" cy="1129.9" r="5.2"/><circle cx="428.2" cy="1125.1" r="5.2"/><circle cx="427.3" cy="1147.9" r="5.2"/><circle cx="426.6" cy="1133.9" r="5.2"/><circle cx="429.4" cy="1133.2" r="5.2"/><circle cx="426.4" cy="1133.1" r="5.2"/><circle cx="428.0" cy="1123.4" r="5.2"/><circle cx="428.1" cy="1119.0" r="5.2"/><circle cx="426.0" cy="1129.5" r="5.2"/><circle cx="438.4" cy="1200.5" r="5.2"/><circle cx="442.2" cy="1200.5" r="5.2"/><circle cx="425.2" cy="1200.5" r="5.2"/><circle cx="439.6" cy="1200.5" r="5.2"/><circle cx="428.1" cy="1139.8" r="5.2"/><circle cx="440.1" cy="1200.5" r="5.2"/><circle cx="434.5" cy="1200.5" r="5.2"/><circle cx="422.4" cy="1200.5" r="5.2"/><circle cx="412.6" cy="1200.5" r="5.2"/><circle cx="412.5" cy="1200.5" r="5.2"/><circle cx="427.3" cy="1131.9" r="5.2"/><circle cx="423.7" cy="1200.5" r="5.2"/><circle cx="435.6" cy="1200.5" r="5.2"/><circle cx="439.5" cy="1200.5" r="5.2"/><circle cx="442.8" cy="1200.5" r="5.2"/><circle cx="435.9" cy="1200.5" r="5.2"/><circle cx="433.0" cy="1200.5" r="5.2"/><circle cx="428.7" cy="1142.0" r="5.2"/><circle cx="420.8" cy="1200.5" r="5.2"/><circle cx="427.6" cy="1133.3" r="5.2"/><circle cx="427.2" cy="1119.5" r="5.2"/><circle cx="413.4" cy="1200.5" r="5.2"/><circle cx="431.3" cy="1200.5" r="5.2"/><circle cx="428.5" cy="1137.1" r="5.2"/><circle cx="428.8" cy="1124.1" r="5.2"/><circle cx="414.7" cy="1200.5" r="5.2"/><circle cx="441.9" cy="1200.5" r="5.2"/><circle cx="428.0" cy="1134.3" r="5.2"/><circle cx="413.7" cy="1200.5" r="5.2"/><circle cx="437.2" cy="1200.5" r="5.2"/><circle cx="443.0" cy="1200.5" r="5.2"/><circle cx="429.4" cy="1200.5" r="5.2"/><circle cx="415.4" cy="1200.5" r="5.2"/><circle cx="425.0" cy="1200.5" r="5.2"/><circle cx="432.4" cy="1200.5" r="5.2"/><circle cx="418.4" cy="1200.5" r="5.2"/><circle cx="426.4" cy="1200.5" r="5.2"/><circle cx="422.8" cy="1200.5" r="5.2"/><circle cx="417.6" cy="1200.5" r="5.2"/><circle cx="415.8" cy="1200.5" r="5.2"/><circle cx="417.9" cy="1200.5" r="5.2"/><circle cx="432.3" cy="1200.5" r="5.2"/><circle cx="429.5" cy="1200.5" r="5.2"/><circle cx="427.8" cy="1154.5" r="5.2"/><circle cx="415.9" cy="1200.5" r="5.2"/><circle cx="427.8" cy="1200.5" r="5.2"/><circle cx="414.0" cy="1200.5" r="5.2"/><circle cx="426.2" cy="1200.5" r="5.2"/></g><g fill="#C5B0D5" stroke="#C5B0D5"><circle cx="473.4" cy="1103.4" r="5.2"/><circle cx="469.2" cy="992.7" r="5.2"/><circle cx="466.9" cy="1053.0" r="5.2"/><circle cx="472.3" cy="1128.5" r="5.2"/><circle cx="471.7" cy="1120.2" r="5.2"/><circle cx="484.4" cy="1200.5" r="5.2"/><circle cx="472.1" cy="1084.4" r="5.2"/><circle cx="470.3" cy="1040.4" r="5.2"/><circle cx="467.2" cy="1125.2" r="5.2"/><circle cx="465.9" cy="1120.0" r="5.2"/><circle cx="466.6" cy="1067.1" r="5.2"/><circle cx="465.0" cy="1084.3" r="5.2"/><circle cx="473.0" cy="1095.0" r="5.2"/><circle cx="466.8" cy="1058.1" r="5.2"/><circle cx="484.2" cy="1200.5" r="5.2"/><circle cx="473.3" cy="1098.2" r="5.2"/><circle cx="474.1" cy="1105.4" r="5.2"/><circle cx="469.0" cy="1135.8" r="5.2"/><circle cx="470.5" cy="1119.9" r="5.2"/><circle cx="473.6" cy="1089.3" r="5.2"/><circle cx="469.3" cy="1023.8" r="5.2"/><circle cx="467.8" cy="1068.7" r="5.2"/><circle cx="465.3" cy="1070.0" r="5.2"/><circle cx="472.6" cy="1068.1" r="5.2"/><circle cx="471.5" cy="1094.5" r="5.2"/><circle cx="464.2" cy="1110.1" r="5.2"/><circle cx="471.3" cy="1046.1" r="5.2"/><circle cx="465.8" cy="1055.0" r="5.2"/><circle cx="469.9" cy="1047.6" r="5.2"/><circle cx="468.5" cy="1046.2" r="5.2"/><circle cx="474.8" cy="1096.4" r="5.2"/><circle cx="465.2" cy="1118.5" r="5.2"/><circle cx="472.1" cy="1088.3" r="5.2"/><circle cx="470.7" cy="1092.6" r="5.2"/><circle cx="464.0" cy="1095.8" r="5.2"/><circle cx="464.8" cy="1092.7" r="5.2"/><circle cx="468.1" cy="1133.7" r="5.2"/><circle cx="473.7" cy="1065.2" r="5.2"/><circle cx="472.0" cy="1058.3" r="5.2"/><circle cx="466.4" cy="1127.5" r="5.2"/><circle cx="468.5" cy="1093.9" r="5.2"/><circle cx="471.5" cy="1053.5" r="5.2"/><circle cx="470.3" cy="1136.7" r="5.2"/><circle cx="465.6" cy="1109.2" r="5.2"/><circle cx="472.7" cy="1078.3" r="5.2"/><circle cx="472.3" cy="1076.3" r="5.2"/><circle cx="466.8" cy="1048.6" r="5.2"/><circle cx="474.0" cy="1077.7" r="5.2"/><circle cx="470.9" cy="1055.6" r="5.2"/><circle cx="467.0" cy="1109.4" r="5.2"/><circle cx="463.7" cy="1101.1" r="5.2"/><circle cx="472.0" cy="1049.1" r="5.2"/><circle cx="470.5" cy="1129.4" r="5.2"/><circle cx="469.4" cy="980.8" r="5.2"/><circle cx="483.8" cy="1200.5" r="5.2"/><circle cx="469.9" cy="1152.8" r="5.2"/><circle cx="470.2" cy="1069.7" r="5.2"/><circle cx="468.8" cy="1049.7" r="5.2"/><circle cx="464.4" cy="1099.3" r="5.2"/><circle cx="474.4" cy="1093.7" r="5.2"/><circle cx="465.7" cy="1060.0" r="5.2"/><circle cx="475.8" cy="1200.5" r="5.2"/><circle cx="475.0" cy="1101.9" r="5.2"/><circle cx="473.6" cy="1121.3" r="5.2"/><circle cx="467.8" cy="1059.3" r="5.2"/><circle cx="468.9" cy="1055.4" r="5.2"/><circle cx="466.2" cy="1114.1" r="5.2"/><circle cx="467.1" cy="1120.2" r="5.2"/><circle cx="471.7" cy="1200.5" r="5.2"/><circle cx="474.1" cy="1099.6" r="5.2"/><circle cx="467.8" cy="1045.8" r="5.2"/><circle cx="466.1" cy="1102.8" r="5.2"/><circle cx="475.0" cy="1086.2" r="5.2"/><circle cx="471.0" cy="1200.5" r="5.2"/><circle cx="469.2" cy="1086.3" r="5.2"/><circle cx="454.0" cy="1200.5" r="5.2"/><circle cx="469.2" cy="964.4" r="5.2"/><circle cx="467.9" cy="1081.8" r="5.2"/><circle cx="470.5" cy="1061.7" r="5.2"/><circle cx="471.7" cy="1135.6" r="5.2"/><circle cx="471.3" cy="1077.7" r="5.2"/><circle cx="474.2" cy="1200.5" r="5.2"/><circle cx="483.5" cy="1200.5" r="5.2"/><circle cx="468.2" cy="1029.0" r="5.2"/><circle cx="471.3" cy="1113.6" r="5.2"/><circle cx="466.7" cy="1134.0" r="5.2"/><circle cx="454.1" cy="1200.5" r="5.2"/><circle cx="464.8" cy="1064.0" r="5.2"/><circle cx="472.0" cy="1102.2" r="5.2"/><circle cx="466.3" cy="1089.1" r="5.2"/><circle cx="454.9" cy="1200.5" r="5.2"/><circle cx="467.4" cy="1099.0" r="5.2"/><circle cx="467.8" cy="1200.5" r="5.2"/><circle cx="474.0" cy="1113.1" r="5.2"/><circle cx="470.5" cy="1051.7" r="5.2"/><circle cx="471.4" cy="1066.5" r="5.2"/><circle cx="473.4" cy="1200.5" r="5.2"/><circle cx="454.3" cy="1200.5" r="5.2"/><circle cx="468.2" cy="1127.4" r="5.2"/><circle cx="465.9" cy="1077.9" r="5.2"/><circle cx="466.4" cy="1084.5" r="5.2"/><circle cx="468.2" cy="1142.8" r="5.2"/><circle cx="468.8" cy="1096.6" r="5.2"/><circle cx="468.3" cy="1061.2" r="5.2"/><circle cx="472.6" cy="1060.3" r="5.2"/><circle cx="471.8" cy="1097.2" r="5.2"/><circle cx="466.0" cy="1200.5" r="5.2"/><circle cx="472.1" cy="1125.6" r="5.2"/><circle cx="472.9" cy="1119.2" r="5.2"/><circle cx="473.4" cy="1072.4" r="5.2"/><circle cx="468.1" cy="1099.7" r="5.2"/><circle cx="465.5" cy="1094.6" r="5.2"/><circle cx="455.8" cy="1200.5" r="5.2"/><circle cx="464.9" cy="1121.1" r="5.2"/><circle cx="469.2" cy="1123.8" r="5.2"/><circle cx="473.4" cy="1081.6" r="5.2"/><circle cx="465.1" cy="1100.3" r="5.2"/><circle cx="465.7" cy="1076.3" r="5.2"/><circle cx="472.7" cy="1055.1" r="5.2"/><circle cx="470.0" cy="1117.9" r="5.2"/><circle cx="467.2" cy="1131.6" r="5.2"/><circle cx="471.2" cy="1124.4" r="5.2"/><circle cx="464.4" cy="1081.6" r="5.2"/><circle cx="468.3" cy="1073.0" r="5.2"/><circle cx="469.3" cy="1200.5" r="5.2"/><circle cx="483.2" cy="1200.5" r="5.2"/><circle cx="478.0" cy="1200.5" r="5.2"/><circle cx="464.7" cy="1105.1" r="5.2"/><circle cx="470.6" cy="1032.3" r="5.2"/><circle cx="483.9" cy="1200.5" r="5.2"/><circle cx="481.4" cy="1200.5" r="5.2"/><circle cx="471.1" cy="1132.7" r="5.2"/><circle cx="460.7" cy="1200.5" r="5.2"/><circle cx="469.6" cy="1053.8" r="5.2"/><circle cx="469.4" cy="1120.7" r="5.2"/><circle cx="469.2" cy="1039.3" r="5.2"/><circle cx="458.0" cy="1200.5" r="5.2"/><circle cx="480.8" cy="1200.5" r="5.2"/><circle cx="457.0" cy="1200.5" r="5.2"/><circle cx="472.5" cy="1109.4" r="5.2"/><circle cx="460.8" cy="1200.5" r="5.2"/><circle cx="466.1" cy="1062.4" r="5.2"/><circle cx="479.1" cy="1200.5" r="5.2"/><circle cx="472.5" cy="1115.5" r="5.2"/><circle cx="467.8" cy="1053.6" r="5.2"/><circle cx="465.2" cy="1200.5" r="5.2"/><circle cx="471.2" cy="1107.3" r="5.2"/><circle cx="463.5" cy="1200.5" r="5.2"/><circle cx="458.3" cy="1200.5" r="5.2"/><circle cx="462.6" cy="1200.5" r="5.2"/><circle cx="470.2" cy="1200.5" r="5.2"/><circle cx="455.1" cy="1200.5" r="5.2"/><circle cx="466.6" cy="1200.5" r="5.2"/><circle cx="475.3" cy="1200.5" r="5.2"/><circle cx="478.7" cy="1200.5" r="5.2"/><circle cx="471.7" cy="1063.0" r="5.2"/><circle cx="463.5" cy="1086.0" r="5.2"/><circle cx="464.6" cy="1200.5" r="5.2"/><circle cx="468.6" cy="1077.7" r="5.2"/><circle cx="464.7" cy="1200.5" r="5.2"/><circle cx="477.6" cy="1200.5" r="5.2"/><circle cx="469.9" cy="1200.5" r="5.2"/><circle cx="464.3" cy="1077.3" r="5.2"/><circle cx="467.2" cy="1063.1" r="5.2"/><circle cx="455.6" cy="1200.5" r="5.2"/><circle cx="470.7" cy="1082.4" r="5.2"/></g><g fill="#8C564B" stroke="#8C564B"><circle cx="511.8" cy="1144.9" r="5.2"/><circle cx="507.6" cy="1165.6" r="5.2"/><circle cx="514.6" cy="1200.5" r="5.2"/><circle cx="512.7" cy="1200.5" r="5.2"/><circle cx="498.2" cy="1200.5" r="5.2"/><circle cx="502.1" cy="1200.5" r="5.2"/><circle cx="512.6" cy="1158.2" r="5.2"/><circle cx="505.9" cy="1200.5" r="5.2"/><circle cx="496.3" cy="1200.5" r="5.2"/><circle cx="510.7" cy="1200.5" r="5.2"/><circle cx="497.3" cy="1200.5" r="5.2"/><circle cx="499.2" cy="1200.5" r="5.2"/><circle cx="511.3" cy="1132.5" r="5.2"/><circle cx="505.0" cy="1200.5" r="5.2"/><circle cx="510.8" cy="1164.8" r="5.2"/><circle cx="511.6" cy="1115.7" r="5.2"/><circle cx="522.3" cy="1200.5" r="5.2"/><circle cx="512.9" cy="1124.9" r="5.2"/><circle cx="521.3" cy="1200.5" r="5.2"/><circle cx="501.1" cy="1200.5" r="5.2"/><circle cx="513.7" cy="1168.5" r="5.2"/><circle cx="509.8" cy="1200.5" r="5.2"/><circle cx="523.2" cy="1200.5" r="5.2"/><circle cx="517.5" cy="1200.5" r="5.2"/><circle cx="509.5" cy="1129.3" r="5.2"/><circle cx="515.5" cy="1200.5" r="5.2"/><circle cx="509.0" cy="1121.9" r="5.2"/><circle cx="511.7" cy="1200.5" r="5.2"/><circle cx="503.0" cy="1200.5" r="5.2"/><circle cx="504.0" cy="1200.5" r="5.2"/><circle cx="519.4" cy="1200.5" r="5.2"/><circle cx="516.5" cy="1200.5" r="5.2"/><circle cx="524.2" cy="1200.5" r="5.2"/><circle cx="518.4" cy="1200.5" r="5.2"/><circle cx="508.1" cy="1157.6" r="5.2"/><circle cx="507.6" cy="1133.6" r="5.2"/><circle cx="508.8" cy="1200.5" r="5.2"/><circle cx="509.1" cy="1158.8" r="5.2"/><circle cx="507.8" cy="1200.5" r="5.2"/><circle cx="509.9" cy="1143.9" r="5.2"/><circle cx="520.4" cy="1200.5" r="5.2"/><circle cx="513.7" cy="1138.6" r="5.2"/></g><g fill="#C49C94" stroke="#C49C94"><circle cx="541.6" cy="1080.2" r="5.2"/><circle cx="543.0" cy="1017.3" r="5.2"/><circle cx="552.5" cy="939.9" r="5.2"/><circle cx="555.1" cy="1115.4" r="5.2"/><circle cx="539.8" cy="1024.8" r="5.2"/><circle cx="541.2" cy="1003.5" r="5.2"/><circle cx="552.9" cy="1123.6" r="5.2"/><circle cx="546.1" cy="1112.1" r="5.2"/><circle cx="551.7" cy="1200.5" r="5.2"/><circle cx="542.6" cy="1070.3" r="5.2"/><circle cx="548.8" cy="1105.0" r="5.2"/><circle cx="540.8" cy="1049.9" r="5.2"/><circle cx="564.6" cy="1091.7" r="5.2"/><circle cx="537.6" cy="1028.4" r="5.2"/><circle cx="560.5" cy="1002.5" r="5.2"/><circle cx="551.2" cy="1114.6" r="5.2"/><circle cx="544.4" cy="1047.9" r="5.2"/><circle cx="551.5" cy="1064.4" r="5.2"/><circle cx="563.5" cy="998.3" r="5.2"/><circle cx="543.4" cy="1077.5" r="5.2"/><circle cx="558.9" cy="960.9" r="5.2"/><circle cx="561.2" cy="983.5" r="5.2"/><circle cx="542.6" cy="992.7" r="5.2"/><circle cx="541.5" cy="1027.1" r="5.2"/><circle cx="550.1" cy="967.2" r="5.2"/><circle cx="551.9" cy="1046.1" r="5.2"/><circle cx="546.1" cy="979.7" r="5.2"/><circle cx="548.8" cy="1079.4" r="5.2"/><circle cx="562.8" cy="1030.7" r="5.2"/><circle cx="563.9" cy="1025.1" r="5.2"/><circle cx="565.4" cy="1020.5" r="5.2"/><circle cx="548.4" cy="975.3" r="5.2"/><circle cx="543.0" cy="983.4" r="5.2"/><circle cx="564.0" cy="1070.1" r="5.2"/><circle cx="556.1" cy="1043.1" r="5.2"/><circle cx="562.0" cy="1023.9" r="5.2"/><circle cx="543.3" cy="976.4" r="5.2"/><circle cx="561.4" cy="1078.0" r="5.2"/><circle cx="555.2" cy="1032.2" r="5.2"/><circle cx="544.2" cy="1113.2" r="5.2"/><circle cx="560.5" cy="1073.1" r="5.2"/><circle cx="538.9" cy="1040.5" r="5.2"/><circle cx="544.7" cy="1044.5" r="5.2"/><circle cx="562.2" cy="1003.9" r="5.2"/><circle cx="542.7" cy="1051.9" r="5.2"/><circle cx="538.1" cy="1084.2" r="5.2"/><circle cx="566.5" cy="1028.8" r="5.2"/><circle cx="543.1" cy="1098.4" r="5.2"/><circle cx="558.6" cy="986.9" r="5.2"/><circle cx="544.5" cy="1001.1" r="5.2"/><circle cx="561.9" cy="1037.3" r="5.2"/><circle cx="550.9" cy="998.5" r="5.2"/><circle cx="565.0" cy="1075.0" r="5.2"/><circle cx="554.2" cy="967.8" r="5.2"/><circle cx="558.2" cy="966.7" r="5.2"/><circle cx="544.0" cy="995.3" r="5.2"/><circle cx="546.5" cy="1037.7" r="5.2"/><circle cx="551.7" cy="932.4" r="5.2"/><circle cx="565.8" cy="1036.6" r="5.2"/><circle cx="537.2" cy="1045.5" r="5.2"/><circle cx="559.6" cy="1080.6" r="5.2"/><circle cx="541.5" cy="1014.9" r="5.2"/><circle cx="565.0" cy="1050.5" r="5.2"/><circle cx="542.7" cy="1005.5" r="5.2"/><circle cx="547.9" cy="956.4" r="5.2"/><circle cx="550.6" cy="1075.4" r="5.2"/><circle cx="564.0" cy="1089.5" r="5.2"/><circle cx="562.4" cy="993.9" r="5.2"/><circle cx="547.0" cy="987.5" r="5.2"/><circle cx="558.2" cy="975.0" r="5.2"/><circle cx="546.5" cy="1019.3" r="5.2"/><circle cx="565.8" cy="1064.0" r="5.2"/><circle cx="552.5" cy="1007.9" r="5.2"/><circle cx="552.6" cy="1098.9" r="5.2"/><circle cx="558.9" cy="1098.5" r="5.2"/><circle cx="555.6" cy="1126.2" r="5.2"/><circle cx="552.2" cy="960.5" r="5.2"/><circle cx="548.2" cy="1048.6" r="5.2"/><circle cx="557.2" cy="1112.2" r="5.2"/><circle cx="560.1" cy="1061.7" r="5.2"/><circle cx="554.3" cy="1094.6" r="5.2"/><circle cx="564.8" cy="1033.1" r="5.2"/><circle cx="542.1" cy="1061.3" r="5.2"/><circle cx="563.3" cy="1101.8" r="5.2"/><circle cx="559.0" cy="1029.5" r="5.2"/><circle cx="545.8" cy="1103.5" r="5.2"/><circle cx="552.6" cy="1200.5" r="5.2"/><circle cx="548.3" cy="1112.3" r="5.2"/><circle cx="540.9" cy="1043.2" r="5.2"/><circle cx="560.4" cy="1107.9" r="5.2"/><circle cx="549.3" cy="1096.3" r="5.2"/><circle cx="554.2" cy="1106.5" r="5.2"/><circle cx="554.2" cy="1078.8" r="5.2"/><circle cx="545.7" cy="1062.7" r="5.2"/><circle cx="558.9" cy="1085.5" r="5.2"/><circle cx="558.7" cy="1012.2" r="5.2"/><circle cx="547.9" cy="1067.5" r="5.2"/><circle cx="563.4" cy="987.9" r="5.2"/><circle cx="544.2" cy="986.4" r="5.2"/><circle cx="548.4" cy="1014.6" r="5.2"/><circle cx="563.7" cy="1058.9" r="5.2"/><circle cx="543.5" cy="1023.6" r="5.2"/><circle cx="559.3" cy="1114.5" r="5.2"/><circle cx="552.7" cy="1113.2" r="5.2"/><circle cx="555.4" cy="959.4" r="5.2"/><circle cx="563.2" cy="1048.5" r="5.2"/><circle cx="545.8" cy="968.3" r="5.2"/><circle cx="567.1" cy="1045.8" r="5.2"/><circle cx="549.9" cy="1121.1" r="5.2"/><circle cx="565.7" cy="1054.8" r="5.2"/><circle cx="559.5" cy="980.3" r="5.2"/><circle cx="553.7" cy="1020.2" r="5.2"/><circle cx="547.8" cy="1124.9" r="5.2"/><circle cx="540.4" cy="1100.2" r="5.2"/><circle cx="552.9" cy="1063.5" r="5.2"/><circle cx="563.2" cy="1079.3" r="5.2"/><circle cx="559.5" cy="1046.5" r="5.2"/><circle cx="555.3" cy="1014.6" r="5.2"/><circle cx="541.1" cy="987.7" r="5.2"/><circle cx="537.9" cy="1036.3" r="5.2"/><circle cx="559.8" cy="1104.6" r="5.2"/><circle cx="547.4" cy="1057.8" r="5.2"/><circle cx="556.4" cy="1118.7" r="5.2"/><circle cx="561.0" cy="1093.5" r="5.2"/><circle cx="551.5" cy="977.5" r="5.2"/><circle cx="552.2" cy="1200.5" r="5.2"/><circle cx="555.8" cy="952.3" r="5.2"/><circle cx="548.5" cy="1041.9" r="5.2"/><circle cx="551.3" cy="1130.2" r="5.2"/><circle cx="556.6" cy="978.3" r="5.2"/><circle cx="551.9" cy="1010.9" r="5.2"/><circle cx="561.2" cy="1052.9" r="5.2"/><circle cx="553.6" cy="955.9" r="5.2"/><circle cx="562.3" cy="1087.9" r="5.2"/><circle cx="548.4" cy="950.4" r="5.2"/><circle cx="541.7" cy="1033.8" r="5.2"/><circle cx="553.3" cy="975.7" r="5.2"/><circle cx="562.2" cy="1013.9" r="5.2"/><circle cx="553.5" cy="1091.4" r="5.2"/><circle cx="564.1" cy="1015.7" r="5.2"/><circle cx="553.3" cy="1074.5" r="5.2"/><circle cx="552.8" cy="1028.1" r="5.2"/><circle cx="544.7" cy="1087.5" r="5.2"/><circle cx="560.7" cy="990.8" r="5.2"/><circle cx="551.7" cy="1085.3" r="5.2"/><circle cx="541.3" cy="1089.5" r="5.2"/><circle cx="539.0" cy="1075.0" r="5.2"/><circle cx="546.2" cy="972.9" r="5.2"/><circle cx="539.7" cy="1091.5" r="5.2"/><circle cx="540.7" cy="997.9" r="5.2"/><circle cx="555.6" cy="972.9" r="5.2"/><circle cx="545.0" cy="1013.1" r="5.2"/><circle cx="550.4" cy="1036.6" r="5.2"/><circle cx="558.7" cy="1066.3" r="5.2"/><circle cx="545.5" cy="960.7" r="5.2"/><circle cx="565.1" cy="1008.5" r="5.2"/><circle cx="548.6" cy="961.9" r="5.2"/><circle cx="557.6" cy="989.1" r="5.2"/><circle cx="547.6" cy="1116.8" r="5.2"/><circle cx="557.8" cy="1076.1" r="5.2"/><circle cx="559.0" cy="1005.9" r="5.2"/><circle cx="554.2" cy="983.1" r="5.2"/><circle cx="546.6" cy="1091.4" r="5.2"/><circle cx="546.4" cy="1053.5" r="5.2"/><circle cx="549.0" cy="1025.9" r="5.2"/><circle cx="555.6" cy="984.5" r="5.2"/><circle cx="557.1" cy="1016.9" r="5.2"/><circle cx="548.9" cy="960.1" r="5.2"/><circle cx="558.1" cy="1036.8" r="5.2"/><circle cx="557.7" cy="1093.0" r="5.2"/><circle cx="553.3" cy="997.0" r="5.2"/><circle cx="543.6" cy="1106.6" r="5.2"/><circle cx="541.1" cy="1095.7" r="5.2"/><circle cx="550.9" cy="955.2" r="5.2"/><circle cx="557.1" cy="1033.8" r="5.2"/><circle cx="560.4" cy="1090.3" r="5.2"/><circle cx="553.3" cy="1036.1" r="5.2"/><circle cx="562.4" cy="1095.9" r="5.2"/><circle cx="561.6" cy="976.6" r="5.2"/><circle cx="555.1" cy="1068.2" r="5.2"/><circle cx="559.5" cy="968.4" r="5.2"/><circle cx="540.2" cy="1058.6" r="5.2"/><circle cx="552.4" cy="1082.5" r="5.2"/><circle cx="555.7" cy="1004.7" r="5.2"/><circle cx="555.6" cy="961.5" r="5.2"/><circle cx="549.2" cy="1004.3" r="5.2"/><circle cx="557.5" cy="1051.1" r="5.2"/><circle cx="549.7" cy="1070.2" r="5.2"/><circle cx="563.8" cy="1041.1" r="5.2"/><circle cx="539.2" cy="1020.5" r="5.2"/><circle cx="555.7" cy="1049.8" r="5.2"/><circle cx="550.3" cy="1108.8" r="5.2"/><circle cx="553.0" cy="1131.9" r="5.2"/><circle cx="557.2" cy="999.6" r="5.2"/><circle cx="546.3" cy="1098.7" r="5.2"/><circle cx="554.8" cy="992.7" r="5.2"/><circle cx="545.6" cy="1035.0" r="5.2"/><circle cx="554.1" cy="1003.2" r="5.2"/><circle cx="556.0" cy="1079.9" r="5.2"/><circle cx="559.5" cy="996.1" r="5.2"/><circle cx="539.8" cy="1032.9" r="5.2"/><circle cx="562.0" cy="1057.1" r="5.2"/><circle cx="549.4" cy="1033.6" r="5.2"/><circle cx="550.1" cy="1050.7" r="5.2"/><circle cx="547.0" cy="996.9" r="5.2"/><circle cx="548.8" cy="980.3" r="5.2"/><circle cx="538.5" cy="1064.0" r="5.2"/><circle cx="547.2" cy="1024.2" r="5.2"/><circle cx="539.1" cy="1054.5" r="5.2"/><circle cx="549.2" cy="1059.2" r="5.2"/><circle cx="550.1" cy="1016.8" r="5.2"/><circle cx="551.7" cy="988.2" r="5.2"/><circle cx="558.2" cy="1022.4" r="5.2"/><circle cx="561.0" cy="1034.9" r="5.2"/><circle cx="540.8" cy="1069.3" r="5.2"/><circle cx="555.8" cy="1097.0" r="5.2"/><circle cx="552.7" cy="922.7" r="5.2"/><circle cx="553.8" cy="1054.5" r="5.2"/><circle cx="543.1" cy="1090.2" r="5.2"/><circle cx="539.2" cy="1008.2" r="5.2"/><circle cx="543.7" cy="1030.0" r="5.2"/><circle cx="545.2" cy="1082.1" r="5.2"/><circle cx="559.9" cy="1044.2" r="5.2"/><circle cx="562.2" cy="1067.5" r="5.2"/><circle cx="539.8" cy="1079.1" r="5.2"/><circle cx="566.0" cy="1084.3" r="5.2"/><circle cx="545.9" cy="1006.8" r="5.2"/><circle cx="551.5" cy="1200.5" r="5.2"/></g><g fill="#E377C2" stroke="#E377C2"><circle cx="593.7" cy="1123.8" r="5.2"/><circle cx="590.5" cy="1086.3" r="5.2"/><circle cx="595.3" cy="1079.9" r="5.2"/><circle cx="596.7" cy="1082.0" r="5.2"/><circle cx="598.2" cy="1054.8" r="5.2"/><circle cx="589.1" cy="1091.0" r="5.2"/><circle cx="596.0" cy="1027.9" r="5.2"/><circle cx="588.8" cy="1078.5" r="5.2"/><circle cx="597.4" cy="1049.4" r="5.2"/><circle cx="592.6" cy="1092.9" r="5.2"/><circle cx="592.2" cy="1031.7" r="5.2"/><circle cx="588.6" cy="1062.3" r="5.2"/><circle cx="596.9" cy="1033.5" r="5.2"/><circle cx="590.2" cy="1032.4" r="5.2"/><circle cx="591.3" cy="1097.3" r="5.2"/><circle cx="592.7" cy="1034.5" r="5.2"/><circle cx="608.6" cy="1200.5" r="5.2"/><circle cx="597.0" cy="1060.4" r="5.2"/><circle cx="593.3" cy="1026.0" r="5.2"/><circle cx="588.8" cy="1102.1" r="5.2"/><circle cx="593.6" cy="1126.5" r="5.2"/><circle cx="588.9" cy="1043.1" r="5.2"/><circle cx="596.1" cy="1048.9" r="5.2"/><circle cx="595.8" cy="1118.1" r="5.2"/><circle cx="590.3" cy="1064.7" r="5.2"/><circle cx="589.5" cy="1053.9" r="5.2"/><circle cx="592.8" cy="1056.5" r="5.2"/><circle cx="596.0" cy="1129.9" r="5.2"/><circle cx="591.0" cy="1082.6" r="5.2"/><circle cx="591.5" cy="1027.5" r="5.2"/><circle cx="592.4" cy="1022.6" r="5.2"/><circle cx="593.1" cy="1106.7" r="5.2"/><circle cx="590.6" cy="1024.9" r="5.2"/><circle cx="598.2" cy="1091.2" r="5.2"/><circle cx="579.0" cy="1200.5" r="5.2"/><circle cx="594.2" cy="1062.0" r="5.2"/><circle cx="595.2" cy="1129.5" r="5.2"/><circle cx="578.5" cy="1200.5" r="5.2"/><circle cx="595.5" cy="1107.7" r="5.2"/><circle cx="588.1" cy="1083.2" r="5.2"/><circle cx="590.9" cy="1049.0" r="5.2"/><circle cx="591.4" cy="1060.6" r="5.2"/><circle cx="594.0" cy="1099.8" r="5.2"/><circle cx="592.2" cy="1049.8" r="5.2"/><circle cx="598.2" cy="1078.8" r="5.2"/><circle cx="598.8" cy="1063.2" r="5.2"/><circle cx="596.6" cy="1110.6" r="5.2"/><circle cx="599.1" cy="1083.7" r="5.2"/><circle cx="589.6" cy="1081.9" r="5.2"/><circle cx="598.2" cy="1104.3" r="5.2"/><circle cx="597.6" cy="1086.4" r="5.2"/><circle cx="590.1" cy="1059.1" r="5.2"/><circle cx="593.5" cy="1043.6" r="5.2"/><circle cx="589.9" cy="1096.1" r="5.2"/><circle cx="596.7" cy="1025.0" r="5.2"/><circle cx="602.1" cy="1200.5" r="5.2"/><circle cx="601.3" cy="1200.5" r="5.2"/><circle cx="595.0" cy="1026.1" r="5.2"/><circle cx="597.0" cy="1114.4" r="5.2"/><circle cx="596.1" cy="1039.6" r="5.2"/><circle cx="598.4" cy="1043.5" r="5.2"/><circle cx="596.0" cy="1064.3" r="5.2"/><circle cx="607.8" cy="1200.5" r="5.2"/><circle cx="594.8" cy="1036.2" r="5.2"/><circle cx="591.7" cy="1073.6" r="5.2"/><circle cx="589.7" cy="1113.2" r="5.2"/><circle cx="591.4" cy="1040.5" r="5.2"/><circle cx="608.1" cy="1200.5" r="5.2"/><circle cx="590.7" cy="1109.3" r="5.2"/><circle cx="590.3" cy="1039.0" r="5.2"/><circle cx="605.2" cy="1200.5" r="5.2"/><circle cx="591.9" cy="1111.8" r="5.2"/><circle cx="579.2" cy="1200.5" r="5.2"/><circle cx="583.3" cy="1200.5" r="5.2"/><circle cx="595.6" cy="1058.1" r="5.2"/><circle cx="593.2" cy="1063.3" r="5.2"/><circle cx="592.0" cy="1129.9" r="5.2"/><circle cx="604.7" cy="1200.5" r="5.2"/><circle cx="590.0" cy="1124.1" r="5.2"/><circle cx="582.8" cy="1200.5" r="5.2"/><circle cx="593.9" cy="1024.1" r="5.2"/><circle cx="591.9" cy="1088.3" r="5.2"/><circle cx="603.3" cy="1200.5" r="5.2"/><circle cx="594.2" cy="1032.0" r="5.2"/><circle cx="595.4" cy="1094.1" r="5.2"/><circle cx="597.1" cy="1126.5" r="5.2"/><circle cx="598.9" cy="1200.5" r="5.2"/><circle cx="586.2" cy="1200.5" r="5.2"/><circle cx="593.9" cy="1082.7" r="5.2"/><circle cx="596.5" cy="1200.5" r="5.2"/><circle cx="592.4" cy="1079.6" r="5.2"/><circle cx="587.4" cy="1200.5" r="5.2"/><circle cx="590.8" cy="1200.5" r="5.2"/><circle cx="584.3" cy="1200.5" r="5.2"/><circle cx="589.1" cy="1200.5" r="5.2"/><circle cx="594.6" cy="1075.2" r="5.2"/><circle cx="590.5" cy="1117.6" r="5.2"/><circle cx="579.7" cy="1200.5" r="5.2"/><circle cx="594.3" cy="1112.3" r="5.2"/><circle cx="592.0" cy="1200.5" r="5.2"/><circle cx="606.6" cy="1200.5" r="5.2"/><circle cx="591.7" cy="1120.7" r="5.2"/><circle cx="578.7" cy="1200.5" r="5.2"/><circle cx="601.6" cy="1200.5" r="5.2"/><circle cx="596.8" cy="1200.5" r="5.2"/><circle cx="606.4" cy="1200.5" r="5.2"/><circle cx="594.8" cy="1114.8" r="5.2"/><circle cx="579.4" cy="1200.5" r="5.2"/><circle cx="594.7" cy="1088.7" r="5.2"/><circle cx="598.0" cy="1200.5" r="5.2"/><circle cx="597.4" cy="1066.4" r="5.2"/><circle cx="592.6" cy="1114.5" r="5.2"/><circle cx="592.4" cy="1200.5" r="5.2"/><circle cx="593.3" cy="1084.0" r="5.2"/><circle cx="593.9" cy="1200.5" r="5.2"/><circle cx="608.3" cy="1200.5" r="5.2"/><circle cx="593.8" cy="1041.7" r="5.2"/><circle cx="594.3" cy="1133.5" r="5.2"/><circle cx="592.9" cy="1132.8" r="5.2"/><circle cx="596.7" cy="1096.9" r="5.2"/><circle cx="581.9" cy="1200.5" r="5.2"/><circle cx="598.7" cy="1200.5" r="5.2"/><circle cx="596.2" cy="1085.4" r="5.2"/><circle cx="585.9" cy="1200.5" r="5.2"/><circle cx="594.9" cy="1053.8" r="5.2"/></g><g fill="#F7B6D2" stroke="#F7B6D2"><circle cx="620.2" cy="1200.5" r="5.2"/><circle cx="625.5" cy="1200.5" r="5.2"/><circle cx="621.1" cy="1200.5" r="5.2"/><circle cx="623.6" cy="1200.5" r="5.2"/><circle cx="633.7" cy="1200.5" r="5.2"/><circle cx="625.0" cy="1200.5" r="5.2"/><circle cx="639.4" cy="1200.5" r="5.2"/><circle cx="621.6" cy="1200.5" r="5.2"/><circle cx="634.9" cy="1046.3" r="5.2"/><circle cx="635.6" cy="1200.5" r="5.2"/><circle cx="633.2" cy="1200.5" r="5.2"/><circle cx="641.8" cy="1200.5" r="5.2"/><circle cx="628.8" cy="1200.5" r="5.2"/><circle cx="640.9" cy="1200.5" r="5.2"/><circle cx="644.7" cy="1200.5" r="5.2"/><circle cx="626.0" cy="1200.5" r="5.2"/><circle cx="640.4" cy="1200.5" r="5.2"/><circle cx="622.6" cy="1200.5" r="5.2"/><circle cx="648.6" cy="1200.5" r="5.2"/><circle cx="647.1" cy="1200.5" r="5.2"/><circle cx="648.1" cy="1200.5" r="5.2"/><circle cx="628.4" cy="1200.5" r="5.2"/><circle cx="622.1" cy="1200.5" r="5.2"/><circle cx="632.2" cy="1200.5" r="5.2"/><circle cx="649.5" cy="1200.5" r="5.2"/><circle cx="631.3" cy="1200.5" r="5.2"/><circle cx="646.7" cy="1200.5" r="5.2"/><circle cx="644.2" cy="1200.5" r="5.2"/><circle cx="641.4" cy="1200.5" r="5.2"/><circle cx="649.1" cy="1200.5" r="5.2"/><circle cx="636.5" cy="1200.5" r="5.2"/><circle cx="630.3" cy="1200.5" r="5.2"/><circle cx="637.0" cy="1200.5" r="5.2"/><circle cx="620.7" cy="1200.5" r="5.2"/></g><g fill="#7F7F7F" stroke="#7F7F7F"><circle cx="691.0" cy="1200.5" r="5.2"/><circle cx="676.4" cy="1137.9" r="5.2"/><circle cx="676.5" cy="1163.3" r="5.2"/><circle cx="676.7" cy="1167.7" r="5.2"/><circle cx="661.4" cy="1200.5" r="5.2"/><circle cx="661.9" cy="1200.5" r="5.2"/><circle cx="680.4" cy="1200.5" r="5.2"/><circle cx="663.6" cy="1200.5" r="5.2"/><circle cx="676.5" cy="1118.6" r="5.2"/><circle cx="690.5" cy="1200.5" r="5.2"/><circle cx="670.3" cy="1200.5" r="5.2"/><circle cx="664.1" cy="1200.5" r="5.2"/><circle cx="686.4" cy="1200.5" r="5.2"/><circle cx="682.3" cy="1200.5" r="5.2"/><circle cx="671.0" cy="1200.5" r="5.2"/><circle cx="676.9" cy="1155.8" r="5.2"/><circle cx="673.2" cy="1200.5" r="5.2"/><circle cx="672.0" cy="1200.5" r="5.2"/><circle cx="684.3" cy="1200.5" r="5.2"/><circle cx="691.5" cy="1200.5" r="5.2"/><circle cx="665.7" cy="1200.5" r="5.2"/><circle cx="690.3" cy="1200.5" r="5.2"/><circle cx="665.5" cy="1200.5" r="5.2"/><circle cx="673.9" cy="1200.5" r="5.2"/><circle cx="667.2" cy="1200.5" r="5.2"/><circle cx="668.4" cy="1200.5" r="5.2"/><circle cx="675.8" cy="1200.5" r="5.2"/><circle cx="685.7" cy="1200.5" r="5.2"/><circle cx="676.7" cy="1099.2" r="5.2"/><circle cx="661.6" cy="1200.5" r="5.2"/><circle cx="691.2" cy="1200.5" r="5.2"/><circle cx="676.6" cy="1122.3" r="5.2"/><circle cx="679.7" cy="1200.5" r="5.2"/><circle cx="666.9" cy="1200.5" r="5.2"/><circle cx="681.6" cy="1200.5" r="5.2"/><circle cx="689.3" cy="1200.5" r="5.2"/><circle cx="674.6" cy="1200.5" r="5.2"/><circle cx="678.5" cy="1200.5" r="5.2"/><circle cx="666.0" cy="1200.5" r="5.2"/><circle cx="688.1" cy="1200.5" r="5.2"/><circle cx="683.5" cy="1200.5" r="5.2"/><circle cx="677.3" cy="1200.5" r="5.2"/><circle cx="662.1" cy="1200.5" r="5.2"/><circle cx="676.8" cy="1200.5" r="5.2"/><circle cx="684.5" cy="1200.5" r="5.2"/></g><g fill="#C7C7C7" stroke="#C7C7C7"><circle cx="725.7" cy="1200.5" r="5.2"/><circle cx="731.5" cy="1200.5" r="5.2"/><circle cx="703.6" cy="1200.5" r="5.2"/><circle cx="729.6" cy="1200.5" r="5.2"/><circle cx="712.3" cy="1200.5" r="5.2"/><circle cx="723.8" cy="1200.5" r="5.2"/><circle cx="722.8" cy="1200.5" r="5.2"/><circle cx="708.4" cy="1200.5" r="5.2"/><circle cx="726.7" cy="1200.5" r="5.2"/><circle cx="716.1" cy="1200.5" r="5.2"/><circle cx="719.0" cy="1200.5" r="5.2"/><circle cx="718.4" cy="851.2" r="5.2"/><circle cx="710.3" cy="1200.5" r="5.2"/><circle cx="711.3" cy="1200.5" r="5.2"/><circle cx="705.5" cy="1200.5" r="5.2"/><circle cx="715.1" cy="1200.5" r="5.2"/><circle cx="730.5" cy="1200.5" r="5.2"/><circle cx="720.0" cy="1200.5" r="5.2"/><circle cx="727.7" cy="1200.5" r="5.2"/><circle cx="714.2" cy="1200.5" r="5.2"/><circle cx="704.6" cy="1200.5" r="5.2"/><circle cx="717.7" cy="1084.3" r="5.2"/><circle cx="706.5" cy="1200.5" r="5.2"/><circle cx="721.9" cy="1200.5" r="5.2"/><circle cx="718.0" cy="1200.5" r="5.2"/><circle cx="707.4" cy="1200.5" r="5.2"/></g><g fill="#1F77B4" stroke="#1F77B4"><circle cx="776.7" cy="1101.1" r="5.2"/><circle cx="791.8" cy="1064.2" r="5.2"/><circle cx="787.8" cy="1087.0" r="5.2"/><circle cx="795.6" cy="1051.2" r="5.2"/><circle cx="793.7" cy="1024.5" r="5.2"/><circle cx="790.0" cy="1069.8" r="5.2"/><circle cx="768.9" cy="1018.6" r="5.2"/><circle cx="777.1" cy="959.1" r="5.2"/><circle cx="781.0" cy="909.3" r="5.2"/><circle cx="792.6" cy="997.8" r="5.2"/><circle cx="782.4" cy="1131.6" r="5.2"/><circle cx="773.5" cy="1200.5" r="5.2"/><circle cx="778.5" cy="1103.2" r="5.2"/><circle cx="780.7" cy="890.0" r="5.2"/><circle cx="782.2" cy="951.1" r="5.2"/><circle cx="767.2" cy="1035.2" r="5.2"/><circle cx="794.1" cy="1061.0" r="5.2"/><circle cx="780.5" cy="925.7" r="5.2"/><circle cx="781.8" cy="1130.0" r="5.2"/><circle cx="770.9" cy="998.8" r="5.2"/><circle cx="768.7" cy="1058.2" r="5.2"/><circle cx="792.2" cy="1001.5" r="5.2"/><circle cx="780.6" cy="1136.4" r="5.2"/><circle cx="788.7" cy="1068.9" r="5.2"/><circle cx="774.3" cy="1098.8" r="5.2"/><circle cx="770.6" cy="1020.1" r="5.2"/><circle cx="784.7" cy="960.3" r="5.2"/><circle cx="795.6" cy="1040.5" r="5.2"/><circle cx="786.1" cy="977.2" r="5.2"/><circle cx="780.5" cy="939.0" r="5.2"/><circle cx="768.6" cy="1065.8" r="5.2"/><circle cx="791.7" cy="1042.2" r="5.2"/><circle cx="783.6" cy="1127.2" r="5.2"/><circle cx="777.0" cy="1110.9" r="5.2"/><circle cx="767.8" cy="1007.5" r="5.2"/><circle cx="778.0" cy="964.4" r="5.2"/><circle cx="787.6" cy="974.6" r="5.2"/><circle cx="785.3" cy="1114.3" r="5.2"/><circle cx="769.2" cy="1054.2" r="5.2"/><circle cx="790.4" cy="1062.0" r="5.2"/><circle cx="769.5" cy="1028.8" r="5.2"/><circle cx="780.6" cy="960.4" r="5.2"/><circle cx="789.0" cy="1074.1" r="5.2"/><circle cx="791.2" cy="990.4" r="5.2"/><circle cx="792.2" cy="1072.5" r="5.2"/><circle cx="781.0" cy="1135.3" r="5.2"/><circle cx="767.2" cy="1060.5" r="5.2"/><circle cx="778.4" cy="1112.5" r="5.2"/><circle cx="792.7" cy="1023.6" r="5.2"/><circle cx="771.2" cy="1005.5" r="5.2"/><circle cx="780.6" cy="1114.9" r="5.2"/><circle cx="784.5" cy="965.6" r="5.2"/><circle cx="783.4" cy="1111.7" r="5.2"/><circle cx="770.8" cy="995.8" r="5.2"/><circle cx="792.6" cy="1049.3" r="5.2"/><circle cx="780.9" cy="1113.6" r="5.2"/><circle cx="779.7" cy="1122.1" r="5.2"/><circle cx="776.1" cy="1113.8" r="5.2"/><circle cx="773.8" cy="974.3" r="5.2"/><circle cx="779.5" cy="938.7" r="5.2"/><circle cx="787.0" cy="1079.2" r="5.2"/><circle cx="774.0" cy="980.8" r="5.2"/><circle cx="778.9" cy="1131.1" r="5.2"/><circle cx="769.8" cy="1063.5" r="5.2"/><circle cx="782.1" cy="1110.8" r="5.2"/><circle cx="792.1" cy="1028.6" r="5.2"/><circle cx="794.1" cy="1034.1" r="5.2"/><circle cx="772.6" cy="1076.8" r="5.2"/><circle cx="787.6" cy="979.5" r="5.2"/><circle cx="789.8" cy="1044.5" r="5.2"/><circle cx="795.1" cy="1035.8" r="5.2"/><circle cx="774.2" cy="1078.9" r="5.2"/><circle cx="785.5" cy="1088.9" r="5.2"/><circle cx="774.6" cy="1094.6" r="5.2"/><circle cx="770.6" cy="1059.2" r="5.2"/><circle cx="785.1" cy="1107.3" r="5.2"/><circle cx="790.1" cy="981.9" r="5.2"/><circle cx="774.2" cy="1200.5" r="5.2"/><circle cx="780.9" cy="952.4" r="5.2"/><circle cx="768.2" cy="1037.5" r="5.2"/><circle cx="773.3" cy="1086.1" r="5.2"/><circle cx="788.1" cy="984.1" r="5.2"/><circle cx="793.7" cy="1007.5" r="5.2"/><circle cx="777.9" cy="1123.8" r="5.2"/><circle cx="774.5" cy="1200.5" r="5.2"/><circle cx="785.7" cy="968.3" r="5.2"/><circle cx="774.7" cy="1200.5" r="5.2"/><circle cx="781.6" cy="1106.0" r="5.2"/><circle cx="781.9" cy="977.9" r="5.2"/><circle cx="779.5" cy="952.1" r="5.2"/><circle cx="768.6" cy="1043.5" r="5.2"/><circle cx="778.6" cy="1119.8" r="5.2"/><circle cx="779.5" cy="1096.0" r="5.2"/><circle cx="783.9" cy="975.7" r="5.2"/><circle cx="766.2" cy="1039.6" r="5.2"/><circle cx="777.7" cy="972.8" r="5.2"/><circle cx="792.2" cy="1058.2" r="5.2"/><circle cx="784.6" cy="1077.5" r="5.2"/><circle cx="776.8" cy="1079.4" r="5.2"/><circle cx="781.6" cy="1122.4" r="5.2"/><circle cx="771.7" cy="1064.8" r="5.2"/><circle cx="778.7" cy="1034.2" r="5.2"/><circle cx="793.6" cy="1044.1" r="5.2"/><circle cx="774.4" cy="1044.5" r="5.2"/><circle cx="769.1" cy="1071.9" r="5.2"/><circle cx="771.8" cy="1070.5" r="5.2"/><circle cx="788.2" cy="1000.3" r="5.2"/><circle cx="782.0" cy="939.0" r="5.2"/><circle cx="780.4" cy="1007.7" r="5.2"/><circle cx="769.7" cy="1050.1" r="5.2"/><circle cx="793.3" cy="1014.6" r="5.2"/><circle cx="773.8" cy="1200.5" r="5.2"/><circle cx="782.8" cy="1117.6" r="5.2"/><circle cx="776.0" cy="972.1" r="5.2"/><circle cx="792.1" cy="1032.2" r="5.2"/><circle cx="773.1" cy="979.4" r="5.2"/><circle cx="784.9" cy="1098.0" r="5.2"/><circle cx="789.9" cy="1077.2" r="5.2"/><circle cx="765.6" cy="1031.1" r="5.2"/><circle cx="769.0" cy="997.6" r="5.2"/><circle cx="787.0" cy="1061.4" r="5.2"/><circle cx="787.0" cy="1084.8" r="5.2"/><circle cx="788.9" cy="1012.7" r="5.2"/><circle cx="772.1" cy="1081.7" r="5.2"/><circle cx="767.7" cy="1028.1" r="5.2"/><circle cx="779.1" cy="966.0" r="5.2"/><circle cx="781.9" cy="966.0" r="5.2"/><circle cx="773.0" cy="1061.6" r="5.2"/><circle cx="788.4" cy="1029.1" r="5.2"/><circle cx="787.0" cy="1098.9" r="5.2"/><circle cx="790.5" cy="1010.2" r="5.2"/><circle cx="783.0" cy="1018.2" r="5.2"/><circle cx="767.8" cy="1049.0" r="5.2"/><circle cx="782.3" cy="1085.5" r="5.2"/><circle cx="787.1" cy="1008.1" r="5.2"/><circle cx="790.8" cy="1004.3" r="5.2"/><circle cx="770.7" cy="1024.1" r="5.2"/><circle cx="786.9" cy="1046.7" r="5.2"/><circle cx="776.2" cy="981.2" r="5.2"/><circle cx="792.4" cy="1065.8" r="5.2"/><circle cx="789.1" cy="1024.1" r="5.2"/><circle cx="785.7" cy="992.1" r="5.2"/><circle cx="794.6" cy="1045.7" r="5.2"/><circle cx="774.2" cy="1059.7" r="5.2"/><circle cx="783.0" cy="971.3" r="5.2"/><circle cx="786.3" cy="1073.4" r="5.2"/><circle cx="791.9" cy="1018.9" r="5.2"/><circle cx="783.8" cy="1200.5" r="5.2"/><circle cx="780.6" cy="1073.1" r="5.2"/><circle cx="787.3" cy="1200.5" r="5.2"/><circle cx="774.9" cy="1034.8" r="5.2"/><circle cx="769.2" cy="1033.7" r="5.2"/><circle cx="783.7" cy="1120.3" r="5.2"/><circle cx="783.3" cy="1076.5" r="5.2"/><circle cx="776.3" cy="966.4" r="5.2"/><circle cx="779.5" cy="1056.6" r="5.2"/><circle cx="794.2" cy="1056.5" r="5.2"/><circle cx="767.0" cy="1024.4" r="5.2"/><circle cx="785.0" cy="999.5" r="5.2"/><circle cx="784.8" cy="1082.8" r="5.2"/><circle cx="773.1" cy="984.9" r="5.2"/><circle cx="768.9" cy="1023.6" r="5.2"/><circle cx="789.7" cy="985.8" r="5.2"/><circle cx="791.7" cy="1053.1" r="5.2"/><circle cx="779.4" cy="1002.6" r="5.2"/><circle cx="784.2" cy="1053.6" r="5.2"/><circle cx="785.4" cy="1023.8" r="5.2"/><circle cx="782.8" cy="962.6" r="5.2"/><circle cx="779.3" cy="1066.7" r="5.2"/><circle cx="777.7" cy="1058.4" r="5.2"/><circle cx="780.7" cy="1031.3" r="5.2"/><circle cx="786.9" cy="1070.6" r="5.2"/><circle cx="781.3" cy="943.8" r="5.2"/><circle cx="787.9" cy="1042.0" r="5.2"/><circle cx="775.4" cy="1084.6" r="5.2"/><circle cx="774.9" cy="1073.5" r="5.2"/><circle cx="787.6" cy="997.3" r="5.2"/><circle cx="790.5" cy="995.9" r="5.2"/><circle cx="777.8" cy="1098.3" r="5.2"/><circle cx="773.9" cy="1038.4" r="5.2"/><circle cx="781.1" cy="1051.0" r="5.2"/><circle cx="773.5" cy="1050.5" r="5.2"/><circle cx="790.8" cy="1022.7" r="5.2"/><circle cx="774.9" cy="1071.3" r="5.2"/><circle cx="776.3" cy="1091.5" r="5.2"/><circle cx="772.2" cy="997.2" r="5.2"/><circle cx="777.8" cy="1004.6" r="5.2"/><circle cx="775.6" cy="1200.5" r="5.2"/><circle cx="787.2" cy="986.9" r="5.2"/><circle cx="788.9" cy="1089.5" r="5.2"/><circle cx="793.5" cy="1054.7" r="5.2"/><circle cx="768.3" cy="1014.6" r="5.2"/><circle cx="780.3" cy="1128.4" r="5.2"/><circle cx="793.2" cy="1037.6" r="5.2"/><circle cx="771.9" cy="1012.5" r="5.2"/><circle cx="779.9" cy="991.3" r="5.2"/><circle cx="788.4" cy="1020.4" r="5.2"/><circle cx="782.7" cy="1027.5" r="5.2"/><circle cx="780.0" cy="1099.4" r="5.2"/><circle cx="783.8" cy="1010.8" r="5.2"/><circle cx="791.2" cy="1037.3" r="5.2"/><circle cx="774.7" cy="1088.8" r="5.2"/><circle cx="782.3" cy="1056.1" r="5.2"/><circle cx="786.4" cy="1200.5" r="5.2"/><circle cx="772.6" cy="1016.3" r="5.2"/><circle cx="769.6" cy="1004.0" r="5.2"/><circle cx="784.9" cy="1059.1" r="5.2"/><circle cx="775.8" cy="983.2" r="5.2"/><circle cx="775.2" cy="1200.5" r="5.2"/><circle cx="770.3" cy="1011.5" r="5.2"/><circle cx="771.5" cy="981.7" r="5.2"/><circle cx="784.9" cy="972.8" r="5.2"/><circle cx="789.7" cy="1055.3" r="5.2"/><circle cx="775.8" cy="1037.4" r="5.2"/><circle cx="772.2" cy="1056.8" r="5.2"/><circle cx="766.7" cy="1045.2" r="5.2"/><circle cx="782.6" cy="1034.9" r="5.2"/><circle cx="779.7" cy="1132.1" r="5.2"/><circle cx="781.8" cy="1000.9" r="5.2"/><circle cx="774.2" cy="986.2" r="5.2"/><circle cx="779.0" cy="1024.6" r="5.2"/><circle cx="777.7" cy="977.9" r="5.2"/><circle cx="790.0" cy="1016.9" r="5.2"/><circle cx="772.7" cy="1089.4" r="5.2"/><circle cx="788.7" cy="1050.4" r="5.2"/><circle cx="772.5" cy="1042.0" r="5.2"/><circle cx="775.4" cy="1200.5" r="5.2"/><circle cx="777.8" cy="1070.1" r="5.2"/><circle cx="785.5" cy="1037.9" r="5.2"/><circle cx="770.2" cy="1069.7" r="5.2"/><circle cx="775.9" cy="1057.4" r="5.2"/><circle cx="787.8" cy="1200.5" r="5.2"/><circle cx="777.7" cy="1019.3" r="5.2"/><circle cx="779.1" cy="1200.5" r="5.2"/><circle cx="785.7" cy="1067.4" r="5.2"/><circle cx="784.5" cy="996.6" r="5.2"/><circle cx="785.9" cy="1044.3" r="5.2"/><circle cx="786.5" cy="1091.6" r="5.2"/><circle cx="767.5" cy="1056.3" r="5.2"/><circle cx="775.8" cy="1106.4" r="5.2"/><circle cx="771.1" cy="1034.7" r="5.2"/><circle cx="778.0" cy="1200.5" r="5.2"/><circle cx="789.7" cy="1082.2" r="5.2"/><circle cx="784.0" cy="1200.5" r="5.2"/><circle cx="776.6" cy="1062.9" r="5.2"/><circle cx="782.2" cy="1200.5" r="5.2"/><circle cx="779.7" cy="1035.9" r="5.2"/><circle cx="774.5" cy="1005.7" r="5.2"/><circle cx="795.9" cy="1031.3" r="5.2"/><circle cx="786.8" cy="1200.5" r="5.2"/><circle cx="782.8" cy="1136.0" r="5.2"/><circle cx="766.0" cy="1051.2" r="5.2"/><circle cx="781.7" cy="1200.5" r="5.2"/><circle cx="779.0" cy="950.1" r="5.2"/><circle cx="783.6" cy="1023.6" r="5.2"/><circle cx="789.1" cy="1003.7" r="5.2"/><circle cx="778.3" cy="1044.1" r="5.2"/><circle cx="778.6" cy="980.2" r="5.2"/><circle cx="782.9" cy="995.2" r="5.2"/><circle cx="782.1" cy="1044.8" r="5.2"/><circle cx="766.9" cy="1021.0" r="5.2"/><circle cx="792.3" cy="1011.7" r="5.2"/><circle cx="778.9" cy="1200.5" r="5.2"/><circle cx="785.5" cy="981.0" r="5.2"/><circle cx="787.0" cy="1096.0" r="5.2"/><circle cx="784.9" cy="1102.4" r="5.2"/><circle cx="784.8" cy="1019.3" r="5.2"/><circle cx="772.9" cy="1003.4" r="5.2"/><circle cx="778.1" cy="1023.8" r="5.2"/><circle cx="770.9" cy="990.1" r="5.2"/><circle cx="773.0" cy="1068.1" r="5.2"/><circle cx="781.8" cy="1024.4" r="5.2"/><circle cx="775.5" cy="1000.7" r="5.2"/><circle cx="774.1" cy="992.7" r="5.2"/><circle cx="788.4" cy="1065.0" r="5.2"/><circle cx="779.5" cy="1109.5" r="5.2"/><circle cx="775.2" cy="997.3" r="5.2"/><circle cx="778.6" cy="1054.8" r="5.2"/><circle cx="779.4" cy="985.9" r="5.2"/><circle cx="781.0" cy="937.1" r="5.2"/><circle cx="779.5" cy="1015.4" r="5.2"/><circle cx="775.9" cy="1097.2" r="5.2"/><circle cx="779.2" cy="1045.8" r="5.2"/><circle cx="781.3" cy="1020.8" r="5.2"/><circle cx="791.2" cy="998.9" r="5.2"/><circle cx="790.2" cy="1027.0" r="5.2"/><circle cx="770.1" cy="1038.2" r="5.2"/><circle cx="783.6" cy="1200.5" r="5.2"/><circle cx="778.7" cy="1135.9" r="5.2"/><circle cx="779.0" cy="1087.6" r="5.2"/><circle cx="784.5" cy="986.1" r="5.2"/><circle cx="769.1" cy="1000.9" r="5.2"/><circle cx="790.5" cy="1057.0" r="5.2"/><circle cx="777.8" cy="1084.8" r="5.2"/><circle cx="770.6" cy="1044.3" r="5.2"/><circle cx="794.3" cy="1021.2" r="5.2"/></g><g fill="#AEC7E8" stroke="#AEC7E8"><circle cx="822.4" cy="1116.6" r="5.2"/><circle cx="822.8" cy="1117.6" r="5.2"/><circle cx="822.6" cy="1113.9" r="5.2"/><circle cx="822.3" cy="1148.6" r="5.2"/><circle cx="821.8" cy="1120.1" r="5.2"/><circle cx="822.5" cy="1132.3" r="5.2"/><circle cx="822.7" cy="1115.7" r="5.2"/><circle cx="822.8" cy="1134.6" r="5.2"/><circle cx="821.8" cy="1131.8" r="5.2"/><circle cx="822.8" cy="1123.9" r="5.2"/><circle cx="822.3" cy="1127.5" r="5.2"/><circle cx="822.7" cy="1096.3" r="5.2"/><circle cx="821.7" cy="1127.6" r="5.2"/><circle cx="822.2" cy="1060.5" r="5.2"/><circle cx="822.2" cy="1009.1" r="5.2"/><circle cx="822.3" cy="1073.6" r="5.2"/><circle cx="822.2" cy="1113.4" r="5.2"/><circle cx="822.6" cy="1094.3" r="5.2"/><circle cx="822.2" cy="1057.5" r="5.2"/><circle cx="822.3" cy="1095.1" r="5.2"/><circle cx="821.9" cy="1121.7" r="5.2"/><circle cx="822.7" cy="1104.4" r="5.2"/><circle cx="822.7" cy="1130.1" r="5.2"/><circle cx="822.2" cy="995.7" r="5.2"/><circle cx="822.1" cy="1131.0" r="5.2"/><circle cx="822.1" cy="1148.2" r="5.2"/><circle cx="822.8" cy="1107.4" r="5.2"/><circle cx="822.2" cy="1053.0" r="5.2"/><circle cx="822.6" cy="1121.1" r="5.2"/><circle cx="822.0" cy="1136.7" r="5.2"/><circle cx="822.2" cy="1028.5" r="5.2"/><circle cx="822.4" cy="1107.8" r="5.2"/><circle cx="822.3" cy="1106.5" r="5.2"/><circle cx="822.6" cy="1138.4" r="5.2"/><circle cx="822.6" cy="1099.6" r="5.2"/><circle cx="821.6" cy="1123.6" r="5.2"/><circle cx="822.2" cy="1103.1" r="5.2"/><circle cx="826.6" cy="1185.6" r="5.2"/><circle cx="822.3" cy="1146.0" r="5.2"/><circle cx="822.6" cy="1108.4" r="5.2"/><circle cx="822.3" cy="1043.4" r="5.2"/><circle cx="822.1" cy="1095.1" r="5.2"/><circle cx="821.8" cy="1114.7" r="5.2"/><circle cx="822.0" cy="1149.8" r="5.2"/><circle cx="822.0" cy="1100.5" r="5.2"/><circle cx="822.6" cy="1146.2" r="5.2"/><circle cx="822.1" cy="1107.5" r="5.2"/><circle cx="821.9" cy="1108.5" r="5.2"/><circle cx="822.4" cy="1087.8" r="5.2"/><circle cx="821.8" cy="1125.5" r="5.2"/><circle cx="822.4" cy="1097.5" r="5.2"/><circle cx="821.9" cy="1097.8" r="5.2"/><circle cx="822.5" cy="1125.4" r="5.2"/><circle cx="837.6" cy="1200.5" r="5.2"/><circle cx="822.1" cy="1088.3" r="5.2"/><circle cx="821.7" cy="1102.8" r="5.2"/><circle cx="822.3" cy="1109.7" r="5.2"/><circle cx="822.8" cy="1102.9" r="5.2"/><circle cx="822.0" cy="1146.0" r="5.2"/><circle cx="837.4" cy="1200.5" r="5.2"/><circle cx="837.1" cy="1200.5" r="5.2"/><circle cx="821.9" cy="1132.4" r="5.2"/><circle cx="822.0" cy="1116.2" r="5.2"/><circle cx="822.2" cy="1097.3" r="5.2"/><circle cx="822.4" cy="1131.6" r="5.2"/><circle cx="822.7" cy="1125.9" r="5.2"/><circle cx="837.1" cy="1200.5" r="5.2"/><circle cx="822.1" cy="1144.2" r="5.2"/><circle cx="822.5" cy="1119.7" r="5.2"/><circle cx="821.7" cy="1134.2" r="5.2"/><circle cx="821.6" cy="1110.1" r="5.2"/><circle cx="822.5" cy="1147.0" r="5.2"/><circle cx="822.9" cy="1111.3" r="5.2"/><circle cx="821.7" cy="1107.2" r="5.2"/><circle cx="822.5" cy="1135.0" r="5.2"/><circle cx="837.2" cy="1200.5" r="5.2"/><circle cx="807.1" cy="1200.5" r="5.2"/><circle cx="822.3" cy="1100.9" r="5.2"/><circle cx="821.7" cy="1108.0" r="5.2"/><circle cx="822.1" cy="1119.2" r="5.2"/><circle cx="822.2" cy="1085.8" r="5.2"/><circle cx="822.0" cy="1146.4" r="5.2"/><circle cx="807.0" cy="1200.5" r="5.2"/><circle cx="836.3" cy="1200.5" r="5.2"/><circle cx="834.9" cy="1200.5" r="5.2"/><circle cx="822.2" cy="1124.5" r="5.2"/><circle cx="817.8" cy="1200.5" r="5.2"/><circle cx="822.3" cy="1123.4" r="5.2"/><circle cx="836.1" cy="1200.5" r="5.2"/><circle cx="819.0" cy="1200.5" r="5.2"/><circle cx="821.9" cy="1096.1" r="5.2"/><circle cx="817.4" cy="1200.5" r="5.2"/><circle cx="824.5" cy="1200.5" r="5.2"/><circle cx="822.2" cy="1134.9" r="5.2"/><circle cx="834.3" cy="1200.5" r="5.2"/><circle cx="829.6" cy="1200.5" r="5.2"/><circle cx="807.2" cy="1200.5" r="5.2"/><circle cx="834.0" cy="1200.5" r="5.2"/><circle cx="820.7" cy="1200.5" r="5.2"/><circle cx="822.0" cy="1200.5" r="5.2"/><circle cx="834.1" cy="1200.5" r="5.2"/><circle cx="820.3" cy="1200.5" r="5.2"/><circle cx="825.2" cy="1200.5" r="5.2"/><circle cx="829.5" cy="1200.5" r="5.2"/><circle cx="834.5" cy="1200.5" r="5.2"/><circle cx="826.8" cy="1200.5" r="5.2"/><circle cx="811.0" cy="1200.5" r="5.2"/><circle cx="826.1" cy="1200.5" r="5.2"/><circle cx="822.0" cy="1126.5" r="5.2"/><circle cx="813.6" cy="1200.5" r="5.2"/><circle cx="808.9" cy="1200.5" r="5.2"/><circle cx="809.1" cy="1200.5" r="5.2"/><circle cx="832.4" cy="1200.5" r="5.2"/><circle cx="815.5" cy="1200.5" r="5.2"/><circle cx="822.5" cy="1103.5" r="5.2"/><circle cx="821.7" cy="1117.2" r="5.2"/><circle cx="822.4" cy="1200.5" r="5.2"/><circle cx="814.8" cy="1200.5" r="5.2"/><circle cx="814.6" cy="1200.5" r="5.2"/><circle cx="814.6" cy="1200.5" r="5.2"/><circle cx="816.2" cy="1200.5" r="5.2"/><circle cx="836.4" cy="1200.5" r="5.2"/><circle cx="808.2" cy="1200.5" r="5.2"/><circle cx="816.1" cy="1200.5" r="5.2"/><circle cx="821.8" cy="1103.7" r="5.2"/><circle cx="831.4" cy="1200.5" r="5.2"/><circle cx="829.2" cy="1200.5" r="5.2"/><circle cx="810.4" cy="1200.5" r="5.2"/><circle cx="812.9" cy="1200.5" r="5.2"/></g><g fill="#FF7F0E" stroke="#FF7F0E"><circle cx="863.5" cy="1131.7" r="5.2"/><circle cx="863.8" cy="1181.1" r="5.2"/><circle cx="863.6" cy="1106.2" r="5.2"/><circle cx="864.1" cy="1119.6" r="5.2"/><circle cx="863.9" cy="1123.9" r="5.2"/><circle cx="863.3" cy="1127.2" r="5.2"/><circle cx="863.8" cy="1105.0" r="5.2"/><circle cx="863.9" cy="1106.1" r="5.2"/><circle cx="863.9" cy="1111.4" r="5.2"/><circle cx="863.7" cy="1155.8" r="5.2"/><circle cx="863.7" cy="1149.9" r="5.2"/><circle cx="863.8" cy="1131.0" r="5.2"/><circle cx="863.6" cy="1123.1" r="5.2"/><circle cx="863.7" cy="1118.2" r="5.2"/><circle cx="863.7" cy="1125.8" r="5.2"/><circle cx="863.8" cy="1110.9" r="5.2"/><circle cx="863.4" cy="1111.3" r="5.2"/><circle cx="863.7" cy="1115.0" r="5.2"/><circle cx="863.5" cy="1105.7" r="5.2"/><circle cx="863.3" cy="1122.3" r="5.2"/><circle cx="863.7" cy="1057.5" r="5.2"/><circle cx="863.7" cy="1107.6" r="5.2"/><circle cx="863.6" cy="1120.0" r="5.2"/><circle cx="864.0" cy="1109.0" r="5.2"/><circle cx="863.6" cy="1109.2" r="5.2"/><circle cx="863.2" cy="1116.2" r="5.2"/><circle cx="863.4" cy="1119.6" r="5.2"/><circle cx="863.7" cy="1068.7" r="5.2"/><circle cx="863.7" cy="1164.8" r="5.2"/><circle cx="863.8" cy="1120.7" r="5.2"/><circle cx="879.0" cy="1200.5" r="5.2"/><circle cx="863.4" cy="1107.6" r="5.2"/><circle cx="863.9" cy="1131.9" r="5.2"/><circle cx="864.1" cy="1128.1" r="5.2"/><circle cx="878.9" cy="1200.5" r="5.2"/><circle cx="864.1" cy="1122.9" r="5.2"/><circle cx="864.0" cy="1124.1" r="5.2"/><circle cx="863.5" cy="1125.7" r="5.2"/><circle cx="863.5" cy="1112.4" r="5.2"/><circle cx="863.9" cy="1118.6" r="5.2"/><circle cx="848.3" cy="1200.5" r="5.2"/><circle cx="879.0" cy="1200.5" r="5.2"/><circle cx="863.7" cy="1088.1" r="5.2"/><circle cx="863.7" cy="1129.5" r="5.2"/><circle cx="878.3" cy="1200.5" r="5.2"/><circle cx="848.7" cy="1200.5" r="5.2"/><circle cx="878.6" cy="1200.5" r="5.2"/><circle cx="863.7" cy="1044.9" r="5.2"/><circle cx="854.8" cy="1200.5" r="5.2"/><circle cx="857.4" cy="1200.5" r="5.2"/><circle cx="855.0" cy="1200.5" r="5.2"/><circle cx="857.7" cy="1200.5" r="5.2"/><circle cx="848.5" cy="1200.5" r="5.2"/><circle cx="855.0" cy="1200.5" r="5.2"/><circle cx="865.3" cy="1200.5" r="5.2"/><circle cx="850.3" cy="1200.5" r="5.2"/><circle cx="878.0" cy="1200.5" r="5.2"/><circle cx="869.0" cy="1200.5" r="5.2"/><circle cx="866.0" cy="1200.5" r="5.2"/><circle cx="860.9" cy="1200.5" r="5.2"/><circle cx="861.2" cy="1200.5" r="5.2"/><circle cx="872.0" cy="1200.5" r="5.2"/><circle cx="876.9" cy="1200.5" r="5.2"/><circle cx="859.8" cy="1200.5" r="5.2"/><circle cx="871.5" cy="1200.5" r="5.2"/><circle cx="878.4" cy="1200.5" r="5.2"/><circle cx="852.3" cy="1200.5" r="5.2"/><circle cx="853.1" cy="1200.5" r="5.2"/><circle cx="858.0" cy="1200.5" r="5.2"/><circle cx="866.7" cy="1200.5" r="5.2"/><circle cx="875.0" cy="1200.5" r="5.2"/><circle cx="869.6" cy="1200.5" r="5.2"/><circle cx="848.7" cy="1200.5" r="5.2"/><circle cx="876.7" cy="1200.5" r="5.2"/><circle cx="862.7" cy="1200.5" r="5.2"/><circle cx="850.7" cy="1200.5" r="5.2"/><circle cx="863.4" cy="1123.9" r="5.2"/><circle cx="868.7" cy="1200.5" r="5.2"/><circle cx="864.2" cy="1117.6" r="5.2"/><circle cx="862.3" cy="1200.5" r="5.2"/><circle cx="863.0" cy="1200.5" r="5.2"/><circle cx="872.7" cy="1200.5" r="5.2"/><circle cx="873.1" cy="1200.5" r="5.2"/><circle cx="875.8" cy="1200.5" r="5.2"/><circle cx="850.3" cy="1200.5" r="5.2"/></g><g fill="#FFBB78" stroke="#FFBB78"><circle cx="891.7" cy="1200.5" r="5.2"/><circle cx="909.5" cy="1200.5" r="5.2"/><circle cx="911.9" cy="1200.5" r="5.2"/><circle cx="905.7" cy="1081.3" r="5.2"/><circle cx="897.9" cy="1200.5" r="5.2"/><circle cx="905.0" cy="1158.8" r="5.2"/><circle cx="899.9" cy="1200.5" r="5.2"/><circle cx="890.2" cy="1200.5" r="5.2"/><circle cx="905.3" cy="1040.4" r="5.2"/><circle cx="894.1" cy="1200.5" r="5.2"/><circle cx="917.7" cy="1200.5" r="5.2"/><circle cx="896.0" cy="1200.5" r="5.2"/><circle cx="907.6" cy="1200.5" r="5.2"/><circle cx="903.2" cy="1200.5" r="5.2"/><circle cx="898.4" cy="1200.5" r="5.2"/><circle cx="919.6" cy="1200.5" r="5.2"/><circle cx="905.6" cy="1200.5" r="5.2"/><circle cx="901.3" cy="1200.5" r="5.2"/><circle cx="910.0" cy="1200.5" r="5.2"/><circle cx="907.1" cy="1200.5" r="5.2"/><circle cx="895.5" cy="1200.5" r="5.2"/><circle cx="896.5" cy="1200.5" r="5.2"/><circle cx="904.8" cy="1096.2" r="5.2"/><circle cx="892.2" cy="1200.5" r="5.2"/><circle cx="901.8" cy="1200.5" r="5.2"/><circle cx="906.0" cy="1142.4" r="5.2"/><circle cx="900.3" cy="1200.5" r="5.2"/><circle cx="904.3" cy="1130.5" r="5.2"/><circle cx="917.2" cy="1200.5" r="5.2"/><circle cx="912.9" cy="1200.5" r="5.2"/><circle cx="902.3" cy="1200.5" r="5.2"/><circle cx="904.6" cy="1074.6" r="5.2"/><circle cx="911.4" cy="1200.5" r="5.2"/><circle cx="890.7" cy="1200.5" r="5.2"/><circle cx="914.8" cy="1200.5" r="5.2"/><circle cx="904.2" cy="1200.5" r="5.2"/><circle cx="918.6" cy="1200.5" r="5.2"/><circle cx="894.6" cy="1200.5" r="5.2"/><circle cx="906.1" cy="1200.5" r="5.2"/><circle cx="905.2" cy="1111.1" r="5.2"/><circle cx="913.3" cy="1200.5" r="5.2"/></g><g fill="#2CA02C" stroke="#2CA02C"><circle cx="952.1" cy="1104.2" r="5.2"/><circle cx="950.9" cy="1100.4" r="5.2"/><circle cx="943.4" cy="1077.9" r="5.2"/><circle cx="946.7" cy="957.0" r="5.2"/><circle cx="943.0" cy="1125.3" r="5.2"/><circle cx="944.8" cy="1052.1" r="5.2"/><circle cx="951.5" cy="1097.3" r="5.2"/><circle cx="961.9" cy="1200.5" r="5.2"/><circle cx="949.9" cy="1084.3" r="5.2"/><circle cx="943.3" cy="1072.1" r="5.2"/><circle cx="942.6" cy="1081.9" r="5.2"/><circle cx="951.0" cy="1113.9" r="5.2"/><circle cx="950.0" cy="1109.9" r="5.2"/><circle cx="942.3" cy="1106.5" r="5.2"/><circle cx="948.9" cy="1070.5" r="5.2"/><circle cx="943.3" cy="1098.6" r="5.2"/><circle cx="951.0" cy="1092.7" r="5.2"/><circle cx="944.5" cy="1076.1" r="5.2"/><circle cx="950.1" cy="1127.3" r="5.2"/><circle cx="941.2" cy="1104.0" r="5.2"/><circle cx="950.6" cy="1128.2" r="5.2"/><circle cx="951.3" cy="1126.7" r="5.2"/><circle cx="947.5" cy="1059.3" r="5.2"/><circle cx="947.9" cy="1067.3" r="5.2"/><circle cx="947.3" cy="1040.2" r="5.2"/><circle cx="948.4" cy="1063.4" r="5.2"/><circle cx="945.2" cy="1064.2" r="5.2"/><circle cx="961.8" cy="1200.5" r="5.2"/><circle cx="949.0" cy="1090.1" r="5.2"/><circle cx="950.4" cy="1078.1" r="5.2"/><circle cx="950.6" cy="1085.9" r="5.2"/><circle cx="941.8" cy="1120.7" r="5.2"/><circle cx="946.8" cy="1064.4" r="5.2"/><circle cx="942.3" cy="1123.1" r="5.2"/><circle cx="949.4" cy="1130.9" r="5.2"/><circle cx="943.8" cy="1130.7" r="5.2"/><circle cx="950.4" cy="1123.8" r="5.2"/><circle cx="944.6" cy="1073.8" r="5.2"/><circle cx="949.5" cy="1066.1" r="5.2"/><circle cx="942.6" cy="1074.0" r="5.2"/><circle cx="948.4" cy="1134.4" r="5.2"/><circle cx="942.7" cy="1131.7" r="5.2"/><circle cx="950.3" cy="1117.6" r="5.2"/><circle cx="946.1" cy="1056.7" r="5.2"/><circle cx="942.6" cy="1085.6" r="5.2"/><circle cx="944.0" cy="1103.5" r="5.2"/><circle cx="946.5" cy="1039.7" r="5.2"/><circle cx="944.4" cy="1069.4" r="5.2"/><circle cx="941.8" cy="1089.4" r="5.2"/><circle cx="948.7" cy="1075.7" r="5.2"/><circle cx="944.2" cy="1134.4" r="5.2"/><circle cx="951.4" cy="1108.8" r="5.2"/><circle cx="942.5" cy="1091.6" r="5.2"/><circle cx="942.8" cy="1114.9" r="5.2"/><circle cx="943.2" cy="1087.1" r="5.2"/><circle cx="943.9" cy="1083.5" r="5.2"/><circle cx="943.5" cy="1121.9" r="5.2"/><circle cx="942.6" cy="1103.1" r="5.2"/><circle cx="948.3" cy="1129.6" r="5.2"/><circle cx="945.2" cy="1070.7" r="5.2"/><circle cx="945.7" cy="1072.3" r="5.2"/><circle cx="941.9" cy="1126.6" r="5.2"/><circle cx="961.5" cy="1200.5" r="5.2"/><circle cx="943.7" cy="1072.6" r="5.2"/><circle cx="949.8" cy="1122.4" r="5.2"/><circle cx="943.6" cy="1065.2" r="5.2"/><circle cx="931.3" cy="1200.5" r="5.2"/><circle cx="949.5" cy="1072.2" r="5.2"/><circle cx="944.2" cy="1127.1" r="5.2"/><circle cx="947.6" cy="1072.5" r="5.2"/><circle cx="946.1" cy="1021.5" r="5.2"/><circle cx="945.4" cy="1100.9" r="5.2"/><circle cx="948.5" cy="1054.2" r="5.2"/><circle cx="945.5" cy="1077.2" r="5.2"/><circle cx="946.8" cy="1142.1" r="5.2"/><circle cx="949.8" cy="1095.3" r="5.2"/><circle cx="947.8" cy="1036.8" r="5.2"/><circle cx="943.8" cy="1080.6" r="5.2"/><circle cx="949.1" cy="1125.9" r="5.2"/><circle cx="946.7" cy="1032.1" r="5.2"/><circle cx="943.1" cy="1142.8" r="5.2"/><circle cx="941.6" cy="1110.8" r="5.2"/><circle cx="950.3" cy="1090.6" r="5.2"/><circle cx="941.4" cy="1115.9" r="5.2"/><circle cx="950.7" cy="1105.8" r="5.2"/><circle cx="943.9" cy="1139.5" r="5.2"/><circle cx="951.7" cy="1110.8" r="5.2"/><circle cx="948.7" cy="1140.8" r="5.2"/><circle cx="945.0" cy="1117.7" r="5.2"/><circle cx="941.9" cy="1099.7" r="5.2"/><circle cx="961.7" cy="1200.5" r="5.2"/><circle cx="950.7" cy="1132.1" r="5.2"/><circle cx="947.7" cy="1127.5" r="5.2"/><circle cx="941.7" cy="1096.8" r="5.2"/><circle cx="943.9" cy="1090.2" r="5.2"/><circle cx="951.2" cy="1121.0" r="5.2"/><circle cx="943.1" cy="1128.2" r="5.2"/><circle cx="947.0" cy="1023.1" r="5.2"/><circle cx="961.3" cy="1200.5" r="5.2"/><circle cx="947.1" cy="1096.0" r="5.2"/><circle cx="949.8" cy="1138.4" r="5.2"/><circle cx="944.9" cy="1141.0" r="5.2"/><circle cx="948.6" cy="1073.1" r="5.2"/><circle cx="943.3" cy="1137.5" r="5.2"/><circle cx="945.8" cy="1041.4" r="5.2"/><circle cx="945.4" cy="1124.9" r="5.2"/><circle cx="943.1" cy="1094.3" r="5.2"/><circle cx="945.7" cy="1119.6" r="5.2"/><circle cx="943.7" cy="1105.7" r="5.2"/><circle cx="947.1" cy="1071.1" r="5.2"/><circle cx="948.1" cy="1086.3" r="5.2"/><circle cx="945.4" cy="1127.3" r="5.2"/><circle cx="931.3" cy="1200.5" r="5.2"/><circle cx="948.2" cy="1101.5" r="5.2"/><circle cx="946.2" cy="1025.9" r="5.2"/><circle cx="951.0" cy="1082.5" r="5.2"/><circle cx="951.7" cy="1117.0" r="5.2"/><circle cx="948.6" cy="1083.0" r="5.2"/><circle cx="949.8" cy="1076.8" r="5.2"/><circle cx="944.5" cy="1062.8" r="5.2"/><circle cx="953.7" cy="1200.5" r="5.2"/><circle cx="946.2" cy="1066.2" r="5.2"/><circle cx="943.0" cy="1109.3" r="5.2"/><circle cx="948.8" cy="1097.6" r="5.2"/><circle cx="946.8" cy="1013.3" r="5.2"/><circle cx="947.0" cy="1047.9" r="5.2"/><circle cx="960.9" cy="1200.5" r="5.2"/><circle cx="948.6" cy="1109.1" r="5.2"/><circle cx="953.0" cy="1200.5" r="5.2"/><circle cx="950.2" cy="1099.1" r="5.2"/><circle cx="944.8" cy="1112.8" r="5.2"/><circle cx="944.1" cy="1115.7" r="5.2"/><circle cx="947.3" cy="1122.8" r="5.2"/><circle cx="959.7" cy="1200.5" r="5.2"/><circle cx="931.7" cy="1200.5" r="5.2"/><circle cx="949.1" cy="1200.5" r="5.2"/><circle cx="951.5" cy="1089.5" r="5.2"/><circle cx="954.9" cy="1200.5" r="5.2"/><circle cx="956.1" cy="1200.5" r="5.2"/><circle cx="947.9" cy="1200.5" r="5.2"/><circle cx="949.4" cy="1135.0" r="5.2"/><circle cx="931.8" cy="1200.5" r="5.2"/><circle cx="946.5" cy="1012.2" r="5.2"/><circle cx="948.2" cy="1114.9" r="5.2"/><circle cx="947.1" cy="1200.5" r="5.2"/><circle cx="932.4" cy="1200.5" r="5.2"/><circle cx="960.6" cy="1200.5" r="5.2"/><circle cx="947.9" cy="1047.6" r="5.2"/><circle cx="948.9" cy="1127.1" r="5.2"/><circle cx="946.7" cy="1126.5" r="5.2"/><circle cx="942.0" cy="1113.5" r="5.2"/><circle cx="950.8" cy="1200.5" r="5.2"/><circle cx="935.5" cy="1200.5" r="5.2"/><circle cx="947.7" cy="1117.9" r="5.2"/><circle cx="949.6" cy="1103.4" r="5.2"/><circle cx="948.9" cy="1112.0" r="5.2"/><circle cx="946.3" cy="1200.5" r="5.2"/><circle cx="944.9" cy="1081.0" r="5.2"/><circle cx="942.4" cy="1117.9" r="5.2"/><circle cx="932.7" cy="1200.5" r="5.2"/><circle cx="933.2" cy="1200.5" r="5.2"/><circle cx="946.0" cy="1047.9" r="5.2"/><circle cx="931.5" cy="1200.5" r="5.2"/><circle cx="955.8" cy="1200.5" r="5.2"/><circle cx="944.4" cy="1088.3" r="5.2"/><circle cx="944.4" cy="1110.4" r="5.2"/><circle cx="950.7" cy="1075.1" r="5.2"/><circle cx="950.1" cy="1142.8" r="5.2"/><circle cx="941.1" cy="1200.5" r="5.2"/><circle cx="935.9" cy="1200.5" r="5.2"/><circle cx="945.5" cy="1033.0" r="5.2"/><circle cx="957.0" cy="1200.5" r="5.2"/><circle cx="950.9" cy="1119.5" r="5.2"/><circle cx="945.7" cy="1086.2" r="5.2"/><circle cx="942.8" cy="1200.5" r="5.2"/><circle cx="945.5" cy="1114.9" r="5.2"/><circle cx="939.0" cy="1200.5" r="5.2"/><circle cx="942.1" cy="1200.5" r="5.2"/><circle cx="961.1" cy="1200.5" r="5.2"/><circle cx="946.5" cy="1105.1" r="5.2"/><circle cx="951.5" cy="1200.5" r="5.2"/><circle cx="955.9" cy="1200.5" r="5.2"/><circle cx="945.8" cy="1200.5" r="5.2"/><circle cx="938.2" cy="1200.5" r="5.2"/><circle cx="937.1" cy="1200.5" r="5.2"/><circle cx="945.3" cy="1136.7" r="5.2"/><circle cx="958.4" cy="1200.5" r="5.2"/><circle cx="935.1" cy="1200.5" r="5.2"/><circle cx="944.8" cy="1122.6" r="5.2"/><circle cx="957.3" cy="1200.5" r="5.2"/><circle cx="937.1" cy="1200.5" r="5.2"/><circle cx="947.1" cy="1131.5" r="5.2"/><circle cx="943.2" cy="1200.5" r="5.2"/><circle cx="949.6" cy="1119.9" r="5.2"/><circle cx="949.3" cy="1200.5" r="5.2"/></g><g fill="#98DF8A" stroke="#98DF8A"><circle cx="1003.1" cy="1200.5" r="5.2"/><circle cx="972.7" cy="1200.5" r="5.2"/><circle cx="1003.2" cy="1200.5" r="5.2"/><circle cx="1002.6" cy="1200.5" r="5.2"/><circle cx="988.0" cy="1169.2" r="5.2"/><circle cx="1002.8" cy="1200.5" r="5.2"/><circle cx="1003.4" cy="1200.5" r="5.2"/><circle cx="1002.3" cy="1200.5" r="5.2"/><circle cx="988.1" cy="1142.4" r="5.2"/><circle cx="988.0" cy="1155.8" r="5.2"/><circle cx="1002.4" cy="1200.5" r="5.2"/><circle cx="988.1" cy="1173.7" r="5.2"/><circle cx="1001.6" cy="1200.5" r="5.2"/><circle cx="988.1" cy="1121.6" r="5.2"/><circle cx="972.9" cy="1200.5" r="5.2"/><circle cx="1001.8" cy="1200.5" r="5.2"/><circle cx="980.4" cy="1200.5" r="5.2"/><circle cx="999.1" cy="1200.5" r="5.2"/><circle cx="988.7" cy="1200.5" r="5.2"/><circle cx="977.1" cy="1200.5" r="5.2"/><circle cx="996.7" cy="1200.5" r="5.2"/><circle cx="979.3" cy="1200.5" r="5.2"/><circle cx="983.5" cy="1200.5" r="5.2"/><circle cx="986.3" cy="1200.5" r="5.2"/><circle cx="984.6" cy="1200.5" r="5.2"/><circle cx="983.4" cy="1200.5" r="5.2"/><circle cx="996.5" cy="1200.5" r="5.2"/><circle cx="987.4" cy="1200.5" r="5.2"/><circle cx="988.2" cy="1163.3" r="5.2"/><circle cx="1000.3" cy="1200.5" r="5.2"/><circle cx="986.6" cy="1200.5" r="5.2"/><circle cx="973.3" cy="1200.5" r="5.2"/><circle cx="997.2" cy="1200.5" r="5.2"/><circle cx="976.0" cy="1200.5" r="5.2"/><circle cx="978.0" cy="1200.5" r="5.2"/><circle cx="995.3" cy="1200.5" r="5.2"/><circle cx="973.7" cy="1200.5" r="5.2"/><circle cx="992.6" cy="1200.5" r="5.2"/><circle cx="994.5" cy="1200.5" r="5.2"/><circle cx="1001.7" cy="1200.5" r="5.2"/><circle cx="1000.8" cy="1200.5" r="5.2"/><circle cx="990.6" cy="1200.5" r="5.2"/><circle cx="989.8" cy="1200.5" r="5.2"/><circle cx="972.8" cy="1200.5" r="5.2"/><circle cx="993.9" cy="1200.5" r="5.2"/><circle cx="989.9" cy="1200.5" r="5.2"/><circle cx="974.2" cy="1200.5" r="5.2"/><circle cx="993.7" cy="1200.5" r="5.2"/><circle cx="1001.1" cy="1200.5" r="5.2"/><circle cx="976.3" cy="1200.5" r="5.2"/><circle cx="981.3" cy="1200.5" r="5.2"/><circle cx="974.4" cy="1200.5" r="5.2"/><circle cx="992.0" cy="1200.5" r="5.2"/><circle cx="973.4" cy="1200.5" r="5.2"/></g><g fill="#D62728" stroke="#D62728"><circle cx="1044.7" cy="1200.5" r="5.2"/><circle cx="1014.4" cy="1200.5" r="5.2"/><circle cx="1044.6" cy="1200.5" r="5.2"/><circle cx="1044.5" cy="1200.5" r="5.2"/><circle cx="1044.1" cy="1200.5" r="5.2"/><circle cx="1014.3" cy="1200.5" r="5.2"/><circle cx="1014.5" cy="1200.5" r="5.2"/><circle cx="1014.9" cy="1200.5" r="5.2"/><circle cx="1015.1" cy="1200.5" r="5.2"/><circle cx="1033.6" cy="1200.5" r="5.2"/><circle cx="1036.4" cy="1200.5" r="5.2"/><circle cx="1017.3" cy="1200.5" r="5.2"/><circle cx="1042.0" cy="1200.5" r="5.2"/><circle cx="1015.3" cy="1200.5" r="5.2"/><circle cx="1015.8" cy="1200.5" r="5.2"/><circle cx="1018.6" cy="1200.5" r="5.2"/><circle cx="1030.5" cy="1200.5" r="5.2"/><circle cx="1025.7" cy="1200.5" r="5.2"/><circle cx="1019.9" cy="1200.5" r="5.2"/><circle cx="1039.8" cy="1200.5" r="5.2"/><circle cx="1016.2" cy="1200.5" r="5.2"/><circle cx="1038.3" cy="1200.5" r="5.2"/><circle cx="1035.3" cy="1200.5" r="5.2"/><circle cx="1027.3" cy="1200.5" r="5.2"/><circle cx="1022.0" cy="1200.5" r="5.2"/><circle cx="1021.4" cy="1200.5" r="5.2"/><circle cx="1037.6" cy="1200.5" r="5.2"/><circle cx="1017.1" cy="1200.5" r="5.2"/><circle cx="1043.7" cy="1200.5" r="5.2"/><circle cx="1029.3" cy="1200.5" r="5.2"/><circle cx="1038.8" cy="1200.5" r="5.2"/><circle cx="1043.5" cy="1200.5" r="5.2"/><circle cx="1031.7" cy="1200.5" r="5.2"/><circle cx="1036.5" cy="1200.5" r="5.2"/><circle cx="1032.9" cy="1200.5" r="5.2"/><circle cx="1014.7" cy="1200.5" r="5.2"/><circle cx="1041.3" cy="1200.5" r="5.2"/><circle cx="1024.5" cy="1200.5" r="5.2"/><circle cx="1026.3" cy="1200.5" r="5.2"/><circle cx="1029.2" cy="1200.5" r="5.2"/><circle cx="1022.9" cy="1200.5" r="5.2"/></g><g fill="#FF9896" stroke="#FF9896"><circle cx="1086.3" cy="1200.5" r="5.2"/><circle cx="1071.0" cy="1136.8" r="5.2"/><circle cx="1071.0" cy="1109.7" r="5.2"/><circle cx="1085.9" cy="1200.5" r="5.2"/><circle cx="1071.1" cy="1108.6" r="5.2"/><circle cx="1086.2" cy="1200.5" r="5.2"/><circle cx="1071.1" cy="1126.4" r="5.2"/><circle cx="1085.6" cy="1200.5" r="5.2"/><circle cx="1070.8" cy="1108.2" r="5.2"/><circle cx="1055.7" cy="1200.5" r="5.2"/><circle cx="1056.2" cy="1200.5" r="5.2"/><circle cx="1056.0" cy="1200.5" r="5.2"/><circle cx="1072.6" cy="1200.5" r="5.2"/><circle cx="1060.6" cy="1200.5" r="5.2"/><circle cx="1083.3" cy="1200.5" r="5.2"/><circle cx="1086.0" cy="1200.5" r="5.2"/><circle cx="1082.8" cy="1200.5" r="5.2"/><circle cx="1077.9" cy="1200.5" r="5.2"/><circle cx="1055.7" cy="1200.5" r="5.2"/><circle cx="1063.3" cy="1200.5" r="5.2"/><circle cx="1070.9" cy="1121.3" r="5.2"/><circle cx="1064.3" cy="1200.5" r="5.2"/><circle cx="1059.1" cy="1200.5" r="5.2"/><circle cx="1066.4" cy="1200.5" r="5.2"/><circle cx="1084.1" cy="1200.5" r="5.2"/><circle cx="1078.7" cy="1200.5" r="5.2"/><circle cx="1070.0" cy="1200.5" r="5.2"/><circle cx="1079.8" cy="1200.5" r="5.2"/><circle cx="1079.1" cy="1200.5" r="5.2"/><circle cx="1058.4" cy="1200.5" r="5.2"/><circle cx="1067.3" cy="1200.5" r="5.2"/><circle cx="1071.0" cy="1119.0" r="5.2"/><circle cx="1070.5" cy="1200.5" r="5.2"/><circle cx="1082.2" cy="1200.5" r="5.2"/><circle cx="1073.8" cy="1200.5" r="5.2"/><circle cx="1075.6" cy="1200.5" r="5.2"/><circle cx="1079.2" cy="1200.5" r="5.2"/><circle cx="1061.4" cy="1200.5" r="5.2"/><circle cx="1074.4" cy="1200.5" r="5.2"/><circle cx="1058.7" cy="1200.5" r="5.2"/><circle cx="1075.1" cy="1200.5" r="5.2"/><circle cx="1081.0" cy="1200.5" r="5.2"/><circle cx="1067.7" cy="1200.5" r="5.2"/><circle cx="1075.7" cy="1200.5" r="5.2"/><circle cx="1082.1" cy="1200.5" r="5.2"/><circle cx="1066.7" cy="1200.5" r="5.2"/><circle cx="1066.2" cy="1200.5" r="5.2"/><circle cx="1056.9" cy="1200.5" r="5.2"/><circle cx="1071.0" cy="1136.9" r="5.2"/><circle cx="1071.0" cy="1200.5" r="5.2"/></g><g fill="#9467BD" stroke="#9467BD"><circle cx="1097.3" cy="1200.5" r="5.2"/><circle cx="1097.4" cy="1200.5" r="5.2"/><circle cx="1127.5" cy="1200.5" r="5.2"/><circle cx="1112.4" cy="1152.8" r="5.2"/><circle cx="1127.3" cy="1200.5" r="5.2"/><circle cx="1126.9" cy="1200.5" r="5.2"/><circle cx="1112.5" cy="1133.5" r="5.2"/><circle cx="1127.4" cy="1200.5" r="5.2"/><circle cx="1112.5" cy="1126.0" r="5.2"/><circle cx="1112.5" cy="1090.3" r="5.2"/><circle cx="1114.1" cy="1200.5" r="5.2"/><circle cx="1110.5" cy="1200.5" r="5.2"/><circle cx="1127.6" cy="1200.5" r="5.2"/><circle cx="1110.0" cy="1200.5" r="5.2"/><circle cx="1113.4" cy="1200.5" r="5.2"/><circle cx="1126.5" cy="1200.5" r="5.2"/><circle cx="1112.1" cy="1200.5" r="5.2"/><circle cx="1112.4" cy="1129.8" r="5.2"/><circle cx="1106.0" cy="1200.5" r="5.2"/><circle cx="1097.5" cy="1200.5" r="5.2"/><circle cx="1116.4" cy="1200.5" r="5.2"/><circle cx="1098.5" cy="1200.5" r="5.2"/><circle cx="1106.3" cy="1200.5" r="5.2"/><circle cx="1101.0" cy="1200.5" r="5.2"/><circle cx="1121.0" cy="1200.5" r="5.2"/><circle cx="1097.2" cy="1200.5" r="5.2"/><circle cx="1108.6" cy="1200.5" r="5.2"/><circle cx="1126.7" cy="1200.5" r="5.2"/><circle cx="1118.0" cy="1200.5" r="5.2"/><circle cx="1103.6" cy="1200.5" r="5.2"/><circle cx="1123.2" cy="1200.5" r="5.2"/><circle cx="1122.8" cy="1200.5" r="5.2"/><circle cx="1118.7" cy="1200.5" r="5.2"/><circle cx="1112.4" cy="1103.7" r="5.2"/><circle cx="1108.2" cy="1200.5" r="5.2"/><circle cx="1126.1" cy="1200.5" r="5.2"/><circle cx="1097.7" cy="1200.5" r="5.2"/><circle cx="1116.9" cy="1200.5" r="5.2"/><circle cx="1115.8" cy="1200.5" r="5.2"/><circle cx="1109.3" cy="1200.5" r="5.2"/><circle cx="1118.6" cy="1200.5" r="5.2"/><circle cx="1121.6" cy="1200.5" r="5.2"/><circle cx="1104.9" cy="1200.5" r="5.2"/><circle cx="1126.4" cy="1200.5" r="5.2"/><circle cx="1109.2" cy="1200.5" r="5.2"/><circle cx="1102.8" cy="1200.5" r="5.2"/><circle cx="1112.5" cy="1161.8" r="5.2"/><circle cx="1102.3" cy="1200.5" r="5.2"/><circle cx="1102.1" cy="1200.5" r="5.2"/><circle cx="1125.0" cy="1200.5" r="5.2"/></g><g fill="#C5B0D5" stroke="#C5B0D5"><circle cx="1154.0" cy="1110.0" r="5.2"/><circle cx="1153.7" cy="1121.8" r="5.2"/><circle cx="1154.0" cy="1121.1" r="5.2"/><circle cx="1153.9" cy="1116.8" r="5.2"/><circle cx="1153.9" cy="1098.4" r="5.2"/><circle cx="1153.8" cy="1106.1" r="5.2"/><circle cx="1154.0" cy="1104.4" r="5.2"/><circle cx="1138.8" cy="1200.5" r="5.2"/><circle cx="1153.9" cy="1075.4" r="5.2"/><circle cx="1169.1" cy="1200.5" r="5.2"/><circle cx="1153.7" cy="1097.1" r="5.2"/><circle cx="1162.5" cy="1200.5" r="5.2"/><circle cx="1160.7" cy="1200.5" r="5.2"/><circle cx="1163.7" cy="1200.5" r="5.2"/><circle cx="1138.6" cy="1200.5" r="5.2"/><circle cx="1169.0" cy="1200.5" r="5.2"/><circle cx="1164.6" cy="1200.5" r="5.2"/><circle cx="1138.9" cy="1200.5" r="5.2"/><circle cx="1141.4" cy="1200.5" r="5.2"/><circle cx="1143.8" cy="1200.5" r="5.2"/><circle cx="1160.1" cy="1200.5" r="5.2"/><circle cx="1164.7" cy="1200.5" r="5.2"/><circle cx="1157.3" cy="1200.5" r="5.2"/><circle cx="1166.4" cy="1200.5" r="5.2"/><circle cx="1165.7" cy="1200.5" r="5.2"/><circle cx="1151.5" cy="1200.5" r="5.2"/><circle cx="1139.2" cy="1200.5" r="5.2"/><circle cx="1166.5" cy="1200.5" r="5.2"/><circle cx="1154.1" cy="1098.2" r="5.2"/><circle cx="1139.8" cy="1200.5" r="5.2"/><circle cx="1147.9" cy="1200.5" r="5.2"/><circle cx="1148.3" cy="1200.5" r="5.2"/><circle cx="1154.8" cy="1200.5" r="5.2"/><circle cx="1145.5" cy="1200.5" r="5.2"/><circle cx="1163.5" cy="1200.5" r="5.2"/><circle cx="1157.8" cy="1200.5" r="5.2"/><circle cx="1146.3" cy="1200.5" r="5.2"/><circle cx="1156.2" cy="1200.5" r="5.2"/><circle cx="1152.5" cy="1200.5" r="5.2"/><circle cx="1149.2" cy="1200.5" r="5.2"/><circle cx="1161.4" cy="1200.5" r="5.2"/><circle cx="1144.7" cy="1200.5" r="5.2"/><circle cx="1141.0" cy="1200.5" r="5.2"/><circle cx="1154.1" cy="1123.3" r="5.2"/><circle cx="1146.6" cy="1200.5" r="5.2"/><circle cx="1159.5" cy="1200.5" r="5.2"/><circle cx="1153.1" cy="1200.5" r="5.2"/><circle cx="1168.4" cy="1200.5" r="5.2"/><circle cx="1154.2" cy="1200.5" r="5.2"/><circle cx="1150.4" cy="1200.5" r="5.2"/><circle cx="1142.5" cy="1200.5" r="5.2"/><circle cx="1153.9" cy="1200.5" r="5.2"/><circle cx="1168.7" cy="1200.5" r="5.2"/></g><g fill="#8C564B" stroke="#8C564B"><circle cx="1210.3" cy="1200.5" r="5.2"/><circle cx="1209.3" cy="1200.5" r="5.2"/><circle cx="1180.9" cy="1200.5" r="5.2"/><circle cx="1195.3" cy="1136.5" r="5.2"/><circle cx="1209.1" cy="1200.5" r="5.2"/><circle cx="1208.9" cy="1200.5" r="5.2"/><circle cx="1187.7" cy="1200.5" r="5.2"/><circle cx="1195.5" cy="1079.9" r="5.2"/><circle cx="1185.3" cy="1200.5" r="5.2"/><circle cx="1207.9" cy="1200.5" r="5.2"/><circle cx="1181.2" cy="1200.5" r="5.2"/><circle cx="1188.6" cy="1200.5" r="5.2"/><circle cx="1209.8" cy="1200.5" r="5.2"/><circle cx="1182.4" cy="1200.5" r="5.2"/><circle cx="1180.2" cy="1200.5" r="5.2"/><circle cx="1190.1" cy="1200.5" r="5.2"/><circle cx="1193.0" cy="1200.5" r="5.2"/><circle cx="1182.1" cy="1200.5" r="5.2"/><circle cx="1206.4" cy="1200.5" r="5.2"/><circle cx="1195.8" cy="1190.1" r="5.2"/><circle cx="1195.6" cy="1200.5" r="5.2"/><circle cx="1194.4" cy="1200.5" r="5.2"/><circle cx="1200.2" cy="1200.5" r="5.2"/><circle cx="1208.4" cy="1200.5" r="5.2"/><circle cx="1184.8" cy="1200.5" r="5.2"/><circle cx="1192.0" cy="1200.5" r="5.2"/><circle cx="1181.9" cy="1200.5" r="5.2"/><circle cx="1180.5" cy="1200.5" r="5.2"/><circle cx="1206.0" cy="1200.5" r="5.2"/><circle cx="1186.7" cy="1200.5" r="5.2"/><circle cx="1197.8" cy="1200.5" r="5.2"/><circle cx="1206.9" cy="1200.5" r="5.2"/><circle cx="1199.7" cy="1200.5" r="5.2"/><circle cx="1205.2" cy="1200.5" r="5.2"/><circle cx="1200.7" cy="1200.5" r="5.2"/><circle cx="1202.6" cy="1200.5" r="5.2"/><circle cx="1193.7" cy="1200.5" r="5.2"/><circle cx="1197.5" cy="1200.5" r="5.2"/><circle cx="1202.1" cy="1200.5" r="5.2"/><circle cx="1203.6" cy="1200.5" r="5.2"/><circle cx="1196.8" cy="1200.5" r="5.2"/><circle cx="1191.5" cy="1200.5" r="5.2"/></g><g fill="#C49C94" stroke="#C49C94"><circle cx="1244.0" cy="1057.5" r="5.2"/><circle cx="1221.7" cy="1200.5" r="5.2"/><circle cx="1244.6" cy="1066.6" r="5.2"/><circle cx="1243.0" cy="1094.5" r="5.2"/><circle cx="1231.9" cy="1054.3" r="5.2"/><circle cx="1231.2" cy="1071.8" r="5.2"/><circle cx="1251.5" cy="1200.5" r="5.2"/><circle cx="1236.8" cy="1039.2" r="5.2"/><circle cx="1235.3" cy="1015.5" r="5.2"/><circle cx="1232.5" cy="1078.5" r="5.2"/><circle cx="1236.5" cy="1113.5" r="5.2"/><circle cx="1231.3" cy="1087.9" r="5.2"/><circle cx="1229.4" cy="1090.7" r="5.2"/><circle cx="1231.0" cy="1043.7" r="5.2"/><circle cx="1243.4" cy="1065.4" r="5.2"/><circle cx="1232.3" cy="1084.7" r="5.2"/><circle cx="1239.4" cy="1014.5" r="5.2"/><circle cx="1235.6" cy="1086.8" r="5.2"/><circle cx="1233.7" cy="1103.6" r="5.2"/><circle cx="1235.6" cy="1023.0" r="5.2"/><circle cx="1231.6" cy="1048.1" r="5.2"/><circle cx="1230.1" cy="1075.7" r="5.2"/><circle cx="1229.5" cy="1066.3" r="5.2"/><circle cx="1230.2" cy="1035.1" r="5.2"/><circle cx="1228.3" cy="1069.8" r="5.2"/><circle cx="1232.0" cy="1091.4" r="5.2"/><circle cx="1230.2" cy="1086.0" r="5.2"/><circle cx="1238.8" cy="1085.9" r="5.2"/><circle cx="1237.0" cy="1078.9" r="5.2"/><circle cx="1221.9" cy="1200.5" r="5.2"/><circle cx="1231.8" cy="1101.9" r="5.2"/><circle cx="1221.6" cy="1200.5" r="5.2"/><circle cx="1230.7" cy="1067.2" r="5.2"/><circle cx="1237.0" cy="940.6" r="5.2"/><circle cx="1240.7" cy="1115.2" r="5.2"/><circle cx="1237.7" cy="1090.0" r="5.2"/><circle cx="1233.7" cy="1049.1" r="5.2"/><circle cx="1241.9" cy="1089.4" r="5.2"/><circle cx="1236.9" cy="1034.5" r="5.2"/><circle cx="1237.1" cy="1109.4" r="5.2"/><circle cx="1229.5" cy="1057.0" r="5.2"/><circle cx="1233.0" cy="1125.1" r="5.2"/><circle cx="1234.0" cy="1055.0" r="5.2"/><circle cx="1241.1" cy="1064.9" r="5.2"/><circle cx="1240.7" cy="1125.5" r="5.2"/><circle cx="1236.2" cy="1052.7" r="5.2"/><circle cx="1228.9" cy="1073.9" r="5.2"/><circle cx="1222.6" cy="1200.5" r="5.2"/><circle cx="1222.9" cy="1200.5" r="5.2"/><circle cx="1242.8" cy="1054.4" r="5.2"/><circle cx="1239.4" cy="1113.6" r="5.2"/><circle cx="1252.0" cy="1200.5" r="5.2"/><circle cx="1251.8" cy="1200.5" r="5.2"/><circle cx="1230.2" cy="1093.3" r="5.2"/><circle cx="1234.1" cy="1091.6" r="5.2"/><circle cx="1233.7" cy="1113.8" r="5.2"/><circle cx="1240.6" cy="1102.9" r="5.2"/><circle cx="1238.9" cy="1099.9" r="5.2"/><circle cx="1238.0" cy="1004.6" r="5.2"/><circle cx="1235.9" cy="1071.1" r="5.2"/><circle cx="1234.8" cy="1007.7" r="5.2"/><circle cx="1243.2" cy="1085.1" r="5.2"/><circle cx="1237.4" cy="1018.3" r="5.2"/><circle cx="1245.6" cy="1082.0" r="5.2"/><circle cx="1237.8" cy="1120.6" r="5.2"/><circle cx="1243.6" cy="1044.3" r="5.2"/><circle cx="1238.4" cy="1055.6" r="5.2"/><circle cx="1222.2" cy="1200.5" r="5.2"/><circle cx="1240.5" cy="1041.8" r="5.2"/><circle cx="1244.2" cy="1086.3" r="5.2"/><circle cx="1228.2" cy="1062.4" r="5.2"/><circle cx="1244.0" cy="1074.1" r="5.2"/><circle cx="1233.6" cy="1033.3" r="5.2"/><circle cx="1241.9" cy="1048.7" r="5.2"/><circle cx="1241.6" cy="1077.6" r="5.2"/><circle cx="1230.6" cy="1058.5" r="5.2"/><circle cx="1233.0" cy="1042.1" r="5.2"/><circle cx="1229.4" cy="1200.5" r="5.2"/><circle cx="1244.3" cy="1200.5" r="5.2"/><circle cx="1239.6" cy="1058.0" r="5.2"/><circle cx="1242.4" cy="1042.1" r="5.2"/><circle cx="1236.6" cy="1084.2" r="5.2"/><circle cx="1233.6" cy="1073.3" r="5.2"/><circle cx="1239.4" cy="1074.7" r="5.2"/><circle cx="1228.0" cy="1079.1" r="5.2"/><circle cx="1222.4" cy="1200.5" r="5.2"/><circle cx="1250.3" cy="1200.5" r="5.2"/><circle cx="1242.9" cy="1072.7" r="5.2"/><circle cx="1232.7" cy="1019.4" r="5.2"/><circle cx="1251.0" cy="1200.5" r="5.2"/><circle cx="1238.2" cy="1023.4" r="5.2"/><circle cx="1237.3" cy="1061.1" r="5.2"/><circle cx="1223.1" cy="1200.5" r="5.2"/><circle cx="1242.2" cy="1091.6" r="5.2"/><circle cx="1230.2" cy="1200.5" r="5.2"/><circle cx="1236.5" cy="1064.3" r="5.2"/><circle cx="1248.6" cy="1200.5" r="5.2"/><circle cx="1240.6" cy="1053.4" r="5.2"/><circle cx="1242.7" cy="1200.5" r="5.2"/><circle cx="1241.9" cy="1060.2" r="5.2"/><circle cx="1251.3" cy="1200.5" r="5.2"/><circle cx="1233.5" cy="1089.4" r="5.2"/><circle cx="1238.7" cy="1042.7" r="5.2"/><circle cx="1244.6" cy="1050.3" r="5.2"/><circle cx="1235.2" cy="1095.1" r="5.2"/><circle cx="1243.6" cy="1035.9" r="5.2"/><circle cx="1225.5" cy="1200.5" r="5.2"/><circle cx="1244.1" cy="1200.5" r="5.2"/><circle cx="1247.4" cy="1200.5" r="5.2"/><circle cx="1229.4" cy="1050.2" r="5.2"/><circle cx="1236.5" cy="999.1" r="5.2"/><circle cx="1235.1" cy="1057.8" r="5.2"/><circle cx="1237.8" cy="1050.1" r="5.2"/><circle cx="1232.0" cy="1200.5" r="5.2"/><circle cx="1242.5" cy="1111.4" r="5.2"/><circle cx="1245.2" cy="1070.1" r="5.2"/><circle cx="1231.8" cy="1065.1" r="5.2"/><circle cx="1223.4" cy="1200.5" r="5.2"/><circle cx="1235.3" cy="1119.6" r="5.2"/><circle cx="1226.0" cy="1200.5" r="5.2"/><circle cx="1240.5" cy="1071.7" r="5.2"/><circle cx="1234.9" cy="1042.2" r="5.2"/><circle cx="1225.0" cy="1200.5" r="5.2"/><circle cx="1248.4" cy="1200.5" r="5.2"/><circle cx="1233.0" cy="1069.1" r="5.2"/><circle cx="1234.9" cy="1200.5" r="5.2"/><circle cx="1248.1" cy="1200.5" r="5.2"/><circle cx="1239.9" cy="1030.0" r="5.2"/><circle cx="1239.5" cy="1200.5" r="5.2"/><circle cx="1230.8" cy="1200.5" r="5.2"/><circle cx="1240.6" cy="1021.2" r="5.2"/><circle cx="1240.2" cy="1091.2" r="5.2"/><circle cx="1235.8" cy="1044.4" r="5.2"/><circle cx="1248.5" cy="1200.5" r="5.2"/><circle cx="1241.0" cy="1084.6" r="5.2"/><circle cx="1227.3" cy="1200.5" r="5.2"/><circle cx="1247.9" cy="1200.5" r="5.2"/><circle cx="1241.6" cy="1200.5" r="5.2"/><circle cx="1244.4" cy="1090.7" r="5.2"/><circle cx="1231.1" cy="1111.1" r="5.2"/><circle cx="1233.5" cy="1200.5" r="5.2"/><circle cx="1240.7" cy="1200.5" r="5.2"/><circle cx="1227.7" cy="1200.5" r="5.2"/><circle cx="1233.0" cy="1200.5" r="5.2"/><circle cx="1235.2" cy="1200.5" r="5.2"/><circle cx="1240.0" cy="1200.5" r="5.2"/><circle cx="1232.6" cy="1027.0" r="5.2"/><circle cx="1245.7" cy="1064.2" r="5.2"/><circle cx="1236.8" cy="1200.5" r="5.2"/><circle cx="1225.8" cy="1200.5" r="5.2"/><circle cx="1238.0" cy="1200.5" r="5.2"/><circle cx="1240.0" cy="1066.9" r="5.2"/><circle cx="1241.9" cy="1200.5" r="5.2"/><circle cx="1233.7" cy="1200.5" r="5.2"/><circle cx="1246.7" cy="1200.5" r="5.2"/></g><g fill="#E377C2" stroke="#E377C2"><circle cx="1293.5" cy="1200.5" r="5.2"/><circle cx="1278.3" cy="1121.6" r="5.2"/><circle cx="1292.7" cy="1200.5" r="5.2"/><circle cx="1263.1" cy="1200.5" r="5.2"/><circle cx="1293.0" cy="1200.5" r="5.2"/><circle cx="1292.5" cy="1200.5" r="5.2"/><circle cx="1293.2" cy="1200.5" r="5.2"/><circle cx="1292.3" cy="1200.5" r="5.2"/><circle cx="1278.3" cy="1044.9" r="5.2"/><circle cx="1290.8" cy="1200.5" r="5.2"/><circle cx="1286.5" cy="1200.5" r="5.2"/><circle cx="1292.4" cy="1200.5" r="5.2"/><circle cx="1263.0" cy="1200.5" r="5.2"/><circle cx="1286.7" cy="1200.5" r="5.2"/><circle cx="1278.3" cy="1130.5" r="5.2"/><circle cx="1290.0" cy="1200.5" r="5.2"/><circle cx="1264.0" cy="1200.5" r="5.2"/><circle cx="1282.7" cy="1200.5" r="5.2"/><circle cx="1263.6" cy="1200.5" r="5.2"/><circle cx="1289.4" cy="1200.5" r="5.2"/><circle cx="1280.3" cy="1200.5" r="5.2"/><circle cx="1285.2" cy="1200.5" r="5.2"/><circle cx="1279.3" cy="1200.5" r="5.2"/><circle cx="1288.0" cy="1200.5" r="5.2"/><circle cx="1280.7" cy="1200.5" r="5.2"/><circle cx="1290.6" cy="1200.5" r="5.2"/><circle cx="1283.3" cy="1200.5" r="5.2"/><circle cx="1284.2" cy="1200.5" r="5.2"/><circle cx="1263.5" cy="1200.5" r="5.2"/><circle cx="1269.9" cy="1200.5" r="5.2"/><circle cx="1278.4" cy="1111.1" r="5.2"/><circle cx="1292.0" cy="1200.5" r="5.2"/><circle cx="1267.2" cy="1200.5" r="5.2"/><circle cx="1275.9" cy="1200.5" r="5.2"/><circle cx="1272.6" cy="1200.5" r="5.2"/><circle cx="1274.9" cy="1200.5" r="5.2"/><circle cx="1277.5" cy="1200.5" r="5.2"/><circle cx="1278.2" cy="1100.7" r="5.2"/><circle cx="1270.8" cy="1200.5" r="5.2"/><circle cx="1280.2" cy="1200.5" r="5.2"/><circle cx="1288.5" cy="1200.5" r="5.2"/><circle cx="1272.2" cy="1200.5" r="5.2"/><circle cx="1289.1" cy="1200.5" r="5.2"/><circle cx="1277.3" cy="1200.5" r="5.2"/><circle cx="1264.8" cy="1200.5" r="5.2"/><circle cx="1266.7" cy="1200.5" r="5.2"/><circle cx="1268.3" cy="1200.5" r="5.2"/></g><g fill="#F7B6D2" stroke="#F7B6D2"><circle cx="1334.2" cy="1200.5" r="5.2"/><circle cx="1333.7" cy="1200.5" r="5.2"/><circle cx="1316.9" cy="1200.5" r="5.2"/><circle cx="1304.8" cy="1200.5" r="5.2"/><circle cx="1311.6" cy="1200.5" r="5.2"/><circle cx="1305.3" cy="1200.5" r="5.2"/><circle cx="1318.8" cy="1200.5" r="5.2"/><circle cx="1307.2" cy="1200.5" r="5.2"/><circle cx="1320.2" cy="1200.5" r="5.2"/><circle cx="1305.8" cy="1200.5" r="5.2"/><circle cx="1308.7" cy="1200.5" r="5.2"/><circle cx="1307.7" cy="1200.5" r="5.2"/><circle cx="1328.4" cy="1200.5" r="5.2"/><circle cx="1306.8" cy="1200.5" r="5.2"/><circle cx="1324.6" cy="1200.5" r="5.2"/><circle cx="1325.5" cy="1200.5" r="5.2"/><circle cx="1318.3" cy="1200.5" r="5.2"/><circle cx="1314.0" cy="1200.5" r="5.2"/><circle cx="1331.8" cy="1200.5" r="5.2"/><circle cx="1312.5" cy="1200.5" r="5.2"/><circle cx="1331.3" cy="1200.5" r="5.2"/><circle cx="1321.7" cy="1200.5" r="5.2"/><circle cx="1327.9" cy="1200.5" r="5.2"/><circle cx="1324.1" cy="1200.5" r="5.2"/><circle cx="1330.8" cy="1200.5" r="5.2"/><circle cx="1313.5" cy="1200.5" r="5.2"/><circle cx="1333.2" cy="1200.5" r="5.2"/><circle cx="1314.9" cy="1200.5" r="5.2"/><circle cx="1309.2" cy="1200.5" r="5.2"/><circle cx="1332.3" cy="1200.5" r="5.2"/><circle cx="1322.2" cy="1200.5" r="5.2"/><circle cx="1326.5" cy="1200.5" r="5.2"/><circle cx="1317.8" cy="1200.5" r="5.2"/><circle cx="1311.1" cy="1200.5" r="5.2"/><circle cx="1327.5" cy="1200.5" r="5.2"/><circle cx="1320.7" cy="1200.5" r="5.2"/></g><g fill="#7F7F7F" stroke="#7F7F7F"><circle cx="1361.6" cy="1155.1" r="5.2"/><circle cx="1376.1" cy="1200.5" r="5.2"/><circle cx="1361.4" cy="1148.0" r="5.2"/><circle cx="1361.3" cy="1160.8" r="5.2"/><circle cx="1375.9" cy="1200.5" r="5.2"/><circle cx="1374.9" cy="1200.5" r="5.2"/><circle cx="1346.1" cy="1200.5" r="5.2"/><circle cx="1346.3" cy="1200.5" r="5.2"/><circle cx="1349.7" cy="1200.5" r="5.2"/><circle cx="1372.0" cy="1200.5" r="5.2"/><circle cx="1375.2" cy="1200.5" r="5.2"/><circle cx="1370.4" cy="1200.5" r="5.2"/><circle cx="1371.3" cy="1200.5" r="5.2"/><circle cx="1354.2" cy="1200.5" r="5.2"/><circle cx="1368.9" cy="1200.5" r="5.2"/><circle cx="1366.3" cy="1200.5" r="5.2"/><circle cx="1361.0" cy="1159.9" r="5.2"/><circle cx="1356.2" cy="1200.5" r="5.2"/><circle cx="1348.9" cy="1200.5" r="5.2"/><circle cx="1351.6" cy="1200.5" r="5.2"/><circle cx="1355.7" cy="1200.5" r="5.2"/><circle cx="1368.4" cy="1200.5" r="5.2"/><circle cx="1346.5" cy="1200.5" r="5.2"/><circle cx="1374.7" cy="1200.5" r="5.2"/><circle cx="1367.2" cy="1200.5" r="5.2"/><circle cx="1355.4" cy="1200.5" r="5.2"/><circle cx="1360.7" cy="1200.5" r="5.2"/><circle cx="1364.6" cy="1200.5" r="5.2"/><circle cx="1361.2" cy="1133.5" r="5.2"/><circle cx="1352.6" cy="1200.5" r="5.2"/><circle cx="1375.7" cy="1200.5" r="5.2"/><circle cx="1361.7" cy="1166.0" r="5.2"/><circle cx="1353.0" cy="1200.5" r="5.2"/><circle cx="1373.5" cy="1200.5" r="5.2"/><circle cx="1364.1" cy="1200.5" r="5.2"/><circle cx="1373.7" cy="1200.5" r="5.2"/><circle cx="1358.8" cy="1200.5" r="5.2"/><circle cx="1359.3" cy="1200.5" r="5.2"/><circle cx="1361.7" cy="1200.5" r="5.2"/><circle cx="1351.8" cy="1200.5" r="5.2"/><circle cx="1347.3" cy="1200.5" r="5.2"/><circle cx="1363.1" cy="1200.5" r="5.2"/><circle cx="1350.9" cy="1200.5" r="5.2"/><circle cx="1360.9" cy="1151.3" r="5.2"/><circle cx="1360.7" cy="1164.8" r="5.2"/><circle cx="1358.1" cy="1200.5" r="5.2"/><circle cx="1365.1" cy="1200.5" r="5.2"/><circle cx="1361.5" cy="1200.5" r="5.2"/><circle cx="1374.2" cy="1200.5" r="5.2"/></g><g fill="#C7C7C7" stroke="#C7C7C7"><circle cx="1405.6" cy="1200.5" r="5.2"/><circle cx="1402.7" cy="1200.5" r="5.2"/><circle cx="1388.2" cy="1200.5" r="5.2"/><circle cx="1412.3" cy="1200.5" r="5.2"/><circle cx="1406.5" cy="1200.5" r="5.2"/><circle cx="1415.2" cy="1200.5" r="5.2"/><circle cx="1414.2" cy="1200.5" r="5.2"/><circle cx="1409.4" cy="1200.5" r="5.2"/><circle cx="1407.5" cy="1200.5" r="5.2"/><circle cx="1416.2" cy="1200.5" r="5.2"/><circle cx="1389.2" cy="1200.5" r="5.2"/><circle cx="1410.4" cy="1200.5" r="5.2"/><circle cx="1413.3" cy="1200.5" r="5.2"/><circle cx="1397.9" cy="1200.5" r="5.2"/><circle cx="1401.7" cy="1200.5" r="5.2"/><circle cx="1390.2" cy="1200.5" r="5.2"/><circle cx="1393.1" cy="1200.5" r="5.2"/><circle cx="1399.8" cy="1200.5" r="5.2"/><circle cx="1391.1" cy="1200.5" r="5.2"/><circle cx="1394.0" cy="1200.5" r="5.2"/><circle cx="1403.6" cy="1200.5" r="5.2"/><circle cx="1395.0" cy="1200.5" r="5.2"/><circle cx="1408.5" cy="1200.5" r="5.2"/><circle cx="1400.8" cy="1200.5" r="5.2"/><circle cx="1396.9" cy="1200.5" r="5.2"/><circle cx="1398.8" cy="1200.5" r="5.2"/></g><g fill="#1F77B4" stroke="#1F77B4"><circle cx="95.3" cy="1742.0" r="5.2"/><circle cx="90.7" cy="1671.0" r="5.2"/><circle cx="94.7" cy="1684.6" r="5.2"/><circle cx="109.5" cy="1628.2" r="5.2"/><circle cx="103.9" cy="1569.1" r="5.2"/><circle cx="84.3" cy="1583.8" r="5.2"/><circle cx="102.4" cy="1567.7" r="5.2"/><circle cx="93.5" cy="1706.6" r="5.2"/><circle cx="108.1" cy="1584.1" r="5.2"/><circle cx="86.5" cy="1655.8" r="5.2"/><circle cx="98.5" cy="1681.8" r="5.2"/><circle cx="96.0" cy="1745.5" r="5.2"/><circle cx="82.5" cy="1618.9" r="5.2"/><circle cx="105.5" cy="1656.8" r="5.2"/><circle cx="106.0" cy="1649.8" r="5.2"/><circle cx="97.9" cy="1707.0" r="5.2"/><circle cx="89.8" cy="1667.4" r="5.2"/><circle cx="95.7" cy="1545.6" r="5.2"/><circle cx="96.0" cy="1715.4" r="5.2"/><circle cx="109.9" cy="1605.7" r="5.2"/><circle cx="95.6" cy="1530.7" r="5.2"/><circle cx="92.1" cy="1556.5" r="5.2"/><circle cx="84.0" cy="1603.2" r="5.2"/><circle cx="101.7" cy="1813.7" r="5.2"/><circle cx="98.7" cy="1700.2" r="5.2"/><circle cx="107.5" cy="1604.2" r="5.2"/><circle cx="90.1" cy="1813.7" r="5.2"/><circle cx="108.7" cy="1626.3" r="5.2"/><circle cx="97.8" cy="1744.6" r="5.2"/><circle cx="93.5" cy="1676.4" r="5.2"/><circle cx="83.6" cy="1622.2" r="5.2"/><circle cx="102.9" cy="1652.1" r="5.2"/><circle cx="82.0" cy="1610.3" r="5.2"/><circle cx="97.0" cy="1538.2" r="5.2"/><circle cx="92.4" cy="1688.0" r="5.2"/><circle cx="103.3" cy="1564.3" r="5.2"/><circle cx="83.4" cy="1600.7" r="5.2"/><circle cx="96.6" cy="1734.0" r="5.2"/><circle cx="87.5" cy="1588.5" r="5.2"/><circle cx="97.0" cy="1623.7" r="5.2"/><circle cx="107.4" cy="1630.5" r="5.2"/><circle cx="97.1" cy="1704.9" r="5.2"/><circle cx="105.0" cy="1585.1" r="5.2"/><circle cx="99.3" cy="1675.9" r="5.2"/><circle cx="109.0" cy="1600.7" r="5.2"/><circle cx="93.3" cy="1666.7" r="5.2"/><circle cx="81.7" cy="1624.1" r="5.2"/><circle cx="85.6" cy="1649.6" r="5.2"/><circle cx="82.8" cy="1613.4" r="5.2"/><circle cx="94.0" cy="1598.8" r="5.2"/><circle cx="91.3" cy="1655.5" r="5.2"/><circle cx="110.0" cy="1634.0" r="5.2"/><circle cx="99.9" cy="1697.3" r="5.2"/><circle cx="90.5" cy="1599.9" r="5.2"/><circle cx="85.7" cy="1604.7" r="5.2"/><circle cx="95.8" cy="1737.4" r="5.2"/><circle cx="100.6" cy="1669.7" r="5.2"/><circle cx="106.9" cy="1625.6" r="5.2"/><circle cx="107.8" cy="1645.0" r="5.2"/><circle cx="104.4" cy="1573.4" r="5.2"/><circle cx="95.5" cy="1729.9" r="5.2"/><circle cx="102.8" cy="1634.7" r="5.2"/><circle cx="86.1" cy="1580.5" r="5.2"/><circle cx="97.3" cy="1670.0" r="5.2"/><circle cx="106.8" cy="1587.4" r="5.2"/><circle cx="92.2" cy="1669.0" r="5.2"/><circle cx="85.6" cy="1577.8" r="5.2"/><circle cx="85.5" cy="1623.3" r="5.2"/><circle cx="86.1" cy="1586.5" r="5.2"/><circle cx="99.1" cy="1813.7" r="5.2"/><circle cx="82.2" cy="1633.9" r="5.2"/><circle cx="107.8" cy="1591.1" r="5.2"/><circle cx="96.2" cy="1523.3" r="5.2"/><circle cx="97.5" cy="1600.6" r="5.2"/><circle cx="94.9" cy="1725.5" r="5.2"/><circle cx="100.9" cy="1609.0" r="5.2"/><circle cx="94.9" cy="1672.3" r="5.2"/><circle cx="100.0" cy="1813.7" r="5.2"/><circle cx="86.4" cy="1618.4" r="5.2"/><circle cx="100.0" cy="1613.9" r="5.2"/><circle cx="97.4" cy="1627.8" r="5.2"/><circle cx="98.1" cy="1737.1" r="5.2"/><circle cx="87.4" cy="1621.1" r="5.2"/><circle cx="91.6" cy="1577.2" r="5.2"/><circle cx="95.8" cy="1595.1" r="5.2"/><circle cx="96.9" cy="1737.6" r="5.2"/><circle cx="93.1" cy="1574.2" r="5.2"/><circle cx="94.4" cy="1744.3" r="5.2"/><circle cx="87.5" cy="1581.6" r="5.2"/><circle cx="97.2" cy="1724.5" r="5.2"/><circle cx="109.2" cy="1595.0" r="5.2"/><circle cx="93.4" cy="1682.8" r="5.2"/><circle cx="93.1" cy="1692.9" r="5.2"/><circle cx="94.3" cy="1610.5" r="5.2"/><circle cx="84.7" cy="1614.1" r="5.2"/><circle cx="92.4" cy="1586.4" r="5.2"/><circle cx="96.7" cy="1700.5" r="5.2"/><circle cx="96.2" cy="1452.5" r="5.2"/><circle cx="107.8" cy="1637.6" r="5.2"/><circle cx="108.3" cy="1608.7" r="5.2"/><circle cx="98.8" cy="1586.4" r="5.2"/><circle cx="84.5" cy="1616.8" r="5.2"/><circle cx="88.6" cy="1654.5" r="5.2"/><circle cx="99.3" cy="1557.0" r="5.2"/><circle cx="97.6" cy="1691.8" r="5.2"/><circle cx="91.9" cy="1561.3" r="5.2"/><circle cx="89.3" cy="1632.7" r="5.2"/><circle cx="94.3" cy="1736.0" r="5.2"/><circle cx="106.4" cy="1593.6" r="5.2"/><circle cx="91.4" cy="1666.4" r="5.2"/><circle cx="102.7" cy="1559.4" r="5.2"/><circle cx="91.0" cy="1630.0" r="5.2"/><circle cx="98.3" cy="1630.0" r="5.2"/><circle cx="105.6" cy="1602.6" r="5.2"/><circle cx="111.4" cy="1615.2" r="5.2"/><circle cx="87.3" cy="1569.0" r="5.2"/><circle cx="87.4" cy="1566.4" r="5.2"/><circle cx="87.0" cy="1599.5" r="5.2"/><circle cx="98.7" cy="1715.4" r="5.2"/><circle cx="100.1" cy="1631.6" r="5.2"/><circle cx="100.6" cy="1657.5" r="5.2"/><circle cx="104.5" cy="1599.9" r="5.2"/><circle cx="94.7" cy="1712.5" r="5.2"/><circle cx="102.7" cy="1667.6" r="5.2"/><circle cx="88.3" cy="1616.3" r="5.2"/><circle cx="108.4" cy="1639.1" r="5.2"/><circle cx="105.9" cy="1580.7" r="5.2"/><circle cx="104.6" cy="1566.8" r="5.2"/><circle cx="97.8" cy="1729.5" r="5.2"/><circle cx="95.0" cy="1639.2" r="5.2"/><circle cx="103.9" cy="1605.0" r="5.2"/><circle cx="87.7" cy="1601.9" r="5.2"/><circle cx="87.0" cy="1652.8" r="5.2"/><circle cx="96.4" cy="1557.8" r="5.2"/><circle cx="110.4" cy="1619.7" r="5.2"/><circle cx="96.9" cy="1667.0" r="5.2"/><circle cx="88.7" cy="1575.8" r="5.2"/><circle cx="98.9" cy="1574.5" r="5.2"/><circle cx="99.2" cy="1597.6" r="5.2"/><circle cx="97.1" cy="1610.0" r="5.2"/><circle cx="94.3" cy="1695.6" r="5.2"/><circle cx="105.7" cy="1612.2" r="5.2"/><circle cx="102.0" cy="1563.3" r="5.2"/><circle cx="92.1" cy="1696.4" r="5.2"/><circle cx="109.4" cy="1610.3" r="5.2"/><circle cx="84.2" cy="1589.7" r="5.2"/><circle cx="94.7" cy="1700.4" r="5.2"/><circle cx="88.2" cy="1591.5" r="5.2"/><circle cx="94.7" cy="1591.1" r="5.2"/><circle cx="85.9" cy="1609.1" r="5.2"/><circle cx="89.7" cy="1813.7" r="5.2"/><circle cx="101.6" cy="1573.2" r="5.2"/><circle cx="82.9" cy="1594.9" r="5.2"/><circle cx="96.3" cy="1743.5" r="5.2"/><circle cx="91.8" cy="1625.8" r="5.2"/><circle cx="93.3" cy="1557.7" r="5.2"/><circle cx="84.1" cy="1608.5" r="5.2"/><circle cx="106.4" cy="1641.5" r="5.2"/><circle cx="100.0" cy="1689.2" r="5.2"/><circle cx="91.1" cy="1680.1" r="5.2"/><circle cx="102.7" cy="1648.5" r="5.2"/><circle cx="95.9" cy="1681.3" r="5.2"/><circle cx="103.3" cy="1576.7" r="5.2"/><circle cx="103.6" cy="1588.6" r="5.2"/><circle cx="94.1" cy="1617.4" r="5.2"/><circle cx="95.7" cy="1697.9" r="5.2"/><circle cx="95.3" cy="1690.3" r="5.2"/><circle cx="107.2" cy="1578.2" r="5.2"/><circle cx="98.0" cy="1592.3" r="5.2"/><circle cx="97.2" cy="1813.7" r="5.2"/><circle cx="93.3" cy="1713.9" r="5.2"/><circle cx="91.7" cy="1641.2" r="5.2"/><circle cx="99.0" cy="1703.6" r="5.2"/><circle cx="98.3" cy="1641.5" r="5.2"/><circle cx="96.8" cy="1566.3" r="5.2"/><circle cx="89.4" cy="1645.6" r="5.2"/><circle cx="89.2" cy="1564.0" r="5.2"/><circle cx="89.5" cy="1660.3" r="5.2"/><circle cx="103.1" cy="1625.3" r="5.2"/><circle cx="100.6" cy="1666.6" r="5.2"/><circle cx="105.7" cy="1647.8" r="5.2"/><circle cx="95.8" cy="1560.0" r="5.2"/><circle cx="83.6" cy="1630.4" r="5.2"/><circle cx="91.8" cy="1813.7" r="5.2"/><circle cx="103.2" cy="1662.0" r="5.2"/><circle cx="84.8" cy="1592.9" r="5.2"/><circle cx="92.9" cy="1813.7" r="5.2"/><circle cx="101.4" cy="1565.5" r="5.2"/><circle cx="92.4" cy="1613.8" r="5.2"/><circle cx="93.8" cy="1659.8" r="5.2"/><circle cx="89.7" cy="1559.0" r="5.2"/><circle cx="89.3" cy="1605.0" r="5.2"/><circle cx="95.3" cy="1606.2" r="5.2"/><circle cx="90.3" cy="1813.7" r="5.2"/><circle cx="97.5" cy="1739.1" r="5.2"/><circle cx="97.8" cy="1699.0" r="5.2"/><circle cx="103.9" cy="1654.0" r="5.2"/><circle cx="84.1" cy="1639.1" r="5.2"/><circle cx="106.3" cy="1635.0" r="5.2"/><circle cx="97.8" cy="1556.1" r="5.2"/><circle cx="102.7" cy="1659.1" r="5.2"/><circle cx="96.6" cy="1813.7" r="5.2"/><circle cx="94.6" cy="1813.7" r="5.2"/><circle cx="90.8" cy="1571.5" r="5.2"/><circle cx="92.6" cy="1700.7" r="5.2"/><circle cx="101.1" cy="1680.8" r="5.2"/><circle cx="101.5" cy="1570.0" r="5.2"/><circle cx="85.5" cy="1637.1" r="5.2"/><circle cx="106.5" cy="1621.7" r="5.2"/><circle cx="101.7" cy="1639.3" r="5.2"/><circle cx="103.8" cy="1614.2" r="5.2"/><circle cx="89.6" cy="1609.8" r="5.2"/><circle cx="84.3" cy="1645.0" r="5.2"/><circle cx="93.5" cy="1813.7" r="5.2"/><circle cx="93.7" cy="1627.0" r="5.2"/><circle cx="95.3" cy="1704.7" r="5.2"/><circle cx="96.1" cy="1488.3" r="5.2"/><circle cx="98.7" cy="1695.2" r="5.2"/><circle cx="85.4" cy="1598.0" r="5.2"/><circle cx="82.0" cy="1605.4" r="5.2"/><circle cx="96.2" cy="1713.2" r="5.2"/><circle cx="80.8" cy="1615.1" r="5.2"/><circle cx="95.8" cy="1634.6" r="5.2"/><circle cx="94.8" cy="1813.7" r="5.2"/><circle cx="86.4" cy="1594.0" r="5.2"/><circle cx="89.5" cy="1813.7" r="5.2"/><circle cx="92.1" cy="1675.8" r="5.2"/><circle cx="99.7" cy="1683.3" r="5.2"/><circle cx="88.3" cy="1648.4" r="5.2"/><circle cx="101.5" cy="1813.7" r="5.2"/><circle cx="98.4" cy="1647.1" r="5.2"/><circle cx="90.2" cy="1618.7" r="5.2"/><circle cx="108.4" cy="1622.2" r="5.2"/><circle cx="88.3" cy="1639.4" r="5.2"/><circle cx="86.2" cy="1627.2" r="5.2"/><circle cx="98.8" cy="1665.2" r="5.2"/><circle cx="98.8" cy="1569.2" r="5.2"/><circle cx="107.9" cy="1598.8" r="5.2"/><circle cx="98.3" cy="1579.6" r="5.2"/><circle cx="104.2" cy="1578.8" r="5.2"/><circle cx="99.8" cy="1642.4" r="5.2"/><circle cx="104.5" cy="1646.3" r="5.2"/><circle cx="101.9" cy="1611.5" r="5.2"/><circle cx="102.9" cy="1582.0" r="5.2"/><circle cx="96.2" cy="1614.6" r="5.2"/><circle cx="101.9" cy="1584.4" r="5.2"/><circle cx="100.4" cy="1650.1" r="5.2"/><circle cx="99.3" cy="1625.9" r="5.2"/><circle cx="90.1" cy="1564.9" r="5.2"/><circle cx="98.1" cy="1813.7" r="5.2"/><circle cx="93.7" cy="1654.3" r="5.2"/><circle cx="86.7" cy="1647.5" r="5.2"/><circle cx="100.4" cy="1588.5" r="5.2"/><circle cx="85.3" cy="1641.5" r="5.2"/><circle cx="106.4" cy="1607.9" r="5.2"/><circle cx="97.1" cy="1684.9" r="5.2"/><circle cx="99.5" cy="1560.8" r="5.2"/><circle cx="99.7" cy="1593.8" r="5.2"/><circle cx="97.5" cy="1638.7" r="5.2"/><circle cx="85.3" cy="1572.1" r="5.2"/><circle cx="90.6" cy="1582.1" r="5.2"/><circle cx="110.7" cy="1624.3" r="5.2"/><circle cx="89.2" cy="1578.7" r="5.2"/><circle cx="82.5" cy="1628.1" r="5.2"/><circle cx="87.4" cy="1574.5" r="5.2"/><circle cx="106.0" cy="1596.7" r="5.2"/><circle cx="104.3" cy="1638.3" r="5.2"/><circle cx="102.2" cy="1813.7" r="5.2"/><circle cx="93.6" cy="1699.7" r="5.2"/><circle cx="91.0" cy="1813.7" r="5.2"/><circle cx="95.0" cy="1663.5" r="5.2"/><circle cx="91.5" cy="1658.9" r="5.2"/><circle cx="94.6" cy="1738.1" r="5.2"/><circle cx="96.3" cy="1571.6" r="5.2"/><circle cx="107.1" cy="1572.5" r="5.2"/><circle cx="96.5" cy="1696.1" r="5.2"/><circle cx="106.0" cy="1574.7" r="5.2"/><circle cx="91.2" cy="1622.0" r="5.2"/><circle cx="101.2" cy="1671.7" r="5.2"/><circle cx="84.2" cy="1626.3" r="5.2"/><circle cx="105.7" cy="1629.5" r="5.2"/><circle cx="102.6" cy="1813.7" r="5.2"/><circle cx="97.5" cy="1652.4" r="5.2"/><circle cx="109.5" cy="1616.9" r="5.2"/></g><g fill="#AEC7E8" stroke="#AEC7E8"><circle cx="137.1" cy="1758.0" r="5.2"/><circle cx="137.7" cy="1779.0" r="5.2"/><circle cx="137.6" cy="1701.7" r="5.2"/><circle cx="137.7" cy="1701.1" r="5.2"/><circle cx="137.9" cy="1748.6" r="5.2"/><circle cx="137.7" cy="1769.0" r="5.2"/><circle cx="138.5" cy="1732.1" r="5.2"/><circle cx="137.3" cy="1762.8" r="5.2"/><circle cx="138.0" cy="1725.7" r="5.2"/><circle cx="136.8" cy="1734.1" r="5.2"/><circle cx="137.5" cy="1701.1" r="5.2"/><circle cx="137.3" cy="1727.6" r="5.2"/><circle cx="138.4" cy="1747.2" r="5.2"/><circle cx="136.6" cy="1737.7" r="5.2"/><circle cx="136.7" cy="1739.7" r="5.2"/><circle cx="136.9" cy="1736.9" r="5.2"/><circle cx="138.4" cy="1734.2" r="5.2"/><circle cx="137.6" cy="1698.1" r="5.2"/><circle cx="137.1" cy="1732.9" r="5.2"/><circle cx="137.3" cy="1756.4" r="5.2"/><circle cx="137.5" cy="1700.8" r="5.2"/><circle cx="137.4" cy="1770.1" r="5.2"/><circle cx="138.3" cy="1733.2" r="5.2"/><circle cx="137.5" cy="1716.4" r="5.2"/><circle cx="137.1" cy="1756.0" r="5.2"/><circle cx="137.8" cy="1720.8" r="5.2"/><circle cx="137.1" cy="1751.0" r="5.2"/><circle cx="136.7" cy="1732.0" r="5.2"/><circle cx="138.3" cy="1738.5" r="5.2"/><circle cx="152.9" cy="1813.7" r="5.2"/><circle cx="137.6" cy="1670.7" r="5.2"/><circle cx="137.6" cy="1758.5" r="5.2"/><circle cx="122.2" cy="1813.7" r="5.2"/><circle cx="137.2" cy="1738.7" r="5.2"/><circle cx="138.1" cy="1731.4" r="5.2"/><circle cx="137.6" cy="1731.9" r="5.2"/><circle cx="138.5" cy="1737.9" r="5.2"/><circle cx="137.5" cy="1760.9" r="5.2"/><circle cx="138.4" cy="1744.7" r="5.2"/><circle cx="138.0" cy="1718.3" r="5.2"/><circle cx="137.4" cy="1760.9" r="5.2"/><circle cx="136.8" cy="1729.9" r="5.2"/><circle cx="138.0" cy="1751.3" r="5.2"/><circle cx="137.5" cy="1747.5" r="5.2"/><circle cx="137.4" cy="1730.8" r="5.2"/><circle cx="137.9" cy="1763.0" r="5.2"/><circle cx="137.6" cy="1777.2" r="5.2"/><circle cx="137.9" cy="1722.0" r="5.2"/><circle cx="137.7" cy="1752.3" r="5.2"/><circle cx="137.5" cy="1724.1" r="5.2"/><circle cx="137.0" cy="1752.6" r="5.2"/><circle cx="137.7" cy="1727.8" r="5.2"/><circle cx="137.0" cy="1722.7" r="5.2"/><circle cx="137.3" cy="1722.7" r="5.2"/><circle cx="137.9" cy="1760.9" r="5.2"/><circle cx="137.9" cy="1715.8" r="5.2"/><circle cx="136.8" cy="1744.0" r="5.2"/><circle cx="136.8" cy="1740.1" r="5.2"/><circle cx="137.9" cy="1735.8" r="5.2"/><circle cx="138.1" cy="1758.0" r="5.2"/><circle cx="136.6" cy="1742.3" r="5.2"/><circle cx="138.3" cy="1743.3" r="5.2"/><circle cx="137.6" cy="1699.7" r="5.2"/><circle cx="137.7" cy="1755.7" r="5.2"/><circle cx="137.7" cy="1717.9" r="5.2"/><circle cx="137.4" cy="1704.1" r="5.2"/><circle cx="137.4" cy="1734.2" r="5.2"/><circle cx="137.6" cy="1757.4" r="5.2"/><circle cx="137.9" cy="1745.1" r="5.2"/><circle cx="137.9" cy="1756.4" r="5.2"/><circle cx="138.3" cy="1730.4" r="5.2"/><circle cx="137.6" cy="1741.5" r="5.2"/><circle cx="137.7" cy="1737.6" r="5.2"/><circle cx="136.9" cy="1731.4" r="5.2"/><circle cx="137.4" cy="1714.7" r="5.2"/><circle cx="137.5" cy="1768.0" r="5.2"/><circle cx="138.4" cy="1739.9" r="5.2"/><circle cx="122.4" cy="1813.7" r="5.2"/><circle cx="137.2" cy="1718.1" r="5.2"/><circle cx="137.7" cy="1761.1" r="5.2"/><circle cx="137.4" cy="1739.9" r="5.2"/><circle cx="137.0" cy="1745.4" r="5.2"/><circle cx="137.6" cy="1712.8" r="5.2"/><circle cx="137.8" cy="1709.8" r="5.2"/><circle cx="137.9" cy="1724.4" r="5.2"/><circle cx="137.5" cy="1776.3" r="5.2"/><circle cx="137.8" cy="1730.9" r="5.2"/><circle cx="138.2" cy="1723.4" r="5.2"/><circle cx="123.1" cy="1813.7" r="5.2"/><circle cx="137.5" cy="1718.8" r="5.2"/><circle cx="138.5" cy="1742.3" r="5.2"/><circle cx="135.5" cy="1813.7" r="5.2"/><circle cx="136.8" cy="1747.1" r="5.2"/><circle cx="137.9" cy="1739.9" r="5.2"/><circle cx="137.8" cy="1714.6" r="5.2"/><circle cx="137.0" cy="1743.0" r="5.2"/><circle cx="152.6" cy="1813.7" r="5.2"/><circle cx="137.5" cy="1778.9" r="5.2"/><circle cx="123.3" cy="1813.7" r="5.2"/><circle cx="152.7" cy="1813.7" r="5.2"/><circle cx="138.1" cy="1753.8" r="5.2"/><circle cx="122.3" cy="1813.7" r="5.2"/><circle cx="136.6" cy="1813.7" r="5.2"/><circle cx="128.0" cy="1813.7" r="5.2"/><circle cx="147.6" cy="1813.7" r="5.2"/><circle cx="128.4" cy="1813.7" r="5.2"/><circle cx="137.7" cy="1771.3" r="5.2"/><circle cx="150.0" cy="1813.7" r="5.2"/><circle cx="150.4" cy="1813.7" r="5.2"/><circle cx="131.1" cy="1813.7" r="5.2"/><circle cx="125.4" cy="1813.7" r="5.2"/><circle cx="151.0" cy="1813.7" r="5.2"/><circle cx="144.8" cy="1813.7" r="5.2"/><circle cx="146.0" cy="1813.7" r="5.2"/><circle cx="132.2" cy="1813.7" r="5.2"/><circle cx="127.0" cy="1813.7" r="5.2"/><circle cx="138.1" cy="1740.9" r="5.2"/><circle cx="124.9" cy="1813.7" r="5.2"/><circle cx="125.1" cy="1813.7" r="5.2"/><circle cx="151.2" cy="1813.7" r="5.2"/><circle cx="141.7" cy="1813.7" r="5.2"/><circle cx="134.1" cy="1813.7" r="5.2"/><circle cx="132.9" cy="1813.7" r="5.2"/><circle cx="130.3" cy="1813.7" r="5.2"/><circle cx="141.8" cy="1813.7" r="5.2"/><circle cx="138.5" cy="1813.7" r="5.2"/><circle cx="137.2" cy="1721.2" r="5.2"/><circle cx="147.5" cy="1813.7" r="5.2"/><circle cx="137.2" cy="1725.7" r="5.2"/><circle cx="145.0" cy="1813.7" r="5.2"/><circle cx="136.7" cy="1813.7" r="5.2"/><circle cx="152.3" cy="1813.7" r="5.2"/><circle cx="138.1" cy="1813.7" r="5.2"/><circle cx="137.2" cy="1737.4" r="5.2"/><circle cx="129.4" cy="1813.7" r="5.2"/><circle cx="122.5" cy="1813.7" r="5.2"/><circle cx="138.1" cy="1746.7" r="5.2"/><circle cx="137.4" cy="1745.0" r="5.2"/><circle cx="140.1" cy="1813.7" r="5.2"/><circle cx="142.5" cy="1813.7" r="5.2"/><circle cx="139.0" cy="1813.7" r="5.2"/><circle cx="137.3" cy="1752.2" r="5.2"/></g><g fill="#FF7F0E" stroke="#FF7F0E"><circle cx="179.3" cy="1740.1" r="5.2"/><circle cx="178.9" cy="1736.6" r="5.2"/><circle cx="179.3" cy="1733.7" r="5.2"/><circle cx="179.1" cy="1730.3" r="5.2"/><circle cx="178.7" cy="1743.2" r="5.2"/><circle cx="178.9" cy="1711.4" r="5.2"/><circle cx="179.4" cy="1743.8" r="5.2"/><circle cx="179.5" cy="1739.5" r="5.2"/><circle cx="179.1" cy="1725.7" r="5.2"/><circle cx="178.9" cy="1717.6" r="5.2"/><circle cx="179.3" cy="1736.3" r="5.2"/><circle cx="178.9" cy="1726.1" r="5.2"/><circle cx="179.0" cy="1733.8" r="5.2"/><circle cx="179.0" cy="1774.9" r="5.2"/><circle cx="179.1" cy="1736.9" r="5.2"/><circle cx="179.0" cy="1754.0" r="5.2"/><circle cx="194.3" cy="1813.7" r="5.2"/><circle cx="178.8" cy="1747.8" r="5.2"/><circle cx="179.3" cy="1719.9" r="5.2"/><circle cx="178.8" cy="1740.2" r="5.2"/><circle cx="179.2" cy="1745.1" r="5.2"/><circle cx="178.8" cy="1735.2" r="5.2"/><circle cx="179.3" cy="1745.4" r="5.2"/><circle cx="179.0" cy="1757.5" r="5.2"/><circle cx="163.7" cy="1813.7" r="5.2"/><circle cx="179.1" cy="1766.4" r="5.2"/><circle cx="179.0" cy="1739.7" r="5.2"/><circle cx="179.1" cy="1743.0" r="5.2"/><circle cx="178.9" cy="1716.2" r="5.2"/><circle cx="163.7" cy="1813.7" r="5.2"/><circle cx="194.4" cy="1813.7" r="5.2"/><circle cx="179.2" cy="1717.5" r="5.2"/><circle cx="179.0" cy="1713.5" r="5.2"/><circle cx="179.0" cy="1744.7" r="5.2"/><circle cx="179.1" cy="1759.1" r="5.2"/><circle cx="178.9" cy="1742.0" r="5.2"/><circle cx="179.1" cy="1718.6" r="5.2"/><circle cx="164.0" cy="1813.7" r="5.2"/><circle cx="179.1" cy="1713.8" r="5.2"/><circle cx="178.8" cy="1719.5" r="5.2"/><circle cx="179.2" cy="1727.4" r="5.2"/><circle cx="179.1" cy="1776.7" r="5.2"/><circle cx="178.8" cy="1745.2" r="5.2"/><circle cx="179.0" cy="1763.3" r="5.2"/><circle cx="179.2" cy="1712.6" r="5.2"/><circle cx="194.0" cy="1813.7" r="5.2"/><circle cx="178.9" cy="1746.2" r="5.2"/><circle cx="178.8" cy="1731.2" r="5.2"/><circle cx="193.8" cy="1813.7" r="5.2"/><circle cx="179.0" cy="1721.4" r="5.2"/><circle cx="179.2" cy="1750.9" r="5.2"/><circle cx="179.1" cy="1747.0" r="5.2"/><circle cx="179.1" cy="1734.2" r="5.2"/><circle cx="179.4" cy="1741.2" r="5.2"/><circle cx="187.2" cy="1813.7" r="5.2"/><circle cx="179.1" cy="1754.9" r="5.2"/><circle cx="164.5" cy="1813.7" r="5.2"/><circle cx="184.7" cy="1813.7" r="5.2"/><circle cx="167.7" cy="1813.7" r="5.2"/><circle cx="174.3" cy="1813.7" r="5.2"/><circle cx="170.8" cy="1813.7" r="5.2"/><circle cx="163.8" cy="1813.7" r="5.2"/><circle cx="166.5" cy="1813.7" r="5.2"/><circle cx="188.2" cy="1813.7" r="5.2"/><circle cx="170.4" cy="1813.7" r="5.2"/><circle cx="189.5" cy="1813.7" r="5.2"/><circle cx="168.6" cy="1813.7" r="5.2"/><circle cx="166.1" cy="1813.7" r="5.2"/><circle cx="181.9" cy="1813.7" r="5.2"/><circle cx="173.2" cy="1813.7" r="5.2"/><circle cx="177.4" cy="1813.7" r="5.2"/><circle cx="194.0" cy="1813.7" r="5.2"/><circle cx="180.6" cy="1813.7" r="5.2"/><circle cx="164.1" cy="1813.7" r="5.2"/><circle cx="191.6" cy="1813.7" r="5.2"/><circle cx="181.2" cy="1813.7" r="5.2"/><circle cx="175.4" cy="1813.7" r="5.2"/><circle cx="168.6" cy="1813.7" r="5.2"/><circle cx="189.7" cy="1813.7" r="5.2"/><circle cx="171.9" cy="1813.7" r="5.2"/><circle cx="179.0" cy="1813.7" r="5.2"/><circle cx="176.9" cy="1813.7" r="5.2"/><circle cx="179.0" cy="1727.6" r="5.2"/><circle cx="193.2" cy="1813.7" r="5.2"/><circle cx="178.6" cy="1739.4" r="5.2"/><circle cx="183.7" cy="1813.7" r="5.2"/><circle cx="192.9" cy="1813.7" r="5.2"/><circle cx="192.3" cy="1813.7" r="5.2"/><circle cx="185.3" cy="1813.7" r="5.2"/><circle cx="178.4" cy="1813.7" r="5.2"/><circle cx="193.5" cy="1813.7" r="5.2"/><circle cx="179.3" cy="1813.7" r="5.2"/></g><g fill="#FFBB78" stroke="#FFBB78"><circle cx="233.0" cy="1813.7" r="5.2"/><circle cx="232.5" cy="1813.7" r="5.2"/><circle cx="210.9" cy="1813.7" r="5.2"/><circle cx="219.9" cy="1687.1" r="5.2"/><circle cx="230.1" cy="1813.7" r="5.2"/><circle cx="228.7" cy="1813.7" r="5.2"/><circle cx="219.5" cy="1789.9" r="5.2"/><circle cx="218.5" cy="1755.6" r="5.2"/><circle cx="228.2" cy="1813.7" r="5.2"/><circle cx="214.7" cy="1813.7" r="5.2"/><circle cx="234.0" cy="1813.7" r="5.2"/><circle cx="227.2" cy="1813.7" r="5.2"/><circle cx="217.1" cy="1813.7" r="5.2"/><circle cx="209.4" cy="1813.7" r="5.2"/><circle cx="220.0" cy="1734.8" r="5.2"/><circle cx="219.5" cy="1813.7" r="5.2"/><circle cx="220.7" cy="1745.2" r="5.2"/><circle cx="221.5" cy="1813.7" r="5.2"/><circle cx="206.1" cy="1813.7" r="5.2"/><circle cx="224.2" cy="1769.0" r="5.2"/><circle cx="231.1" cy="1813.7" r="5.2"/><circle cx="220.7" cy="1663.3" r="5.2"/><circle cx="209.9" cy="1813.7" r="5.2"/><circle cx="226.3" cy="1813.7" r="5.2"/><circle cx="208.0" cy="1813.7" r="5.2"/><circle cx="234.9" cy="1813.7" r="5.2"/><circle cx="215.2" cy="1813.7" r="5.2"/><circle cx="221.0" cy="1813.7" r="5.2"/><circle cx="211.8" cy="1813.7" r="5.2"/><circle cx="213.3" cy="1813.7" r="5.2"/><circle cx="220.5" cy="1601.5" r="5.2"/><circle cx="223.4" cy="1813.7" r="5.2"/><circle cx="221.1" cy="1697.5" r="5.2"/><circle cx="217.6" cy="1813.7" r="5.2"/><circle cx="225.3" cy="1813.7" r="5.2"/><circle cx="224.4" cy="1813.7" r="5.2"/><circle cx="205.6" cy="1813.7" r="5.2"/><circle cx="232.1" cy="1813.7" r="5.2"/><circle cx="207.0" cy="1813.7" r="5.2"/><circle cx="220.5" cy="1813.7" r="5.2"/></g><g fill="#2CA02C" stroke="#2CA02C"><circle cx="256.7" cy="1698.2" r="5.2"/><circle cx="272.2" cy="1729.4" r="5.2"/><circle cx="256.7" cy="1692.2" r="5.2"/><circle cx="272.6" cy="1745.3" r="5.2"/><circle cx="259.2" cy="1762.6" r="5.2"/><circle cx="263.2" cy="1614.4" r="5.2"/><circle cx="262.9" cy="1591.1" r="5.2"/><circle cx="251.4" cy="1715.9" r="5.2"/><circle cx="269.2" cy="1707.7" r="5.2"/><circle cx="262.7" cy="1664.1" r="5.2"/><circle cx="251.8" cy="1722.5" r="5.2"/><circle cx="271.0" cy="1747.2" r="5.2"/><circle cx="269.3" cy="1759.8" r="5.2"/><circle cx="271.7" cy="1735.8" r="5.2"/><circle cx="252.1" cy="1741.2" r="5.2"/><circle cx="251.3" cy="1719.7" r="5.2"/><circle cx="262.1" cy="1565.3" r="5.2"/><circle cx="246.7" cy="1813.7" r="5.2"/><circle cx="266.5" cy="1683.1" r="5.2"/><circle cx="253.7" cy="1743.1" r="5.2"/><circle cx="261.1" cy="1760.1" r="5.2"/><circle cx="252.5" cy="1706.4" r="5.2"/><circle cx="251.1" cy="1738.8" r="5.2"/><circle cx="257.9" cy="1679.9" r="5.2"/><circle cx="251.0" cy="1730.4" r="5.2"/><circle cx="267.4" cy="1701.7" r="5.2"/><circle cx="261.9" cy="1602.6" r="5.2"/><circle cx="263.1" cy="1569.9" r="5.2"/><circle cx="261.6" cy="1587.1" r="5.2"/><circle cx="260.6" cy="1619.2" r="5.2"/><circle cx="262.4" cy="1587.6" r="5.2"/><circle cx="263.1" cy="1763.0" r="5.2"/><circle cx="268.7" cy="1703.2" r="5.2"/><circle cx="251.3" cy="1745.3" r="5.2"/><circle cx="254.3" cy="1700.5" r="5.2"/><circle cx="262.2" cy="1641.8" r="5.2"/><circle cx="267.0" cy="1762.1" r="5.2"/><circle cx="260.1" cy="1689.9" r="5.2"/><circle cx="260.3" cy="1597.9" r="5.2"/><circle cx="253.2" cy="1724.3" r="5.2"/><circle cx="271.5" cy="1706.7" r="5.2"/><circle cx="246.8" cy="1813.7" r="5.2"/><circle cx="258.5" cy="1758.2" r="5.2"/><circle cx="269.9" cy="1745.9" r="5.2"/><circle cx="262.8" cy="1646.1" r="5.2"/><circle cx="250.1" cy="1726.1" r="5.2"/><circle cx="260.7" cy="1694.4" r="5.2"/><circle cx="260.8" cy="1646.9" r="5.2"/><circle cx="272.7" cy="1716.2" r="5.2"/><circle cx="260.3" cy="1641.8" r="5.2"/><circle cx="254.4" cy="1702.5" r="5.2"/><circle cx="253.0" cy="1752.6" r="5.2"/><circle cx="257.5" cy="1704.5" r="5.2"/><circle cx="269.3" cy="1700.5" r="5.2"/><circle cx="261.3" cy="1649.7" r="5.2"/><circle cx="261.5" cy="1658.0" r="5.2"/><circle cx="261.1" cy="1610.6" r="5.2"/><circle cx="261.5" cy="1616.0" r="5.2"/><circle cx="258.8" cy="1688.5" r="5.2"/><circle cx="253.0" cy="1713.8" r="5.2"/><circle cx="271.0" cy="1752.9" r="5.2"/><circle cx="270.2" cy="1735.2" r="5.2"/><circle cx="263.7" cy="1643.3" r="5.2"/><circle cx="264.5" cy="1697.7" r="5.2"/><circle cx="254.1" cy="1729.8" r="5.2"/><circle cx="271.1" cy="1723.2" r="5.2"/><circle cx="263.7" cy="1601.0" r="5.2"/><circle cx="265.2" cy="1700.8" r="5.2"/><circle cx="270.7" cy="1714.2" r="5.2"/><circle cx="260.2" cy="1655.4" r="5.2"/><circle cx="254.0" cy="1746.5" r="5.2"/><circle cx="262.4" cy="1618.3" r="5.2"/><circle cx="254.8" cy="1739.2" r="5.2"/><circle cx="256.8" cy="1701.1" r="5.2"/><circle cx="247.3" cy="1813.7" r="5.2"/><circle cx="263.8" cy="1657.8" r="5.2"/><circle cx="268.8" cy="1749.6" r="5.2"/><circle cx="253.9" cy="1737.1" r="5.2"/><circle cx="273.7" cy="1726.4" r="5.2"/><circle cx="255.4" cy="1747.6" r="5.2"/><circle cx="267.4" cy="1692.2" r="5.2"/><circle cx="262.6" cy="1699.6" r="5.2"/><circle cx="263.5" cy="1623.5" r="5.2"/><circle cx="258.6" cy="1698.7" r="5.2"/><circle cx="270.6" cy="1708.7" r="5.2"/><circle cx="271.5" cy="1717.8" r="5.2"/><circle cx="254.4" cy="1708.3" r="5.2"/><circle cx="271.8" cy="1712.5" r="5.2"/><circle cx="254.3" cy="1714.3" r="5.2"/><circle cx="257.1" cy="1719.2" r="5.2"/><circle cx="247.1" cy="1813.7" r="5.2"/><circle cx="267.0" cy="1757.1" r="5.2"/><circle cx="270.7" cy="1728.9" r="5.2"/><circle cx="260.6" cy="1585.8" r="5.2"/><circle cx="265.3" cy="1714.3" r="5.2"/><circle cx="250.4" cy="1734.5" r="5.2"/><circle cx="261.8" cy="1644.4" r="5.2"/><circle cx="273.0" cy="1730.8" r="5.2"/><circle cx="266.6" cy="1713.2" r="5.2"/><circle cx="257.0" cy="1707.7" r="5.2"/><circle cx="265.8" cy="1718.9" r="5.2"/><circle cx="261.2" cy="1641.6" r="5.2"/><circle cx="252.9" cy="1748.4" r="5.2"/><circle cx="252.9" cy="1717.5" r="5.2"/><circle cx="268.6" cy="1753.5" r="5.2"/><circle cx="264.5" cy="1687.6" r="5.2"/><circle cx="263.9" cy="1753.7" r="5.2"/><circle cx="260.6" cy="1708.8" r="5.2"/><circle cx="266.6" cy="1720.6" r="5.2"/><circle cx="261.4" cy="1580.5" r="5.2"/><circle cx="271.4" cy="1748.8" r="5.2"/><circle cx="261.6" cy="1753.0" r="5.2"/><circle cx="260.8" cy="1587.9" r="5.2"/><circle cx="254.4" cy="1759.3" r="5.2"/><circle cx="263.2" cy="1813.7" r="5.2"/><circle cx="276.9" cy="1813.7" r="5.2"/><circle cx="251.8" cy="1732.0" r="5.2"/><circle cx="264.9" cy="1813.7" r="5.2"/><circle cx="261.7" cy="1627.9" r="5.2"/><circle cx="265.8" cy="1747.6" r="5.2"/><circle cx="256.2" cy="1757.1" r="5.2"/><circle cx="263.1" cy="1636.4" r="5.2"/><circle cx="257.8" cy="1721.3" r="5.2"/><circle cx="256.2" cy="1749.4" r="5.2"/><circle cx="272.2" cy="1739.0" r="5.2"/><circle cx="262.6" cy="1633.6" r="5.2"/><circle cx="271.8" cy="1813.7" r="5.2"/><circle cx="263.2" cy="1690.7" r="5.2"/><circle cx="267.4" cy="1813.7" r="5.2"/><circle cx="262.7" cy="1758.7" r="5.2"/><circle cx="265.1" cy="1761.2" r="5.2"/><circle cx="269.6" cy="1754.5" r="5.2"/><circle cx="264.0" cy="1813.7" r="5.2"/><circle cx="270.5" cy="1741.7" r="5.2"/><circle cx="269.9" cy="1813.7" r="5.2"/><circle cx="266.3" cy="1749.2" r="5.2"/><circle cx="247.5" cy="1813.7" r="5.2"/><circle cx="252.0" cy="1813.7" r="5.2"/><circle cx="261.1" cy="1596.6" r="5.2"/><circle cx="251.1" cy="1813.7" r="5.2"/><circle cx="250.9" cy="1813.7" r="5.2"/><circle cx="266.5" cy="1698.2" r="5.2"/><circle cx="274.6" cy="1813.7" r="5.2"/><circle cx="254.7" cy="1753.7" r="5.2"/><circle cx="260.9" cy="1569.1" r="5.2"/><circle cx="255.8" cy="1713.4" r="5.2"/><circle cx="262.8" cy="1609.9" r="5.2"/><circle cx="249.6" cy="1813.7" r="5.2"/><circle cx="273.2" cy="1734.7" r="5.2"/><circle cx="272.4" cy="1720.0" r="5.2"/><circle cx="258.0" cy="1710.5" r="5.2"/><circle cx="254.2" cy="1719.1" r="5.2"/><circle cx="263.1" cy="1701.9" r="5.2"/><circle cx="256.2" cy="1725.1" r="5.2"/><circle cx="262.5" cy="1715.7" r="5.2"/><circle cx="263.4" cy="1740.7" r="5.2"/><circle cx="253.8" cy="1750.1" r="5.2"/><circle cx="268.0" cy="1714.6" r="5.2"/><circle cx="266.9" cy="1731.2" r="5.2"/><circle cx="273.8" cy="1813.7" r="5.2"/><circle cx="252.3" cy="1735.7" r="5.2"/><circle cx="262.4" cy="1733.9" r="5.2"/><circle cx="257.2" cy="1813.7" r="5.2"/><circle cx="263.3" cy="1649.5" r="5.2"/><circle cx="260.6" cy="1739.0" r="5.2"/><circle cx="246.9" cy="1813.7" r="5.2"/><circle cx="262.9" cy="1578.8" r="5.2"/><circle cx="265.6" cy="1708.9" r="5.2"/><circle cx="252.5" cy="1729.3" r="5.2"/><circle cx="269.5" cy="1721.0" r="5.2"/><circle cx="247.8" cy="1813.7" r="5.2"/><circle cx="261.8" cy="1570.8" r="5.2"/><circle cx="262.2" cy="1581.4" r="5.2"/><circle cx="253.4" cy="1813.7" r="5.2"/><circle cx="263.7" cy="1721.4" r="5.2"/><circle cx="270.1" cy="1813.7" r="5.2"/><circle cx="269.2" cy="1740.0" r="5.2"/><circle cx="277.0" cy="1813.7" r="5.2"/><circle cx="260.5" cy="1813.7" r="5.2"/><circle cx="263.8" cy="1673.9" r="5.2"/><circle cx="262.0" cy="1597.1" r="5.2"/><circle cx="268.2" cy="1813.7" r="5.2"/><circle cx="256.7" cy="1813.7" r="5.2"/><circle cx="262.1" cy="1678.0" r="5.2"/><circle cx="252.5" cy="1712.3" r="5.2"/><circle cx="266.4" cy="1813.7" r="5.2"/><circle cx="253.4" cy="1733.6" r="5.2"/><circle cx="260.8" cy="1813.7" r="5.2"/><circle cx="264.7" cy="1729.2" r="5.2"/><circle cx="254.6" cy="1813.7" r="5.2"/><circle cx="260.3" cy="1674.8" r="5.2"/><circle cx="258.6" cy="1813.7" r="5.2"/><circle cx="263.2" cy="1748.4" r="5.2"/><circle cx="260.8" cy="1635.6" r="5.2"/><circle cx="256.9" cy="1738.6" r="5.2"/><circle cx="261.7" cy="1687.3" r="5.2"/><circle cx="262.3" cy="1651.9" r="5.2"/><circle cx="254.9" cy="1813.7" r="5.2"/><circle cx="266.2" cy="1729.6" r="5.2"/><circle cx="259.2" cy="1741.8" r="5.2"/><circle cx="257.2" cy="1761.2" r="5.2"/><circle cx="270.0" cy="1731.4" r="5.2"/><circle cx="266.6" cy="1704.2" r="5.2"/><circle cx="259.2" cy="1746.0" r="5.2"/><circle cx="276.5" cy="1813.7" r="5.2"/><circle cx="260.7" cy="1720.6" r="5.2"/><circle cx="266.7" cy="1707.6" r="5.2"/><circle cx="266.1" cy="1689.4" r="5.2"/><circle cx="259.1" cy="1813.7" r="5.2"/><circle cx="263.2" cy="1586.7" r="5.2"/><circle cx="261.2" cy="1712.6" r="5.2"/><circle cx="262.5" cy="1572.9" r="5.2"/><circle cx="269.9" cy="1750.1" r="5.2"/><circle cx="277.1" cy="1813.7" r="5.2"/><circle cx="265.0" cy="1813.7" r="5.2"/><circle cx="261.1" cy="1578.6" r="5.2"/><circle cx="262.4" cy="1813.7" r="5.2"/><circle cx="271.4" cy="1732.2" r="5.2"/><circle cx="258.6" cy="1728.9" r="5.2"/><circle cx="274.0" cy="1813.7" r="5.2"/><circle cx="259.8" cy="1670.8" r="5.2"/><circle cx="255.3" cy="1704.0" r="5.2"/></g><g fill="#98DF8A" stroke="#98DF8A"><circle cx="303.5" cy="1742.2" r="5.2"/><circle cx="288.1" cy="1813.7" r="5.2"/><circle cx="288.1" cy="1813.7" r="5.2"/><circle cx="303.4" cy="1780.9" r="5.2"/><circle cx="288.4" cy="1813.7" r="5.2"/><circle cx="318.5" cy="1813.7" r="5.2"/><circle cx="303.4" cy="1763.1" r="5.2"/><circle cx="303.5" cy="1772.0" r="5.2"/><circle cx="291.0" cy="1813.7" r="5.2"/><circle cx="318.6" cy="1813.7" r="5.2"/><circle cx="315.3" cy="1813.7" r="5.2"/><circle cx="313.1" cy="1813.7" r="5.2"/><circle cx="296.2" cy="1813.7" r="5.2"/><circle cx="312.1" cy="1813.7" r="5.2"/><circle cx="294.5" cy="1813.7" r="5.2"/><circle cx="311.2" cy="1813.7" r="5.2"/><circle cx="297.0" cy="1813.7" r="5.2"/><circle cx="303.4" cy="1783.9" r="5.2"/><circle cx="318.1" cy="1813.7" r="5.2"/><circle cx="308.0" cy="1813.7" r="5.2"/><circle cx="293.8" cy="1813.7" r="5.2"/><circle cx="299.6" cy="1813.7" r="5.2"/><circle cx="303.5" cy="1813.7" r="5.2"/><circle cx="293.4" cy="1813.7" r="5.2"/><circle cx="300.2" cy="1813.7" r="5.2"/><circle cx="314.3" cy="1813.7" r="5.2"/><circle cx="305.4" cy="1813.7" r="5.2"/><circle cx="318.7" cy="1813.7" r="5.2"/><circle cx="310.8" cy="1813.7" r="5.2"/><circle cx="292.5" cy="1813.7" r="5.2"/><circle cx="306.4" cy="1813.7" r="5.2"/><circle cx="310.0" cy="1813.7" r="5.2"/><circle cx="297.9" cy="1813.7" r="5.2"/><circle cx="292.4" cy="1813.7" r="5.2"/><circle cx="288.6" cy="1813.7" r="5.2"/><circle cx="293.9" cy="1813.7" r="5.2"/><circle cx="303.7" cy="1813.7" r="5.2"/><circle cx="317.6" cy="1813.7" r="5.2"/><circle cx="317.7" cy="1813.7" r="5.2"/><circle cx="307.9" cy="1813.7" r="5.2"/><circle cx="293.0" cy="1813.7" r="5.2"/><circle cx="311.4" cy="1813.7" r="5.2"/><circle cx="298.5" cy="1813.7" r="5.2"/><circle cx="305.8" cy="1813.7" r="5.2"/><circle cx="288.3" cy="1813.7" r="5.2"/><circle cx="300.9" cy="1813.7" r="5.2"/><circle cx="317.4" cy="1813.7" r="5.2"/><circle cx="288.5" cy="1813.7" r="5.2"/><circle cx="301.3" cy="1813.7" r="5.2"/></g><g fill="#D62728" stroke="#D62728"><circle cx="360.0" cy="1813.7" r="5.2"/><circle cx="359.9" cy="1813.7" r="5.2"/><circle cx="359.3" cy="1813.7" r="5.2"/><circle cx="329.7" cy="1813.7" r="5.2"/><circle cx="359.4" cy="1813.7" r="5.2"/><circle cx="359.8" cy="1813.7" r="5.2"/><circle cx="359.1" cy="1813.7" r="5.2"/><circle cx="346.5" cy="1813.7" r="5.2"/><circle cx="330.1" cy="1813.7" r="5.2"/><circle cx="348.3" cy="1813.7" r="5.2"/><circle cx="337.5" cy="1813.7" r="5.2"/><circle cx="359.0" cy="1813.7" r="5.2"/><circle cx="356.0" cy="1813.7" r="5.2"/><circle cx="354.8" cy="1813.7" r="5.2"/><circle cx="349.5" cy="1813.7" r="5.2"/><circle cx="358.5" cy="1813.7" r="5.2"/><circle cx="331.2" cy="1813.7" r="5.2"/><circle cx="345.0" cy="1813.7" r="5.2"/><circle cx="341.5" cy="1813.7" r="5.2"/><circle cx="329.8" cy="1813.7" r="5.2"/><circle cx="335.5" cy="1813.7" r="5.2"/><circle cx="342.0" cy="1813.7" r="5.2"/><circle cx="334.1" cy="1813.7" r="5.2"/><circle cx="332.9" cy="1813.7" r="5.2"/><circle cx="340.3" cy="1813.7" r="5.2"/><circle cx="349.1" cy="1813.7" r="5.2"/><circle cx="336.9" cy="1813.7" r="5.2"/><circle cx="357.4" cy="1813.7" r="5.2"/><circle cx="353.1" cy="1813.7" r="5.2"/><circle cx="352.3" cy="1813.7" r="5.2"/><circle cx="332.5" cy="1813.7" r="5.2"/><circle cx="353.5" cy="1813.7" r="5.2"/><circle cx="339.1" cy="1813.7" r="5.2"/><circle cx="329.6" cy="1813.7" r="5.2"/><circle cx="345.6" cy="1813.7" r="5.2"/><circle cx="355.7" cy="1813.7" r="5.2"/><circle cx="342.7" cy="1813.7" r="5.2"/><circle cx="352.6" cy="1813.7" r="5.2"/></g><g fill="#FF9896" stroke="#FF9896"><circle cx="401.5" cy="1813.7" r="5.2"/><circle cx="386.4" cy="1712.4" r="5.2"/><circle cx="371.1" cy="1813.7" r="5.2"/><circle cx="386.4" cy="1745.2" r="5.2"/><circle cx="386.3" cy="1693.1" r="5.2"/><circle cx="401.3" cy="1813.7" r="5.2"/><circle cx="371.2" cy="1813.7" r="5.2"/><circle cx="401.0" cy="1813.7" r="5.2"/><circle cx="401.6" cy="1813.7" r="5.2"/><circle cx="371.3" cy="1813.7" r="5.2"/><circle cx="371.8" cy="1813.7" r="5.2"/><circle cx="386.3" cy="1739.2" r="5.2"/><circle cx="380.6" cy="1813.7" r="5.2"/><circle cx="380.5" cy="1813.7" r="5.2"/><circle cx="400.4" cy="1813.7" r="5.2"/><circle cx="400.1" cy="1813.7" r="5.2"/><circle cx="399.6" cy="1813.7" r="5.2"/><circle cx="371.5" cy="1813.7" r="5.2"/><circle cx="377.7" cy="1813.7" r="5.2"/><circle cx="400.3" cy="1813.7" r="5.2"/><circle cx="384.5" cy="1813.7" r="5.2"/><circle cx="374.6" cy="1813.7" r="5.2"/><circle cx="396.9" cy="1813.7" r="5.2"/><circle cx="395.1" cy="1813.7" r="5.2"/><circle cx="376.5" cy="1813.7" r="5.2"/><circle cx="394.1" cy="1813.7" r="5.2"/><circle cx="388.6" cy="1813.7" r="5.2"/><circle cx="398.9" cy="1813.7" r="5.2"/><circle cx="386.4" cy="1670.7" r="5.2"/><circle cx="381.8" cy="1813.7" r="5.2"/><circle cx="383.6" cy="1813.7" r="5.2"/><circle cx="372.4" cy="1813.7" r="5.2"/><circle cx="376.0" cy="1813.7" r="5.2"/><circle cx="386.3" cy="1724.3" r="5.2"/><circle cx="375.2" cy="1813.7" r="5.2"/><circle cx="387.5" cy="1813.7" r="5.2"/><circle cx="375.0" cy="1813.7" r="5.2"/><circle cx="393.7" cy="1813.7" r="5.2"/><circle cx="386.4" cy="1731.8" r="5.2"/><circle cx="371.0" cy="1813.7" r="5.2"/><circle cx="386.6" cy="1813.7" r="5.2"/><circle cx="389.8" cy="1813.7" r="5.2"/><circle cx="392.0" cy="1813.7" r="5.2"/><circle cx="383.1" cy="1813.7" r="5.2"/><circle cx="374.8" cy="1813.7" r="5.2"/><circle cx="398.0" cy="1813.7" r="5.2"/><circle cx="386.3" cy="1813.7" r="5.2"/><circle cx="394.3" cy="1813.7" r="5.2"/><circle cx="378.3" cy="1813.7" r="5.2"/><circle cx="390.0" cy="1813.7" r="5.2"/><circle cx="380.2" cy="1813.7" r="5.2"/><circle cx="401.4" cy="1813.7" r="5.2"/><circle cx="398.5" cy="1813.7" r="5.2"/><circle cx="386.9" cy="1813.7" r="5.2"/><circle cx="381.9" cy="1813.7" r="5.2"/></g><g fill="#9467BD" stroke="#9467BD"><circle cx="427.9" cy="1691.6" r="5.2"/><circle cx="442.8" cy="1813.7" r="5.2"/><circle cx="442.6" cy="1813.7" r="5.2"/><circle cx="427.8" cy="1748.2" r="5.2"/><circle cx="427.8" cy="1760.1" r="5.2"/><circle cx="427.7" cy="1764.5" r="5.2"/><circle cx="427.8" cy="1733.3" r="5.2"/><circle cx="442.4" cy="1813.7" r="5.2"/><circle cx="427.9" cy="1743.7" r="5.2"/><circle cx="442.0" cy="1813.7" r="5.2"/><circle cx="426.6" cy="1813.7" r="5.2"/><circle cx="422.8" cy="1813.7" r="5.2"/><circle cx="443.0" cy="1813.7" r="5.2"/><circle cx="425.6" cy="1813.7" r="5.2"/><circle cx="438.0" cy="1813.7" r="5.2"/><circle cx="439.1" cy="1813.7" r="5.2"/><circle cx="427.9" cy="1769.0" r="5.2"/><circle cx="428.8" cy="1813.7" r="5.2"/><circle cx="428.3" cy="1813.7" r="5.2"/><circle cx="429.1" cy="1813.7" r="5.2"/><circle cx="412.9" cy="1813.7" r="5.2"/><circle cx="427.8" cy="1721.4" r="5.2"/><circle cx="442.5" cy="1813.7" r="5.2"/><circle cx="436.3" cy="1813.7" r="5.2"/><circle cx="412.6" cy="1813.7" r="5.2"/><circle cx="432.3" cy="1813.7" r="5.2"/><circle cx="436.5" cy="1813.7" r="5.2"/><circle cx="441.8" cy="1813.7" r="5.2"/><circle cx="434.7" cy="1813.7" r="5.2"/><circle cx="440.8" cy="1813.7" r="5.2"/><circle cx="423.6" cy="1813.7" r="5.2"/><circle cx="435.0" cy="1813.7" r="5.2"/><circle cx="439.6" cy="1813.7" r="5.2"/><circle cx="440.7" cy="1813.7" r="5.2"/><circle cx="415.8" cy="1813.7" r="5.2"/><circle cx="412.5" cy="1813.7" r="5.2"/><circle cx="419.4" cy="1813.7" r="5.2"/><circle cx="422.4" cy="1813.7" r="5.2"/><circle cx="420.6" cy="1813.7" r="5.2"/><circle cx="432.4" cy="1813.7" r="5.2"/><circle cx="415.9" cy="1813.7" r="5.2"/><circle cx="420.9" cy="1813.7" r="5.2"/><circle cx="413.6" cy="1813.7" r="5.2"/><circle cx="413.2" cy="1813.7" r="5.2"/><circle cx="431.2" cy="1813.7" r="5.2"/><circle cx="427.7" cy="1739.2" r="5.2"/><circle cx="434.5" cy="1813.7" r="5.2"/><circle cx="421.3" cy="1813.7" r="5.2"/><circle cx="418.4" cy="1813.7" r="5.2"/><circle cx="416.7" cy="1813.7" r="5.2"/></g><g fill="#C5B0D5" stroke="#C5B0D5"><circle cx="468.9" cy="1708.2" r="5.2"/><circle cx="469.2" cy="1749.6" r="5.2"/><circle cx="469.0" cy="1743.5" r="5.2"/><circle cx="469.3" cy="1711.1" r="5.2"/><circle cx="468.7" cy="1714.2" r="5.2"/><circle cx="454.1" cy="1813.7" r="5.2"/><circle cx="468.6" cy="1734.7" r="5.2"/><circle cx="469.0" cy="1710.9" r="5.2"/><circle cx="469.5" cy="1745.7" r="5.2"/><circle cx="469.6" cy="1730.9" r="5.2"/><circle cx="469.3" cy="1719.9" r="5.2"/><circle cx="469.2" cy="1761.6" r="5.2"/><circle cx="469.6" cy="1720.8" r="5.2"/><circle cx="469.0" cy="1734.3" r="5.2"/><circle cx="469.8" cy="1724.7" r="5.2"/><circle cx="470.0" cy="1729.6" r="5.2"/><circle cx="469.3" cy="1751.2" r="5.2"/><circle cx="469.2" cy="1736.3" r="5.2"/><circle cx="468.9" cy="1724.2" r="5.2"/><circle cx="469.9" cy="1717.9" r="5.2"/><circle cx="469.3" cy="1688.6" r="5.2"/><circle cx="469.5" cy="1709.6" r="5.2"/><circle cx="469.2" cy="1707.3" r="5.2"/><circle cx="469.2" cy="1729.7" r="5.2"/><circle cx="469.1" cy="1724.8" r="5.2"/><circle cx="454.3" cy="1813.7" r="5.2"/><circle cx="454.0" cy="1813.7" r="5.2"/><circle cx="484.4" cy="1813.7" r="5.2"/><circle cx="462.5" cy="1813.7" r="5.2"/><circle cx="477.9" cy="1813.7" r="5.2"/><circle cx="469.3" cy="1772.0" r="5.2"/><circle cx="462.6" cy="1813.7" r="5.2"/><circle cx="468.7" cy="1733.3" r="5.2"/><circle cx="480.8" cy="1813.7" r="5.2"/><circle cx="483.1" cy="1813.7" r="5.2"/><circle cx="463.9" cy="1813.7" r="5.2"/><circle cx="454.2" cy="1813.7" r="5.2"/><circle cx="477.4" cy="1813.7" r="5.2"/><circle cx="476.7" cy="1813.7" r="5.2"/><circle cx="459.8" cy="1813.7" r="5.2"/><circle cx="468.1" cy="1813.7" r="5.2"/><circle cx="476.2" cy="1813.7" r="5.2"/><circle cx="484.2" cy="1813.7" r="5.2"/><circle cx="469.2" cy="1670.7" r="5.2"/><circle cx="471.0" cy="1813.7" r="5.2"/><circle cx="467.5" cy="1813.7" r="5.2"/><circle cx="471.3" cy="1813.7" r="5.2"/><circle cx="469.4" cy="1707.9" r="5.2"/><circle cx="456.5" cy="1813.7" r="5.2"/><circle cx="454.9" cy="1813.7" r="5.2"/><circle cx="461.1" cy="1813.7" r="5.2"/><circle cx="481.1" cy="1813.7" r="5.2"/><circle cx="469.5" cy="1740.5" r="5.2"/><circle cx="469.5" cy="1725.2" r="5.2"/><circle cx="479.3" cy="1813.7" r="5.2"/><circle cx="458.7" cy="1813.7" r="5.2"/><circle cx="469.4" cy="1734.4" r="5.2"/><circle cx="460.0" cy="1813.7" r="5.2"/><circle cx="464.2" cy="1813.7" r="5.2"/><circle cx="484.3" cy="1813.7" r="5.2"/><circle cx="468.7" cy="1725.7" r="5.2"/><circle cx="463.7" cy="1813.7" r="5.2"/><circle cx="475.6" cy="1813.7" r="5.2"/><circle cx="484.1" cy="1813.7" r="5.2"/><circle cx="472.2" cy="1813.7" r="5.2"/><circle cx="465.4" cy="1813.7" r="5.2"/><circle cx="454.7" cy="1813.7" r="5.2"/><circle cx="468.4" cy="1813.7" r="5.2"/><circle cx="472.8" cy="1813.7" r="5.2"/><circle cx="469.8" cy="1733.5" r="5.2"/><circle cx="456.0" cy="1813.7" r="5.2"/><circle cx="470.0" cy="1734.9" r="5.2"/><circle cx="469.3" cy="1813.7" r="5.2"/><circle cx="476.5" cy="1813.7" r="5.2"/><circle cx="475.5" cy="1813.7" r="5.2"/><circle cx="474.2" cy="1813.7" r="5.2"/></g><g fill="#8C564B" stroke="#8C564B"><circle cx="495.8" cy="1813.7" r="5.2"/><circle cx="525.6" cy="1813.7" r="5.2"/><circle cx="510.6" cy="1764.5" r="5.2"/><circle cx="525.2" cy="1813.7" r="5.2"/><circle cx="522.5" cy="1813.7" r="5.2"/><circle cx="496.3" cy="1813.7" r="5.2"/><circle cx="520.8" cy="1813.7" r="5.2"/><circle cx="497.7" cy="1813.7" r="5.2"/><circle cx="496.5" cy="1813.7" r="5.2"/><circle cx="505.2" cy="1813.7" r="5.2"/><circle cx="511.2" cy="1813.7" r="5.2"/><circle cx="495.6" cy="1813.7" r="5.2"/><circle cx="500.6" cy="1813.7" r="5.2"/><circle cx="512.9" cy="1813.7" r="5.2"/><circle cx="524.2" cy="1813.7" r="5.2"/><circle cx="510.7" cy="1795.8" r="5.2"/><circle cx="524.7" cy="1813.7" r="5.2"/><circle cx="510.7" cy="1813.7" r="5.2"/><circle cx="496.8" cy="1813.7" r="5.2"/><circle cx="517.5" cy="1813.7" r="5.2"/><circle cx="502.5" cy="1813.7" r="5.2"/><circle cx="514.8" cy="1813.7" r="5.2"/><circle cx="501.6" cy="1813.7" r="5.2"/><circle cx="523.7" cy="1813.7" r="5.2"/><circle cx="507.4" cy="1813.7" r="5.2"/><circle cx="514.6" cy="1813.7" r="5.2"/><circle cx="519.9" cy="1813.7" r="5.2"/><circle cx="509.0" cy="1813.7" r="5.2"/><circle cx="509.8" cy="1813.7" r="5.2"/><circle cx="516.0" cy="1813.7" r="5.2"/><circle cx="500.1" cy="1813.7" r="5.2"/><circle cx="516.7" cy="1813.7" r="5.2"/><circle cx="514.1" cy="1813.7" r="5.2"/><circle cx="519.4" cy="1813.7" r="5.2"/><circle cx="497.5" cy="1813.7" r="5.2"/><circle cx="522.8" cy="1813.7" r="5.2"/><circle cx="506.4" cy="1813.7" r="5.2"/><circle cx="505.4" cy="1813.7" r="5.2"/><circle cx="503.5" cy="1813.7" r="5.2"/></g><g fill="#C49C94" stroke="#C49C94"><circle cx="565.0" cy="1813.7" r="5.2"/><circle cx="539.2" cy="1813.7" r="5.2"/><circle cx="538.5" cy="1701.9" r="5.2"/><circle cx="542.2" cy="1685.9" r="5.2"/><circle cx="556.0" cy="1668.7" r="5.2"/><circle cx="552.9" cy="1654.3" r="5.2"/><circle cx="564.0" cy="1724.9" r="5.2"/><circle cx="555.2" cy="1748.0" r="5.2"/><circle cx="565.8" cy="1731.1" r="5.2"/><circle cx="563.9" cy="1737.3" r="5.2"/><circle cx="567.1" cy="1726.6" r="5.2"/><circle cx="550.9" cy="1661.6" r="5.2"/><circle cx="558.4" cy="1746.9" r="5.2"/><circle cx="538.1" cy="1734.4" r="5.2"/><circle cx="539.2" cy="1745.7" r="5.2"/><circle cx="555.3" cy="1681.5" r="5.2"/><circle cx="537.3" cy="1726.6" r="5.2"/><circle cx="540.5" cy="1743.2" r="5.2"/><circle cx="541.1" cy="1725.6" r="5.2"/><circle cx="537.8" cy="1714.3" r="5.2"/><circle cx="565.9" cy="1709.2" r="5.2"/><circle cx="539.2" cy="1739.9" r="5.2"/><circle cx="561.5" cy="1694.0" r="5.2"/><circle cx="560.0" cy="1680.5" r="5.2"/><circle cx="542.6" cy="1696.3" r="5.2"/><circle cx="566.0" cy="1734.5" r="5.2"/><circle cx="545.3" cy="1682.8" r="5.2"/><circle cx="540.5" cy="1728.7" r="5.2"/><circle cx="545.6" cy="1747.1" r="5.2"/><circle cx="559.1" cy="1703.6" r="5.2"/><circle cx="551.2" cy="1629.3" r="5.2"/><circle cx="564.2" cy="1711.5" r="5.2"/><circle cx="541.6" cy="1693.0" r="5.2"/><circle cx="538.1" cy="1720.7" r="5.2"/><circle cx="547.6" cy="1674.2" r="5.2"/><circle cx="538.8" cy="1731.1" r="5.2"/><circle cx="552.9" cy="1684.9" r="5.2"/><circle cx="539.6" cy="1813.7" r="5.2"/><circle cx="558.8" cy="1745.3" r="5.2"/><circle cx="547.8" cy="1691.0" r="5.2"/><circle cx="539.2" cy="1708.8" r="5.2"/><circle cx="561.8" cy="1687.1" r="5.2"/><circle cx="548.8" cy="1747.5" r="5.2"/><circle cx="558.0" cy="1675.0" r="5.2"/><circle cx="539.1" cy="1724.5" r="5.2"/><circle cx="562.1" cy="1736.9" r="5.2"/><circle cx="555.6" cy="1705.0" r="5.2"/><circle cx="556.3" cy="1658.4" r="5.2"/><circle cx="552.2" cy="1700.4" r="5.2"/><circle cx="564.5" cy="1813.7" r="5.2"/><circle cx="541.7" cy="1713.0" r="5.2"/><circle cx="564.5" cy="1705.2" r="5.2"/><circle cx="550.6" cy="1721.2" r="5.2"/><circle cx="540.1" cy="1716.4" r="5.2"/><circle cx="553.7" cy="1691.4" r="5.2"/><circle cx="545.4" cy="1713.7" r="5.2"/><circle cx="544.9" cy="1670.8" r="5.2"/><circle cx="549.6" cy="1675.4" r="5.2"/><circle cx="560.2" cy="1738.7" r="5.2"/><circle cx="565.0" cy="1716.5" r="5.2"/><circle cx="565.1" cy="1728.9" r="5.2"/><circle cx="547.9" cy="1657.3" r="5.2"/><circle cx="554.9" cy="1711.2" r="5.2"/><circle cx="558.0" cy="1684.1" r="5.2"/><circle cx="545.7" cy="1745.4" r="5.2"/><circle cx="549.0" cy="1743.9" r="5.2"/><circle cx="559.8" cy="1673.3" r="5.2"/><circle cx="562.3" cy="1710.2" r="5.2"/><circle cx="542.5" cy="1730.5" r="5.2"/><circle cx="551.7" cy="1673.9" r="5.2"/><circle cx="555.4" cy="1695.0" r="5.2"/><circle cx="541.7" cy="1733.5" r="5.2"/><circle cx="563.9" cy="1732.5" r="5.2"/><circle cx="560.6" cy="1813.7" r="5.2"/><circle cx="547.2" cy="1742.5" r="5.2"/><circle cx="540.7" cy="1737.2" r="5.2"/><circle cx="549.1" cy="1694.9" r="5.2"/><circle cx="543.0" cy="1707.1" r="5.2"/><circle cx="563.0" cy="1716.0" r="5.2"/><circle cx="548.5" cy="1704.6" r="5.2"/><circle cx="542.6" cy="1738.1" r="5.2"/><circle cx="560.8" cy="1813.7" r="5.2"/><circle cx="559.3" cy="1813.7" r="5.2"/><circle cx="554.0" cy="1664.5" r="5.2"/><circle cx="546.1" cy="1813.7" r="5.2"/><circle cx="554.5" cy="1813.7" r="5.2"/><circle cx="553.8" cy="1675.7" r="5.2"/><circle cx="544.2" cy="1727.4" r="5.2"/><circle cx="543.8" cy="1741.6" r="5.2"/><circle cx="564.7" cy="1813.7" r="5.2"/><circle cx="560.2" cy="1726.0" r="5.2"/><circle cx="544.0" cy="1715.4" r="5.2"/><circle cx="542.1" cy="1813.7" r="5.2"/><circle cx="565.9" cy="1702.4" r="5.2"/><circle cx="539.4" cy="1813.7" r="5.2"/><circle cx="564.3" cy="1813.7" r="5.2"/><circle cx="558.7" cy="1697.2" r="5.2"/><circle cx="565.0" cy="1745.9" r="5.2"/><circle cx="562.2" cy="1722.5" r="5.2"/><circle cx="553.5" cy="1719.9" r="5.2"/><circle cx="556.4" cy="1687.9" r="5.2"/><circle cx="540.3" cy="1813.7" r="5.2"/><circle cx="562.7" cy="1704.2" r="5.2"/><circle cx="542.0" cy="1718.8" r="5.2"/><circle cx="559.3" cy="1688.5" r="5.2"/><circle cx="555.6" cy="1728.2" r="5.2"/><circle cx="552.3" cy="1745.6" r="5.2"/><circle cx="547.7" cy="1684.2" r="5.2"/><circle cx="555.8" cy="1674.1" r="5.2"/><circle cx="553.2" cy="1739.2" r="5.2"/><circle cx="540.5" cy="1813.7" r="5.2"/><circle cx="558.3" cy="1722.4" r="5.2"/><circle cx="550.9" cy="1731.2" r="5.2"/><circle cx="553.2" cy="1813.7" r="5.2"/><circle cx="559.2" cy="1715.1" r="5.2"/><circle cx="557.4" cy="1741.4" r="5.2"/><circle cx="562.3" cy="1743.4" r="5.2"/><circle cx="555.0" cy="1737.2" r="5.2"/><circle cx="566.0" cy="1720.9" r="5.2"/><circle cx="562.0" cy="1732.2" r="5.2"/><circle cx="547.4" cy="1666.2" r="5.2"/><circle cx="549.2" cy="1712.6" r="5.2"/><circle cx="556.4" cy="1733.4" r="5.2"/><circle cx="553.9" cy="1708.4" r="5.2"/><circle cx="552.2" cy="1558.3" r="5.2"/><circle cx="562.2" cy="1813.7" r="5.2"/><circle cx="563.2" cy="1727.7" r="5.2"/><circle cx="566.8" cy="1714.3" r="5.2"/><circle cx="545.2" cy="1688.2" r="5.2"/><circle cx="556.7" cy="1738.0" r="5.2"/><circle cx="554.6" cy="1732.4" r="5.2"/><circle cx="555.7" cy="1813.7" r="5.2"/><circle cx="558.5" cy="1709.5" r="5.2"/><circle cx="545.1" cy="1676.5" r="5.2"/><circle cx="555.6" cy="1744.5" r="5.2"/><circle cx="546.6" cy="1708.4" r="5.2"/><circle cx="544.9" cy="1726.4" r="5.2"/><circle cx="540.7" cy="1813.7" r="5.2"/><circle cx="562.4" cy="1813.7" r="5.2"/><circle cx="548.8" cy="1669.0" r="5.2"/><circle cx="551.3" cy="1813.7" r="5.2"/><circle cx="549.6" cy="1737.9" r="5.2"/><circle cx="550.9" cy="1649.5" r="5.2"/><circle cx="545.6" cy="1699.3" r="5.2"/><circle cx="564.4" cy="1740.6" r="5.2"/><circle cx="561.6" cy="1747.3" r="5.2"/><circle cx="552.0" cy="1746.5" r="5.2"/><circle cx="546.8" cy="1724.0" r="5.2"/><circle cx="554.7" cy="1813.7" r="5.2"/><circle cx="549.9" cy="1813.7" r="5.2"/><circle cx="565.2" cy="1813.7" r="5.2"/><circle cx="550.8" cy="1687.6" r="5.2"/><circle cx="554.5" cy="1724.3" r="5.2"/><circle cx="539.0" cy="1813.7" r="5.2"/><circle cx="539.9" cy="1711.4" r="5.2"/><circle cx="543.6" cy="1813.7" r="5.2"/><circle cx="551.1" cy="1813.7" r="5.2"/><circle cx="541.4" cy="1705.2" r="5.2"/><circle cx="547.4" cy="1813.7" r="5.2"/><circle cx="545.8" cy="1719.3" r="5.2"/><circle cx="558.0" cy="1813.7" r="5.2"/><circle cx="557.0" cy="1813.7" r="5.2"/><circle cx="542.8" cy="1813.7" r="5.2"/><circle cx="545.7" cy="1813.7" r="5.2"/><circle cx="552.4" cy="1669.6" r="5.2"/><circle cx="539.8" cy="1732.4" r="5.2"/><circle cx="550.9" cy="1813.7" r="5.2"/><circle cx="554.3" cy="1644.4" r="5.2"/><circle cx="542.4" cy="1744.6" r="5.2"/><circle cx="547.0" cy="1813.7" r="5.2"/><circle cx="564.1" cy="1813.7" r="5.2"/><circle cx="547.2" cy="1732.2" r="5.2"/></g><g fill="#E377C2" stroke="#E377C2"><circle cx="593.5" cy="1731.6" r="5.2"/><circle cx="593.2" cy="1735.8" r="5.2"/><circle cx="593.7" cy="1760.1" r="5.2"/><circle cx="593.8" cy="1733.3" r="5.2"/><circle cx="608.6" cy="1813.7" r="5.2"/><circle cx="593.6" cy="1736.6" r="5.2"/><circle cx="594.1" cy="1736.5" r="5.2"/><circle cx="593.4" cy="1726.8" r="5.2"/><circle cx="593.8" cy="1723.8" r="5.2"/><circle cx="578.5" cy="1813.7" r="5.2"/><circle cx="608.3" cy="1813.7" r="5.2"/><circle cx="598.6" cy="1813.7" r="5.2"/><circle cx="592.0" cy="1813.7" r="5.2"/><circle cx="608.2" cy="1813.7" r="5.2"/><circle cx="608.8" cy="1813.7" r="5.2"/><circle cx="588.6" cy="1813.7" r="5.2"/><circle cx="579.8" cy="1813.7" r="5.2"/><circle cx="600.1" cy="1813.7" r="5.2"/><circle cx="595.6" cy="1813.7" r="5.2"/><circle cx="588.0" cy="1813.7" r="5.2"/><circle cx="596.7" cy="1813.7" r="5.2"/><circle cx="593.6" cy="1699.0" r="5.2"/><circle cx="584.6" cy="1813.7" r="5.2"/><circle cx="582.1" cy="1813.7" r="5.2"/><circle cx="579.0" cy="1813.7" r="5.2"/><circle cx="594.1" cy="1813.7" r="5.2"/><circle cx="607.2" cy="1813.7" r="5.2"/><circle cx="585.9" cy="1813.7" r="5.2"/><circle cx="587.0" cy="1813.7" r="5.2"/><circle cx="585.7" cy="1813.7" r="5.2"/><circle cx="583.3" cy="1813.7" r="5.2"/><circle cx="586.2" cy="1813.7" r="5.2"/><circle cx="595.8" cy="1813.7" r="5.2"/><circle cx="598.7" cy="1813.7" r="5.2"/><circle cx="580.9" cy="1813.7" r="5.2"/><circle cx="591.7" cy="1813.7" r="5.2"/><circle cx="604.5" cy="1813.7" r="5.2"/><circle cx="600.6" cy="1813.7" r="5.2"/><circle cx="580.8" cy="1813.7" r="5.2"/><circle cx="593.4" cy="1813.7" r="5.2"/><circle cx="578.4" cy="1813.7" r="5.2"/><circle cx="594.0" cy="1727.7" r="5.2"/><circle cx="592.8" cy="1813.7" r="5.2"/><circle cx="607.6" cy="1813.7" r="5.2"/><circle cx="601.6" cy="1813.7" r="5.2"/><circle cx="602.4" cy="1813.7" r="5.2"/><circle cx="593.2" cy="1813.7" r="5.2"/><circle cx="604.2" cy="1813.7" r="5.2"/><circle cx="607.4" cy="1813.7" r="5.2"/><circle cx="603.0" cy="1813.7" r="5.2"/><circle cx="581.3" cy="1813.7" r="5.2"/><circle cx="605.7" cy="1813.7" r="5.2"/><circle cx="589.3" cy="1813.7" r="5.2"/></g><g fill="#F7B6D2" stroke="#F7B6D2"><circle cx="635.2" cy="1633.5" r="5.2"/><circle cx="620.7" cy="1813.7" r="5.2"/><circle cx="620.2" cy="1813.7" r="5.2"/><circle cx="621.6" cy="1813.7" r="5.2"/><circle cx="648.6" cy="1813.7" r="5.2"/><circle cx="647.6" cy="1813.7" r="5.2"/><circle cx="645.7" cy="1813.7" r="5.2"/><circle cx="639.0" cy="1813.7" r="5.2"/><circle cx="638.5" cy="1813.7" r="5.2"/><circle cx="641.4" cy="1813.7" r="5.2"/><circle cx="635.1" cy="1813.7" r="5.2"/><circle cx="641.8" cy="1813.7" r="5.2"/><circle cx="649.5" cy="1813.7" r="5.2"/><circle cx="643.8" cy="1813.7" r="5.2"/><circle cx="646.7" cy="1813.7" r="5.2"/><circle cx="622.1" cy="1813.7" r="5.2"/><circle cx="646.2" cy="1813.7" r="5.2"/><circle cx="621.1" cy="1813.7" r="5.2"/><circle cx="626.9" cy="1813.7" r="5.2"/><circle cx="649.1" cy="1813.7" r="5.2"/><circle cx="637.0" cy="1813.7" r="5.2"/><circle cx="636.1" cy="1813.7" r="5.2"/><circle cx="624.5" cy="1813.7" r="5.2"/><circle cx="627.9" cy="1813.7" r="5.2"/><circle cx="632.7" cy="1813.7" r="5.2"/><circle cx="640.4" cy="1813.7" r="5.2"/><circle cx="629.8" cy="1813.7" r="5.2"/><circle cx="625.5" cy="1813.7" r="5.2"/><circle cx="628.4" cy="1813.7" r="5.2"/><circle cx="625.0" cy="1813.7" r="5.2"/><circle cx="643.3" cy="1813.7" r="5.2"/><circle cx="631.3" cy="1813.7" r="5.2"/><circle cx="633.2" cy="1813.7" r="5.2"/><circle cx="624.0" cy="1813.7" r="5.2"/><circle cx="644.2" cy="1813.7" r="5.2"/></g><g fill="#7F7F7F" stroke="#7F7F7F"><circle cx="676.9" cy="1769.0" r="5.2"/><circle cx="676.2" cy="1767.5" r="5.2"/><circle cx="691.5" cy="1813.7" r="5.2"/><circle cx="690.5" cy="1813.7" r="5.2"/><circle cx="691.2" cy="1813.7" r="5.2"/><circle cx="676.6" cy="1763.1" r="5.2"/><circle cx="691.0" cy="1813.7" r="5.2"/><circle cx="678.7" cy="1813.7" r="5.2"/><circle cx="690.0" cy="1813.7" r="5.2"/><circle cx="661.4" cy="1813.7" r="5.2"/><circle cx="689.3" cy="1813.7" r="5.2"/><circle cx="676.5" cy="1760.1" r="5.2"/><circle cx="685.5" cy="1813.7" r="5.2"/><circle cx="684.3" cy="1813.7" r="5.2"/><circle cx="662.1" cy="1813.7" r="5.2"/><circle cx="677.5" cy="1813.7" r="5.2"/><circle cx="664.1" cy="1813.7" r="5.2"/><circle cx="680.4" cy="1813.7" r="5.2"/><circle cx="687.2" cy="1813.7" r="5.2"/><circle cx="661.9" cy="1813.7" r="5.2"/><circle cx="689.6" cy="1813.7" r="5.2"/><circle cx="690.3" cy="1813.7" r="5.2"/><circle cx="673.9" cy="1813.7" r="5.2"/><circle cx="682.8" cy="1813.7" r="5.2"/><circle cx="674.2" cy="1813.7" r="5.2"/><circle cx="671.5" cy="1813.7" r="5.2"/><circle cx="669.1" cy="1813.7" r="5.2"/><circle cx="681.4" cy="1813.7" r="5.2"/><circle cx="688.1" cy="1813.7" r="5.2"/><circle cx="665.5" cy="1813.7" r="5.2"/><circle cx="685.2" cy="1813.7" r="5.2"/><circle cx="661.6" cy="1813.7" r="5.2"/><circle cx="676.1" cy="1813.7" r="5.2"/><circle cx="666.9" cy="1813.7" r="5.2"/><circle cx="665.3" cy="1813.7" r="5.2"/><circle cx="672.0" cy="1813.7" r="5.2"/><circle cx="675.1" cy="1813.7" r="5.2"/><circle cx="662.4" cy="1813.7" r="5.2"/><circle cx="688.8" cy="1813.7" r="5.2"/><circle cx="676.8" cy="1813.7" r="5.2"/><circle cx="681.1" cy="1813.7" r="5.2"/><circle cx="667.9" cy="1813.7" r="5.2"/><circle cx="670.3" cy="1813.7" r="5.2"/></g><g fill="#C7C7C7" stroke="#C7C7C7"><circle cx="731.5" cy="1813.7" r="5.2"/><circle cx="724.8" cy="1813.7" r="5.2"/><circle cx="720.9" cy="1813.7" r="5.2"/><circle cx="726.7" cy="1813.7" r="5.2"/><circle cx="709.4" cy="1813.7" r="5.2"/><circle cx="713.2" cy="1813.7" r="5.2"/><circle cx="730.5" cy="1813.7" r="5.2"/><circle cx="728.6" cy="1813.7" r="5.2"/><circle cx="705.5" cy="1813.7" r="5.2"/><circle cx="716.1" cy="1813.7" r="5.2"/><circle cx="704.6" cy="1813.7" r="5.2"/><circle cx="725.7" cy="1813.7" r="5.2"/><circle cx="717.1" cy="1813.7" r="5.2"/><circle cx="714.2" cy="1813.7" r="5.2"/><circle cx="721.9" cy="1813.7" r="5.2"/><circle cx="703.6" cy="1813.7" r="5.2"/><circle cx="712.3" cy="1813.7" r="5.2"/><circle cx="720.0" cy="1813.7" r="5.2"/><circle cx="723.8" cy="1813.7" r="5.2"/><circle cx="708.4" cy="1813.7" r="5.2"/><circle cx="729.6" cy="1813.7" r="5.2"/><circle cx="710.3" cy="1813.7" r="5.2"/><circle cx="727.7" cy="1813.7" r="5.2"/><circle cx="718.0" cy="1813.7" r="5.2"/><circle cx="707.4" cy="1813.7" r="5.2"/><circle cx="719.0" cy="1813.7" r="5.2"/></g><g fill="#1F77B4" stroke="#1F77B4"><circle cx="767.3" cy="1669.4" r="5.2"/><circle cx="787.0" cy="1813.7" r="5.2"/><circle cx="769.0" cy="1661.0" r="5.2"/><circle cx="778.7" cy="1738.0" r="5.2"/><circle cx="781.2" cy="1590.1" r="5.2"/><circle cx="777.4" cy="1631.5" r="5.2"/><circle cx="780.7" cy="1742.5" r="5.2"/><circle cx="775.6" cy="1639.7" r="5.2"/><circle cx="779.5" cy="1606.5" r="5.2"/><circle cx="769.2" cy="1702.2" r="5.2"/><circle cx="781.0" cy="1589.9" r="5.2"/><circle cx="786.2" cy="1633.7" r="5.2"/><circle cx="780.8" cy="1601.8" r="5.2"/><circle cx="780.8" cy="1612.5" r="5.2"/><circle cx="787.3" cy="1720.3" r="5.2"/><circle cx="779.2" cy="1621.7" r="5.2"/><circle cx="781.1" cy="1570.2" r="5.2"/><circle cx="767.3" cy="1679.6" r="5.2"/><circle cx="777.5" cy="1627.5" r="5.2"/><circle cx="791.4" cy="1663.3" r="5.2"/><circle cx="779.2" cy="1745.8" r="5.2"/><circle cx="769.6" cy="1662.3" r="5.2"/><circle cx="795.0" cy="1679.6" r="5.2"/><circle cx="777.4" cy="1640.2" r="5.2"/><circle cx="774.2" cy="1813.7" r="5.2"/><circle cx="775.9" cy="1731.6" r="5.2"/><circle cx="769.0" cy="1692.9" r="5.2"/><circle cx="786.3" cy="1813.7" r="5.2"/><circle cx="789.8" cy="1714.3" r="5.2"/><circle cx="773.3" cy="1647.3" r="5.2"/><circle cx="766.7" cy="1685.2" r="5.2"/><circle cx="791.9" cy="1675.7" r="5.2"/><circle cx="782.2" cy="1608.5" r="5.2"/><circle cx="776.2" cy="1643.9" r="5.2"/><circle cx="785.1" cy="1731.8" r="5.2"/><circle cx="767.7" cy="1687.8" r="5.2"/><circle cx="781.2" cy="1753.3" r="5.2"/><circle cx="793.8" cy="1665.6" r="5.2"/><circle cx="773.3" cy="1641.7" r="5.2"/><circle cx="782.8" cy="1747.4" r="5.2"/><circle cx="781.4" cy="1756.3" r="5.2"/><circle cx="786.4" cy="1638.2" r="5.2"/><circle cx="786.1" cy="1813.7" r="5.2"/><circle cx="786.8" cy="1813.7" r="5.2"/><circle cx="787.2" cy="1813.7" r="5.2"/><circle cx="791.2" cy="1657.8" r="5.2"/><circle cx="789.6" cy="1654.5" r="5.2"/><circle cx="769.1" cy="1656.1" r="5.2"/><circle cx="766.3" cy="1682.6" r="5.2"/><circle cx="778.5" cy="1637.8" r="5.2"/><circle cx="784.6" cy="1628.1" r="5.2"/><circle cx="771.2" cy="1657.7" r="5.2"/><circle cx="772.5" cy="1659.2" r="5.2"/><circle cx="771.3" cy="1714.1" r="5.2"/><circle cx="767.7" cy="1704.1" r="5.2"/><circle cx="779.6" cy="1757.4" r="5.2"/><circle cx="783.7" cy="1625.9" r="5.2"/><circle cx="788.2" cy="1721.2" r="5.2"/><circle cx="792.5" cy="1697.9" r="5.2"/><circle cx="774.6" cy="1813.7" r="5.2"/><circle cx="793.4" cy="1669.5" r="5.2"/><circle cx="771.0" cy="1709.4" r="5.2"/><circle cx="795.5" cy="1682.9" r="5.2"/><circle cx="769.7" cy="1673.6" r="5.2"/><circle cx="784.9" cy="1639.9" r="5.2"/><circle cx="785.0" cy="1813.7" r="5.2"/><circle cx="779.5" cy="1731.9" r="5.2"/><circle cx="787.1" cy="1645.5" r="5.2"/><circle cx="771.2" cy="1718.2" r="5.2"/><circle cx="771.0" cy="1651.3" r="5.2"/><circle cx="780.7" cy="1465.9" r="5.2"/><circle cx="771.0" cy="1654.2" r="5.2"/><circle cx="770.6" cy="1684.6" r="5.2"/><circle cx="785.0" cy="1728.4" r="5.2"/><circle cx="788.8" cy="1647.7" r="5.2"/><circle cx="784.6" cy="1643.5" r="5.2"/><circle cx="781.8" cy="1626.6" r="5.2"/><circle cx="781.8" cy="1616.3" r="5.2"/><circle cx="785.9" cy="1813.7" r="5.2"/><circle cx="780.4" cy="1642.6" r="5.2"/><circle cx="788.7" cy="1712.9" r="5.2"/><circle cx="788.0" cy="1653.7" r="5.2"/><circle cx="784.4" cy="1813.7" r="5.2"/><circle cx="790.3" cy="1718.3" r="5.2"/><circle cx="785.4" cy="1723.9" r="5.2"/><circle cx="791.8" cy="1709.5" r="5.2"/><circle cx="791.9" cy="1672.2" r="5.2"/><circle cx="790.5" cy="1652.3" r="5.2"/><circle cx="780.6" cy="1585.9" r="5.2"/><circle cx="768.9" cy="1705.8" r="5.2"/><circle cx="793.9" cy="1676.7" r="5.2"/><circle cx="774.0" cy="1698.7" r="5.2"/><circle cx="781.4" cy="1699.0" r="5.2"/><circle cx="774.1" cy="1649.3" r="5.2"/><circle cx="793.6" cy="1684.1" r="5.2"/><circle cx="778.6" cy="1633.3" r="5.2"/><circle cx="783.5" cy="1726.9" r="5.2"/><circle cx="784.1" cy="1632.1" r="5.2"/><circle cx="784.1" cy="1648.8" r="5.2"/><circle cx="792.3" cy="1667.5" r="5.2"/><circle cx="779.3" cy="1813.7" r="5.2"/><circle cx="781.5" cy="1763.5" r="5.2"/><circle cx="775.2" cy="1723.1" r="5.2"/><circle cx="768.3" cy="1697.6" r="5.2"/><circle cx="780.9" cy="1706.3" r="5.2"/><circle cx="766.6" cy="1699.5" r="5.2"/><circle cx="783.1" cy="1736.0" r="5.2"/><circle cx="771.1" cy="1703.2" r="5.2"/><circle cx="794.6" cy="1695.6" r="5.2"/><circle cx="772.7" cy="1710.1" r="5.2"/><circle cx="788.1" cy="1664.2" r="5.2"/><circle cx="777.3" cy="1741.7" r="5.2"/><circle cx="775.7" cy="1720.2" r="5.2"/><circle cx="788.8" cy="1668.2" r="5.2"/><circle cx="786.1" cy="1693.4" r="5.2"/><circle cx="782.4" cy="1654.1" r="5.2"/><circle cx="779.2" cy="1685.9" r="5.2"/><circle cx="783.6" cy="1701.7" r="5.2"/><circle cx="785.1" cy="1653.0" r="5.2"/><circle cx="792.7" cy="1661.2" r="5.2"/><circle cx="793.7" cy="1693.0" r="5.2"/><circle cx="768.6" cy="1684.1" r="5.2"/><circle cx="770.1" cy="1681.8" r="5.2"/><circle cx="784.6" cy="1813.7" r="5.2"/><circle cx="788.8" cy="1690.2" r="5.2"/><circle cx="776.5" cy="1649.7" r="5.2"/><circle cx="780.1" cy="1750.9" r="5.2"/><circle cx="773.7" cy="1725.0" r="5.2"/><circle cx="785.1" cy="1698.3" r="5.2"/><circle cx="767.3" cy="1706.4" r="5.2"/><circle cx="787.9" cy="1683.2" r="5.2"/><circle cx="782.3" cy="1743.8" r="5.2"/><circle cx="780.2" cy="1601.6" r="5.2"/><circle cx="776.7" cy="1728.1" r="5.2"/><circle cx="786.3" cy="1669.9" r="5.2"/><circle cx="791.7" cy="1683.8" r="5.2"/><circle cx="782.1" cy="1733.7" r="5.2"/><circle cx="775.0" cy="1679.0" r="5.2"/><circle cx="780.1" cy="1590.0" r="5.2"/><circle cx="784.2" cy="1813.7" r="5.2"/><circle cx="777.3" cy="1688.5" r="5.2"/><circle cx="770.7" cy="1706.0" r="5.2"/><circle cx="787.3" cy="1725.8" r="5.2"/><circle cx="774.4" cy="1684.7" r="5.2"/><circle cx="772.2" cy="1655.4" r="5.2"/><circle cx="778.0" cy="1720.5" r="5.2"/><circle cx="795.7" cy="1690.7" r="5.2"/><circle cx="777.0" cy="1733.9" r="5.2"/><circle cx="779.7" cy="1679.6" r="5.2"/><circle cx="792.2" cy="1711.1" r="5.2"/><circle cx="783.6" cy="1813.7" r="5.2"/><circle cx="780.8" cy="1739.7" r="5.2"/><circle cx="792.7" cy="1688.1" r="5.2"/><circle cx="782.1" cy="1813.7" r="5.2"/><circle cx="773.0" cy="1662.0" r="5.2"/><circle cx="785.2" cy="1718.7" r="5.2"/><circle cx="781.0" cy="1813.7" r="5.2"/><circle cx="773.0" cy="1666.3" r="5.2"/><circle cx="795.6" cy="1674.7" r="5.2"/><circle cx="782.6" cy="1630.0" r="5.2"/><circle cx="774.1" cy="1706.2" r="5.2"/><circle cx="773.2" cy="1716.2" r="5.2"/><circle cx="794.7" cy="1699.7" r="5.2"/><circle cx="783.5" cy="1723.0" r="5.2"/><circle cx="776.9" cy="1676.2" r="5.2"/><circle cx="785.3" cy="1637.2" r="5.2"/><circle cx="773.4" cy="1674.1" r="5.2"/><circle cx="780.4" cy="1656.6" r="5.2"/><circle cx="778.4" cy="1728.6" r="5.2"/><circle cx="788.4" cy="1642.0" r="5.2"/><circle cx="791.2" cy="1680.2" r="5.2"/><circle cx="780.3" cy="1813.7" r="5.2"/><circle cx="777.2" cy="1635.4" r="5.2"/><circle cx="785.4" cy="1681.5" r="5.2"/><circle cx="786.6" cy="1716.6" r="5.2"/><circle cx="783.5" cy="1666.9" r="5.2"/><circle cx="791.9" cy="1692.7" r="5.2"/><circle cx="771.1" cy="1663.9" r="5.2"/><circle cx="773.6" cy="1721.2" r="5.2"/><circle cx="777.2" cy="1672.3" r="5.2"/><circle cx="768.2" cy="1681.1" r="5.2"/><circle cx="781.2" cy="1718.1" r="5.2"/><circle cx="775.9" cy="1710.7" r="5.2"/><circle cx="774.8" cy="1813.7" r="5.2"/><circle cx="769.8" cy="1711.0" r="5.2"/><circle cx="792.5" cy="1702.5" r="5.2"/><circle cx="774.1" cy="1708.7" r="5.2"/><circle cx="778.1" cy="1645.9" r="5.2"/><circle cx="765.9" cy="1674.7" r="5.2"/><circle cx="767.2" cy="1695.2" r="5.2"/><circle cx="775.1" cy="1638.0" r="5.2"/><circle cx="775.6" cy="1633.7" r="5.2"/><circle cx="784.0" cy="1715.9" r="5.2"/><circle cx="775.0" cy="1813.7" r="5.2"/><circle cx="792.4" cy="1656.4" r="5.2"/><circle cx="782.9" cy="1813.7" r="5.2"/><circle cx="782.3" cy="1695.1" r="5.2"/><circle cx="786.9" cy="1655.6" r="5.2"/><circle cx="781.8" cy="1813.7" r="5.2"/><circle cx="772.1" cy="1680.2" r="5.2"/><circle cx="785.0" cy="1689.0" r="5.2"/><circle cx="780.8" cy="1674.2" r="5.2"/><circle cx="780.5" cy="1755.6" r="5.2"/><circle cx="781.4" cy="1724.8" r="5.2"/><circle cx="774.4" cy="1813.7" r="5.2"/><circle cx="769.4" cy="1676.4" r="5.2"/><circle cx="779.4" cy="1638.4" r="5.2"/><circle cx="779.1" cy="1753.6" r="5.2"/><circle cx="781.6" cy="1651.2" r="5.2"/><circle cx="793.1" cy="1704.3" r="5.2"/><circle cx="776.7" cy="1654.0" r="5.2"/><circle cx="773.7" cy="1711.7" r="5.2"/><circle cx="785.3" cy="1667.9" r="5.2"/><circle cx="780.5" cy="1562.7" r="5.2"/><circle cx="782.1" cy="1710.8" r="5.2"/><circle cx="783.3" cy="1634.3" r="5.2"/><circle cx="779.7" cy="1626.5" r="5.2"/><circle cx="772.0" cy="1696.1" r="5.2"/><circle cx="780.8" cy="1546.4" r="5.2"/><circle cx="782.5" cy="1754.5" r="5.2"/><circle cx="785.3" cy="1813.7" r="5.2"/><circle cx="778.9" cy="1658.2" r="5.2"/><circle cx="779.1" cy="1813.7" r="5.2"/><circle cx="788.4" cy="1710.4" r="5.2"/><circle cx="778.2" cy="1667.8" r="5.2"/><circle cx="775.4" cy="1670.2" r="5.2"/><circle cx="786.2" cy="1661.6" r="5.2"/><circle cx="769.4" cy="1667.2" r="5.2"/><circle cx="772.8" cy="1692.2" r="5.2"/><circle cx="782.6" cy="1705.8" r="5.2"/><circle cx="768.1" cy="1670.3" r="5.2"/><circle cx="785.4" cy="1709.6" r="5.2"/><circle cx="781.8" cy="1703.9" r="5.2"/><circle cx="767.4" cy="1665.6" r="5.2"/><circle cx="794.6" cy="1685.7" r="5.2"/><circle cx="774.0" cy="1653.6" r="5.2"/><circle cx="775.1" cy="1655.9" r="5.2"/><circle cx="776.7" cy="1813.7" r="5.2"/><circle cx="793.9" cy="1707.3" r="5.2"/><circle cx="791.1" cy="1705.9" r="5.2"/><circle cx="771.5" cy="1686.2" r="5.2"/><circle cx="765.8" cy="1690.6" r="5.2"/><circle cx="782.8" cy="1713.3" r="5.2"/><circle cx="788.1" cy="1691.1" r="5.2"/><circle cx="789.9" cy="1670.2" r="5.2"/><circle cx="779.6" cy="1653.0" r="5.2"/><circle cx="784.1" cy="1742.5" r="5.2"/></g><g fill="#AEC7E8" stroke="#AEC7E8"><circle cx="822.2" cy="1751.5" r="5.2"/><circle cx="822.3" cy="1752.5" r="5.2"/><circle cx="822.2" cy="1753.2" r="5.2"/><circle cx="822.3" cy="1746.3" r="5.2"/><circle cx="822.3" cy="1750.4" r="5.2"/><circle cx="822.2" cy="1747.3" r="5.2"/><circle cx="807.0" cy="1813.7" r="5.2"/><circle cx="807.1" cy="1813.7" r="5.2"/><circle cx="837.4" cy="1813.7" r="5.2"/><circle cx="808.2" cy="1813.7" r="5.2"/><circle cx="837.2" cy="1813.7" r="5.2"/><circle cx="815.8" cy="1813.7" r="5.2"/><circle cx="822.2" cy="1786.9" r="5.2"/><circle cx="837.3" cy="1813.7" r="5.2"/><circle cx="836.8" cy="1813.7" r="5.2"/><circle cx="836.3" cy="1813.7" r="5.2"/><circle cx="809.5" cy="1813.7" r="5.2"/><circle cx="811.5" cy="1813.7" r="5.2"/><circle cx="810.4" cy="1813.7" r="5.2"/><circle cx="815.6" cy="1813.7" r="5.2"/><circle cx="806.9" cy="1813.7" r="5.2"/><circle cx="817.0" cy="1813.7" r="5.2"/><circle cx="824.0" cy="1813.7" r="5.2"/><circle cx="813.0" cy="1813.7" r="5.2"/><circle cx="832.5" cy="1813.7" r="5.2"/><circle cx="836.7" cy="1813.7" r="5.2"/><circle cx="821.0" cy="1813.7" r="5.2"/><circle cx="830.0" cy="1813.7" r="5.2"/><circle cx="836.5" cy="1813.7" r="5.2"/><circle cx="824.8" cy="1813.7" r="5.2"/><circle cx="826.0" cy="1813.7" r="5.2"/><circle cx="816.9" cy="1813.7" r="5.2"/><circle cx="827.6" cy="1813.7" r="5.2"/><circle cx="832.5" cy="1813.7" r="5.2"/><circle cx="835.0" cy="1813.7" r="5.2"/><circle cx="834.9" cy="1813.7" r="5.2"/><circle cx="813.3" cy="1813.7" r="5.2"/><circle cx="830.3" cy="1813.7" r="5.2"/><circle cx="813.2" cy="1813.7" r="5.2"/><circle cx="818.3" cy="1813.7" r="5.2"/><circle cx="820.0" cy="1813.7" r="5.2"/><circle cx="821.6" cy="1813.7" r="5.2"/><circle cx="831.0" cy="1813.7" r="5.2"/><circle cx="807.5" cy="1813.7" r="5.2"/><circle cx="830.9" cy="1813.7" r="5.2"/><circle cx="815.4" cy="1813.7" r="5.2"/><circle cx="824.3" cy="1813.7" r="5.2"/><circle cx="826.6" cy="1813.7" r="5.2"/></g><g fill="#FF7F0E" stroke="#FF7F0E"><circle cx="863.7" cy="1718.4" r="5.2"/><circle cx="863.7" cy="1772.0" r="5.2"/><circle cx="879.0" cy="1813.7" r="5.2"/><circle cx="848.3" cy="1813.7" r="5.2"/><circle cx="878.9" cy="1813.7" r="5.2"/><circle cx="878.7" cy="1813.7" r="5.2"/><circle cx="863.7" cy="1715.4" r="5.2"/><circle cx="878.6" cy="1813.7" r="5.2"/><circle cx="866.1" cy="1813.7" r="5.2"/><circle cx="879.0" cy="1813.7" r="5.2"/><circle cx="848.6" cy="1813.7" r="5.2"/><circle cx="864.3" cy="1813.7" r="5.2"/><circle cx="848.6" cy="1813.7" r="5.2"/><circle cx="871.7" cy="1813.7" r="5.2"/><circle cx="848.4" cy="1813.7" r="5.2"/><circle cx="869.4" cy="1813.7" r="5.2"/><circle cx="867.7" cy="1813.7" r="5.2"/><circle cx="862.8" cy="1813.7" r="5.2"/><circle cx="878.4" cy="1813.7" r="5.2"/><circle cx="855.8" cy="1813.7" r="5.2"/><circle cx="849.0" cy="1813.7" r="5.2"/><circle cx="858.3" cy="1813.7" r="5.2"/><circle cx="854.4" cy="1813.7" r="5.2"/><circle cx="854.3" cy="1813.7" r="5.2"/><circle cx="850.9" cy="1813.7" r="5.2"/><circle cx="863.6" cy="1813.7" r="5.2"/><circle cx="876.8" cy="1813.7" r="5.2"/><circle cx="867.8" cy="1813.7" r="5.2"/><circle cx="877.0" cy="1813.7" r="5.2"/><circle cx="873.6" cy="1813.7" r="5.2"/><circle cx="873.9" cy="1813.7" r="5.2"/><circle cx="859.7" cy="1813.7" r="5.2"/><circle cx="851.9" cy="1813.7" r="5.2"/><circle cx="851.3" cy="1813.7" r="5.2"/><circle cx="853.6" cy="1813.7" r="5.2"/><circle cx="850.3" cy="1813.7" r="5.2"/><circle cx="863.7" cy="1721.4" r="5.2"/><circle cx="863.3" cy="1813.7" r="5.2"/><circle cx="855.8" cy="1813.7" r="5.2"/><circle cx="869.1" cy="1813.7" r="5.2"/><circle cx="859.4" cy="1813.7" r="5.2"/><circle cx="875.2" cy="1813.7" r="5.2"/><circle cx="860.4" cy="1813.7" r="5.2"/><circle cx="868.3" cy="1813.7" r="5.2"/><circle cx="878.3" cy="1813.7" r="5.2"/><circle cx="873.9" cy="1813.7" r="5.2"/><circle cx="870.0" cy="1813.7" r="5.2"/><circle cx="874.8" cy="1813.7" r="5.2"/><circle cx="853.8" cy="1813.7" r="5.2"/></g><g fill="#FFBB78" stroke="#FFBB78"><circle cx="919.6" cy="1813.7" r="5.2"/><circle cx="919.1" cy="1813.7" r="5.2"/><circle cx="891.2" cy="1813.7" r="5.2"/><circle cx="903.7" cy="1813.7" r="5.2"/><circle cx="910.9" cy="1813.7" r="5.2"/><circle cx="901.8" cy="1813.7" r="5.2"/><circle cx="907.1" cy="1813.7" r="5.2"/><circle cx="890.2" cy="1813.7" r="5.2"/><circle cx="908.0" cy="1813.7" r="5.2"/><circle cx="897.5" cy="1813.7" r="5.2"/><circle cx="917.2" cy="1813.7" r="5.2"/><circle cx="896.0" cy="1813.7" r="5.2"/><circle cx="892.2" cy="1813.7" r="5.2"/><circle cx="895.5" cy="1813.7" r="5.2"/><circle cx="897.9" cy="1813.7" r="5.2"/><circle cx="900.3" cy="1813.7" r="5.2"/><circle cx="912.9" cy="1813.7" r="5.2"/><circle cx="913.8" cy="1813.7" r="5.2"/><circle cx="893.6" cy="1813.7" r="5.2"/><circle cx="899.9" cy="1813.7" r="5.2"/><circle cx="915.3" cy="1813.7" r="5.2"/><circle cx="905.4" cy="1715.4" r="5.2"/><circle cx="909.5" cy="1813.7" r="5.2"/><circle cx="905.1" cy="1663.3" r="5.2"/><circle cx="905.2" cy="1813.7" r="5.2"/><circle cx="904.8" cy="1721.4" r="5.2"/><circle cx="905.5" cy="1770.5" r="5.2"/><circle cx="918.6" cy="1813.7" r="5.2"/><circle cx="915.7" cy="1813.7" r="5.2"/><circle cx="903.2" cy="1813.7" r="5.2"/><circle cx="911.9" cy="1813.7" r="5.2"/><circle cx="906.1" cy="1813.7" r="5.2"/><circle cx="892.6" cy="1813.7" r="5.2"/><circle cx="898.9" cy="1813.7" r="5.2"/><circle cx="905.6" cy="1813.7" r="5.2"/><circle cx="894.6" cy="1813.7" r="5.2"/><circle cx="917.7" cy="1813.7" r="5.2"/><circle cx="916.7" cy="1813.7" r="5.2"/><circle cx="890.7" cy="1813.7" r="5.2"/></g><g fill="#2CA02C" stroke="#2CA02C"><circle cx="946.5" cy="1712.6" r="5.2"/><circle cx="946.8" cy="1744.0" r="5.2"/><circle cx="946.7" cy="1724.0" r="5.2"/><circle cx="946.4" cy="1710.7" r="5.2"/><circle cx="946.7" cy="1737.4" r="5.2"/><circle cx="946.6" cy="1684.6" r="5.2"/><circle cx="946.6" cy="1753.9" r="5.2"/><circle cx="946.6" cy="1728.3" r="5.2"/><circle cx="946.5" cy="1743.0" r="5.2"/><circle cx="946.8" cy="1724.6" r="5.2"/><circle cx="946.5" cy="1701.1" r="5.2"/><circle cx="946.7" cy="1745.6" r="5.2"/><circle cx="946.7" cy="1716.4" r="5.2"/><circle cx="946.3" cy="1731.9" r="5.2"/><circle cx="946.3" cy="1709.2" r="5.2"/><circle cx="946.6" cy="1677.5" r="5.2"/><circle cx="946.4" cy="1724.3" r="5.2"/><circle cx="946.7" cy="1695.7" r="5.2"/><circle cx="946.5" cy="1698.0" r="5.2"/><circle cx="946.3" cy="1717.2" r="5.2"/><circle cx="946.9" cy="1709.7" r="5.2"/><circle cx="946.6" cy="1735.6" r="5.2"/><circle cx="946.5" cy="1720.8" r="5.2"/><circle cx="931.3" cy="1813.7" r="5.2"/><circle cx="946.5" cy="1726.1" r="5.2"/><circle cx="931.6" cy="1813.7" r="5.2"/><circle cx="946.9" cy="1712.5" r="5.2"/><circle cx="946.8" cy="1750.0" r="5.2"/><circle cx="946.6" cy="1744.6" r="5.2"/><circle cx="946.5" cy="1748.7" r="5.2"/><circle cx="946.6" cy="1772.0" r="5.2"/><circle cx="961.4" cy="1813.7" r="5.2"/><circle cx="946.6" cy="1710.1" r="5.2"/><circle cx="931.9" cy="1813.7" r="5.2"/><circle cx="931.8" cy="1813.7" r="5.2"/><circle cx="946.6" cy="1708.8" r="5.2"/><circle cx="934.4" cy="1813.7" r="5.2"/><circle cx="961.5" cy="1813.7" r="5.2"/><circle cx="946.7" cy="1684.2" r="5.2"/><circle cx="936.1" cy="1813.7" r="5.2"/><circle cx="946.7" cy="1700.4" r="5.2"/><circle cx="946.8" cy="1710.6" r="5.2"/><circle cx="960.8" cy="1813.7" r="5.2"/><circle cx="934.0" cy="1813.7" r="5.2"/><circle cx="946.6" cy="1627.5" r="5.2"/><circle cx="946.9" cy="1717.8" r="5.2"/><circle cx="960.5" cy="1813.7" r="5.2"/><circle cx="946.9" cy="1734.1" r="5.2"/><circle cx="931.7" cy="1813.7" r="5.2"/><circle cx="941.7" cy="1813.7" r="5.2"/><circle cx="942.3" cy="1813.7" r="5.2"/><circle cx="953.8" cy="1813.7" r="5.2"/><circle cx="960.1" cy="1813.7" r="5.2"/><circle cx="942.8" cy="1813.7" r="5.2"/><circle cx="938.3" cy="1813.7" r="5.2"/><circle cx="935.9" cy="1813.7" r="5.2"/><circle cx="953.1" cy="1813.7" r="5.2"/><circle cx="937.1" cy="1813.7" r="5.2"/><circle cx="944.8" cy="1813.7" r="5.2"/><circle cx="958.9" cy="1813.7" r="5.2"/><circle cx="958.5" cy="1813.7" r="5.2"/><circle cx="951.3" cy="1813.7" r="5.2"/><circle cx="945.5" cy="1813.7" r="5.2"/><circle cx="948.0" cy="1813.7" r="5.2"/><circle cx="956.7" cy="1813.7" r="5.2"/><circle cx="952.8" cy="1813.7" r="5.2"/><circle cx="939.3" cy="1813.7" r="5.2"/><circle cx="954.9" cy="1813.7" r="5.2"/><circle cx="961.9" cy="1813.7" r="5.2"/><circle cx="955.6" cy="1813.7" r="5.2"/><circle cx="961.0" cy="1813.7" r="5.2"/><circle cx="945.9" cy="1813.7" r="5.2"/><circle cx="939.0" cy="1813.7" r="5.2"/><circle cx="956.2" cy="1813.7" r="5.2"/><circle cx="943.6" cy="1813.7" r="5.2"/><circle cx="950.3" cy="1813.7" r="5.2"/><circle cx="949.9" cy="1813.7" r="5.2"/><circle cx="940.4" cy="1813.7" r="5.2"/><circle cx="955.0" cy="1813.7" r="5.2"/></g><g fill="#98DF8A" stroke="#98DF8A"><circle cx="988.1" cy="1740.7" r="5.2"/><circle cx="972.8" cy="1813.7" r="5.2"/><circle cx="972.7" cy="1813.7" r="5.2"/><circle cx="973.2" cy="1813.7" r="5.2"/><circle cx="973.4" cy="1813.7" r="5.2"/><circle cx="973.0" cy="1813.7" r="5.2"/><circle cx="988.1" cy="1778.0" r="5.2"/><circle cx="1003.2" cy="1813.7" r="5.2"/><circle cx="973.7" cy="1813.7" r="5.2"/><circle cx="995.3" cy="1813.7" r="5.2"/><circle cx="995.5" cy="1813.7" r="5.2"/><circle cx="1002.5" cy="1813.7" r="5.2"/><circle cx="981.0" cy="1813.7" r="5.2"/><circle cx="972.9" cy="1813.7" r="5.2"/><circle cx="1003.1" cy="1813.7" r="5.2"/><circle cx="997.6" cy="1813.7" r="5.2"/><circle cx="983.5" cy="1813.7" r="5.2"/><circle cx="978.1" cy="1813.7" r="5.2"/><circle cx="993.6" cy="1813.7" r="5.2"/><circle cx="995.9" cy="1813.7" r="5.2"/><circle cx="990.5" cy="1813.7" r="5.2"/><circle cx="1002.3" cy="1813.7" r="5.2"/><circle cx="980.1" cy="1813.7" r="5.2"/><circle cx="974.8" cy="1813.7" r="5.2"/><circle cx="993.9" cy="1813.7" r="5.2"/><circle cx="1001.8" cy="1813.7" r="5.2"/><circle cx="987.4" cy="1813.7" r="5.2"/><circle cx="999.5" cy="1813.7" r="5.2"/><circle cx="988.8" cy="1813.7" r="5.2"/><circle cx="976.6" cy="1813.7" r="5.2"/><circle cx="982.5" cy="1813.7" r="5.2"/><circle cx="974.1" cy="1813.7" r="5.2"/><circle cx="989.4" cy="1813.7" r="5.2"/><circle cx="992.5" cy="1813.7" r="5.2"/><circle cx="983.4" cy="1813.7" r="5.2"/><circle cx="979.8" cy="1813.7" r="5.2"/><circle cx="998.1" cy="1813.7" r="5.2"/><circle cx="993.0" cy="1813.7" r="5.2"/><circle cx="1001.4" cy="1813.7" r="5.2"/><circle cx="1003.4" cy="1813.7" r="5.2"/><circle cx="984.7" cy="1813.7" r="5.2"/><circle cx="973.6" cy="1813.7" r="5.2"/><circle cx="976.9" cy="1813.7" r="5.2"/><circle cx="986.2" cy="1813.7" r="5.2"/><circle cx="988.0" cy="1813.7" r="5.2"/><circle cx="974.2" cy="1813.7" r="5.2"/></g><g fill="#D62728" stroke="#D62728"><circle cx="1014.5" cy="1813.7" r="5.2"/><circle cx="1044.7" cy="1813.7" r="5.2"/><circle cx="1044.6" cy="1813.7" r="5.2"/><circle cx="1044.1" cy="1813.7" r="5.2"/><circle cx="1036.0" cy="1813.7" r="5.2"/><circle cx="1037.2" cy="1813.7" r="5.2"/><circle cx="1038.3" cy="1813.7" r="5.2"/><circle cx="1014.7" cy="1813.7" r="5.2"/><circle cx="1014.3" cy="1813.7" r="5.2"/><circle cx="1037.8" cy="1813.7" r="5.2"/><circle cx="1017.3" cy="1813.7" r="5.2"/><circle cx="1014.4" cy="1813.7" r="5.2"/><circle cx="1038.4" cy="1813.7" r="5.2"/><circle cx="1041.4" cy="1813.7" r="5.2"/><circle cx="1041.2" cy="1813.7" r="5.2"/><circle cx="1024.8" cy="1813.7" r="5.2"/><circle cx="1026.4" cy="1813.7" r="5.2"/><circle cx="1021.4" cy="1813.7" r="5.2"/><circle cx="1019.1" cy="1813.7" r="5.2"/><circle cx="1022.9" cy="1813.7" r="5.2"/><circle cx="1021.5" cy="1813.7" r="5.2"/><circle cx="1018.7" cy="1813.7" r="5.2"/><circle cx="1029.5" cy="1813.7" r="5.2"/><circle cx="1043.6" cy="1813.7" r="5.2"/><circle cx="1020.2" cy="1813.7" r="5.2"/><circle cx="1043.0" cy="1813.7" r="5.2"/><circle cx="1030.6" cy="1813.7" r="5.2"/><circle cx="1031.9" cy="1813.7" r="5.2"/><circle cx="1025.4" cy="1813.7" r="5.2"/><circle cx="1042.3" cy="1813.7" r="5.2"/><circle cx="1027.3" cy="1813.7" r="5.2"/><circle cx="1027.6" cy="1813.7" r="5.2"/><circle cx="1023.3" cy="1813.7" r="5.2"/><circle cx="1015.2" cy="1813.7" r="5.2"/><circle cx="1034.3" cy="1813.7" r="5.2"/><circle cx="1032.7" cy="1813.7" r="5.2"/><circle cx="1041.1" cy="1813.7" r="5.2"/><circle cx="1044.5" cy="1813.7" r="5.2"/><circle cx="1044.0" cy="1813.7" r="5.2"/><circle cx="1018.9" cy="1813.7" r="5.2"/><circle cx="1030.0" cy="1813.7" r="5.2"/><circle cx="1016.8" cy="1813.7" r="5.2"/><circle cx="1035.1" cy="1813.7" r="5.2"/></g><g fill="#FF9896" stroke="#FF9896"><circle cx="1055.7" cy="1813.7" r="5.2"/><circle cx="1086.3" cy="1813.7" r="5.2"/><circle cx="1055.7" cy="1813.7" r="5.2"/><circle cx="1071.0" cy="1739.2" r="5.2"/><circle cx="1086.0" cy="1813.7" r="5.2"/><circle cx="1056.1" cy="1813.7" r="5.2"/><circle cx="1086.2" cy="1813.7" r="5.2"/><circle cx="1056.3" cy="1813.7" r="5.2"/><circle cx="1056.2" cy="1813.7" r="5.2"/><circle cx="1081.0" cy="1813.7" r="5.2"/><circle cx="1082.4" cy="1813.7" r="5.2"/><circle cx="1076.0" cy="1813.7" r="5.2"/><circle cx="1056.8" cy="1813.7" r="5.2"/><circle cx="1085.9" cy="1813.7" r="5.2"/><circle cx="1076.5" cy="1813.7" r="5.2"/><circle cx="1066.2" cy="1813.7" r="5.2"/><circle cx="1076.8" cy="1813.7" r="5.2"/><circle cx="1056.7" cy="1813.7" r="5.2"/><circle cx="1058.5" cy="1813.7" r="5.2"/><circle cx="1085.0" cy="1813.7" r="5.2"/><circle cx="1082.5" cy="1813.7" r="5.2"/><circle cx="1082.8" cy="1813.7" r="5.2"/><circle cx="1066.8" cy="1813.7" r="5.2"/><circle cx="1055.8" cy="1813.7" r="5.2"/><circle cx="1059.8" cy="1813.7" r="5.2"/><circle cx="1072.3" cy="1813.7" r="5.2"/><circle cx="1074.5" cy="1813.7" r="5.2"/><circle cx="1079.1" cy="1813.7" r="5.2"/><circle cx="1061.0" cy="1813.7" r="5.2"/><circle cx="1078.3" cy="1813.7" r="5.2"/><circle cx="1072.2" cy="1813.7" r="5.2"/><circle cx="1071.0" cy="1710.9" r="5.2"/><circle cx="1083.9" cy="1813.7" r="5.2"/><circle cx="1078.9" cy="1813.7" r="5.2"/><circle cx="1062.7" cy="1813.7" r="5.2"/><circle cx="1084.7" cy="1813.7" r="5.2"/><circle cx="1063.4" cy="1813.7" r="5.2"/><circle cx="1070.5" cy="1813.7" r="5.2"/><circle cx="1067.0" cy="1813.7" r="5.2"/><circle cx="1071.1" cy="1813.7" r="5.2"/><circle cx="1070.3" cy="1813.7" r="5.2"/><circle cx="1085.2" cy="1813.7" r="5.2"/><circle cx="1074.8" cy="1813.7" r="5.2"/><circle cx="1069.1" cy="1813.7" r="5.2"/><circle cx="1063.9" cy="1813.7" r="5.2"/><circle cx="1068.2" cy="1813.7" r="5.2"/><circle cx="1057.8" cy="1813.7" r="5.2"/><circle cx="1061.6" cy="1813.7" r="5.2"/><circle cx="1085.8" cy="1813.7" r="5.2"/></g><g fill="#9467BD" stroke="#9467BD"><circle cx="1112.5" cy="1767.5" r="5.2"/><circle cx="1127.5" cy="1813.7" r="5.2"/><circle cx="1112.4" cy="1743.7" r="5.2"/><circle cx="1127.4" cy="1813.7" r="5.2"/><circle cx="1097.3" cy="1813.7" r="5.2"/><circle cx="1097.5" cy="1813.7" r="5.2"/><circle cx="1097.9" cy="1813.7" r="5.2"/><circle cx="1097.7" cy="1813.7" r="5.2"/><circle cx="1112.5" cy="1713.9" r="5.2"/><circle cx="1099.0" cy="1813.7" r="5.2"/><circle cx="1097.2" cy="1813.7" r="5.2"/><circle cx="1109.4" cy="1813.7" r="5.2"/><circle cx="1121.5" cy="1813.7" r="5.2"/><circle cx="1110.9" cy="1813.7" r="5.2"/><circle cx="1102.8" cy="1813.7" r="5.2"/><circle cx="1103.3" cy="1813.7" r="5.2"/><circle cx="1101.7" cy="1813.7" r="5.2"/><circle cx="1114.6" cy="1813.7" r="5.2"/><circle cx="1122.2" cy="1813.7" r="5.2"/><circle cx="1100.5" cy="1813.7" r="5.2"/><circle cx="1109.7" cy="1813.7" r="5.2"/><circle cx="1107.9" cy="1813.7" r="5.2"/><circle cx="1117.7" cy="1813.7" r="5.2"/><circle cx="1127.0" cy="1813.7" r="5.2"/><circle cx="1118.0" cy="1813.7" r="5.2"/><circle cx="1112.6" cy="1813.7" r="5.2"/><circle cx="1099.5" cy="1813.7" r="5.2"/><circle cx="1112.7" cy="1813.7" r="5.2"/><circle cx="1104.3" cy="1813.7" r="5.2"/><circle cx="1115.1" cy="1813.7" r="5.2"/><circle cx="1110.7" cy="1813.7" r="5.2"/><circle cx="1105.7" cy="1813.7" r="5.2"/><circle cx="1123.6" cy="1813.7" r="5.2"/><circle cx="1106.7" cy="1813.7" r="5.2"/><circle cx="1123.0" cy="1813.7" r="5.2"/><circle cx="1125.9" cy="1813.7" r="5.2"/><circle cx="1101.4" cy="1813.7" r="5.2"/><circle cx="1126.9" cy="1813.7" r="5.2"/><circle cx="1106.3" cy="1813.7" r="5.2"/><circle cx="1105.2" cy="1813.7" r="5.2"/><circle cx="1123.3" cy="1813.7" r="5.2"/><circle cx="1114.7" cy="1813.7" r="5.2"/><circle cx="1127.6" cy="1813.7" r="5.2"/><circle cx="1126.7" cy="1813.7" r="5.2"/><circle cx="1118.6" cy="1813.7" r="5.2"/><circle cx="1125.2" cy="1813.7" r="5.2"/><circle cx="1120.4" cy="1813.7" r="5.2"/><circle cx="1106.9" cy="1813.7" r="5.2"/><circle cx="1098.7" cy="1813.7" r="5.2"/></g><g fill="#C5B0D5" stroke="#C5B0D5"><circle cx="1153.7" cy="1738.8" r="5.2"/><circle cx="1153.8" cy="1736.2" r="5.2"/><circle cx="1169.0" cy="1813.7" r="5.2"/><circle cx="1153.9" cy="1708.0" r="5.2"/><circle cx="1169.1" cy="1813.7" r="5.2"/><circle cx="1153.8" cy="1729.7" r="5.2"/><circle cx="1138.6" cy="1813.7" r="5.2"/><circle cx="1168.5" cy="1813.7" r="5.2"/><circle cx="1168.8" cy="1813.7" r="5.2"/><circle cx="1139.2" cy="1813.7" r="5.2"/><circle cx="1139.5" cy="1813.7" r="5.2"/><circle cx="1141.0" cy="1813.7" r="5.2"/><circle cx="1154.0" cy="1738.7" r="5.2"/><circle cx="1167.6" cy="1813.7" r="5.2"/><circle cx="1142.0" cy="1813.7" r="5.2"/><circle cx="1165.0" cy="1813.7" r="5.2"/><circle cx="1168.6" cy="1813.7" r="5.2"/><circle cx="1138.8" cy="1813.7" r="5.2"/><circle cx="1147.4" cy="1813.7" r="5.2"/><circle cx="1150.3" cy="1813.7" r="5.2"/><circle cx="1161.1" cy="1813.7" r="5.2"/><circle cx="1159.1" cy="1813.7" r="5.2"/><circle cx="1158.2" cy="1813.7" r="5.2"/><circle cx="1168.1" cy="1813.7" r="5.2"/><circle cx="1154.0" cy="1730.1" r="5.2"/><circle cx="1139.7" cy="1813.7" r="5.2"/><circle cx="1155.8" cy="1813.7" r="5.2"/><circle cx="1166.7" cy="1813.7" r="5.2"/><circle cx="1162.5" cy="1813.7" r="5.2"/><circle cx="1160.9" cy="1813.7" r="5.2"/><circle cx="1150.7" cy="1813.7" r="5.2"/><circle cx="1148.9" cy="1813.7" r="5.2"/><circle cx="1149.1" cy="1813.7" r="5.2"/><circle cx="1165.2" cy="1813.7" r="5.2"/><circle cx="1143.3" cy="1813.7" r="5.2"/><circle cx="1155.5" cy="1813.7" r="5.2"/><circle cx="1148.7" cy="1813.7" r="5.2"/><circle cx="1163.7" cy="1813.7" r="5.2"/><circle cx="1143.8" cy="1813.7" r="5.2"/><circle cx="1152.2" cy="1813.7" r="5.2"/><circle cx="1157.8" cy="1813.7" r="5.2"/><circle cx="1163.5" cy="1813.7" r="5.2"/><circle cx="1147.8" cy="1813.7" r="5.2"/><circle cx="1154.0" cy="1742.6" r="5.2"/><circle cx="1153.7" cy="1813.7" r="5.2"/><circle cx="1143.7" cy="1813.7" r="5.2"/><circle cx="1163.3" cy="1813.7" r="5.2"/><circle cx="1139.0" cy="1813.7" r="5.2"/><circle cx="1145.6" cy="1813.7" r="5.2"/><circle cx="1144.9" cy="1813.7" r="5.2"/><circle cx="1154.2" cy="1813.7" r="5.2"/></g><g fill="#8C564B" stroke="#8C564B"><circle cx="1191.8" cy="1813.7" r="5.2"/><circle cx="1195.4" cy="1770.5" r="5.2"/><circle cx="1180.2" cy="1813.7" r="5.2"/><circle cx="1210.3" cy="1813.7" r="5.2"/><circle cx="1193.7" cy="1813.7" r="5.2"/><circle cx="1199.2" cy="1813.7" r="5.2"/><circle cx="1209.8" cy="1813.7" r="5.2"/><circle cx="1200.7" cy="1813.7" r="5.2"/><circle cx="1189.6" cy="1813.7" r="5.2"/><circle cx="1201.6" cy="1813.7" r="5.2"/><circle cx="1194.9" cy="1813.7" r="5.2"/><circle cx="1209.3" cy="1813.7" r="5.2"/><circle cx="1195.3" cy="1758.6" r="5.2"/><circle cx="1180.9" cy="1813.7" r="5.2"/><circle cx="1196.8" cy="1813.7" r="5.2"/><circle cx="1207.4" cy="1813.7" r="5.2"/><circle cx="1200.2" cy="1813.7" r="5.2"/><circle cx="1184.8" cy="1813.7" r="5.2"/><circle cx="1181.9" cy="1813.7" r="5.2"/><circle cx="1209.1" cy="1813.7" r="5.2"/><circle cx="1188.6" cy="1813.7" r="5.2"/><circle cx="1186.2" cy="1813.7" r="5.2"/><circle cx="1203.1" cy="1813.7" r="5.2"/><circle cx="1184.3" cy="1813.7" r="5.2"/><circle cx="1195.6" cy="1813.7" r="5.2"/><circle cx="1190.1" cy="1813.7" r="5.2"/><circle cx="1187.2" cy="1813.7" r="5.2"/><circle cx="1191.5" cy="1813.7" r="5.2"/><circle cx="1195.9" cy="1813.7" r="5.2"/><circle cx="1181.2" cy="1813.7" r="5.2"/><circle cx="1197.3" cy="1813.7" r="5.2"/><circle cx="1196.3" cy="1813.7" r="5.2"/><circle cx="1194.4" cy="1813.7" r="5.2"/><circle cx="1203.6" cy="1813.7" r="5.2"/><circle cx="1188.2" cy="1813.7" r="5.2"/><circle cx="1206.0" cy="1813.7" r="5.2"/><circle cx="1203.3" cy="1813.7" r="5.2"/><circle cx="1183.8" cy="1813.7" r="5.2"/><circle cx="1180.5" cy="1813.7" r="5.2"/><circle cx="1205.0" cy="1813.7" r="5.2"/><circle cx="1208.4" cy="1813.7" r="5.2"/></g><g fill="#C49C94" stroke="#C49C94"><circle cx="1237.2" cy="1725.5" r="5.2"/><circle cx="1236.9" cy="1724.6" r="5.2"/><circle cx="1237.1" cy="1732.0" r="5.2"/><circle cx="1236.5" cy="1730.5" r="5.2"/><circle cx="1236.5" cy="1724.7" r="5.2"/><circle cx="1236.6" cy="1733.9" r="5.2"/><circle cx="1237.0" cy="1752.6" r="5.2"/><circle cx="1236.7" cy="1713.9" r="5.2"/><circle cx="1251.8" cy="1813.7" r="5.2"/><circle cx="1236.6" cy="1748.2" r="5.2"/><circle cx="1236.8" cy="1663.3" r="5.2"/><circle cx="1236.7" cy="1727.9" r="5.2"/><circle cx="1237.0" cy="1729.5" r="5.2"/><circle cx="1221.5" cy="1813.7" r="5.2"/><circle cx="1236.9" cy="1694.5" r="5.2"/><circle cx="1252.1" cy="1813.7" r="5.2"/><circle cx="1236.9" cy="1672.2" r="5.2"/><circle cx="1221.6" cy="1813.7" r="5.2"/><circle cx="1221.7" cy="1813.7" r="5.2"/><circle cx="1252.0" cy="1813.7" r="5.2"/><circle cx="1236.9" cy="1737.2" r="5.2"/><circle cx="1237.1" cy="1715.6" r="5.2"/><circle cx="1236.8" cy="1679.7" r="5.2"/><circle cx="1251.0" cy="1813.7" r="5.2"/><circle cx="1251.3" cy="1813.7" r="5.2"/><circle cx="1222.2" cy="1813.7" r="5.2"/><circle cx="1249.2" cy="1813.7" r="5.2"/><circle cx="1222.0" cy="1813.7" r="5.2"/><circle cx="1222.3" cy="1813.7" r="5.2"/><circle cx="1250.4" cy="1813.7" r="5.2"/><circle cx="1236.7" cy="1716.9" r="5.2"/><circle cx="1222.9" cy="1813.7" r="5.2"/><circle cx="1222.5" cy="1813.7" r="5.2"/><circle cx="1234.4" cy="1813.7" r="5.2"/><circle cx="1241.9" cy="1813.7" r="5.2"/><circle cx="1248.6" cy="1813.7" r="5.2"/><circle cx="1243.9" cy="1813.7" r="5.2"/><circle cx="1231.1" cy="1813.7" r="5.2"/><circle cx="1241.4" cy="1813.7" r="5.2"/><circle cx="1232.4" cy="1813.7" r="5.2"/><circle cx="1243.7" cy="1813.7" r="5.2"/><circle cx="1224.6" cy="1813.7" r="5.2"/><circle cx="1226.1" cy="1813.7" r="5.2"/><circle cx="1229.7" cy="1813.7" r="5.2"/><circle cx="1239.7" cy="1813.7" r="5.2"/><circle cx="1246.2" cy="1813.7" r="5.2"/><circle cx="1238.4" cy="1813.7" r="5.2"/><circle cx="1245.7" cy="1813.7" r="5.2"/><circle cx="1247.8" cy="1813.7" r="5.2"/><circle cx="1227.7" cy="1813.7" r="5.2"/><circle cx="1239.1" cy="1813.7" r="5.2"/><circle cx="1223.2" cy="1813.7" r="5.2"/><circle cx="1247.5" cy="1813.7" r="5.2"/><circle cx="1225.2" cy="1813.7" r="5.2"/><circle cx="1236.9" cy="1813.7" r="5.2"/><circle cx="1234.5" cy="1813.7" r="5.2"/><circle cx="1227.0" cy="1813.7" r="5.2"/><circle cx="1233.6" cy="1813.7" r="5.2"/><circle cx="1228.9" cy="1813.7" r="5.2"/><circle cx="1238.1" cy="1813.7" r="5.2"/><circle cx="1248.0" cy="1813.7" r="5.2"/><circle cx="1243.9" cy="1813.7" r="5.2"/><circle cx="1247.1" cy="1813.7" r="5.2"/><circle cx="1250.7" cy="1813.7" r="5.2"/></g><g fill="#E377C2" stroke="#E377C2"><circle cx="1263.1" cy="1813.7" r="5.2"/><circle cx="1278.3" cy="1737.7" r="5.2"/><circle cx="1263.4" cy="1813.7" r="5.2"/><circle cx="1293.2" cy="1813.7" r="5.2"/><circle cx="1293.5" cy="1813.7" r="5.2"/><circle cx="1293.0" cy="1813.7" r="5.2"/><circle cx="1278.3" cy="1727.3" r="5.2"/><circle cx="1292.5" cy="1813.7" r="5.2"/><circle cx="1291.3" cy="1813.7" r="5.2"/><circle cx="1285.2" cy="1813.7" r="5.2"/><circle cx="1263.9" cy="1813.7" r="5.2"/><circle cx="1277.1" cy="1813.7" r="5.2"/><circle cx="1285.5" cy="1813.7" r="5.2"/><circle cx="1277.0" cy="1813.7" r="5.2"/><circle cx="1263.5" cy="1813.7" r="5.2"/><circle cx="1275.5" cy="1813.7" r="5.2"/><circle cx="1278.5" cy="1813.7" r="5.2"/><circle cx="1264.1" cy="1813.7" r="5.2"/><circle cx="1286.2" cy="1813.7" r="5.2"/><circle cx="1287.0" cy="1813.7" r="5.2"/><circle cx="1287.9" cy="1813.7" r="5.2"/><circle cx="1263.0" cy="1813.7" r="5.2"/><circle cx="1290.9" cy="1813.7" r="5.2"/><circle cx="1287.2" cy="1813.7" r="5.2"/><circle cx="1280.7" cy="1813.7" r="5.2"/><circle cx="1290.1" cy="1813.7" r="5.2"/><circle cx="1269.8" cy="1813.7" r="5.2"/><circle cx="1272.3" cy="1813.7" r="5.2"/><circle cx="1292.7" cy="1813.7" r="5.2"/><circle cx="1268.2" cy="1813.7" r="5.2"/><circle cx="1282.9" cy="1813.7" r="5.2"/><circle cx="1274.6" cy="1813.7" r="5.2"/><circle cx="1265.4" cy="1813.7" r="5.2"/><circle cx="1270.4" cy="1813.7" r="5.2"/><circle cx="1265.9" cy="1813.7" r="5.2"/><circle cx="1274.7" cy="1813.7" r="5.2"/><circle cx="1279.7" cy="1813.7" r="5.2"/><circle cx="1291.0" cy="1813.7" r="5.2"/><circle cx="1268.7" cy="1813.7" r="5.2"/><circle cx="1282.6" cy="1813.7" r="5.2"/><circle cx="1272.5" cy="1813.7" r="5.2"/><circle cx="1281.7" cy="1813.7" r="5.2"/><circle cx="1273.6" cy="1813.7" r="5.2"/><circle cx="1282.4" cy="1813.7" r="5.2"/></g><g fill="#F7B6D2" stroke="#F7B6D2"><circle cx="1304.8" cy="1813.7" r="5.2"/><circle cx="1306.3" cy="1813.7" r="5.2"/><circle cx="1307.2" cy="1813.7" r="5.2"/><circle cx="1333.7" cy="1813.7" r="5.2"/><circle cx="1333.2" cy="1813.7" r="5.2"/><circle cx="1308.2" cy="1813.7" r="5.2"/><circle cx="1305.3" cy="1813.7" r="5.2"/><circle cx="1332.3" cy="1813.7" r="5.2"/><circle cx="1309.6" cy="1813.7" r="5.2"/><circle cx="1330.3" cy="1813.7" r="5.2"/><circle cx="1316.4" cy="1813.7" r="5.2"/><circle cx="1308.7" cy="1813.7" r="5.2"/><circle cx="1318.8" cy="1813.7" r="5.2"/><circle cx="1319.8" cy="1813.7" r="5.2"/><circle cx="1315.4" cy="1813.7" r="5.2"/><circle cx="1313.5" cy="1813.7" r="5.2"/><circle cx="1326.5" cy="1813.7" r="5.2"/><circle cx="1325.5" cy="1813.7" r="5.2"/><circle cx="1314.9" cy="1813.7" r="5.2"/><circle cx="1332.7" cy="1813.7" r="5.2"/><circle cx="1312.5" cy="1813.7" r="5.2"/><circle cx="1325.0" cy="1813.7" r="5.2"/><circle cx="1320.2" cy="1813.7" r="5.2"/><circle cx="1322.6" cy="1813.7" r="5.2"/><circle cx="1328.9" cy="1813.7" r="5.2"/><circle cx="1311.6" cy="1813.7" r="5.2"/><circle cx="1321.2" cy="1813.7" r="5.2"/><circle cx="1331.3" cy="1813.7" r="5.2"/><circle cx="1305.8" cy="1813.7" r="5.2"/><circle cx="1334.2" cy="1813.7" r="5.2"/><circle cx="1317.8" cy="1813.7" r="5.2"/><circle cx="1310.6" cy="1813.7" r="5.2"/><circle cx="1328.4" cy="1813.7" r="5.2"/><circle cx="1321.7" cy="1813.7" r="5.2"/><circle cx="1314.0" cy="1813.7" r="5.2"/><circle cx="1323.1" cy="1813.7" r="5.2"/></g><g fill="#7F7F7F" stroke="#7F7F7F"><circle cx="1361.4" cy="1773.5" r="5.2"/><circle cx="1346.5" cy="1813.7" r="5.2"/><circle cx="1361.2" cy="1755.6" r="5.2"/><circle cx="1375.9" cy="1813.7" r="5.2"/><circle cx="1347.0" cy="1813.7" r="5.2"/><circle cx="1361.0" cy="1769.0" r="5.2"/><circle cx="1370.1" cy="1813.7" r="5.2"/><circle cx="1360.0" cy="1813.7" r="5.2"/><circle cx="1346.3" cy="1813.7" r="5.2"/><circle cx="1348.0" cy="1813.7" r="5.2"/><circle cx="1347.7" cy="1813.7" r="5.2"/><circle cx="1346.1" cy="1813.7" r="5.2"/><circle cx="1349.7" cy="1813.7" r="5.2"/><circle cx="1362.4" cy="1813.7" r="5.2"/><circle cx="1358.8" cy="1813.7" r="5.2"/><circle cx="1363.1" cy="1813.7" r="5.2"/><circle cx="1354.2" cy="1813.7" r="5.2"/><circle cx="1364.6" cy="1813.7" r="5.2"/><circle cx="1349.9" cy="1813.7" r="5.2"/><circle cx="1376.1" cy="1813.7" r="5.2"/><circle cx="1372.3" cy="1813.7" r="5.2"/><circle cx="1367.0" cy="1813.7" r="5.2"/><circle cx="1357.6" cy="1813.7" r="5.2"/><circle cx="1373.7" cy="1813.7" r="5.2"/><circle cx="1367.7" cy="1813.7" r="5.2"/><circle cx="1351.1" cy="1813.7" r="5.2"/><circle cx="1366.0" cy="1813.7" r="5.2"/><circle cx="1375.7" cy="1813.7" r="5.2"/><circle cx="1369.9" cy="1813.7" r="5.2"/><circle cx="1352.6" cy="1813.7" r="5.2"/><circle cx="1372.8" cy="1813.7" r="5.2"/><circle cx="1354.5" cy="1813.7" r="5.2"/><circle cx="1372.0" cy="1813.7" r="5.2"/><circle cx="1348.5" cy="1813.7" r="5.2"/><circle cx="1361.2" cy="1813.7" r="5.2"/><circle cx="1356.2" cy="1813.7" r="5.2"/><circle cx="1355.7" cy="1813.7" r="5.2"/></g><g fill="#C7C7C7" stroke="#C7C7C7"><circle cx="1415.2" cy="1813.7" r="5.2"/><circle cx="1408.5" cy="1813.7" r="5.2"/><circle cx="1402.7" cy="1813.7" r="5.2"/><circle cx="1409.4" cy="1813.7" r="5.2"/><circle cx="1389.2" cy="1813.7" r="5.2"/><circle cx="1412.3" cy="1813.7" r="5.2"/><circle cx="1397.9" cy="1813.7" r="5.2"/><circle cx="1390.2" cy="1813.7" r="5.2"/><circle cx="1395.0" cy="1813.7" r="5.2"/><circle cx="1392.1" cy="1813.7" r="5.2"/><circle cx="1405.6" cy="1813.7" r="5.2"/><circle cx="1416.2" cy="1813.7" r="5.2"/><circle cx="1396.9" cy="1813.7" r="5.2"/><circle cx="1406.5" cy="1813.7" r="5.2"/><circle cx="1394.0" cy="1813.7" r="5.2"/><circle cx="1411.3" cy="1813.7" r="5.2"/><circle cx="1400.8" cy="1813.7" r="5.2"/><circle cx="1413.3" cy="1813.7" r="5.2"/><circle cx="1414.2" cy="1813.7" r="5.2"/><circle cx="1403.6" cy="1813.7" r="5.2"/><circle cx="1399.8" cy="1813.7" r="5.2"/><circle cx="1388.2" cy="1813.7" r="5.2"/><circle cx="1404.6" cy="1813.7" r="5.2"/><circle cx="1407.5" cy="1813.7" r="5.2"/><circle cx="1391.1" cy="1813.7" r="5.2"/><circle cx="1393.1" cy="1813.7" r="5.2"/></g></g><line x1="71.5" y1="46.7" x2="71.5" y2="614.7" stroke="#000" stroke-width="3"/><line x1="64.5" y1="587.3" x2="71.5" y2="587.3" stroke="#000" stroke-width="2.7"/><text x="58.6" y="595.4" class="yt">0</text><line x1="64.5" y1="438.4" x2="71.5" y2="438.4" stroke="#000" stroke-width="2.7"/><text x="58.6" y="446.5" class="yt">2</text><line x1="64.5" y1="289.4" x2="71.5" y2="289.4" stroke="#000" stroke-width="2.7"/><text x="58.6" y="297.5" class="yt">4</text><line x1="64.5" y1="140.5" x2="71.5" y2="140.5" stroke="#000" stroke-width="2.7"/><text x="58.6" y="148.6" class="yt">6</text><line x1="71.5" y1="660.1" x2="71.5" y2="1227.9" stroke="#000" stroke-width="3"/><line x1="64.5" y1="1200.5" x2="71.5" y2="1200.5" stroke="#000" stroke-width="2.7"/><text x="58.6" y="1208.6" class="yt">0</text><line x1="64.5" y1="1051.6" x2="71.5" y2="1051.6" stroke="#000" stroke-width="2.7"/><text x="58.6" y="1059.7" class="yt">2</text><line x1="64.5" y1="902.6" x2="71.5" y2="902.6" stroke="#000" stroke-width="2.7"/><text x="58.6" y="910.7" class="yt">4</text><line x1="64.5" y1="753.7" x2="71.5" y2="753.7" stroke="#000" stroke-width="2.7"/><text x="58.6" y="761.8" class="yt">6</text><line x1="71.5" y1="1273.5" x2="71.5" y2="1842.6" stroke="#000" stroke-width="3"/><line x1="64.5" y1="1813.7" x2="71.5" y2="1813.7" stroke="#000" stroke-width="2.7"/><text x="58.6" y="1821.8" class="yt">0</text><line x1="64.5" y1="1664.8" x2="71.5" y2="1664.8" stroke="#000" stroke-width="2.7"/><text x="58.6" y="1672.9" class="yt">2</text><line x1="64.5" y1="1515.8" x2="71.5" y2="1515.8" stroke="#000" stroke-width="2.7"/><text x="58.6" y="1523.9" class="yt">4</text><line x1="64.5" y1="1366.9" x2="71.5" y2="1366.9" stroke="#000" stroke-width="2.7"/><text x="58.6" y="1375.0" class="yt">6</text><line x1="70.0" y1="1839.6" x2="744.1" y2="1839.6" stroke="#000" stroke-width="3"/><line x1="96.1" y1="1839.6" x2="96.1" y2="1846.5" stroke="#000" stroke-width="2.7"/><text x="96.1" y="1868.9" class="xt">1</text><line x1="137.6" y1="1839.6" x2="137.6" y2="1846.5" stroke="#000" stroke-width="2.7"/><text x="137.6" y="1868.9" class="xt">2</text><line x1="179.0" y1="1839.6" x2="179.0" y2="1846.5" stroke="#000" stroke-width="2.7"/><text x="179.0" y="1868.9" class="xt">3</text><line x1="220.5" y1="1839.6" x2="220.5" y2="1846.5" stroke="#000" stroke-width="2.7"/><text x="220.5" y="1868.9" class="xt">4</text><line x1="262.0" y1="1839.6" x2="262.0" y2="1846.5" stroke="#000" stroke-width="2.7"/><text x="262.0" y="1868.9" class="xt">5</text><line x1="303.4" y1="1839.6" x2="303.4" y2="1846.5" stroke="#000" stroke-width="2.7"/><text x="303.4" y="1868.9" class="xt">6</text><line x1="344.9" y1="1839.6" x2="344.9" y2="1846.5" stroke="#000" stroke-width="2.7"/><text x="344.9" y="1868.9" class="xt">7</text><line x1="386.3" y1="1839.6" x2="386.3" y2="1846.5" stroke="#000" stroke-width="2.7"/><text x="386.3" y="1868.9" class="xt">8</text><line x1="427.8" y1="1839.6" x2="427.8" y2="1846.5" stroke="#000" stroke-width="2.7"/><text x="427.8" y="1868.9" class="xt">9</text><line x1="469.3" y1="1839.6" x2="469.3" y2="1846.5" stroke="#000" stroke-width="2.7"/><text x="469.3" y="1868.9" class="xt">10</text><line x1="510.7" y1="1839.6" x2="510.7" y2="1846.5" stroke="#000" stroke-width="2.7"/><text x="510.7" y="1868.9" class="xt">11</text><line x1="552.2" y1="1839.6" x2="552.2" y2="1846.5" stroke="#000" stroke-width="2.7"/><text x="552.2" y="1868.9" class="xt">12</text><line x1="593.6" y1="1839.6" x2="593.6" y2="1846.5" stroke="#000" stroke-width="2.7"/><text x="593.6" y="1868.9" class="xt">13</text><line x1="635.1" y1="1839.6" x2="635.1" y2="1846.5" stroke="#000" stroke-width="2.7"/><text x="635.1" y="1868.9" class="xt">14</text><line x1="676.6" y1="1839.6" x2="676.6" y2="1846.5" stroke="#000" stroke-width="2.7"/><text x="676.6" y="1868.9" class="xt">15</text><line x1="718.0" y1="1839.6" x2="718.0" y2="1846.5" stroke="#000" stroke-width="2.7"/><text x="718.0" y="1868.9" class="xt">16</text><line x1="754.7" y1="1839.6" x2="1428.7" y2="1839.6" stroke="#000" stroke-width="3"/><line x1="780.8" y1="1839.6" x2="780.8" y2="1846.5" stroke="#000" stroke-width="2.7"/><text x="780.8" y="1868.9" class="xt">1</text><line x1="822.2" y1="1839.6" x2="822.2" y2="1846.5" stroke="#000" stroke-width="2.7"/><text x="822.2" y="1868.9" class="xt">2</text><line x1="863.7" y1="1839.6" x2="863.7" y2="1846.5" stroke="#000" stroke-width="2.7"/><text x="863.7" y="1868.9" class="xt">3</text><line x1="905.2" y1="1839.6" x2="905.2" y2="1846.5" stroke="#000" stroke-width="2.7"/><text x="905.2" y="1868.9" class="xt">4</text><line x1="946.6" y1="1839.6" x2="946.6" y2="1846.5" stroke="#000" stroke-width="2.7"/><text x="946.6" y="1868.9" class="xt">5</text><line x1="988.1" y1="1839.6" x2="988.1" y2="1846.5" stroke="#000" stroke-width="2.7"/><text x="988.1" y="1868.9" class="xt">6</text><line x1="1029.5" y1="1839.6" x2="1029.5" y2="1846.5" stroke="#000" stroke-width="2.7"/><text x="1029.5" y="1868.9" class="xt">7</text><line x1="1071.0" y1="1839.6" x2="1071.0" y2="1846.5" stroke="#000" stroke-width="2.7"/><text x="1071.0" y="1868.9" class="xt">8</text><line x1="1112.5" y1="1839.6" x2="1112.5" y2="1846.5" stroke="#000" stroke-width="2.7"/><text x="1112.5" y="1868.9" class="xt">9</text><line x1="1153.9" y1="1839.6" x2="1153.9" y2="1846.5" stroke="#000" stroke-width="2.7"/><text x="1153.9" y="1868.9" class="xt">10</text><line x1="1195.4" y1="1839.6" x2="1195.4" y2="1846.5" stroke="#000" stroke-width="2.7"/><text x="1195.4" y="1868.9" class="xt">11</text><line x1="1236.8" y1="1839.6" x2="1236.8" y2="1846.5" stroke="#000" stroke-width="2.7"/><text x="1236.8" y="1868.9" class="xt">12</text><line x1="1278.3" y1="1839.6" x2="1278.3" y2="1846.5" stroke="#000" stroke-width="2.7"/><text x="1278.3" y="1868.9" class="xt">13</text><line x1="1319.8" y1="1839.6" x2="1319.8" y2="1846.5" stroke="#000" stroke-width="2.7"/><text x="1319.8" y="1868.9" class="xt">14</text><line x1="1361.2" y1="1839.6" x2="1361.2" y2="1846.5" stroke="#000" stroke-width="2.7"/><text x="1361.2" y="1868.9" class="xt">15</text><line x1="1402.7" y1="1839.6" x2="1402.7" y2="1846.5" stroke="#000" stroke-width="2.7"/><text x="1402.7" y="1868.9" class="xt">16</text><text x="749.4" y="1900.5" class="at">label</text><text transform="translate(33.1,936.7) rotate(-90) scale(0.928,1)" class="at">Expression (logcounts)</text><text x="1453.5" y="713.9" class="lt">label</text><circle cx="1468.9" cy="744.5" r="5.2" fill="#1F77B4" stroke="#1F77B4" fill-opacity="0.6" stroke-opacity="0.6" stroke-width="2.0"/><text x="1496" y="752.9" class="ll">1</text><circle cx="1468.9" cy="773.7" r="5.2" fill="#AEC7E8" stroke="#AEC7E8" fill-opacity="0.6" stroke-opacity="0.6" stroke-width="2.0"/><text x="1496" y="782.1" class="ll">2</text><circle cx="1468.9" cy="802.9" r="5.2" fill="#FF7F0E" stroke="#FF7F0E" fill-opacity="0.6" stroke-opacity="0.6" stroke-width="2.0"/><text x="1496" y="811.3" class="ll">3</text><circle cx="1468.9" cy="832.1" r="5.2" fill="#FFBB78" stroke="#FFBB78" fill-opacity="0.6" stroke-opacity="0.6" stroke-width="2.0"/><text x="1496" y="840.5" class="ll">4</text><circle cx="1468.9" cy="861.3" r="5.2" fill="#2CA02C" stroke="#2CA02C" fill-opacity="0.6" stroke-opacity="0.6" stroke-width="2.0"/><text x="1496" y="869.7" class="ll">5</text><circle cx="1468.9" cy="890.5" r="5.2" fill="#98DF8A" stroke="#98DF8A" fill-opacity="0.6" stroke-opacity="0.6" stroke-width="2.0"/><text x="1496" y="898.9" class="ll">6</text><circle cx="1468.9" cy="919.7" r="5.2" fill="#D62728" stroke="#D62728" fill-opacity="0.6" stroke-opacity="0.6" stroke-width="2.0"/><text x="1496" y="928.1" class="ll">7</text><circle cx="1468.9" cy="948.9" r="5.2" fill="#FF9896" stroke="#FF9896" fill-opacity="0.6" stroke-opacity="0.6" stroke-width="2.0"/><text x="1496" y="957.3" class="ll">8</text><circle cx="1468.9" cy="978.1" r="5.2" fill="#9467BD" stroke="#9467BD" fill-opacity="0.6" stroke-opacity="0.6" stroke-width="2.0"/><text x="1496" y="986.5" class="ll">9</text><circle cx="1468.9" cy="1007.3" r="5.2" fill="#C5B0D5" stroke="#C5B0D5" fill-opacity="0.6" stroke-opacity="0.6" stroke-width="2.0"/><text x="1496" y="1015.7" class="ll">10</text><circle cx="1468.9" cy="1036.5" r="5.2" fill="#8C564B" stroke="#8C564B" fill-opacity="0.6" stroke-opacity="0.6" stroke-width="2.0"/><text x="1496" y="1044.9" class="ll">11</text><circle cx="1468.9" cy="1065.7" r="5.2" fill="#C49C94" stroke="#C49C94" fill-opacity="0.6" stroke-opacity="0.6" stroke-width="2.0"/><text x="1496" y="1074.1" class="ll">12</text><circle cx="1468.9" cy="1094.9" r="5.2" fill="#E377C2" stroke="#E377C2" fill-opacity="0.6" stroke-opacity="0.6" stroke-width="2.0"/><text x="1496" y="1103.3" class="ll">13</text><circle cx="1468.9" cy="1124.1" r="5.2" fill="#F7B6D2" stroke="#F7B6D2" fill-opacity="0.6" stroke-opacity="0.6" stroke-width="2.0"/><text x="1496" y="1132.5" class="ll">14</text><circle cx="1468.9" cy="1153.3" r="5.2" fill="#7F7F7F" stroke="#7F7F7F" fill-opacity="0.6" stroke-opacity="0.6" stroke-width="2.0"/><text x="1496" y="1161.7" class="ll">15</text><circle cx="1468.9" cy="1182.5" r="5.2" fill="#C7C7C7" stroke="#C7C7C7" fill-opacity="0.6" stroke-opacity="0.6" stroke-width="2.0"/><text x="1496" y="1190.9" class="ll">16</text>
</svg></body></html>
